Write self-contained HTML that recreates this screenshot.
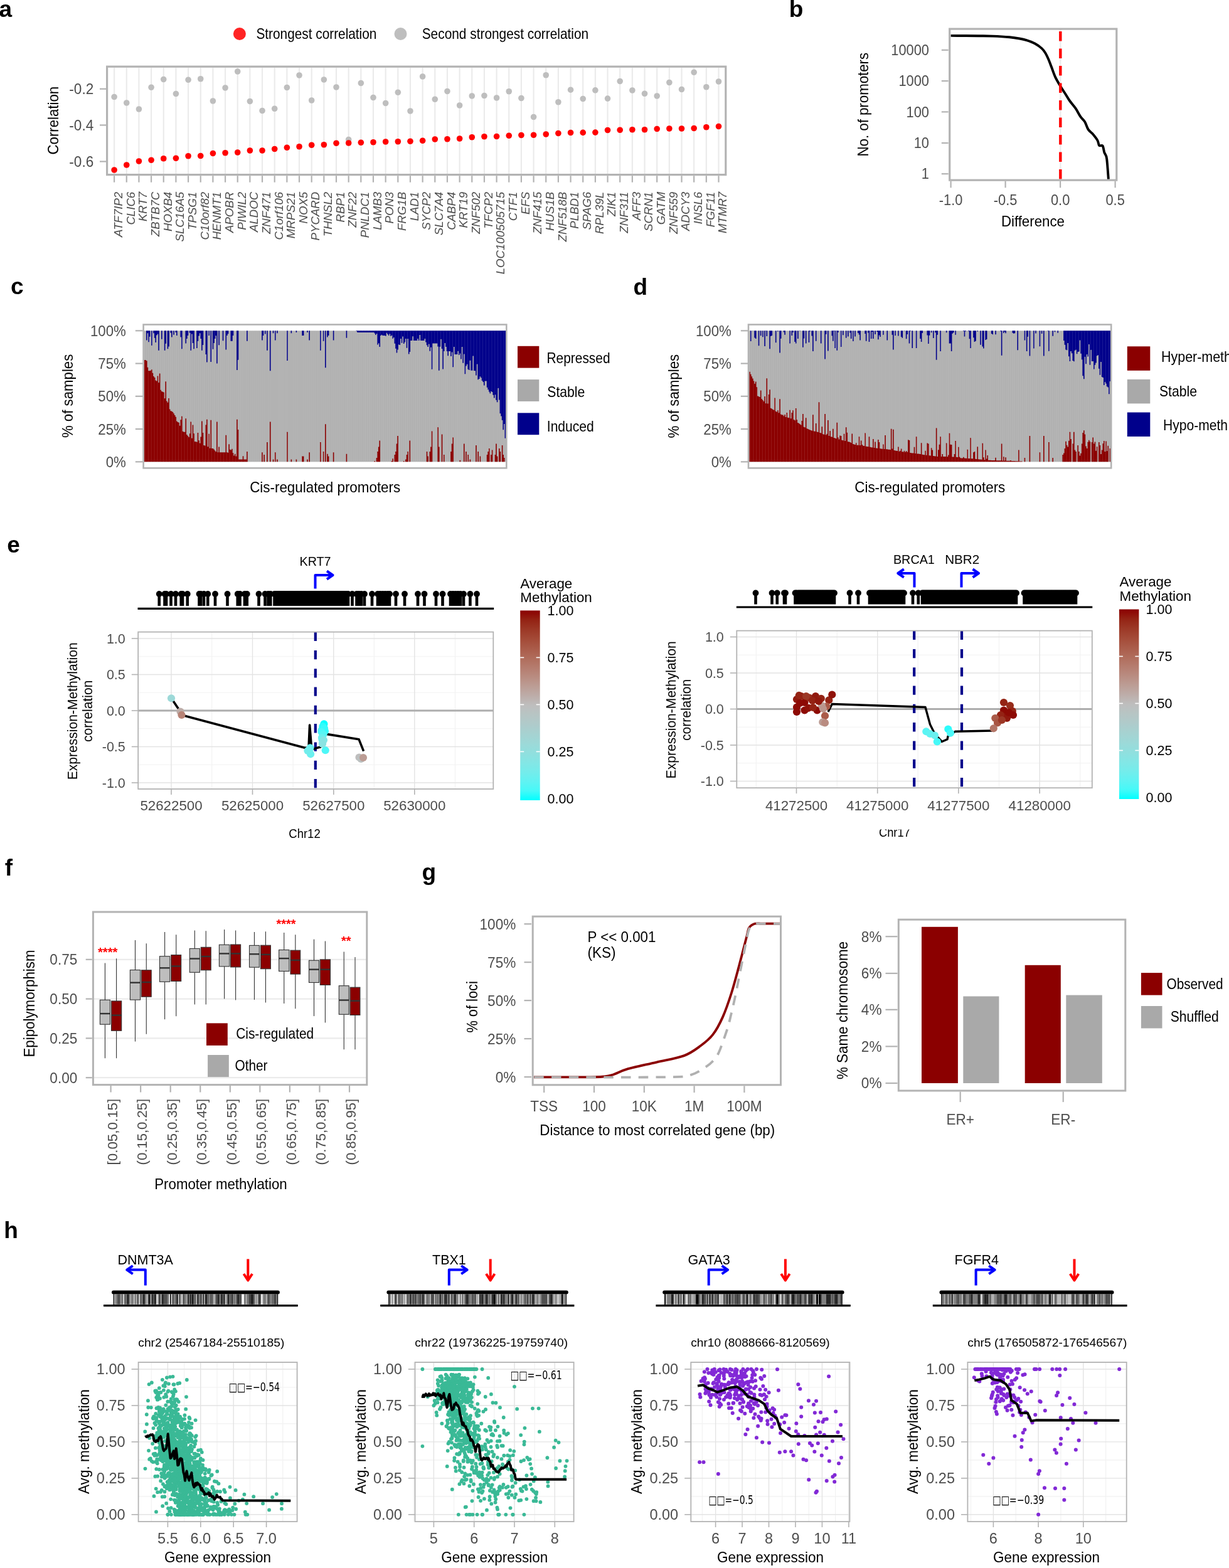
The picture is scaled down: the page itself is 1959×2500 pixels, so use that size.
<!DOCTYPE html>
<html><head><meta charset="utf-8"><title>Figure</title>
<style>html,body{margin:0;padding:0;background:#fff;}svg{display:block;}</style>
</head><body>
<svg width="1959" height="2500" viewBox="0 0 1959 2500" font-family="'Liberation Sans', Arial, Helvetica, sans-serif">
<rect x="0" y="0" width="1959" height="2500" fill="#FFFFFF"/>
<text x="-1.6" y="26.6" font-weight="bold" font-size="37">a</text>
<circle cx="381.9" cy="54" r="10" fill="#FF2424"/>
<text x="408.4" y="62.2" font-size="23.8" textLength="192" lengthAdjust="spacingAndGlyphs">Strongest correlation</text>
<circle cx="638.5" cy="54" r="10" fill="#BEBEBE"/>
<text x="672.7" y="62.2" font-size="23.8" textLength="265.5" lengthAdjust="spacingAndGlyphs">Second strongest correlation</text>
<line x1="182.1" y1="107.7" x2="182.1" y2="277.1" stroke="#EBEBEB" stroke-width="2.2"/>
<line x1="201.76" y1="107.7" x2="201.76" y2="277.1" stroke="#EBEBEB" stroke-width="2.2"/>
<line x1="221.42" y1="107.7" x2="221.42" y2="277.1" stroke="#EBEBEB" stroke-width="2.2"/>
<line x1="241.08" y1="107.7" x2="241.08" y2="277.1" stroke="#EBEBEB" stroke-width="2.2"/>
<line x1="260.74" y1="107.7" x2="260.74" y2="277.1" stroke="#EBEBEB" stroke-width="2.2"/>
<line x1="280.41" y1="107.7" x2="280.41" y2="277.1" stroke="#EBEBEB" stroke-width="2.2"/>
<line x1="300.07" y1="107.7" x2="300.07" y2="277.1" stroke="#EBEBEB" stroke-width="2.2"/>
<line x1="319.73" y1="107.7" x2="319.73" y2="277.1" stroke="#EBEBEB" stroke-width="2.2"/>
<line x1="339.39" y1="107.7" x2="339.39" y2="277.1" stroke="#EBEBEB" stroke-width="2.2"/>
<line x1="359.05" y1="107.7" x2="359.05" y2="277.1" stroke="#EBEBEB" stroke-width="2.2"/>
<line x1="378.71" y1="107.7" x2="378.71" y2="277.1" stroke="#EBEBEB" stroke-width="2.2"/>
<line x1="398.37" y1="107.7" x2="398.37" y2="277.1" stroke="#EBEBEB" stroke-width="2.2"/>
<line x1="418.03" y1="107.7" x2="418.03" y2="277.1" stroke="#EBEBEB" stroke-width="2.2"/>
<line x1="437.7" y1="107.7" x2="437.7" y2="277.1" stroke="#EBEBEB" stroke-width="2.2"/>
<line x1="457.36" y1="107.7" x2="457.36" y2="277.1" stroke="#EBEBEB" stroke-width="2.2"/>
<line x1="477.02" y1="107.7" x2="477.02" y2="277.1" stroke="#EBEBEB" stroke-width="2.2"/>
<line x1="496.68" y1="107.7" x2="496.68" y2="277.1" stroke="#EBEBEB" stroke-width="2.2"/>
<line x1="516.34" y1="107.7" x2="516.34" y2="277.1" stroke="#EBEBEB" stroke-width="2.2"/>
<line x1="536" y1="107.7" x2="536" y2="277.1" stroke="#EBEBEB" stroke-width="2.2"/>
<line x1="555.66" y1="107.7" x2="555.66" y2="277.1" stroke="#EBEBEB" stroke-width="2.2"/>
<line x1="575.32" y1="107.7" x2="575.32" y2="277.1" stroke="#EBEBEB" stroke-width="2.2"/>
<line x1="594.99" y1="107.7" x2="594.99" y2="277.1" stroke="#EBEBEB" stroke-width="2.2"/>
<line x1="614.65" y1="107.7" x2="614.65" y2="277.1" stroke="#EBEBEB" stroke-width="2.2"/>
<line x1="634.31" y1="107.7" x2="634.31" y2="277.1" stroke="#EBEBEB" stroke-width="2.2"/>
<line x1="653.97" y1="107.7" x2="653.97" y2="277.1" stroke="#EBEBEB" stroke-width="2.2"/>
<line x1="673.63" y1="107.7" x2="673.63" y2="277.1" stroke="#EBEBEB" stroke-width="2.2"/>
<line x1="693.29" y1="107.7" x2="693.29" y2="277.1" stroke="#EBEBEB" stroke-width="2.2"/>
<line x1="712.95" y1="107.7" x2="712.95" y2="277.1" stroke="#EBEBEB" stroke-width="2.2"/>
<line x1="732.61" y1="107.7" x2="732.61" y2="277.1" stroke="#EBEBEB" stroke-width="2.2"/>
<line x1="752.28" y1="107.7" x2="752.28" y2="277.1" stroke="#EBEBEB" stroke-width="2.2"/>
<line x1="771.94" y1="107.7" x2="771.94" y2="277.1" stroke="#EBEBEB" stroke-width="2.2"/>
<line x1="791.6" y1="107.7" x2="791.6" y2="277.1" stroke="#EBEBEB" stroke-width="2.2"/>
<line x1="811.26" y1="107.7" x2="811.26" y2="277.1" stroke="#EBEBEB" stroke-width="2.2"/>
<line x1="830.92" y1="107.7" x2="830.92" y2="277.1" stroke="#EBEBEB" stroke-width="2.2"/>
<line x1="850.58" y1="107.7" x2="850.58" y2="277.1" stroke="#EBEBEB" stroke-width="2.2"/>
<line x1="870.24" y1="107.7" x2="870.24" y2="277.1" stroke="#EBEBEB" stroke-width="2.2"/>
<line x1="889.9" y1="107.7" x2="889.9" y2="277.1" stroke="#EBEBEB" stroke-width="2.2"/>
<line x1="909.57" y1="107.7" x2="909.57" y2="277.1" stroke="#EBEBEB" stroke-width="2.2"/>
<line x1="929.23" y1="107.7" x2="929.23" y2="277.1" stroke="#EBEBEB" stroke-width="2.2"/>
<line x1="948.89" y1="107.7" x2="948.89" y2="277.1" stroke="#EBEBEB" stroke-width="2.2"/>
<line x1="968.55" y1="107.7" x2="968.55" y2="277.1" stroke="#EBEBEB" stroke-width="2.2"/>
<line x1="988.21" y1="107.7" x2="988.21" y2="277.1" stroke="#EBEBEB" stroke-width="2.2"/>
<line x1="1007.87" y1="107.7" x2="1007.87" y2="277.1" stroke="#EBEBEB" stroke-width="2.2"/>
<line x1="1027.53" y1="107.7" x2="1027.53" y2="277.1" stroke="#EBEBEB" stroke-width="2.2"/>
<line x1="1047.19" y1="107.7" x2="1047.19" y2="277.1" stroke="#EBEBEB" stroke-width="2.2"/>
<line x1="1066.86" y1="107.7" x2="1066.86" y2="277.1" stroke="#EBEBEB" stroke-width="2.2"/>
<line x1="1086.52" y1="107.7" x2="1086.52" y2="277.1" stroke="#EBEBEB" stroke-width="2.2"/>
<line x1="1106.18" y1="107.7" x2="1106.18" y2="277.1" stroke="#EBEBEB" stroke-width="2.2"/>
<line x1="1125.84" y1="107.7" x2="1125.84" y2="277.1" stroke="#EBEBEB" stroke-width="2.2"/>
<line x1="1145.5" y1="107.7" x2="1145.5" y2="277.1" stroke="#EBEBEB" stroke-width="2.2"/>
<circle cx="182.1" cy="154.5" r="4.8" fill="#BEBEBE"/>
<circle cx="201.76" cy="164" r="4.8" fill="#BEBEBE"/>
<circle cx="221.42" cy="174" r="4.8" fill="#BEBEBE"/>
<circle cx="241.08" cy="139.25" r="4.8" fill="#BEBEBE"/>
<circle cx="260.74" cy="126.5" r="4.8" fill="#BEBEBE"/>
<circle cx="280.41" cy="149.5" r="4.8" fill="#BEBEBE"/>
<circle cx="300.07" cy="127.25" r="4.8" fill="#BEBEBE"/>
<circle cx="319.73" cy="125.75" r="4.8" fill="#BEBEBE"/>
<circle cx="339.39" cy="161" r="4.8" fill="#BEBEBE"/>
<circle cx="359.05" cy="140" r="4.8" fill="#BEBEBE"/>
<circle cx="378.71" cy="114" r="4.8" fill="#BEBEBE"/>
<circle cx="398.37" cy="161.5" r="4.8" fill="#BEBEBE"/>
<circle cx="418.03" cy="176.5" r="4.8" fill="#BEBEBE"/>
<circle cx="437.7" cy="173.25" r="4.8" fill="#BEBEBE"/>
<circle cx="457.36" cy="139.5" r="4.8" fill="#BEBEBE"/>
<circle cx="477.02" cy="120" r="4.8" fill="#BEBEBE"/>
<circle cx="496.68" cy="160" r="4.8" fill="#BEBEBE"/>
<circle cx="516.34" cy="127" r="4.8" fill="#BEBEBE"/>
<circle cx="536" cy="139" r="4.8" fill="#BEBEBE"/>
<circle cx="555.66" cy="222.5" r="4.8" fill="#BEBEBE"/>
<circle cx="575.32" cy="132.5" r="4.8" fill="#BEBEBE"/>
<circle cx="594.99" cy="155.5" r="4.8" fill="#BEBEBE"/>
<circle cx="614.65" cy="164.5" r="4.8" fill="#BEBEBE"/>
<circle cx="634.31" cy="147.25" r="4.8" fill="#BEBEBE"/>
<circle cx="653.97" cy="177" r="4.8" fill="#BEBEBE"/>
<circle cx="673.63" cy="122" r="4.8" fill="#BEBEBE"/>
<circle cx="693.29" cy="158.25" r="4.8" fill="#BEBEBE"/>
<circle cx="712.95" cy="145.5" r="4.8" fill="#BEBEBE"/>
<circle cx="732.61" cy="168" r="4.8" fill="#BEBEBE"/>
<circle cx="752.28" cy="153" r="4.8" fill="#BEBEBE"/>
<circle cx="771.94" cy="152.5" r="4.8" fill="#BEBEBE"/>
<circle cx="791.6" cy="156" r="4.8" fill="#BEBEBE"/>
<circle cx="811.26" cy="145.75" r="4.8" fill="#BEBEBE"/>
<circle cx="830.92" cy="156.5" r="4.8" fill="#BEBEBE"/>
<circle cx="850.58" cy="186.5" r="4.8" fill="#BEBEBE"/>
<circle cx="870.24" cy="119.75" r="4.8" fill="#BEBEBE"/>
<circle cx="889.9" cy="162.75" r="4.8" fill="#BEBEBE"/>
<circle cx="909.57" cy="143.2" r="4.8" fill="#BEBEBE"/>
<circle cx="929.23" cy="157.5" r="4.8" fill="#BEBEBE"/>
<circle cx="948.89" cy="143.9" r="4.8" fill="#BEBEBE"/>
<circle cx="968.55" cy="157.1" r="4.8" fill="#BEBEBE"/>
<circle cx="988.21" cy="129.5" r="4.8" fill="#BEBEBE"/>
<circle cx="1007.87" cy="144" r="4.8" fill="#BEBEBE"/>
<circle cx="1027.53" cy="149.25" r="4.8" fill="#BEBEBE"/>
<circle cx="1047.19" cy="153" r="4.8" fill="#BEBEBE"/>
<circle cx="1066.86" cy="131.5" r="4.8" fill="#BEBEBE"/>
<circle cx="1086.52" cy="142.5" r="4.8" fill="#BEBEBE"/>
<circle cx="1106.18" cy="115.25" r="4.8" fill="#BEBEBE"/>
<circle cx="1125.84" cy="138.75" r="4.8" fill="#BEBEBE"/>
<circle cx="1145.5" cy="130" r="4.8" fill="#BEBEBE"/>
<circle cx="182.1" cy="271" r="4.8" fill="#FF0000"/>
<circle cx="201.76" cy="263" r="4.8" fill="#FF0000"/>
<circle cx="221.42" cy="257" r="4.8" fill="#FF0000"/>
<circle cx="241.08" cy="255.25" r="4.8" fill="#FF0000"/>
<circle cx="260.74" cy="252.75" r="4.8" fill="#FF0000"/>
<circle cx="280.41" cy="252.25" r="4.8" fill="#FF0000"/>
<circle cx="300.07" cy="248.75" r="4.8" fill="#FF0000"/>
<circle cx="319.73" cy="248.5" r="4.8" fill="#FF0000"/>
<circle cx="339.39" cy="244.5" r="4.8" fill="#FF0000"/>
<circle cx="359.05" cy="243.75" r="4.8" fill="#FF0000"/>
<circle cx="378.71" cy="243" r="4.8" fill="#FF0000"/>
<circle cx="398.37" cy="240" r="4.8" fill="#FF0000"/>
<circle cx="418.03" cy="240" r="4.8" fill="#FF0000"/>
<circle cx="437.7" cy="237.5" r="4.8" fill="#FF0000"/>
<circle cx="457.36" cy="235.25" r="4.8" fill="#FF0000"/>
<circle cx="477.02" cy="233.75" r="4.8" fill="#FF0000"/>
<circle cx="496.68" cy="231.25" r="4.8" fill="#FF0000"/>
<circle cx="516.34" cy="230.75" r="4.8" fill="#FF0000"/>
<circle cx="536" cy="228.25" r="4.8" fill="#FF0000"/>
<circle cx="555.66" cy="228" r="4.8" fill="#FF0000"/>
<circle cx="575.32" cy="227.25" r="4.8" fill="#FF0000"/>
<circle cx="594.99" cy="226.75" r="4.8" fill="#FF0000"/>
<circle cx="614.65" cy="226" r="4.8" fill="#FF0000"/>
<circle cx="634.31" cy="225.75" r="4.8" fill="#FF0000"/>
<circle cx="653.97" cy="225.25" r="4.8" fill="#FF0000"/>
<circle cx="673.63" cy="224.25" r="4.8" fill="#FF0000"/>
<circle cx="693.29" cy="222" r="4.8" fill="#FF0000"/>
<circle cx="712.95" cy="221.75" r="4.8" fill="#FF0000"/>
<circle cx="732.61" cy="221" r="4.8" fill="#FF0000"/>
<circle cx="752.28" cy="218.75" r="4.8" fill="#FF0000"/>
<circle cx="771.94" cy="217.75" r="4.8" fill="#FF0000"/>
<circle cx="791.6" cy="217.5" r="4.8" fill="#FF0000"/>
<circle cx="811.26" cy="216.25" r="4.8" fill="#FF0000"/>
<circle cx="830.92" cy="215.5" r="4.8" fill="#FF0000"/>
<circle cx="850.58" cy="215.25" r="4.8" fill="#FF0000"/>
<circle cx="870.24" cy="214" r="4.8" fill="#FF0000"/>
<circle cx="889.9" cy="212.5" r="4.8" fill="#FF0000"/>
<circle cx="909.57" cy="211.5" r="4.8" fill="#FF0000"/>
<circle cx="929.23" cy="211.4" r="4.8" fill="#FF0000"/>
<circle cx="948.89" cy="211.1" r="4.8" fill="#FF0000"/>
<circle cx="968.55" cy="207.5" r="4.8" fill="#FF0000"/>
<circle cx="988.21" cy="207.25" r="4.8" fill="#FF0000"/>
<circle cx="1007.87" cy="206.75" r="4.8" fill="#FF0000"/>
<circle cx="1027.53" cy="206.75" r="4.8" fill="#FF0000"/>
<circle cx="1047.19" cy="205.5" r="4.8" fill="#FF0000"/>
<circle cx="1066.86" cy="205" r="4.8" fill="#FF0000"/>
<circle cx="1086.52" cy="205" r="4.8" fill="#FF0000"/>
<circle cx="1106.18" cy="204.5" r="4.8" fill="#FF0000"/>
<circle cx="1125.84" cy="202.75" r="4.8" fill="#FF0000"/>
<circle cx="1145.5" cy="201.5" r="4.8" fill="#FF0000"/>
<rect x="170.6" y="106.2" width="986.2" height="172.4" fill="none" stroke="#B3B3B3" stroke-width="3.2"/>
<line x1="159" y1="141.75" x2="169" y2="141.75" stroke="#B3B3B3" stroke-width="2.2"/>
<text transform="translate(149.2 149.95) scale(0.98 1)" text-anchor="end" fill="#4D4D4D" font-size="23">-0.2</text>
<line x1="159" y1="199.5" x2="169" y2="199.5" stroke="#B3B3B3" stroke-width="2.2"/>
<text transform="translate(149.2 207.7) scale(0.98 1)" text-anchor="end" fill="#4D4D4D" font-size="23">-0.4</text>
<line x1="159" y1="257.5" x2="169" y2="257.5" stroke="#B3B3B3" stroke-width="2.2"/>
<text transform="translate(149.2 265.7) scale(0.98 1)" text-anchor="end" fill="#4D4D4D" font-size="23">-0.6</text>
<text transform="translate(93.2 192.2) rotate(-90)" text-anchor="middle" font-size="23.2" textLength="108.6" lengthAdjust="spacingAndGlyphs">Correlation</text>
<line x1="182.1" y1="280.2" x2="182.1" y2="290.7" stroke="#B3B3B3" stroke-width="2.2"/>
<text transform="translate(194.9 305.8) rotate(-90) scale(0.97 1)" text-anchor="end" fill="#4D4D4D" font-style="italic" font-size="19.2">ATF7IP2</text>
<line x1="201.76" y1="280.2" x2="201.76" y2="290.7" stroke="#B3B3B3" stroke-width="2.2"/>
<text transform="translate(214.56 305.8) rotate(-90) scale(0.97 1)" text-anchor="end" fill="#4D4D4D" font-style="italic" font-size="19.2">CLIC6</text>
<line x1="221.42" y1="280.2" x2="221.42" y2="290.7" stroke="#B3B3B3" stroke-width="2.2"/>
<text transform="translate(234.22 305.8) rotate(-90) scale(0.97 1)" text-anchor="end" fill="#4D4D4D" font-style="italic" font-size="19.2">KRT7</text>
<line x1="241.08" y1="280.2" x2="241.08" y2="290.7" stroke="#B3B3B3" stroke-width="2.2"/>
<text transform="translate(253.88 305.8) rotate(-90) scale(0.97 1)" text-anchor="end" fill="#4D4D4D" font-style="italic" font-size="19.2">ZBTB7C</text>
<line x1="260.74" y1="280.2" x2="260.74" y2="290.7" stroke="#B3B3B3" stroke-width="2.2"/>
<text transform="translate(273.54 305.8) rotate(-90) scale(0.97 1)" text-anchor="end" fill="#4D4D4D" font-style="italic" font-size="19.2">HOXB4</text>
<line x1="280.41" y1="280.2" x2="280.41" y2="290.7" stroke="#B3B3B3" stroke-width="2.2"/>
<text transform="translate(293.21 305.8) rotate(-90) scale(0.97 1)" text-anchor="end" fill="#4D4D4D" font-style="italic" font-size="19.2">SLC16A5</text>
<line x1="300.07" y1="280.2" x2="300.07" y2="290.7" stroke="#B3B3B3" stroke-width="2.2"/>
<text transform="translate(312.87 305.8) rotate(-90) scale(0.97 1)" text-anchor="end" fill="#4D4D4D" font-style="italic" font-size="19.2">TPSG1</text>
<line x1="319.73" y1="280.2" x2="319.73" y2="290.7" stroke="#B3B3B3" stroke-width="2.2"/>
<text transform="translate(332.53 305.8) rotate(-90) scale(0.97 1)" text-anchor="end" fill="#4D4D4D" font-style="italic" font-size="19.2">C10orf82</text>
<line x1="339.39" y1="280.2" x2="339.39" y2="290.7" stroke="#B3B3B3" stroke-width="2.2"/>
<text transform="translate(352.19 305.8) rotate(-90) scale(0.97 1)" text-anchor="end" fill="#4D4D4D" font-style="italic" font-size="19.2">HENMT1</text>
<line x1="359.05" y1="280.2" x2="359.05" y2="290.7" stroke="#B3B3B3" stroke-width="2.2"/>
<text transform="translate(371.85 305.8) rotate(-90) scale(0.97 1)" text-anchor="end" fill="#4D4D4D" font-style="italic" font-size="19.2">APOBR</text>
<line x1="378.71" y1="280.2" x2="378.71" y2="290.7" stroke="#B3B3B3" stroke-width="2.2"/>
<text transform="translate(391.51 305.8) rotate(-90) scale(0.97 1)" text-anchor="end" fill="#4D4D4D" font-style="italic" font-size="19.2">PIWIL2</text>
<line x1="398.37" y1="280.2" x2="398.37" y2="290.7" stroke="#B3B3B3" stroke-width="2.2"/>
<text transform="translate(411.17 305.8) rotate(-90) scale(0.97 1)" text-anchor="end" fill="#4D4D4D" font-style="italic" font-size="19.2">ALDOC</text>
<line x1="418.03" y1="280.2" x2="418.03" y2="290.7" stroke="#B3B3B3" stroke-width="2.2"/>
<text transform="translate(430.83 305.8) rotate(-90) scale(0.97 1)" text-anchor="end" fill="#4D4D4D" font-style="italic" font-size="19.2">ZNF471</text>
<line x1="437.7" y1="280.2" x2="437.7" y2="290.7" stroke="#B3B3B3" stroke-width="2.2"/>
<text transform="translate(450.5 305.8) rotate(-90) scale(0.97 1)" text-anchor="end" fill="#4D4D4D" font-style="italic" font-size="19.2">C1orf106</text>
<line x1="457.36" y1="280.2" x2="457.36" y2="290.7" stroke="#B3B3B3" stroke-width="2.2"/>
<text transform="translate(470.16 305.8) rotate(-90) scale(0.97 1)" text-anchor="end" fill="#4D4D4D" font-style="italic" font-size="19.2">MRPS21</text>
<line x1="477.02" y1="280.2" x2="477.02" y2="290.7" stroke="#B3B3B3" stroke-width="2.2"/>
<text transform="translate(489.82 305.8) rotate(-90) scale(0.97 1)" text-anchor="end" fill="#4D4D4D" font-style="italic" font-size="19.2">NOX5</text>
<line x1="496.68" y1="280.2" x2="496.68" y2="290.7" stroke="#B3B3B3" stroke-width="2.2"/>
<text transform="translate(509.48 305.8) rotate(-90) scale(0.97 1)" text-anchor="end" fill="#4D4D4D" font-style="italic" font-size="19.2">PYCARD</text>
<line x1="516.34" y1="280.2" x2="516.34" y2="290.7" stroke="#B3B3B3" stroke-width="2.2"/>
<text transform="translate(529.14 305.8) rotate(-90) scale(0.97 1)" text-anchor="end" fill="#4D4D4D" font-style="italic" font-size="19.2">THNSL2</text>
<line x1="536" y1="280.2" x2="536" y2="290.7" stroke="#B3B3B3" stroke-width="2.2"/>
<text transform="translate(548.8 305.8) rotate(-90) scale(0.97 1)" text-anchor="end" fill="#4D4D4D" font-style="italic" font-size="19.2">RBP1</text>
<line x1="555.66" y1="280.2" x2="555.66" y2="290.7" stroke="#B3B3B3" stroke-width="2.2"/>
<text transform="translate(568.46 305.8) rotate(-90) scale(0.97 1)" text-anchor="end" fill="#4D4D4D" font-style="italic" font-size="19.2">ZNF22</text>
<line x1="575.32" y1="280.2" x2="575.32" y2="290.7" stroke="#B3B3B3" stroke-width="2.2"/>
<text transform="translate(588.12 305.8) rotate(-90) scale(0.97 1)" text-anchor="end" fill="#4D4D4D" font-style="italic" font-size="19.2">PNLDC1</text>
<line x1="594.99" y1="280.2" x2="594.99" y2="290.7" stroke="#B3B3B3" stroke-width="2.2"/>
<text transform="translate(607.79 305.8) rotate(-90) scale(0.97 1)" text-anchor="end" fill="#4D4D4D" font-style="italic" font-size="19.2">LAMB3</text>
<line x1="614.65" y1="280.2" x2="614.65" y2="290.7" stroke="#B3B3B3" stroke-width="2.2"/>
<text transform="translate(627.45 305.8) rotate(-90) scale(0.97 1)" text-anchor="end" fill="#4D4D4D" font-style="italic" font-size="19.2">PON3</text>
<line x1="634.31" y1="280.2" x2="634.31" y2="290.7" stroke="#B3B3B3" stroke-width="2.2"/>
<text transform="translate(647.11 305.8) rotate(-90) scale(0.97 1)" text-anchor="end" fill="#4D4D4D" font-style="italic" font-size="19.2">FRG1B</text>
<line x1="653.97" y1="280.2" x2="653.97" y2="290.7" stroke="#B3B3B3" stroke-width="2.2"/>
<text transform="translate(666.77 305.8) rotate(-90) scale(0.97 1)" text-anchor="end" fill="#4D4D4D" font-style="italic" font-size="19.2">LAD1</text>
<line x1="673.63" y1="280.2" x2="673.63" y2="290.7" stroke="#B3B3B3" stroke-width="2.2"/>
<text transform="translate(686.43 305.8) rotate(-90) scale(0.97 1)" text-anchor="end" fill="#4D4D4D" font-style="italic" font-size="19.2">SYCP2</text>
<line x1="693.29" y1="280.2" x2="693.29" y2="290.7" stroke="#B3B3B3" stroke-width="2.2"/>
<text transform="translate(706.09 305.8) rotate(-90) scale(0.97 1)" text-anchor="end" fill="#4D4D4D" font-style="italic" font-size="19.2">SLC7A4</text>
<line x1="712.95" y1="280.2" x2="712.95" y2="290.7" stroke="#B3B3B3" stroke-width="2.2"/>
<text transform="translate(725.75 305.8) rotate(-90) scale(0.97 1)" text-anchor="end" fill="#4D4D4D" font-style="italic" font-size="19.2">CABP4</text>
<line x1="732.61" y1="280.2" x2="732.61" y2="290.7" stroke="#B3B3B3" stroke-width="2.2"/>
<text transform="translate(745.41 305.8) rotate(-90) scale(0.97 1)" text-anchor="end" fill="#4D4D4D" font-style="italic" font-size="19.2">KRT19</text>
<line x1="752.28" y1="280.2" x2="752.28" y2="290.7" stroke="#B3B3B3" stroke-width="2.2"/>
<text transform="translate(765.08 305.8) rotate(-90) scale(0.97 1)" text-anchor="end" fill="#4D4D4D" font-style="italic" font-size="19.2">ZNF502</text>
<line x1="771.94" y1="280.2" x2="771.94" y2="290.7" stroke="#B3B3B3" stroke-width="2.2"/>
<text transform="translate(784.74 305.8) rotate(-90) scale(0.97 1)" text-anchor="end" fill="#4D4D4D" font-style="italic" font-size="19.2">TFCP2</text>
<line x1="791.6" y1="280.2" x2="791.6" y2="290.7" stroke="#B3B3B3" stroke-width="2.2"/>
<text transform="translate(804.4 305.8) rotate(-90) scale(0.97 1)" text-anchor="end" fill="#4D4D4D" font-style="italic" font-size="19.2">LOC100505715</text>
<line x1="811.26" y1="280.2" x2="811.26" y2="290.7" stroke="#B3B3B3" stroke-width="2.2"/>
<text transform="translate(824.06 305.8) rotate(-90) scale(0.97 1)" text-anchor="end" fill="#4D4D4D" font-style="italic" font-size="19.2">CTF1</text>
<line x1="830.92" y1="280.2" x2="830.92" y2="290.7" stroke="#B3B3B3" stroke-width="2.2"/>
<text transform="translate(843.72 305.8) rotate(-90) scale(0.97 1)" text-anchor="end" fill="#4D4D4D" font-style="italic" font-size="19.2">EFS</text>
<line x1="850.58" y1="280.2" x2="850.58" y2="290.7" stroke="#B3B3B3" stroke-width="2.2"/>
<text transform="translate(863.38 305.8) rotate(-90) scale(0.97 1)" text-anchor="end" fill="#4D4D4D" font-style="italic" font-size="19.2">ZNF415</text>
<line x1="870.24" y1="280.2" x2="870.24" y2="290.7" stroke="#B3B3B3" stroke-width="2.2"/>
<text transform="translate(883.04 305.8) rotate(-90) scale(0.97 1)" text-anchor="end" fill="#4D4D4D" font-style="italic" font-size="19.2">HUS1B</text>
<line x1="889.9" y1="280.2" x2="889.9" y2="290.7" stroke="#B3B3B3" stroke-width="2.2"/>
<text transform="translate(902.7 305.8) rotate(-90) scale(0.97 1)" text-anchor="end" fill="#4D4D4D" font-style="italic" font-size="19.2">ZNF518B</text>
<line x1="909.57" y1="280.2" x2="909.57" y2="290.7" stroke="#B3B3B3" stroke-width="2.2"/>
<text transform="translate(922.37 305.8) rotate(-90) scale(0.97 1)" text-anchor="end" fill="#4D4D4D" font-style="italic" font-size="19.2">PLBD1</text>
<line x1="929.23" y1="280.2" x2="929.23" y2="290.7" stroke="#B3B3B3" stroke-width="2.2"/>
<text transform="translate(942.03 305.8) rotate(-90) scale(0.97 1)" text-anchor="end" fill="#4D4D4D" font-style="italic" font-size="19.2">SPAG6</text>
<line x1="948.89" y1="280.2" x2="948.89" y2="290.7" stroke="#B3B3B3" stroke-width="2.2"/>
<text transform="translate(961.69 305.8) rotate(-90) scale(0.97 1)" text-anchor="end" fill="#4D4D4D" font-style="italic" font-size="19.2">RPL39L</text>
<line x1="968.55" y1="280.2" x2="968.55" y2="290.7" stroke="#B3B3B3" stroke-width="2.2"/>
<text transform="translate(981.35 305.8) rotate(-90) scale(0.97 1)" text-anchor="end" fill="#4D4D4D" font-style="italic" font-size="19.2">ZIK1</text>
<line x1="988.21" y1="280.2" x2="988.21" y2="290.7" stroke="#B3B3B3" stroke-width="2.2"/>
<text transform="translate(1001.01 305.8) rotate(-90) scale(0.97 1)" text-anchor="end" fill="#4D4D4D" font-style="italic" font-size="19.2">ZNF311</text>
<line x1="1007.87" y1="280.2" x2="1007.87" y2="290.7" stroke="#B3B3B3" stroke-width="2.2"/>
<text transform="translate(1020.67 305.8) rotate(-90) scale(0.97 1)" text-anchor="end" fill="#4D4D4D" font-style="italic" font-size="19.2">AFF3</text>
<line x1="1027.53" y1="280.2" x2="1027.53" y2="290.7" stroke="#B3B3B3" stroke-width="2.2"/>
<text transform="translate(1040.33 305.8) rotate(-90) scale(0.97 1)" text-anchor="end" fill="#4D4D4D" font-style="italic" font-size="19.2">SCRN1</text>
<line x1="1047.19" y1="280.2" x2="1047.19" y2="290.7" stroke="#B3B3B3" stroke-width="2.2"/>
<text transform="translate(1059.99 305.8) rotate(-90) scale(0.97 1)" text-anchor="end" fill="#4D4D4D" font-style="italic" font-size="19.2">GATM</text>
<line x1="1066.86" y1="280.2" x2="1066.86" y2="290.7" stroke="#B3B3B3" stroke-width="2.2"/>
<text transform="translate(1079.66 305.8) rotate(-90) scale(0.97 1)" text-anchor="end" fill="#4D4D4D" font-style="italic" font-size="19.2">ZNF559</text>
<line x1="1086.52" y1="280.2" x2="1086.52" y2="290.7" stroke="#B3B3B3" stroke-width="2.2"/>
<text transform="translate(1099.32 305.8) rotate(-90) scale(0.97 1)" text-anchor="end" fill="#4D4D4D" font-style="italic" font-size="19.2">ADCY3</text>
<line x1="1106.18" y1="280.2" x2="1106.18" y2="290.7" stroke="#B3B3B3" stroke-width="2.2"/>
<text transform="translate(1118.98 305.8) rotate(-90) scale(0.97 1)" text-anchor="end" fill="#4D4D4D" font-style="italic" font-size="19.2">INSL6</text>
<line x1="1125.84" y1="280.2" x2="1125.84" y2="290.7" stroke="#B3B3B3" stroke-width="2.2"/>
<text transform="translate(1138.64 305.8) rotate(-90) scale(0.97 1)" text-anchor="end" fill="#4D4D4D" font-style="italic" font-size="19.2">FGF11</text>
<line x1="1145.5" y1="280.2" x2="1145.5" y2="290.7" stroke="#B3B3B3" stroke-width="2.2"/>
<text transform="translate(1158.3 305.8) rotate(-90) scale(0.97 1)" text-anchor="end" fill="#4D4D4D" font-style="italic" font-size="19.2">MTMR7</text>
<text x="1257.7" y="26.6" font-weight="bold" font-size="37">b</text>
<line x1="1690.3" y1="46.1" x2="1690.3" y2="287.2" stroke="#EBEBEB" stroke-width="2.2"/>
<path d="M1515.6 56.9C1523 56.95 1548.87 57.08 1560 57.2C1571.13 57.32 1574.18 57.25 1582.4 57.6C1590.62 57.95 1602.2 58.65 1609.3 59.3C1616.4 59.95 1620.5 60.68 1625 61.5C1629.5 62.32 1632.18 62.87 1636.3 64.2C1640.42 65.53 1645.67 67.35 1649.7 69.5C1653.73 71.65 1657.78 74.68 1660.5 77.1C1663.22 79.52 1664.25 81.18 1666 84C1667.75 86.82 1669.33 90.2 1671 94C1672.67 97.8 1674.17 102.03 1676 106.8C1677.83 111.57 1679.62 117.48 1682 122.6C1684.38 127.72 1687.6 132.97 1690.3 137.5C1693 142.03 1695.77 145.97 1698.2 149.8C1700.63 153.63 1702.2 156.68 1704.9 160.5C1707.6 164.32 1711.48 168.42 1714.4 172.7C1717.32 176.98 1719.93 182.6 1722.4 186.2C1724.87 189.8 1727.17 190.93 1729.2 194.3C1731.23 197.67 1732.58 203.27 1734.6 206.4C1736.62 209.53 1738.83 210.18 1741.3 213.1C1743.77 216.02 1747.6 220.75 1749.4 223.9C1751.2 227.05 1750.75 230.57 1752.1 232C1753.45 233.43 1756.15 230.7 1757.5 232.5C1758.85 234.3 1759.53 240.63 1760.2 242.8C1760.87 244.97 1760.83 243.72 1761.5 245.5C1762.17 247.28 1763.3 246.77 1764.2 253.5C1765.1 260.23 1766.45 280.5 1766.9 285.9" fill="none" stroke="#000" stroke-width="3.9" stroke-linejoin="round"/>
<line x1="1690.3" y1="49.9" x2="1690.3" y2="286" stroke="#FF0000" stroke-width="4.4" stroke-dasharray="15.7 11.8"/>
<rect x="1513.7" y="46.1" width="266.1" height="241.1" fill="none" stroke="#B3B3B3" stroke-width="3.2"/>
<line x1="1500.8" y1="79.8" x2="1511.6" y2="79.8" stroke="#B3B3B3" stroke-width="2.2"/>
<text transform="translate(1481 88) scale(0.95 1)" text-anchor="end" fill="#4D4D4D" font-size="23">10000</text>
<line x1="1500.8" y1="129.1" x2="1511.6" y2="129.1" stroke="#B3B3B3" stroke-width="2.2"/>
<text transform="translate(1481 137.3) scale(0.95 1)" text-anchor="end" fill="#4D4D4D" font-size="23">1000</text>
<line x1="1500.8" y1="178.4" x2="1511.6" y2="178.4" stroke="#B3B3B3" stroke-width="2.2"/>
<text transform="translate(1481 186.6) scale(0.95 1)" text-anchor="end" fill="#4D4D4D" font-size="23">100</text>
<line x1="1500.8" y1="228" x2="1511.6" y2="228" stroke="#B3B3B3" stroke-width="2.2"/>
<text transform="translate(1481 236.2) scale(0.95 1)" text-anchor="end" fill="#4D4D4D" font-size="23">10</text>
<line x1="1500.8" y1="277.2" x2="1511.6" y2="277.2" stroke="#B3B3B3" stroke-width="2.2"/>
<text transform="translate(1481 285.4) scale(0.95 1)" text-anchor="end" fill="#4D4D4D" font-size="23">1</text>
<line x1="1515.6" y1="288.7" x2="1515.6" y2="299.3" stroke="#B3B3B3" stroke-width="2.2"/>
<text transform="translate(1515.6 327) scale(0.95 1)" text-anchor="middle" fill="#4D4D4D" font-size="23">-1.0</text>
<line x1="1602.6" y1="288.7" x2="1602.6" y2="299.3" stroke="#B3B3B3" stroke-width="2.2"/>
<text transform="translate(1602.6 327) scale(0.95 1)" text-anchor="middle" fill="#4D4D4D" font-size="23">-0.5</text>
<line x1="1690.1" y1="288.7" x2="1690.1" y2="299.3" stroke="#B3B3B3" stroke-width="2.2"/>
<text transform="translate(1690.1 327) scale(0.95 1)" text-anchor="middle" fill="#4D4D4D" font-size="23">0.0</text>
<line x1="1777.6" y1="288.7" x2="1777.6" y2="299.3" stroke="#B3B3B3" stroke-width="2.2"/>
<text transform="translate(1777.6 327) scale(0.95 1)" text-anchor="middle" fill="#4D4D4D" font-size="23">0.5</text>
<text x="1646.4" y="360.7" text-anchor="middle" font-size="23.8" textLength="101" lengthAdjust="spacingAndGlyphs">Difference</text>
<text transform="translate(1384 166.7) rotate(-90)" text-anchor="middle" font-size="23.8" textLength="165.6" lengthAdjust="spacingAndGlyphs">No. of promoters</text>
<text x="16.9" y="469.1" font-weight="bold" font-size="37">c</text>
<rect x="229.8" y="527.3" width="576.4" height="209" fill="#B1B1B1"/>
<path d="M230.1 527.3V736.3M233.3 527.3V736.3M236.5 527.3V736.3M239.71 527.3V736.3M242.91 527.3V736.3M246.11 527.3V736.3M249.31 527.3V736.3M252.52 527.3V736.3M255.72 527.3V736.3M258.92 527.3V736.3M262.12 527.3V736.3M265.32 527.3V736.3M268.53 527.3V736.3M271.73 527.3V736.3M274.93 527.3V736.3M278.13 527.3V736.3M281.34 527.3V736.3M284.54 527.3V736.3M287.74 527.3V736.3M290.94 527.3V736.3M294.14 527.3V736.3M297.35 527.3V736.3M300.55 527.3V736.3M303.75 527.3V736.3M306.95 527.3V736.3M310.16 527.3V736.3M313.36 527.3V736.3M316.56 527.3V736.3M319.76 527.3V736.3M322.96 527.3V736.3M326.17 527.3V736.3M329.37 527.3V736.3M332.57 527.3V736.3M335.77 527.3V736.3M338.98 527.3V736.3M342.18 527.3V736.3M345.38 527.3V736.3M348.58 527.3V736.3M351.78 527.3V736.3M354.99 527.3V736.3M358.19 527.3V736.3M361.39 527.3V736.3M364.59 527.3V736.3M367.8 527.3V736.3M371 527.3V736.3M374.2 527.3V736.3M377.4 527.3V736.3M380.6 527.3V736.3M383.81 527.3V736.3M387.01 527.3V736.3M390.21 527.3V736.3M393.41 527.3V736.3M396.62 527.3V736.3M399.82 527.3V736.3M403.02 527.3V736.3M406.22 527.3V736.3M409.42 527.3V736.3M412.63 527.3V736.3M415.83 527.3V736.3M419.03 527.3V736.3M422.23 527.3V736.3M425.44 527.3V736.3M428.64 527.3V736.3M431.84 527.3V736.3M435.04 527.3V736.3M438.24 527.3V736.3M441.45 527.3V736.3M444.65 527.3V736.3M447.85 527.3V736.3M451.05 527.3V736.3M454.26 527.3V736.3M457.46 527.3V736.3M460.66 527.3V736.3M463.86 527.3V736.3M467.06 527.3V736.3M470.27 527.3V736.3M473.47 527.3V736.3M476.67 527.3V736.3M479.87 527.3V736.3M483.08 527.3V736.3M486.28 527.3V736.3M489.48 527.3V736.3M492.68 527.3V736.3M495.88 527.3V736.3M499.09 527.3V736.3M502.29 527.3V736.3M505.49 527.3V736.3M508.69 527.3V736.3M511.9 527.3V736.3M515.1 527.3V736.3M518.3 527.3V736.3M521.5 527.3V736.3M524.7 527.3V736.3M527.91 527.3V736.3M531.11 527.3V736.3M534.31 527.3V736.3M537.51 527.3V736.3M540.72 527.3V736.3M543.92 527.3V736.3M547.12 527.3V736.3M550.32 527.3V736.3M553.52 527.3V736.3M556.73 527.3V736.3M559.93 527.3V736.3M563.13 527.3V736.3M566.33 527.3V736.3M569.54 527.3V736.3M572.74 527.3V736.3M575.94 527.3V736.3M579.14 527.3V736.3M582.34 527.3V736.3M585.55 527.3V736.3M588.75 527.3V736.3M591.95 527.3V736.3M595.15 527.3V736.3M598.36 527.3V736.3M601.56 527.3V736.3M604.76 527.3V736.3M607.96 527.3V736.3M611.16 527.3V736.3M614.37 527.3V736.3M617.57 527.3V736.3M620.77 527.3V736.3M623.97 527.3V736.3M627.18 527.3V736.3M630.38 527.3V736.3M633.58 527.3V736.3M636.78 527.3V736.3M639.98 527.3V736.3M643.19 527.3V736.3M646.39 527.3V736.3M649.59 527.3V736.3M652.79 527.3V736.3M656 527.3V736.3M659.2 527.3V736.3M662.4 527.3V736.3M665.6 527.3V736.3M668.8 527.3V736.3M672.01 527.3V736.3M675.21 527.3V736.3M678.41 527.3V736.3M681.61 527.3V736.3M684.82 527.3V736.3M688.02 527.3V736.3M691.22 527.3V736.3M694.42 527.3V736.3M697.62 527.3V736.3M700.83 527.3V736.3M704.03 527.3V736.3M707.23 527.3V736.3M710.43 527.3V736.3M713.64 527.3V736.3M716.84 527.3V736.3M720.04 527.3V736.3M723.24 527.3V736.3M726.44 527.3V736.3M729.65 527.3V736.3M732.85 527.3V736.3M736.05 527.3V736.3M739.25 527.3V736.3M742.46 527.3V736.3M745.66 527.3V736.3M748.86 527.3V736.3M752.06 527.3V736.3M755.26 527.3V736.3M758.47 527.3V736.3M761.67 527.3V736.3M764.87 527.3V736.3M768.07 527.3V736.3M771.28 527.3V736.3M774.48 527.3V736.3M777.68 527.3V736.3M780.88 527.3V736.3M784.08 527.3V736.3M787.29 527.3V736.3M790.49 527.3V736.3M793.69 527.3V736.3M796.89 527.3V736.3M800.1 527.3V736.3M803.3 527.3V736.3" stroke="#BABABA" stroke-width="0.6" fill="none"/>
<path d="M229.8 736.3L229.8 573.95L231.4 573.95L231.4 573.99L233 573.99L233 575.34L234.6 575.34L234.6 585.75L236.2 585.75L236.2 591.25L237.81 591.25L237.81 591.25L239.41 591.25L239.41 590.63L241.01 590.63L241.01 589.36L242.61 589.36L242.61 594.7L244.21 594.7L244.21 600.02L245.81 600.02L245.81 602.08L247.41 602.08L247.41 606.43L249.01 606.43L249.01 607.5L250.61 607.5L250.61 599.59L252.22 599.59L252.22 610.08L253.82 610.08L253.82 595.41L255.42 595.41L255.42 621.83L257.02 621.83L257.02 623.91L258.62 623.91L258.62 624.71L260.22 624.71L260.22 625.62L261.82 625.62L261.82 635.16L263.42 635.16L263.42 608.18L265.02 608.18L265.02 639.43L266.63 639.43L266.63 641.74L268.23 641.74L268.23 635L269.83 635L269.83 652.51L271.43 652.51L271.43 655.33L273.03 655.33L273.03 655.86L274.63 655.86L274.63 656.9L276.23 656.9L276.23 659.3L277.83 659.3L277.83 662L279.43 662L279.43 664.87L281.04 664.87L281.04 671.5L282.64 671.5L282.64 672.97L284.24 672.97L284.24 673.87L285.84 673.87L285.84 678.67L287.44 678.67L287.44 669.13L289.04 669.13L289.04 663.75L290.64 663.75L290.64 687.69L292.24 687.69L292.24 688.75L293.84 688.75L293.84 688.75L295.45 688.75L295.45 667.35L297.05 667.35L297.05 692.93L298.65 692.93L298.65 694.94L300.25 694.94L300.25 696.94L301.85 696.94L301.85 691.18L303.45 691.18L303.45 672.5L305.05 672.5L305.05 698.75L306.65 698.75L306.65 677.5L308.25 677.5L308.25 691.2L309.86 691.2L309.86 703.91L311.46 703.91L311.46 704.31L313.06 704.31L313.06 704.71L314.66 704.71L314.66 690L316.26 690L316.26 702.15L317.86 702.15L317.86 706.83L319.46 706.83L319.46 696.55L321.06 696.55L321.06 671.54L322.66 671.54L322.66 690L324.27 690L324.27 710.02L325.87 710.02L325.87 710.42L327.47 710.42L327.47 677.5L329.07 677.5L329.07 668.75L330.67 668.75L330.67 712.35L332.27 712.35L332.27 691.66L333.87 691.66L333.87 714.75L335.47 714.75L335.47 669.86L337.07 669.86L337.07 715L338.68 715L338.68 715L340.28 715L340.28 716.44L341.88 716.44L341.88 718.57L343.48 718.57L343.48 720.18L345.08 720.18L345.08 672.5L346.68 672.5L346.68 721.24L348.28 721.24L348.28 712.48L349.88 712.48L349.88 721.25L351.48 721.25L351.48 721.25L353.09 721.25L353.09 721.25L354.69 721.25L354.69 721.25L356.29 721.25L356.29 721.25L357.89 721.25L357.89 721.25L359.49 721.25L359.49 693.75L361.09 693.75L361.09 721.25L362.69 721.25L362.69 721.75L364.29 721.75L364.29 708.23L365.89 708.23L365.89 716.67L367.5 716.67L367.5 717.51L369.1 717.51L369.1 715.84L370.7 715.84L370.7 722.28L372.3 722.28L372.3 726.45L373.9 726.45L373.9 723.76L375.5 723.76L375.5 727.57L377.1 727.57L377.1 668.75L378.7 668.75L378.7 685L380.3 685L380.3 732.5L381.91 732.5L381.91 732.5L383.51 732.5L383.51 732.5L385.11 732.5L385.11 732.5L386.71 732.5L386.71 727.27L388.31 727.27L388.31 732.5L389.91 732.5L389.91 732.5L391.51 732.5L391.51 732.5L393.11 732.5L393.11 720L394.71 720L394.71 736.3L396.32 736.3L396.32 736.3L397.92 736.3L397.92 736.3L399.52 736.3L399.52 736.3L401.12 736.3L401.12 736.3L402.72 736.3L402.72 736.3L404.32 736.3L404.32 736.3L405.92 736.3L405.92 736.3L407.52 736.3L407.52 736.3L409.12 736.3L409.12 736.3L410.73 736.3L410.73 736.3L412.33 736.3L412.33 736.3L413.93 736.3L413.93 736.3L415.53 736.3L415.53 736.3L417.13 736.3L417.13 721.25L418.73 721.25L418.73 736.3L420.33 736.3L420.33 725L421.93 725L421.93 736.3L423.53 736.3L423.53 736.3L425.14 736.3L425.14 705L426.74 705L426.74 736.3L428.34 736.3L428.34 736.3L429.94 736.3L429.94 672.5L431.54 672.5L431.54 736.3L433.14 736.3L433.14 736.3L434.74 736.3L434.74 732.5L436.34 732.5L436.34 736.3L437.94 736.3L437.94 721.25L439.55 721.25L439.55 736.3L441.15 736.3L441.15 732.5L442.75 732.5L442.75 736.3L444.35 736.3L444.35 736.3L445.95 736.3L445.95 736.3L447.55 736.3L447.55 736.3L449.15 736.3L449.15 736.3L450.75 736.3L450.75 736.3L452.35 736.3L452.35 736.3L453.96 736.3L453.96 736.3L455.56 736.3L455.56 736.3L457.16 736.3L457.16 688.75L458.76 688.75L458.76 736.3L460.36 736.3L460.36 736.3L461.96 736.3L461.96 736.3L463.56 736.3L463.56 732.5L465.16 732.5L465.16 736.3L466.76 736.3L466.76 736.3L468.37 736.3L468.37 736.3L469.97 736.3L469.97 736.3L471.57 736.3L471.57 732.5L473.17 732.5L473.17 736.3L474.77 736.3L474.77 736.3L476.37 736.3L476.37 736.3L477.97 736.3L477.97 736.3L479.57 736.3L479.57 736.3L481.17 736.3L481.17 727.5L482.78 727.5L482.78 727.5L484.38 727.5L484.38 736.3L485.98 736.3L485.98 736.3L487.58 736.3L487.58 736.3L489.18 736.3L489.18 732.5L490.78 732.5L490.78 736.3L492.38 736.3L492.38 721.25L493.98 721.25L493.98 736.3L495.58 736.3L495.58 736.3L497.19 736.3L497.19 736.3L498.79 736.3L498.79 736.3L500.39 736.3L500.39 736.3L501.99 736.3L501.99 736.3L503.59 736.3L503.59 736.3L505.19 736.3L505.19 736.3L506.79 736.3L506.79 736.3L508.39 736.3L508.39 736.3L509.99 736.3L509.99 705L511.6 705L511.6 736.3L513.2 736.3L513.2 736.3L514.8 736.3L514.8 720L516.4 720L516.4 736.3L518 736.3L518 676.25L519.6 676.25L519.6 736.3L521.2 736.3L521.2 723.75L522.8 723.75L522.8 727.5L524.4 727.5L524.4 736.3L526.01 736.3L526.01 736.3L527.61 736.3L527.61 736.3L529.21 736.3L529.21 736.3L530.81 736.3L530.81 721.25L532.41 721.25L532.41 736.3L534.01 736.3L534.01 736.3L535.61 736.3L535.61 736.3L537.21 736.3L537.21 736.3L538.81 736.3L538.81 736.3L540.42 736.3L540.42 736.3L542.02 736.3L542.02 736.3L543.62 736.3L543.62 736.3L545.22 736.3L545.22 736.3L546.82 736.3L546.82 736.3L548.42 736.3L548.42 736.3L550.02 736.3L550.02 736.3L551.62 736.3L551.62 723.75L553.22 723.75L553.22 736.3L554.83 736.3L554.83 736.3L556.43 736.3L556.43 736.3L558.03 736.3L558.03 736.3L559.63 736.3L559.63 736.3L561.23 736.3L561.23 736.3L562.83 736.3L562.83 736.3L564.43 736.3L564.43 736.3L566.03 736.3L566.03 736.3L567.63 736.3L567.63 736.3L569.24 736.3L569.24 736.3L570.84 736.3L570.84 736.3L572.44 736.3L572.44 736.3L574.04 736.3L574.04 736.3L575.64 736.3L575.64 736.3L577.24 736.3L577.24 736.3L578.84 736.3L578.84 736.3L580.44 736.3L580.44 736.3L582.04 736.3L582.04 736.3L583.65 736.3L583.65 736.3L585.25 736.3L585.25 736.3L586.85 736.3L586.85 736.3L588.45 736.3L588.45 736.3L590.05 736.3L590.05 736.3L591.65 736.3L591.65 736.3L593.25 736.3L593.25 736.3L594.85 736.3L594.85 736.3L596.45 736.3L596.45 735L598.06 735L598.06 736.3L599.66 736.3L599.66 730L601.26 730L601.26 720L602.86 720L602.86 712.5L604.46 712.5L604.46 702.5L606.06 702.5L606.06 736.3L607.66 736.3L607.66 736.3L609.26 736.3L609.26 736.3L610.86 736.3L610.86 736.3L612.47 736.3L612.47 736.3L614.07 736.3L614.07 736.3L615.67 736.3L615.67 736.3L617.27 736.3L617.27 736.3L618.87 736.3L618.87 736.3L620.47 736.3L620.47 736.3L622.07 736.3L622.07 736.3L623.67 736.3L623.67 735L625.27 735L625.27 731.25L626.88 731.25L626.88 736.3L628.48 736.3L628.48 725L630.08 725L630.08 720L631.68 720L631.68 707.5L633.28 707.5L633.28 695L634.88 695L634.88 736.3L636.48 736.3L636.48 736.3L638.08 736.3L638.08 736.3L639.68 736.3L639.68 736.3L641.29 736.3L641.29 736.3L642.89 736.3L642.89 735L644.49 735L644.49 736.3L646.09 736.3L646.09 732.5L647.69 732.5L647.69 725L649.29 725L649.29 720L650.89 720L650.89 736.3L652.49 736.3L652.49 702.5L654.09 702.5L654.09 736.3L655.7 736.3L655.7 736.3L657.3 736.3L657.3 736.3L658.9 736.3L658.9 736.3L660.5 736.3L660.5 736.3L662.1 736.3L662.1 736.3L663.7 736.3L663.7 736.3L665.3 736.3L665.3 736.3L666.9 736.3L666.9 736.3L668.5 736.3L668.5 736.3L670.11 736.3L670.11 736.3L671.71 736.3L671.71 736.3L673.31 736.3L673.31 736.3L674.91 736.3L674.91 736.3L676.51 736.3L676.51 736.3L678.11 736.3L678.11 736.3L679.71 736.3L679.71 720L681.31 720L681.31 727.5L682.91 727.5L682.91 736.3L684.52 736.3L684.52 720L686.12 720L686.12 712.5L687.72 712.5L687.72 687.5L689.32 687.5L689.32 736.3L690.92 736.3L690.92 736.3L692.52 736.3L692.52 736.3L694.12 736.3L694.12 736.3L695.72 736.3L695.72 736.3L697.32 736.3L697.32 681.25L698.93 681.25L698.93 712.5L700.53 712.5L700.53 736.3L702.13 736.3L702.13 736.3L703.73 736.3L703.73 692.5L705.33 692.5L705.33 736.3L706.93 736.3L706.93 725L708.53 725L708.53 736.3L710.13 736.3L710.13 736.3L711.73 736.3L711.73 736.3L713.34 736.3L713.34 736.3L714.94 736.3L714.94 736.3L716.54 736.3L716.54 736.3L718.14 736.3L718.14 720L719.74 720L719.74 707.5L721.34 707.5L721.34 697.5L722.94 697.5L722.94 736.3L724.54 736.3L724.54 736.3L726.14 736.3L726.14 736.3L727.75 736.3L727.75 736.3L729.35 736.3L729.35 736.3L730.95 736.3L730.95 736.3L732.55 736.3L732.55 733.75L734.15 733.75L734.15 736.3L735.75 736.3L735.75 736.3L737.35 736.3L737.35 736.3L738.95 736.3L738.95 707.5L740.55 707.5L740.55 736.3L742.16 736.3L742.16 720L743.76 720L743.76 736.3L745.36 736.3L745.36 725L746.96 725L746.96 736.3L748.56 736.3L748.56 732.5L750.16 732.5L750.16 736.3L751.76 736.3L751.76 736.3L753.36 736.3L753.36 736.3L754.96 736.3L754.96 736.3L756.57 736.3L756.57 736.3L758.17 736.3L758.17 710L759.77 710L759.77 736.3L761.37 736.3L761.37 720L762.97 720L762.97 736.3L764.57 736.3L764.57 727.5L766.17 727.5L766.17 736.3L767.77 736.3L767.77 736.3L769.37 736.3L769.37 736.3L770.98 736.3L770.98 736.3L772.58 736.3L772.58 736.3L774.18 736.3L774.18 736.3L775.78 736.3L775.78 725L777.38 725L777.38 720L778.98 720L778.98 715L780.58 715L780.58 736.3L782.18 736.3L782.18 725L783.78 725L783.78 717.5L785.39 717.5L785.39 736.3L786.99 736.3L786.99 736.3L788.59 736.3L788.59 725L790.19 725L790.19 707.5L791.79 707.5L791.79 727.5L793.39 727.5L793.39 736.3L794.99 736.3L794.99 715L796.59 715L796.59 720L798.19 720L798.19 736.3L799.8 736.3L799.8 710L801.4 710L801.4 725L803 725L803 730L804.6 730L804.6 736.3L806.2 736.3L806.2 736.3Z" fill="#8B0000"/>
<path d="M229.8 527.3L229.8 527.3L231.4 527.3L231.4 527.3L233 527.3L233 542.5L234.6 542.5L234.6 531.29L236.2 531.29L236.2 545.26L237.81 545.26L237.81 536.81L239.41 536.81L239.41 527.3L241.01 527.3L241.01 550.68L242.61 550.68L242.61 527.3L244.21 527.3L244.21 531.25L245.81 531.25L245.81 538.69L247.41 538.69L247.41 546.02L249.01 546.02L249.01 534.39L250.61 534.39L250.61 532.6L252.22 532.6L252.22 558.75L253.82 558.75L253.82 527.3L255.42 527.3L255.42 527.3L257.02 527.3L257.02 540.8L258.62 540.8L258.62 527.3L260.22 527.3L260.22 527.3L261.82 527.3L261.82 558.75L263.42 558.75L263.42 547.79L265.02 547.79L265.02 527.3L266.63 527.3L266.63 556.25L268.23 556.25L268.23 552.5L269.83 552.5L269.83 527.3L271.43 527.3L271.43 530.65L273.03 530.65L273.03 537.43L274.63 537.43L274.63 527.3L276.23 527.3L276.23 533.75L277.83 533.75L277.83 527.3L279.43 527.3L279.43 530L281.04 530L281.04 534.97L282.64 534.97L282.64 527.3L284.24 527.3L284.24 527.3L285.84 527.3L285.84 527.3L287.44 527.3L287.44 537.5L289.04 537.5L289.04 556.25L290.64 556.25L290.64 527.3L292.24 527.3L292.24 527.3L293.84 527.3L293.84 527.3L295.45 527.3L295.45 547.5L297.05 547.5L297.05 540L298.65 540L298.65 535L300.25 535L300.25 527.3L301.85 527.3L301.85 530.63L303.45 530.63L303.45 558.75L305.05 558.75L305.05 532.5L306.65 532.5L306.65 547.02L308.25 547.02L308.25 556.25L309.86 556.25L309.86 527.3L311.46 527.3L311.46 527.3L313.06 527.3L313.06 554.88L314.66 554.88L314.66 543.75L316.26 543.75L316.26 535.56L317.86 535.56L317.86 531.14L319.46 531.14L319.46 540L321.06 540L321.06 558.63L322.66 558.63L322.66 550L324.27 550L324.27 527.3L325.87 527.3L325.87 527.3L327.47 527.3L327.47 565L329.07 565L329.07 577.5L330.67 577.5L330.67 527.3L332.27 527.3L332.27 535L333.87 535L333.87 527.3L335.47 527.3L335.47 577.06L337.07 577.06L337.07 527.3L338.68 527.3L338.68 556.8L340.28 556.8L340.28 547.1L341.88 547.1L341.88 540.12L343.48 540.12L343.48 535.24L345.08 535.24L345.08 579.4L346.68 579.4L346.68 527.3L348.28 527.3L348.28 550.24L349.88 550.24L349.88 527.3L351.48 527.3L351.48 527.3L353.09 527.3L353.09 527.3L354.69 527.3L354.69 543.31L356.29 543.31L356.29 527.3L357.89 527.3L357.89 527.3L359.49 527.3L359.49 557.56L361.09 557.56L361.09 535L362.69 535L362.69 532.36L364.29 532.36L364.29 527.3L365.89 527.3L365.89 527.3L367.5 527.3L367.5 543.75L369.1 543.75L369.1 543.79L370.7 543.79L370.7 535L372.3 535L372.3 527.3L373.9 527.3L373.9 527.3L375.5 527.3L375.5 527.3L377.1 527.3L377.1 590L378.7 590L378.7 573.75L380.3 573.75L380.3 527.3L381.91 527.3L381.91 527.3L383.51 527.3L383.51 527.3L385.11 527.3L385.11 527.3L386.71 527.3L386.71 527.3L388.31 527.3L388.31 527.3L389.91 527.3L389.91 527.3L391.51 527.3L391.51 527.3L393.11 527.3L393.11 543.75L394.71 543.75L394.71 527.3L396.32 527.3L396.32 527.3L397.92 527.3L397.92 527.3L399.52 527.3L399.52 527.3L401.12 527.3L401.12 527.3L402.72 527.3L402.72 527.3L404.32 527.3L404.32 527.3L405.92 527.3L405.92 527.3L407.52 527.3L407.52 527.3L409.12 527.3L409.12 527.3L410.73 527.3L410.73 527.3L412.33 527.3L412.33 527.3L413.93 527.3L413.93 527.3L415.53 527.3L415.53 527.3L417.13 527.3L417.13 542.5L418.73 542.5L418.73 535L420.33 535L420.33 527.3L421.93 527.3L421.93 532.5L423.53 532.5L423.53 527.3L425.14 527.3L425.14 558.75L426.74 558.75L426.74 527.3L428.34 527.3L428.34 527.3L429.94 527.3L429.94 591.25L431.54 591.25L431.54 527.3L433.14 527.3L433.14 527.3L434.74 527.3L434.74 531.25L436.34 531.25L436.34 527.3L437.94 527.3L437.94 542.5L439.55 542.5L439.55 527.3L441.15 527.3L441.15 531.25L442.75 531.25L442.75 527.3L444.35 527.3L444.35 527.3L445.95 527.3L445.95 527.3L447.55 527.3L447.55 527.3L449.15 527.3L449.15 527.3L450.75 527.3L450.75 527.3L452.35 527.3L452.35 527.3L453.96 527.3L453.96 527.3L455.56 527.3L455.56 527.3L457.16 527.3L457.16 575L458.76 575L458.76 527.3L460.36 527.3L460.36 527.3L461.96 527.3L461.96 527.3L463.56 527.3L463.56 531.25L465.16 531.25L465.16 527.3L466.76 527.3L466.76 527.3L468.37 527.3L468.37 527.3L469.97 527.3L469.97 527.3L471.57 527.3L471.57 530L473.17 530L473.17 527.3L474.77 527.3L474.77 527.3L476.37 527.3L476.37 527.3L477.97 527.3L477.97 527.3L479.57 527.3L479.57 527.3L481.17 527.3L481.17 535L482.78 535L482.78 535L484.38 535L484.38 527.3L485.98 527.3L485.98 527.3L487.58 527.3L487.58 527.3L489.18 527.3L489.18 530L490.78 530L490.78 527.3L492.38 527.3L492.38 542.5L493.98 542.5L493.98 527.3L495.58 527.3L495.58 527.3L497.19 527.3L497.19 527.3L498.79 527.3L498.79 527.3L500.39 527.3L500.39 527.3L501.99 527.3L501.99 527.3L503.59 527.3L503.59 527.3L505.19 527.3L505.19 527.3L506.79 527.3L506.79 527.3L508.39 527.3L508.39 527.3L509.99 527.3L509.99 558.75L511.6 558.75L511.6 527.3L513.2 527.3L513.2 527.3L514.8 527.3L514.8 543.75L516.4 543.75L516.4 527.3L518 527.3L518 586.25L519.6 586.25L519.6 527.3L521.2 527.3L521.2 537.5L522.8 537.5L522.8 535L524.4 535L524.4 527.3L526.01 527.3L526.01 527.3L527.61 527.3L527.61 527.3L529.21 527.3L529.21 527.3L530.81 527.3L530.81 542.5L532.41 542.5L532.41 527.3L534.01 527.3L534.01 527.3L535.61 527.3L535.61 527.3L537.21 527.3L537.21 527.3L538.81 527.3L538.81 527.3L540.42 527.3L540.42 527.3L542.02 527.3L542.02 527.3L543.62 527.3L543.62 527.3L545.22 527.3L545.22 527.3L546.82 527.3L546.82 527.3L548.42 527.3L548.42 527.3L550.02 527.3L550.02 527.3L551.62 527.3L551.62 538.75L553.22 538.75L553.22 527.3L554.83 527.3L554.83 527.3L556.43 527.3L556.43 527.3L558.03 527.3L558.03 527.3L559.63 527.3L559.63 527.3L561.23 527.3L561.23 527.3L562.83 527.3L562.83 527.3L564.43 527.3L564.43 527.3L566.03 527.3L566.03 527.3L567.63 527.3L567.63 528.04L569.24 528.04L569.24 530L570.84 530L570.84 530L572.44 530L572.44 530L574.04 530L574.04 530L575.64 530L575.64 530L577.24 530L577.24 530L578.84 530L578.84 530L580.44 530L580.44 530L582.04 530L582.04 530L583.65 530L583.65 530L585.25 530L585.25 530L586.85 530L586.85 530L588.45 530L588.45 530L590.05 530L590.05 530L591.65 530L591.65 530L593.25 530L593.25 530L594.85 530L594.85 530L596.45 530L596.45 531.51L598.06 531.51L598.06 533.91L599.66 533.91L599.66 532.09L601.26 532.09L601.26 549.41L602.86 549.41L602.86 547.14L604.46 547.14L604.46 552.95L606.06 552.95L606.06 535L607.66 535L607.66 533.76L609.26 533.76L609.26 535L610.86 535L610.86 535L612.47 535L612.47 535L614.07 535L614.07 535.79L615.67 535.79L615.67 530.8L617.27 530.8L617.27 532.91L618.87 532.91L618.87 535L620.47 535L620.47 532.23L622.07 532.23L622.07 535.75L623.67 535.75L623.67 534.63L625.27 534.63L625.27 539.83L626.88 539.83L626.88 537.97L628.48 537.97L628.48 547.64L630.08 547.64L630.08 555.64L631.68 555.64L631.68 562.42L633.28 562.42L633.28 557.53L634.88 557.53L634.88 549.15L636.48 549.15L636.48 550.06L638.08 550.06L638.08 540L639.68 540L639.68 546.87L641.29 546.87L641.29 536.55L642.89 536.55L642.89 547.89L644.49 547.89L644.49 545.51L646.09 545.51L646.09 540L647.69 540L647.69 554.84L649.29 554.84L649.29 540.11L650.89 540.11L650.89 564.55L652.49 564.55L652.49 560.94L654.09 560.94L654.09 543L655.7 543L655.7 543.02L657.3 543.02L657.3 536.32L658.9 536.32L658.9 543L660.5 543L660.5 543L662.1 543L662.1 543L663.7 543L663.7 543L665.3 543L665.3 540.09L666.9 540.09L666.9 543L668.5 543L668.5 533.91L670.11 533.91L670.11 543L671.71 543L671.71 543L673.31 543L673.31 543L674.91 543L674.91 543L676.51 543L676.51 540.09L678.11 540.09L678.11 545.49L679.71 545.49L679.71 550.29L681.31 550.29L681.31 553.08L682.91 553.08L682.91 548.61L684.52 548.61L684.52 559.87L686.12 559.87L686.12 553.86L687.72 553.86L687.72 588.85L689.32 588.85L689.32 547.5L690.92 547.5L690.92 547.5L692.52 547.5L692.52 547.5L694.12 547.5L694.12 547.5L695.72 547.5L695.72 547.5L697.32 547.5L697.32 552.5L698.93 552.5L698.93 590.69L700.53 590.69L700.53 552.65L702.13 552.65L702.13 540.85L703.73 540.85L703.73 556.12L705.33 556.12L705.33 588.45L706.93 588.45L706.93 560L708.53 560L708.53 547.08L710.13 547.08L710.13 552.99L711.73 552.99L711.73 560L713.34 560L713.34 567.2L714.94 567.2L714.94 560L716.54 560L716.54 560L718.14 560L718.14 568.07L719.74 568.07L719.74 561.38L721.34 561.38L721.34 585.19L722.94 585.19L722.94 552.95L724.54 552.95L724.54 565L726.14 565L726.14 565L727.75 565L727.75 565L729.35 565L729.35 559.79L730.95 559.79L730.95 566L732.55 566L732.55 563.57L734.15 563.57L734.15 572.4L735.75 572.4L735.75 552.93L737.35 552.93L737.35 578.81L738.95 578.81L738.95 564.52L740.55 564.52L740.55 596.24L742.16 596.24L742.16 583.41L743.76 583.41L743.76 580.7L745.36 580.7L745.36 588.66L746.96 588.66L746.96 590.03L748.56 590.03L748.56 574.78L750.16 574.78L750.16 590.43L751.76 590.43L751.76 590.63L753.36 590.63L753.36 567.56L754.96 567.56L754.96 591.03L756.57 591.03L756.57 591.23L758.17 591.23L758.17 598.43L759.77 598.43L759.77 580.59L761.37 580.59L761.37 605.37L762.97 605.37L762.97 604.07L764.57 604.07L764.57 600.36L766.17 600.36L766.17 602.17L767.77 602.17L767.77 606.97L769.37 606.97L769.37 609.11L770.98 609.11L770.98 614.58L772.58 614.58L772.58 607.5L774.18 607.5L774.18 607.5L775.78 607.5L775.78 617.79L777.38 617.79L777.38 621.36L778.98 621.36L778.98 624.56L780.58 624.56L780.58 627.23L782.18 627.23L782.18 624.03L783.78 624.03L783.78 625.01L785.39 625.01L785.39 629.81L786.99 629.81L786.99 634.61L788.59 634.61L788.59 629.27L790.19 629.27L790.19 637.76L791.79 637.76L791.79 641.16L793.39 641.16L793.39 618.67L794.99 618.67L794.99 637.59L796.59 637.59L796.59 659.25L798.19 659.25L798.19 663.48L799.8 663.48L799.8 669.88L801.4 669.88L801.4 685.13L803 685.13L803 676.11L804.6 676.11L804.6 698.82L806.2 698.82L806.2 527.3Z" fill="#00008B"/>
<path d="M231.6 574.99V736.3M236.4 592.25V736.3M236.4 527.3V544.26M241.21 590.36V736.3M241.21 527.3V549.68M246.01 603.08V736.3M246.01 527.3V537.69M250.81 600.59V736.3M250.81 527.3V531.6M255.62 622.83V736.3M260.42 626.62V736.3M265.22 640.43V736.3M270.03 653.51V736.3M274.83 657.9V736.3M279.63 665.87V736.3M279.63 527.3V529M284.44 674.87V736.3M289.24 664.75V736.3M289.24 527.3V555.25M294.04 689.75V736.3M298.85 695.94V736.3M298.85 527.3V534M303.65 673.5V736.3M303.65 527.3V557.75M308.45 692.2V736.3M308.45 527.3V555.25M313.26 705.71V736.3M313.26 527.3V553.88M318.06 707.83V736.3M318.06 527.3V530.14M322.86 691V736.3M322.86 527.3V549M327.67 678.5V736.3M327.67 527.3V564M332.47 692.66V736.3M332.47 527.3V534M337.27 716V736.3M342.08 719.57V736.3M342.08 527.3V539.12M346.88 722.24V736.3M351.68 722.25V736.3M356.49 722.25V736.3M361.29 722.25V736.3M361.29 527.3V534M366.09 717.67V736.3M370.9 723.28V736.3M370.9 527.3V534M375.7 728.57V736.3M380.5 733.5V736.3M385.31 733.5V736.3M390.11 733.5V736.3M418.93 527.3V534M438.14 722.25V736.3M438.14 527.3V541.5M457.36 689.75V736.3M457.36 527.3V574M471.77 733.5V736.3M471.77 527.3V529M481.37 728.5V736.3M481.37 527.3V534M510.19 706V736.3M510.19 527.3V557.75M515 721V736.3M515 527.3V542.75M572.64 527.3V529M577.44 527.3V529M582.24 527.3V529M587.05 527.3V529M591.85 527.3V529M596.65 736V736.3M596.65 527.3V530.51M601.46 721V736.3M601.46 527.3V548.41M606.26 527.3V534M611.06 527.3V534M615.87 527.3V529.8M620.67 527.3V531.23M625.47 732.25V736.3M625.47 527.3V538.83M630.28 721V736.3M630.28 527.3V554.64M635.08 527.3V548.15M639.88 527.3V545.87M644.69 527.3V544.51M649.49 721V736.3M649.49 527.3V539.11M654.29 527.3V542M659.1 527.3V542M663.9 527.3V542M668.7 527.3V532.91M673.51 527.3V542M678.31 527.3V544.49M683.11 527.3V547.61M687.92 688.5V736.3M687.92 527.3V587.85M692.72 527.3V546.5M697.52 682.25V736.3M697.52 527.3V551.5M702.33 527.3V539.85M707.13 726V736.3M707.13 527.3V559M711.93 527.3V559M716.74 527.3V559M721.54 698.5V736.3M721.54 527.3V584.19M726.34 527.3V564M731.15 527.3V565M735.95 527.3V551.93M740.75 527.3V595.24M745.56 726V736.3M745.56 527.3V587.66M750.36 527.3V589.43M755.16 527.3V590.03M759.97 527.3V579.59M764.77 728.5V736.3M764.77 527.3V599.36M769.57 527.3V608.11M774.38 527.3V606.5M779.18 716V736.3M779.18 527.3V623.56M783.98 718.5V736.3M783.98 527.3V624.01M788.79 726V736.3M788.79 527.3V628.27M793.59 527.3V617.67M798.39 527.3V662.48M803.2 731V736.3M803.2 527.3V675.11" stroke="#FFFFFF" stroke-opacity="0.16" stroke-width="0.7" fill="none"/>
<rect x="228.6" y="517.5" width="578.7" height="228.8" fill="none" stroke="#B3B3B3" stroke-width="2.6"/>
<line x1="215.8" y1="736.3" x2="227.5" y2="736.3" stroke="#B3B3B3" stroke-width="2.2"/>
<text transform="translate(200.9 744.9) scale(0.92 1)" text-anchor="end" fill="#4D4D4D" font-size="24.2">0%</text>
<line x1="215.8" y1="684.05" x2="227.5" y2="684.05" stroke="#B3B3B3" stroke-width="2.2"/>
<text transform="translate(200.9 692.65) scale(0.92 1)" text-anchor="end" fill="#4D4D4D" font-size="24.2">25%</text>
<line x1="215.8" y1="631.8" x2="227.5" y2="631.8" stroke="#B3B3B3" stroke-width="2.2"/>
<text transform="translate(200.9 640.4) scale(0.92 1)" text-anchor="end" fill="#4D4D4D" font-size="24.2">50%</text>
<line x1="215.8" y1="579.55" x2="227.5" y2="579.55" stroke="#B3B3B3" stroke-width="2.2"/>
<text transform="translate(200.9 588.15) scale(0.92 1)" text-anchor="end" fill="#4D4D4D" font-size="24.2">75%</text>
<line x1="215.8" y1="527.3" x2="227.5" y2="527.3" stroke="#B3B3B3" stroke-width="2.2"/>
<text transform="translate(200.9 535.9) scale(0.92 1)" text-anchor="end" fill="#4D4D4D" font-size="24.2">100%</text>
<text transform="translate(116 631.4) rotate(-90)" text-anchor="middle" font-size="24" textLength="133.4" lengthAdjust="spacingAndGlyphs">% of samples</text>
<text x="518.2" y="785.4" text-anchor="middle" font-size="24" textLength="240" lengthAdjust="spacingAndGlyphs">Cis-regulated promoters</text>
<rect x="825" y="551.8" width="34.3" height="34.8" fill="#8B0000"/>
<rect x="825" y="605.1" width="34.3" height="34.8" fill="#A9A9A9"/>
<rect x="825" y="658.4" width="34.3" height="34.8" fill="#00008B"/>
<text x="871.5" y="579.3" font-size="24" textLength="101" lengthAdjust="spacingAndGlyphs">Repressed</text>
<text x="872.3" y="633.2" font-size="24" textLength="60" lengthAdjust="spacingAndGlyphs">Stable</text>
<text x="871.8" y="687.6" font-size="24" textLength="75" lengthAdjust="spacingAndGlyphs">Induced</text>
<text x="1009.5" y="470.4" font-weight="bold" font-size="37">d</text>
<rect x="1194.3" y="527.3" width="575.9" height="209" fill="#B1B1B1"/>
<path d="M1194.6 527.3V736.3M1197.8 527.3V736.3M1201 527.3V736.3M1204.2 527.3V736.3M1207.4 527.3V736.3M1210.6 527.3V736.3M1213.8 527.3V736.3M1217 527.3V736.3M1220.2 527.3V736.3M1223.39 527.3V736.3M1226.59 527.3V736.3M1229.79 527.3V736.3M1232.99 527.3V736.3M1236.19 527.3V736.3M1239.39 527.3V736.3M1242.59 527.3V736.3M1245.79 527.3V736.3M1248.99 527.3V736.3M1252.19 527.3V736.3M1255.39 527.3V736.3M1258.59 527.3V736.3M1261.79 527.3V736.3M1264.99 527.3V736.3M1268.19 527.3V736.3M1271.39 527.3V736.3M1274.59 527.3V736.3M1277.79 527.3V736.3M1280.98 527.3V736.3M1284.18 527.3V736.3M1287.38 527.3V736.3M1290.58 527.3V736.3M1293.78 527.3V736.3M1296.98 527.3V736.3M1300.18 527.3V736.3M1303.38 527.3V736.3M1306.58 527.3V736.3M1309.78 527.3V736.3M1312.98 527.3V736.3M1316.18 527.3V736.3M1319.38 527.3V736.3M1322.58 527.3V736.3M1325.78 527.3V736.3M1328.98 527.3V736.3M1332.18 527.3V736.3M1335.38 527.3V736.3M1338.58 527.3V736.3M1341.77 527.3V736.3M1344.97 527.3V736.3M1348.17 527.3V736.3M1351.37 527.3V736.3M1354.57 527.3V736.3M1357.77 527.3V736.3M1360.97 527.3V736.3M1364.17 527.3V736.3M1367.37 527.3V736.3M1370.57 527.3V736.3M1373.77 527.3V736.3M1376.97 527.3V736.3M1380.17 527.3V736.3M1383.37 527.3V736.3M1386.57 527.3V736.3M1389.77 527.3V736.3M1392.97 527.3V736.3M1396.16 527.3V736.3M1399.36 527.3V736.3M1402.56 527.3V736.3M1405.76 527.3V736.3M1408.96 527.3V736.3M1412.16 527.3V736.3M1415.36 527.3V736.3M1418.56 527.3V736.3M1421.76 527.3V736.3M1424.96 527.3V736.3M1428.16 527.3V736.3M1431.36 527.3V736.3M1434.56 527.3V736.3M1437.76 527.3V736.3M1440.96 527.3V736.3M1444.16 527.3V736.3M1447.36 527.3V736.3M1450.56 527.3V736.3M1453.75 527.3V736.3M1456.95 527.3V736.3M1460.15 527.3V736.3M1463.35 527.3V736.3M1466.55 527.3V736.3M1469.75 527.3V736.3M1472.95 527.3V736.3M1476.15 527.3V736.3M1479.35 527.3V736.3M1482.55 527.3V736.3M1485.75 527.3V736.3M1488.95 527.3V736.3M1492.15 527.3V736.3M1495.35 527.3V736.3M1498.55 527.3V736.3M1501.75 527.3V736.3M1504.95 527.3V736.3M1508.15 527.3V736.3M1511.35 527.3V736.3M1514.54 527.3V736.3M1517.74 527.3V736.3M1520.94 527.3V736.3M1524.14 527.3V736.3M1527.34 527.3V736.3M1530.54 527.3V736.3M1533.74 527.3V736.3M1536.94 527.3V736.3M1540.14 527.3V736.3M1543.34 527.3V736.3M1546.54 527.3V736.3M1549.74 527.3V736.3M1552.94 527.3V736.3M1556.14 527.3V736.3M1559.34 527.3V736.3M1562.54 527.3V736.3M1565.74 527.3V736.3M1568.93 527.3V736.3M1572.13 527.3V736.3M1575.33 527.3V736.3M1578.53 527.3V736.3M1581.73 527.3V736.3M1584.93 527.3V736.3M1588.13 527.3V736.3M1591.33 527.3V736.3M1594.53 527.3V736.3M1597.73 527.3V736.3M1600.93 527.3V736.3M1604.13 527.3V736.3M1607.33 527.3V736.3M1610.53 527.3V736.3M1613.73 527.3V736.3M1616.93 527.3V736.3M1620.13 527.3V736.3M1623.33 527.3V736.3M1626.52 527.3V736.3M1629.72 527.3V736.3M1632.92 527.3V736.3M1636.12 527.3V736.3M1639.32 527.3V736.3M1642.52 527.3V736.3M1645.72 527.3V736.3M1648.92 527.3V736.3M1652.12 527.3V736.3M1655.32 527.3V736.3M1658.52 527.3V736.3M1661.72 527.3V736.3M1664.92 527.3V736.3M1668.12 527.3V736.3M1671.32 527.3V736.3M1674.52 527.3V736.3M1677.72 527.3V736.3M1680.92 527.3V736.3M1684.12 527.3V736.3M1687.31 527.3V736.3M1690.51 527.3V736.3M1693.71 527.3V736.3M1696.91 527.3V736.3M1700.11 527.3V736.3M1703.31 527.3V736.3M1706.51 527.3V736.3M1709.71 527.3V736.3M1712.91 527.3V736.3M1716.11 527.3V736.3M1719.31 527.3V736.3M1722.51 527.3V736.3M1725.71 527.3V736.3M1728.91 527.3V736.3M1732.11 527.3V736.3M1735.31 527.3V736.3M1738.51 527.3V736.3M1741.71 527.3V736.3M1744.9 527.3V736.3M1748.1 527.3V736.3M1751.3 527.3V736.3M1754.5 527.3V736.3M1757.7 527.3V736.3M1760.9 527.3V736.3M1764.1 527.3V736.3M1767.3 527.3V736.3" stroke="#BABABA" stroke-width="0.6" fill="none"/>
<path d="M1194.3 736.3L1194.3 592.75L1195.9 592.75L1195.9 596.75L1197.5 596.75L1197.5 600.35L1199.1 600.35L1199.1 603.55L1200.7 603.55L1200.7 607.5L1202.3 607.5L1202.3 611.8L1203.9 611.8L1203.9 608.46L1205.5 608.46L1205.5 617.14L1207.1 617.14L1207.1 631.45L1208.7 631.45L1208.7 632.25L1210.3 632.25L1210.3 633.05L1211.9 633.05L1211.9 622.46L1213.5 622.46L1213.5 636L1215.1 636L1215.1 638L1216.7 638L1216.7 639.99L1218.3 639.99L1218.3 632L1219.9 632L1219.9 643.2L1221.5 643.2L1221.5 603.17L1223.1 603.17L1223.1 643.47L1224.69 643.47L1224.69 628.9L1226.29 628.9L1226.29 621.24L1227.89 621.24L1227.89 650.72L1229.49 650.72L1229.49 651.68L1231.09 651.68L1231.09 652.64L1232.69 652.64L1232.69 653.65L1234.29 653.65L1234.29 634.48L1235.89 634.48L1235.89 655.73L1237.49 655.73L1237.49 656.65L1239.09 656.65L1239.09 654.3L1240.69 654.3L1240.69 658.25L1242.29 658.25L1242.29 636.25L1243.89 636.25L1243.89 660.39L1245.49 660.39L1245.49 661.59L1247.09 661.59L1247.09 661.53L1248.69 661.53L1248.69 663.5L1250.29 663.5L1250.29 660.88L1251.89 660.88L1251.89 665.05L1253.49 665.05L1253.49 657.92L1255.09 657.92L1255.09 665.85L1256.69 665.85L1256.69 666.25L1258.29 666.25L1258.29 653.75L1259.89 653.75L1259.89 667.31L1261.49 667.31L1261.49 657.88L1263.09 657.88L1263.09 654.25L1264.69 654.25L1264.69 669.12L1266.29 669.12L1266.29 670.32L1267.89 670.32L1267.89 650.92L1269.49 650.92L1269.49 669.2L1271.09 669.2L1271.09 673.91L1272.69 673.91L1272.69 675.11L1274.29 675.11L1274.29 676.31L1275.89 676.31L1275.89 677.51L1277.49 677.51L1277.49 671.07L1279.09 671.07L1279.09 660L1280.68 660L1280.68 680.74L1282.28 680.74L1282.28 681.54L1283.88 681.54L1283.88 666.25L1285.48 666.25L1285.48 683.14L1287.08 683.14L1287.08 683.94L1288.68 683.94L1288.68 684.74L1290.28 684.74L1290.28 685.43L1291.88 685.43L1291.88 686.07L1293.48 686.07L1293.48 686.71L1295.08 686.71L1295.08 661.25L1296.68 661.25L1296.68 687.5L1298.28 687.5L1298.28 687.82L1299.88 687.82L1299.88 675L1301.48 675L1301.48 688.61L1303.08 688.61L1303.08 689.03L1304.68 689.03L1304.68 641.36L1306.28 641.36L1306.28 689.89L1307.88 689.89L1307.88 690.59L1309.48 690.59L1309.48 680.21L1311.08 680.21L1311.08 692.19L1312.68 692.19L1312.68 692.76L1314.28 692.76L1314.28 660L1315.88 660L1315.88 693.61L1317.48 693.61L1317.48 691.67L1319.08 691.67L1319.08 670L1320.68 670L1320.68 695.02L1322.28 695.02L1322.28 686.99L1323.88 686.99L1323.88 696.14L1325.48 696.14L1325.48 696.76L1327.08 696.76L1327.08 683.75L1328.68 683.75L1328.68 698.04L1330.28 698.04L1330.28 698.68L1331.88 698.68L1331.88 699.3L1333.48 699.3L1333.48 673.75L1335.08 673.75L1335.08 697.48L1336.68 697.48L1336.68 700.58L1338.28 700.58L1338.28 694.59L1339.87 694.59L1339.87 694.93L1341.47 694.93L1341.47 701.78L1343.07 701.78L1343.07 702.15L1344.67 702.15L1344.67 691.76L1346.27 691.76L1346.27 702.9L1347.87 702.9L1347.87 681.34L1349.47 681.34L1349.47 689.66L1351.07 689.66L1351.07 704.17L1352.67 704.17L1352.67 704.59L1354.27 704.59L1354.27 705.04L1355.87 705.04L1355.87 706L1357.47 706L1357.47 691.43L1359.07 691.43L1359.07 707.92L1360.67 707.92L1360.67 708.44L1362.27 708.44L1362.27 708.92L1363.87 708.92L1363.87 706.21L1365.47 706.21L1365.47 709.63L1367.07 709.63L1367.07 709.79L1368.67 709.79L1368.67 696.25L1370.27 696.25L1370.27 710.11L1371.87 710.11L1371.87 702.54L1373.47 702.54L1373.47 708.91L1375.07 708.91L1375.07 710.67L1376.67 710.67L1376.67 710.99L1378.27 710.99L1378.27 690.51L1379.87 690.51L1379.87 711.63L1381.47 711.63L1381.47 711.95L1383.07 711.95L1383.07 712.27L1384.67 712.27L1384.67 696.25L1386.27 696.25L1386.27 712.86L1387.87 712.86L1387.87 713.14L1389.47 713.14L1389.47 713.42L1391.07 713.42L1391.07 700L1392.67 700L1392.67 713.98L1394.27 713.98L1394.27 704.51L1395.87 704.51L1395.87 714.46L1397.46 714.46L1397.46 714.66L1399.06 714.66L1399.06 701.02L1400.66 701.02L1400.66 705L1402.26 705L1402.26 715.26L1403.86 715.26L1403.86 715.46L1405.46 715.46L1405.46 715.63L1407.06 715.63L1407.06 708.51L1408.66 708.51L1408.66 715.95L1410.26 715.95L1410.26 693.94L1411.86 693.94L1411.86 716.27L1413.46 716.27L1413.46 716.37L1415.06 716.37L1415.06 716.63L1416.66 716.63L1416.66 716.87L1418.26 716.87L1418.26 717.11L1419.86 717.11L1419.86 683.67L1421.46 683.67L1421.46 715.4L1423.06 715.4L1423.06 684.65L1424.66 684.65L1424.66 718.09L1426.26 718.09L1426.26 718.41L1427.86 718.41L1427.86 718.73L1429.46 718.73L1429.46 719.05L1431.06 719.05L1431.06 712.5L1432.66 712.5L1432.66 719.69L1434.26 719.69L1434.26 718.74L1435.86 718.74L1435.86 715.48L1437.46 715.48L1437.46 720.33L1439.06 720.33L1439.06 720.49L1440.66 720.49L1440.66 718.83L1442.26 718.83L1442.26 720.81L1443.86 720.81L1443.86 719.1L1445.46 719.1L1445.46 720.72L1447.06 720.72L1447.06 701.24L1448.66 701.24L1448.66 702.08L1450.26 702.08L1450.26 721.91L1451.86 721.91L1451.86 722.15L1453.45 722.15L1453.45 722.39L1455.05 722.39L1455.05 722.61L1456.65 722.61L1456.65 712.74L1458.25 712.74L1458.25 723.01L1459.85 723.01L1459.85 696.25L1461.45 696.25L1461.45 723.41L1463.05 723.41L1463.05 723.61L1464.65 723.61L1464.65 723.83L1466.25 723.83L1466.25 724.11L1467.85 724.11L1467.85 706.25L1469.45 706.25L1469.45 724.67L1471.05 724.67L1471.05 724.95L1472.65 724.95L1472.65 725.23L1474.25 725.23L1474.25 718.65L1475.85 718.65L1475.85 725.71L1477.45 725.71L1477.45 706.41L1479.05 706.41L1479.05 707.5L1480.65 707.5L1480.65 726.31L1482.25 726.31L1482.25 726.51L1483.85 726.51L1483.85 714.13L1485.45 714.13L1485.45 717.4L1487.05 717.4L1487.05 727.11L1488.65 727.11L1488.65 727.31L1490.25 727.31L1490.25 727.51L1491.85 727.51L1491.85 682.5L1493.45 682.5L1493.45 727.91L1495.05 727.91L1495.05 717.26L1496.65 717.26L1496.65 708.65L1498.25 708.65L1498.25 696.14L1499.85 696.14L1499.85 728L1501.45 728L1501.45 724.01L1503.05 724.01L1503.05 728L1504.65 728L1504.65 728.02L1506.25 728.02L1506.25 728.08L1507.85 728.08L1507.85 706.4L1509.45 706.4L1509.45 728.2L1511.05 728.2L1511.05 725.57L1512.64 725.57L1512.64 690.67L1514.24 690.67L1514.24 708.75L1515.84 708.75L1515.84 708.93L1517.44 708.93L1517.44 728.5L1519.04 728.5L1519.04 728.56L1520.64 728.56L1520.64 724.06L1522.24 724.06L1522.24 702.94L1523.84 702.94L1523.84 728.74L1525.44 728.74L1525.44 728.97L1527.04 728.97L1527.04 712.66L1528.64 712.66L1528.64 728.43L1530.24 728.43L1530.24 730.3L1531.84 730.3L1531.84 730.38L1533.44 730.38L1533.44 730.46L1535.04 730.46L1535.04 728.7L1536.64 728.7L1536.64 730.62L1538.24 730.62L1538.24 730.7L1539.84 730.7L1539.84 730.78L1541.44 730.78L1541.44 716.86L1543.04 716.86L1543.04 730.94L1544.64 730.94L1544.64 731.02L1546.24 731.02L1546.24 698.33L1547.84 698.33L1547.84 731.18L1549.44 731.18L1549.44 731.27L1551.04 731.27L1551.04 721.31L1552.64 721.31L1552.64 720L1554.24 720L1554.24 731.75L1555.84 731.75L1555.84 731.91L1557.44 731.91L1557.44 712.3L1559.04 712.3L1559.04 732.23L1560.64 732.23L1560.64 732.39L1562.24 732.39L1562.24 732.55L1563.84 732.55L1563.84 732.71L1565.44 732.71L1565.44 706.65L1567.04 706.65L1567.04 729.21L1568.63 729.21L1568.63 733.19L1570.23 733.19L1570.23 717.56L1571.83 717.56L1571.83 731.49L1573.43 731.49L1573.43 726.01L1575.03 726.01L1575.03 733.78L1576.63 733.78L1576.63 733.82L1578.23 733.82L1578.23 733.87L1579.83 733.87L1579.83 733.92L1581.43 733.92L1581.43 733.97L1583.03 733.97L1583.03 734.01L1584.63 734.01L1584.63 734.06L1586.23 734.06L1586.23 729.68L1587.83 729.68L1587.83 734.16L1589.43 734.16L1589.43 734.21L1591.03 734.21L1591.03 734.25L1592.63 734.25L1592.63 734.3L1594.23 734.3L1594.23 734.35L1595.83 734.35L1595.83 707.5L1597.43 707.5L1597.43 734.45L1599.03 734.45L1599.03 728.37L1600.63 728.37L1600.63 734.55L1602.23 734.55L1602.23 729.36L1603.83 729.36L1603.83 734.66L1605.43 734.66L1605.43 734.72L1607.03 734.72L1607.03 734.77L1608.63 734.77L1608.63 734.83L1610.23 734.83L1610.23 733.91L1611.83 733.91L1611.83 734.94L1613.43 734.94L1613.43 734.99L1615.03 734.99L1615.03 735.05L1616.63 735.05L1616.63 735.11L1618.23 735.11L1618.23 735.16L1619.83 735.16L1619.83 735.22L1621.43 735.22L1621.43 735.27L1623.03 735.27L1623.03 717.39L1624.63 717.39L1624.63 735.38L1626.22 735.38L1626.22 735.44L1627.82 735.44L1627.82 735.5L1629.42 735.5L1629.42 736.3L1631.02 736.3L1631.02 736.3L1632.62 736.3L1632.62 730L1634.22 730L1634.22 736.3L1635.82 736.3L1635.82 736.3L1637.42 736.3L1637.42 736.3L1639.02 736.3L1639.02 736.3L1640.62 736.3L1640.62 695L1642.22 695L1642.22 736.3L1643.82 736.3L1643.82 736.3L1645.42 736.3L1645.42 736.3L1647.02 736.3L1647.02 736.3L1648.62 736.3L1648.62 736.3L1650.22 736.3L1650.22 736.3L1651.82 736.3L1651.82 736.3L1653.42 736.3L1653.42 736.3L1655.02 736.3L1655.02 736.3L1656.62 736.3L1656.62 721.25L1658.22 721.25L1658.22 736.3L1659.82 736.3L1659.82 736.3L1661.42 736.3L1661.42 736.3L1663.02 736.3L1663.02 695L1664.62 695L1664.62 736.3L1666.22 736.3L1666.22 736.3L1667.82 736.3L1667.82 736.3L1669.42 736.3L1669.42 736.3L1671.02 736.3L1671.02 705L1672.62 705L1672.62 736.3L1674.22 736.3L1674.22 736.3L1675.82 736.3L1675.82 736.3L1677.42 736.3L1677.42 730L1679.02 730L1679.02 736.3L1680.62 736.3L1680.62 736.3L1682.22 736.3L1682.22 736.3L1683.82 736.3L1683.82 736.3L1685.41 736.3L1685.41 736.3L1687.01 736.3L1687.01 736.3L1688.61 736.3L1688.61 736.3L1690.21 736.3L1690.21 736.3L1691.81 736.3L1691.81 736.3L1693.41 736.3L1693.41 725L1695.01 725L1695.01 722.47L1696.61 722.47L1696.61 715L1698.21 715L1698.21 703.75L1699.81 703.75L1699.81 709.73L1701.41 709.73L1701.41 712.46L1703.01 712.46L1703.01 702.81L1704.61 702.81L1704.61 688.75L1706.21 688.75L1706.21 700L1707.81 700L1707.81 736.3L1709.41 736.3L1709.41 707.5L1711.01 707.5L1711.01 688.75L1712.61 688.75L1712.61 717.5L1714.21 717.5L1714.21 720L1715.81 720L1715.81 736.3L1717.41 736.3L1717.41 710L1719.01 710L1719.01 720L1720.61 720L1720.61 726.59L1722.21 726.59L1722.21 722.65L1723.81 722.65L1723.81 707.5L1725.41 707.5L1725.41 690L1727.01 690L1727.01 686.25L1728.61 686.25L1728.61 692.5L1730.21 692.5L1730.21 711.4L1731.81 711.4L1731.81 715L1733.41 715L1733.41 704.75L1735.01 704.75L1735.01 701.76L1736.61 701.76L1736.61 704.14L1738.21 704.14L1738.21 736.3L1739.81 736.3L1739.81 705L1741.41 705L1741.41 697.5L1743 697.5L1743 707.5L1744.6 707.5L1744.6 704.42L1746.2 704.42L1746.2 718.66L1747.8 718.66L1747.8 712.22L1749.4 712.22L1749.4 736.3L1751 736.3L1751 704.94L1752.6 704.94L1752.6 710L1754.2 710L1754.2 724L1755.8 724L1755.8 717.5L1757.4 717.5L1757.4 707.17L1759 707.17L1759 702.92L1760.6 702.92L1760.6 720L1762.2 720L1762.2 703.4L1763.8 703.4L1763.8 719.34L1765.4 719.34L1765.4 710.74L1767 710.74L1767 736.3L1768.6 736.3L1768.6 715L1770.2 715L1770.2 736.3Z" fill="#8B0000"/>
<path d="M1194.3 527.3L1194.3 527.3L1195.9 527.3L1195.9 544.05L1197.5 544.05L1197.5 527.3L1199.1 527.3L1199.1 527.53L1200.7 527.53L1200.7 527.3L1202.3 527.3L1202.3 538.45L1203.9 538.45L1203.9 540L1205.5 540L1205.5 527.3L1207.1 527.3L1207.1 527.3L1208.7 527.3L1208.7 551.18L1210.3 551.18L1210.3 527.3L1211.9 527.3L1211.9 535.28L1213.5 535.28L1213.5 527.3L1215.1 527.3L1215.1 537.32L1216.7 537.32L1216.7 527.3L1218.3 527.3L1218.3 552.01L1219.9 552.01L1219.9 527.41L1221.5 527.41L1221.5 535.89L1223.1 535.89L1223.1 527.3L1224.69 527.3L1224.69 527.3L1226.29 527.3L1226.29 556.25L1227.89 556.25L1227.89 536.04L1229.49 536.04L1229.49 535L1231.09 535L1231.09 527.3L1232.69 527.3L1232.69 527.3L1234.29 527.3L1234.29 527.3L1235.89 527.3L1235.89 546.23L1237.49 546.23L1237.49 527.3L1239.09 527.3L1239.09 528.58L1240.69 528.58L1240.69 527.3L1242.29 527.3L1242.29 562.5L1243.89 562.5L1243.89 539.68L1245.49 539.68L1245.49 527.3L1247.09 527.3L1247.09 527.3L1248.69 527.3L1248.69 529.47L1250.29 529.47L1250.29 533.75L1251.89 533.75L1251.89 527.3L1253.49 527.3L1253.49 527.3L1255.09 527.3L1255.09 527.3L1256.69 527.3L1256.69 527.3L1258.29 527.3L1258.29 547.5L1259.89 547.5L1259.89 527.3L1261.49 527.3L1261.49 535L1263.09 535L1263.09 530.08L1264.69 530.08L1264.69 527.3L1266.29 527.3L1266.29 545L1267.89 545L1267.89 547.5L1269.49 547.5L1269.49 527.3L1271.09 527.3L1271.09 540L1272.69 540L1272.69 527.3L1274.29 527.3L1274.29 527.63L1275.89 527.63L1275.89 527.3L1277.49 527.3L1277.49 527.3L1279.09 527.3L1279.09 553.75L1280.68 553.75L1280.68 539.54L1282.28 539.54L1282.28 527.3L1283.88 527.3L1283.88 547.5L1285.48 547.5L1285.48 527.3L1287.08 527.3L1287.08 527.3L1288.68 527.3L1288.68 545.92L1290.28 545.92L1290.28 528.27L1291.88 528.27L1291.88 527.3L1293.48 527.3L1293.48 535.55L1295.08 535.55L1295.08 560L1296.68 560L1296.68 527.3L1298.28 527.3L1298.28 527.3L1299.88 527.3L1299.88 543.75L1301.48 543.75L1301.48 527.3L1303.08 527.3L1303.08 527.3L1304.68 527.3L1304.68 527.3L1306.28 527.3L1306.28 527.3L1307.88 527.3L1307.88 547.5L1309.48 547.5L1309.48 527.3L1311.08 527.3L1311.08 527.3L1312.68 527.3L1312.68 527.3L1314.28 527.3L1314.28 572.61L1315.88 572.61L1315.88 532.63L1317.48 532.63L1317.48 527.3L1319.08 527.3L1319.08 559.51L1320.68 559.51L1320.68 527.3L1322.28 527.3L1322.28 527.3L1323.88 527.3L1323.88 527.3L1325.48 527.3L1325.48 535.22L1327.08 535.22L1327.08 543.75L1328.68 543.75L1328.68 527.69L1330.28 527.69L1330.28 555.04L1331.88 555.04L1331.88 527.56L1333.48 527.56L1333.48 558.75L1335.08 558.75L1335.08 530.08L1336.68 530.08L1336.68 527.3L1338.28 527.3L1338.28 527.3L1339.87 527.3L1339.87 553.11L1341.47 553.11L1341.47 527.3L1343.07 527.3L1343.07 534.24L1344.67 534.24L1344.67 527.3L1346.27 527.3L1346.27 527.3L1347.87 527.3L1347.87 538.75L1349.47 538.75L1349.47 527.3L1351.07 527.3L1351.07 536.41L1352.67 536.41L1352.67 527.3L1354.27 527.3L1354.27 530.44L1355.87 530.44L1355.87 540L1357.47 540L1357.47 527.3L1359.07 527.3L1359.07 543.96L1360.67 543.96L1360.67 527.3L1362.27 527.3L1362.27 536.58L1363.87 536.58L1363.87 527.3L1365.47 527.3L1365.47 527.3L1367.07 527.3L1367.07 530.99L1368.67 530.99L1368.67 533.55L1370.27 533.55L1370.27 542.5L1371.87 542.5L1371.87 527.3L1373.47 527.3L1373.47 527.3L1375.07 527.3L1375.07 527.3L1376.67 527.3L1376.67 527.3L1378.27 527.3L1378.27 532.08L1379.87 532.08L1379.87 543.75L1381.47 543.75L1381.47 527.3L1383.07 527.3L1383.07 530.48L1384.67 530.48L1384.67 545L1386.27 545L1386.27 527.3L1387.87 527.3L1387.87 539.93L1389.47 539.93L1389.47 529.11L1391.07 529.11L1391.07 540L1392.67 540L1392.67 527.3L1394.27 527.3L1394.27 533.02L1395.87 533.02L1395.87 527.3L1397.46 527.3L1397.46 529.11L1399.06 529.11L1399.06 541.25L1400.66 541.25L1400.66 534.45L1402.26 534.45L1402.26 537.06L1403.86 537.06L1403.86 527.3L1405.46 527.3L1405.46 527.3L1407.06 527.3L1407.06 533.75L1408.66 533.75L1408.66 527.3L1410.26 527.3L1410.26 527.3L1411.86 527.3L1411.86 527.3L1413.46 527.3L1413.46 542.53L1415.06 542.53L1415.06 527.3L1416.66 527.3L1416.66 527.3L1418.26 527.3L1418.26 527.3L1419.86 527.3L1419.86 527.3L1421.46 527.3L1421.46 533.85L1423.06 533.85L1423.06 557.49L1424.66 557.49L1424.66 527.3L1426.26 527.3L1426.26 535.12L1427.86 535.12L1427.86 527.3L1429.46 527.3L1429.46 527.3L1431.06 527.3L1431.06 535.61L1432.66 535.61L1432.66 527.3L1434.26 527.3L1434.26 527.3L1435.86 527.3L1435.86 537.07L1437.46 537.07L1437.46 538.65L1439.06 538.65L1439.06 527.3L1440.66 527.3L1440.66 527.8L1442.26 527.8L1442.26 527.3L1443.86 527.3L1443.86 540.17L1445.46 540.17L1445.46 533.08L1447.06 533.08L1447.06 527.3L1448.66 527.3L1448.66 547.5L1450.26 547.5L1450.26 528.11L1451.86 528.11L1451.86 527.3L1453.45 527.3L1453.45 555.07L1455.05 555.07L1455.05 527.3L1456.65 527.3L1456.65 527.3L1458.25 527.3L1458.25 527.3L1459.85 527.3L1459.85 555L1461.45 555L1461.45 527.3L1463.05 527.3L1463.05 527.3L1464.65 527.3L1464.65 527.3L1466.25 527.3L1466.25 539.93L1467.85 539.93L1467.85 545L1469.45 545L1469.45 531.04L1471.05 531.04L1471.05 527.3L1472.65 527.3L1472.65 527.3L1474.25 527.3L1474.25 527.3L1475.85 527.3L1475.85 527.3L1477.45 527.3L1477.45 534.39L1479.05 534.39L1479.05 548.02L1480.65 548.02L1480.65 534.83L1482.25 534.83L1482.25 527.3L1483.85 527.3L1483.85 530.27L1485.45 530.27L1485.45 527.3L1487.05 527.3L1487.05 538.97L1488.65 538.97L1488.65 527.3L1490.25 527.3L1490.25 530.14L1491.85 530.14L1491.85 573.75L1493.45 573.75L1493.45 533.69L1495.05 533.69L1495.05 527.3L1496.65 527.3L1496.65 527.3L1498.25 527.3L1498.25 560L1499.85 560L1499.85 527.3L1501.45 527.3L1501.45 527.3L1503.05 527.3L1503.05 527.3L1504.65 527.3L1504.65 527.3L1506.25 527.3L1506.25 527.3L1507.85 527.3L1507.85 530.26L1509.45 530.26L1509.45 527.3L1511.05 527.3L1511.05 527.3L1512.64 527.3L1512.64 547.5L1514.24 547.5L1514.24 547.5L1515.84 547.5L1515.84 560.12L1517.44 560.12L1517.44 531.79L1519.04 531.79L1519.04 530.29L1520.64 530.29L1520.64 527.3L1522.24 527.3L1522.24 533.75L1523.84 533.75L1523.84 527.3L1525.44 527.3L1525.44 527.3L1527.04 527.3L1527.04 527.3L1528.64 527.3L1528.64 527.3L1530.24 527.3L1530.24 527.3L1531.84 527.3L1531.84 527.3L1533.44 527.3L1533.44 527.3L1535.04 527.3L1535.04 528.12L1536.64 528.12L1536.64 536.61L1538.24 536.61L1538.24 528.22L1539.84 528.22L1539.84 527.3L1541.44 527.3L1541.44 527.3L1543.04 527.3L1543.04 527.96L1544.64 527.96L1544.64 540.18L1546.24 540.18L1546.24 555.11L1547.84 555.11L1547.84 527.3L1549.44 527.3L1549.44 527.3L1551.04 527.3L1551.04 538.24L1552.64 538.24L1552.64 545L1554.24 545L1554.24 543.66L1555.84 543.66L1555.84 527.3L1557.44 527.3L1557.44 528.4L1559.04 528.4L1559.04 527.3L1560.64 527.3L1560.64 527.3L1562.24 527.3L1562.24 549.63L1563.84 549.63L1563.84 527.3L1565.44 527.3L1565.44 552.5L1567.04 552.5L1567.04 555.44L1568.63 555.44L1568.63 527.3L1570.23 527.3L1570.23 541.97L1571.83 541.97L1571.83 540.95L1573.43 540.95L1573.43 527.3L1575.03 527.3L1575.03 527.3L1576.63 527.3L1576.63 527.3L1578.23 527.3L1578.23 527.3L1579.83 527.3L1579.83 532.07L1581.43 532.07L1581.43 533.27L1583.03 533.27L1583.03 527.3L1584.63 527.3L1584.63 527.3L1586.23 527.3L1586.23 533.35L1587.83 533.35L1587.83 527.3L1589.43 527.3L1589.43 527.3L1591.03 527.3L1591.03 527.3L1592.63 527.3L1592.63 527.3L1594.23 527.3L1594.23 528.19L1595.83 528.19L1595.83 566.85L1597.43 566.85L1597.43 527.3L1599.03 527.3L1599.03 531.11L1600.63 531.11L1600.63 528.71L1602.23 528.71L1602.23 531.25L1603.83 531.25L1603.83 527.3L1605.43 527.3L1605.43 527.3L1607.03 527.3L1607.03 527.3L1608.63 527.3L1608.63 527.3L1610.23 527.3L1610.23 527.3L1611.83 527.3L1611.83 527.3L1613.43 527.3L1613.43 530.68L1615.03 530.68L1615.03 531.66L1616.63 531.66L1616.63 531.28L1618.23 531.28L1618.23 527.3L1619.83 527.3L1619.83 527.3L1621.43 527.3L1621.43 558.27L1623.03 558.27L1623.03 527.3L1624.63 527.3L1624.63 527.3L1626.22 527.3L1626.22 527.3L1627.82 527.3L1627.82 527.3L1629.42 527.3L1629.42 527.3L1631.02 527.3L1631.02 527.3L1632.62 527.3L1632.62 542.43L1634.22 542.43L1634.22 527.3L1635.82 527.3L1635.82 559.95L1637.42 559.95L1637.42 536.77L1639.02 536.77L1639.02 527.3L1640.62 527.3L1640.62 567.5L1642.22 567.5L1642.22 527.3L1643.82 527.3L1643.82 527.3L1645.42 527.3L1645.42 527.3L1647.02 527.3L1647.02 555.59L1648.62 555.59L1648.62 527.3L1650.22 527.3L1650.22 531.49L1651.82 531.49L1651.82 527.3L1653.42 527.3L1653.42 527.3L1655.02 527.3L1655.02 527.3L1656.62 527.3L1656.62 552.15L1658.22 552.15L1658.22 527.3L1659.82 527.3L1659.82 531.88L1661.42 531.88L1661.42 527.3L1663.02 527.3L1663.02 567.5L1664.62 567.5L1664.62 527.3L1666.22 527.3L1666.22 527.3L1667.82 527.3L1667.82 527.3L1669.42 527.3L1669.42 527.67L1671.02 527.67L1671.02 559.87L1672.62 559.87L1672.62 527.3L1674.22 527.3L1674.22 527.3L1675.82 527.3L1675.82 527.3L1677.42 527.3L1677.42 535.77L1679.02 535.77L1679.02 527.3L1680.62 527.3L1680.62 529.15L1682.22 529.15L1682.22 527.3L1683.82 527.3L1683.82 527.3L1685.41 527.3L1685.41 530.79L1687.01 530.79L1687.01 527.3L1688.61 527.3L1688.61 527.3L1690.21 527.3L1690.21 527.3L1691.81 527.3L1691.81 527.3L1693.41 527.3L1693.41 527.3L1695.01 527.3L1695.01 542.97L1696.61 542.97L1696.61 549.64L1698.21 549.64L1698.21 557.56L1699.81 557.56L1699.81 558.22L1701.41 558.22L1701.41 546.88L1703.01 546.88L1703.01 568.19L1704.61 568.19L1704.61 575.89L1706.21 575.89L1706.21 559.89L1707.81 559.89L1707.81 563.15L1709.41 563.15L1709.41 574.88L1711.01 574.88L1711.01 576.34L1712.61 576.34L1712.61 558.74L1714.21 558.74L1714.21 557.52L1715.81 557.52L1715.81 564.19L1717.41 564.19L1717.41 561.08L1719.01 561.08L1719.01 560.51L1720.61 560.51L1720.61 542.58L1722.21 542.58L1722.21 563.8L1723.81 563.8L1723.81 573.36L1725.41 573.36L1725.41 599.29L1727.01 599.29L1727.01 604.36L1728.61 604.36L1728.61 568.68L1730.21 568.68L1730.21 580.14L1731.81 580.14L1731.81 564.89L1733.41 564.89L1733.41 568.48L1735.01 568.48L1735.01 548.93L1736.61 548.93L1736.61 581.75L1738.21 581.75L1738.21 557.71L1739.81 557.71L1739.81 576.05L1741.41 576.05L1741.41 576.11L1743 576.11L1743 588.48L1744.6 588.48L1744.6 581.69L1746.2 581.69L1746.2 578.49L1747.8 578.49L1747.8 567.29L1749.4 567.29L1749.4 566.16L1751 566.16L1751 587.63L1752.6 587.63L1752.6 597.71L1754.2 597.71L1754.2 576.91L1755.8 576.91L1755.8 600.9L1757.4 600.9L1757.4 602.11L1759 602.11L1759 614.05L1760.6 614.05L1760.6 608.9L1762.2 608.9L1762.2 611.5L1763.8 611.5L1763.8 616.3L1765.4 616.3L1765.4 617.53L1767 617.53L1767 628.3L1768.6 628.3L1768.6 607.92L1770.2 607.92L1770.2 527.3Z" fill="#00008B"/>
<path d="M1196.1 597.75V736.3M1196.1 527.3V543.05M1200.9 608.5V736.3M1205.7 618.14V736.3M1210.5 634.05V736.3M1215.3 639V736.3M1215.3 527.3V536.32M1220.1 644.2V736.3M1224.89 629.9V736.3M1229.69 652.68V736.3M1229.69 527.3V534M1234.49 635.48V736.3M1239.29 655.3V736.3M1239.29 527.3V527.58M1244.09 661.39V736.3M1244.09 527.3V538.68M1248.89 664.5V736.3M1248.89 527.3V528.47M1253.69 658.92V736.3M1258.49 654.75V736.3M1258.49 527.3V546.5M1263.29 655.25V736.3M1263.29 527.3V529.08M1268.09 651.92V736.3M1268.09 527.3V546.5M1272.89 676.11V736.3M1277.69 672.07V736.3M1282.48 682.54V736.3M1287.28 684.94V736.3M1292.08 687.07V736.3M1296.88 688.5V736.3M1301.68 689.61V736.3M1306.48 690.89V736.3M1311.28 693.19V736.3M1316.08 694.61V736.3M1316.08 527.3V531.63M1320.88 696.02V736.3M1325.68 697.76V736.3M1325.68 527.3V534.22M1330.48 699.68V736.3M1330.48 527.3V554.04M1335.28 698.48V736.3M1335.28 527.3V529.08M1340.07 695.93V736.3M1340.07 527.3V552.11M1344.87 692.76V736.3M1349.67 690.66V736.3M1354.47 706.04V736.3M1354.47 527.3V529.44M1359.27 708.92V736.3M1359.27 527.3V542.96M1364.07 707.21V736.3M1368.87 697.25V736.3M1368.87 527.3V532.55M1373.67 709.91V736.3M1378.47 691.51V736.3M1378.47 527.3V531.08M1383.27 713.27V736.3M1383.27 527.3V529.48M1388.07 714.14V736.3M1388.07 527.3V538.93M1392.87 714.98V736.3M1397.66 715.66V736.3M1397.66 527.3V528.11M1402.46 716.26V736.3M1402.46 527.3V536.06M1407.26 709.51V736.3M1407.26 527.3V532.75M1412.06 717.27V736.3M1416.86 717.87V736.3M1421.66 716.4V736.3M1421.66 527.3V532.85M1426.46 719.41V736.3M1426.46 527.3V534.12M1431.26 713.5V736.3M1431.26 527.3V534.61M1436.06 716.48V736.3M1436.06 527.3V536.07M1440.86 719.83V736.3M1445.66 721.72V736.3M1445.66 527.3V532.08M1450.46 722.91V736.3M1455.25 723.61V736.3M1460.05 697.25V736.3M1460.05 527.3V554M1464.85 724.83V736.3M1469.65 725.67V736.3M1469.65 527.3V530.04M1474.45 719.65V736.3M1479.25 708.5V736.3M1479.25 527.3V547.02M1484.05 715.13V736.3M1484.05 527.3V529.27M1488.85 728.31V736.3M1493.65 728.91V736.3M1493.65 527.3V532.69M1498.45 697.14V736.3M1498.45 527.3V559M1503.25 729V736.3M1508.05 707.4V736.3M1508.05 527.3V529.26M1512.84 691.67V736.3M1512.84 527.3V546.5M1517.64 729.5V736.3M1517.64 527.3V530.79M1522.44 703.94V736.3M1522.44 527.3V532.75M1527.24 713.66V736.3M1532.04 731.38V736.3M1536.84 731.62V736.3M1536.84 527.3V535.61M1541.64 717.86V736.3M1546.44 699.33V736.3M1546.44 527.3V554.11M1551.24 722.31V736.3M1551.24 527.3V537.24M1556.04 732.91V736.3M1560.84 733.39V736.3M1565.64 707.65V736.3M1565.64 527.3V551.5M1570.43 718.56V736.3M1570.43 527.3V540.97M1575.23 734.78V736.3M1580.03 734.92V736.3M1580.03 527.3V531.07M1584.83 735.06V736.3M1589.63 735.21V736.3M1594.43 735.35V736.3M1599.23 729.37V736.3M1599.23 527.3V530.11M1604.03 735.66V736.3M1608.83 735.83V736.3M1613.63 735.99V736.3M1613.63 527.3V529.68M1618.43 736.16V736.3M1623.23 718.39V736.3M1632.82 731V736.3M1632.82 527.3V541.43M1637.62 527.3V535.77M1647.22 527.3V554.59M1656.82 722.25V736.3M1656.82 527.3V551.15M1671.22 706V736.3M1671.22 527.3V558.87M1680.82 527.3V528.15M1685.61 527.3V529.79M1695.21 723.47V736.3M1695.21 527.3V541.97M1700.01 710.73V736.3M1700.01 527.3V557.22M1704.81 689.75V736.3M1704.81 527.3V574.89M1709.61 708.5V736.3M1709.61 527.3V573.88M1714.41 721V736.3M1714.41 527.3V556.52M1719.21 721V736.3M1719.21 527.3V559.51M1724.01 708.5V736.3M1724.01 527.3V572.36M1728.81 693.5V736.3M1728.81 527.3V567.68M1733.61 705.75V736.3M1733.61 527.3V567.48M1738.41 527.3V556.71M1743.2 708.5V736.3M1743.2 527.3V587.48M1748 713.22V736.3M1748 527.3V566.29M1752.8 711V736.3M1752.8 527.3V596.71M1757.6 708.17V736.3M1757.6 527.3V601.11M1762.4 704.4V736.3M1762.4 527.3V610.5M1767.2 527.3V627.3" stroke="#FFFFFF" stroke-opacity="0.16" stroke-width="0.7" fill="none"/>
<rect x="1193" y="517.5" width="578.2" height="228.8" fill="none" stroke="#B3B3B3" stroke-width="2.6"/>
<line x1="1180.8" y1="736.3" x2="1192.5" y2="736.3" stroke="#B3B3B3" stroke-width="2.2"/>
<text transform="translate(1165.9 744.9) scale(0.92 1)" text-anchor="end" fill="#4D4D4D" font-size="24.2">0%</text>
<line x1="1180.8" y1="684.05" x2="1192.5" y2="684.05" stroke="#B3B3B3" stroke-width="2.2"/>
<text transform="translate(1165.9 692.65) scale(0.92 1)" text-anchor="end" fill="#4D4D4D" font-size="24.2">25%</text>
<line x1="1180.8" y1="631.8" x2="1192.5" y2="631.8" stroke="#B3B3B3" stroke-width="2.2"/>
<text transform="translate(1165.9 640.4) scale(0.92 1)" text-anchor="end" fill="#4D4D4D" font-size="24.2">50%</text>
<line x1="1180.8" y1="579.55" x2="1192.5" y2="579.55" stroke="#B3B3B3" stroke-width="2.2"/>
<text transform="translate(1165.9 588.15) scale(0.92 1)" text-anchor="end" fill="#4D4D4D" font-size="24.2">75%</text>
<line x1="1180.8" y1="527.3" x2="1192.5" y2="527.3" stroke="#B3B3B3" stroke-width="2.2"/>
<text transform="translate(1165.9 535.9) scale(0.92 1)" text-anchor="end" fill="#4D4D4D" font-size="24.2">100%</text>
<text transform="translate(1082 631.6) rotate(-90)" text-anchor="middle" font-size="24" textLength="133.6" lengthAdjust="spacingAndGlyphs">% of samples</text>
<text x="1482.3" y="784.9" text-anchor="middle" font-size="24" textLength="240" lengthAdjust="spacingAndGlyphs">Cis-regulated promoters</text>
<rect x="1796.8" y="552.3" width="36.5" height="38.5" fill="#8B0000"/>
<rect x="1796.8" y="604.9" width="36.5" height="38.5" fill="#A9A9A9"/>
<rect x="1796.8" y="657.5" width="36.5" height="38.5" fill="#00008B"/>
<text x="1851" y="577.1" font-size="24" textLength="112" lengthAdjust="spacingAndGlyphs">Hyper-meth</text>
<text x="1848" y="632.1" font-size="24" textLength="60" lengthAdjust="spacingAndGlyphs">Stable</text>
<text x="1854" y="685.5" font-size="24" textLength="103" lengthAdjust="spacingAndGlyphs">Hypo-meth</text>
<text x="11.2" y="881" font-weight="bold" font-size="37">e</text>
<line x1="220.2" y1="1046.75" x2="786.3" y2="1046.75" stroke="#F2F2F2" stroke-width="1.2"/>
<line x1="220.2" y1="1104.25" x2="786.3" y2="1104.25" stroke="#F2F2F2" stroke-width="1.2"/>
<line x1="220.2" y1="1161.75" x2="786.3" y2="1161.75" stroke="#F2F2F2" stroke-width="1.2"/>
<line x1="220.2" y1="1219.25" x2="786.3" y2="1219.25" stroke="#F2F2F2" stroke-width="1.2"/>
<line x1="337.7" y1="1007.6" x2="337.7" y2="1258" stroke="#F2F2F2" stroke-width="1.2"/>
<line x1="467.1" y1="1007.6" x2="467.1" y2="1258" stroke="#F2F2F2" stroke-width="1.2"/>
<line x1="596.3" y1="1007.6" x2="596.3" y2="1258" stroke="#F2F2F2" stroke-width="1.2"/>
<line x1="725.5" y1="1007.6" x2="725.5" y2="1258" stroke="#F2F2F2" stroke-width="1.2"/>
<line x1="220.2" y1="1018" x2="786.3" y2="1018" stroke="#E3E3E3" stroke-width="1.4"/>
<line x1="220.2" y1="1075.5" x2="786.3" y2="1075.5" stroke="#E3E3E3" stroke-width="1.4"/>
<line x1="220.2" y1="1190.5" x2="786.3" y2="1190.5" stroke="#E3E3E3" stroke-width="1.4"/>
<line x1="220.2" y1="1248" x2="786.3" y2="1248" stroke="#E3E3E3" stroke-width="1.4"/>
<line x1="273" y1="1007.6" x2="273" y2="1258" stroke="#E3E3E3" stroke-width="1.4"/>
<line x1="402.5" y1="1007.6" x2="402.5" y2="1258" stroke="#E3E3E3" stroke-width="1.4"/>
<line x1="531.8" y1="1007.6" x2="531.8" y2="1258" stroke="#E3E3E3" stroke-width="1.4"/>
<line x1="660.8" y1="1007.6" x2="660.8" y2="1258" stroke="#E3E3E3" stroke-width="1.4"/>
<line x1="220.2" y1="1133" x2="786.3" y2="1133" stroke="#ADADAD" stroke-width="3"/>
<line x1="209.8" y1="1018" x2="220.2" y2="1018" stroke="#B3B3B3" stroke-width="1.6"/>
<text x="199.8" y="1025.6" text-anchor="end" fill="#4D4D4D" font-size="21.5">1.0</text>
<line x1="209.8" y1="1075.5" x2="220.2" y2="1075.5" stroke="#B3B3B3" stroke-width="1.6"/>
<text x="199.8" y="1083.1" text-anchor="end" fill="#4D4D4D" font-size="21.5">0.5</text>
<line x1="209.8" y1="1133" x2="220.2" y2="1133" stroke="#B3B3B3" stroke-width="1.6"/>
<text x="199.8" y="1140.6" text-anchor="end" fill="#4D4D4D" font-size="21.5">0.0</text>
<line x1="209.8" y1="1190.5" x2="220.2" y2="1190.5" stroke="#B3B3B3" stroke-width="1.6"/>
<text x="199.8" y="1198.1" text-anchor="end" fill="#4D4D4D" font-size="21.5">-0.5</text>
<line x1="209.8" y1="1248" x2="220.2" y2="1248" stroke="#B3B3B3" stroke-width="1.6"/>
<text x="199.8" y="1255.6" text-anchor="end" fill="#4D4D4D" font-size="21.5">-1.0</text>
<line x1="273" y1="1258" x2="273" y2="1267" stroke="#B3B3B3" stroke-width="1.6"/>
<text x="273" y="1291.8" text-anchor="middle" fill="#4D4D4D" font-size="22.3">52622500</text>
<line x1="402.5" y1="1258" x2="402.5" y2="1267" stroke="#B3B3B3" stroke-width="1.6"/>
<text x="402.5" y="1291.8" text-anchor="middle" fill="#4D4D4D" font-size="22.3">52625000</text>
<line x1="531.8" y1="1258" x2="531.8" y2="1267" stroke="#B3B3B3" stroke-width="1.6"/>
<text x="531.8" y="1291.8" text-anchor="middle" fill="#4D4D4D" font-size="22.3">52627500</text>
<line x1="660.8" y1="1258" x2="660.8" y2="1267" stroke="#B3B3B3" stroke-width="1.6"/>
<text x="660.8" y="1291.8" text-anchor="middle" fill="#4D4D4D" font-size="22.3">52630000</text>
<text transform="translate(123.3 1133.8) rotate(-90)" text-anchor="middle" font-size="21.2" textLength="219" lengthAdjust="spacingAndGlyphs">Expression-Methylation</text>
<text transform="translate(147.3 1133.8) rotate(-90)" text-anchor="middle" font-size="21.2" textLength="98.4" lengthAdjust="spacingAndGlyphs">correlation</text>
<line x1="502.8" y1="1007.6" x2="502.8" y2="1258" stroke="#00008B" stroke-width="4.2" stroke-dasharray="14.3 15"/>
<polyline fill="none" stroke="#000" stroke-width="3.6" stroke-linejoin="round" points="273,1113 287,1134 289.5,1140 486.7,1192.4 492,1192 493.6,1156 496.5,1192 498,1194.5 511,1190.9 514,1175 515.5,1169.6 572,1178.7 579.6,1197.7"/>
<circle cx="273" cy="1113.25" r="6.1" fill="#9DD9D8"/>
<circle cx="287.5" cy="1134.5" r="6.1" fill="#BDADA9"/>
<circle cx="289.5" cy="1140" r="6.1" fill="#B78376"/>
<circle cx="494.4" cy="1192.4" r="6.1" fill="#6AF0EF"/>
<circle cx="495.1" cy="1202.3" r="6.1" fill="#6AF0EF"/>
<circle cx="492.8" cy="1195.4" r="6.1" fill="#6EEFEE"/>
<circle cx="490.5" cy="1197" r="6.1" fill="#71EDEC"/>
<circle cx="516.4" cy="1154.4" r="6.1" fill="#00FFFF"/>
<circle cx="512.6" cy="1164.2" r="6.1" fill="#58F5F4"/>
<circle cx="518" cy="1165.8" r="6.1" fill="#36FBFB"/>
<circle cx="513.4" cy="1178.7" r="6.1" fill="#6AF0EF"/>
<circle cx="514.1" cy="1184.8" r="6.1" fill="#91DFDE"/>
<circle cx="518.7" cy="1196.2" r="6.1" fill="#4DF7F7"/>
<circle cx="514.5" cy="1158" r="6.1" fill="#2CFCFC"/>
<circle cx="517" cy="1161" r="6.1" fill="#36FBFB"/>
<circle cx="512.5" cy="1167" r="6.1" fill="#4DF7F7"/>
<circle cx="515.5" cy="1171" r="6.1" fill="#58F5F4"/>
<circle cx="513" cy="1176" r="6.1" fill="#6AF0EF"/>
<circle cx="516" cy="1180" r="6.1" fill="#84E6E5"/>
<circle cx="514" cy="1186" r="6.1" fill="#8AE3E2"/>
<circle cx="572.5" cy="1207.5" r="6.1" fill="#BEBEBE"/>
<circle cx="575.5" cy="1210" r="6.1" fill="#BBC1C1"/>
<circle cx="579" cy="1208" r="6.1" fill="#BC9D95"/>
<rect x="220.2" y="1007.6" width="566.1" height="250.4" fill="none" stroke="#B3B3B3" stroke-width="1.8"/>
<line x1="219.5" y1="970.3" x2="787.2" y2="970.3" stroke="#000" stroke-width="3.2"/>
<path d="M253.75 947V966M262.5 947V966M265 947V966M272.5 947V966M280 947V966M288.75 947V966M291 947V966M298.75 947V966M317.5 947V966M320 947V966M325 947V966M331.25 947V966M343 947V966M362.5 947V966M378.75 947V966M382.5 947V966M390 947V966M393.75 947V966M412.5 947V966M422.5 947V966M427.5 947V966M431.25 947V966M437.5 947V966M439.77 947V966M442.04 947V966M444.31 947V966M446.58 947V966M448.85 947V966M451.12 947V966M453.38 947V966M455.65 947V966M457.92 947V966M460.19 947V966M462.46 947V966M464.73 947V966M467 947V966M470 947V966M472.25 947V966M474.5 947V966M476.75 947V966M479 947V966M481.25 947V966M483.5 947V966M485.75 947V966M488 947V966M491 947V966M493.21 947V966M495.41 947V966M497.62 947V966M499.83 947V966M502.03 947V966M504.24 947V966M506.45 947V966M508.66 947V966M510.86 947V966M513.07 947V966M515.28 947V966M517.48 947V966M519.69 947V966M521.9 947V966M524.1 947V966M526.31 947V966M528.52 947V966M530.72 947V966M532.93 947V966M535.14 947V966M537.34 947V966M539.55 947V966M541.76 947V966M543.97 947V966M546.17 947V966M548.38 947V966M550.59 947V966M552.79 947V966M555 947V966M561.5 947V966M568.5 947V966M572 947V966M576 947V966M581 947V966M593 947V966M602 947V966M606 947V966M610 947V966M614 947V966M618 947V966M621 947V966M631 947V966M645 947V966M666 947V966M676.5 947V966M695 947V966M705.5 947V966M718 947V966M722 947V966M726 947V966M730 947V966M734 947V966M739 947V966M749.4 947V966M760 947V966" stroke="#000" stroke-width="4.6" fill="none"/>
<g fill="#000"><circle cx="253.75" cy="947" r="4.9"/><circle cx="262.5" cy="947" r="4.9"/><circle cx="265" cy="947" r="4.9"/><circle cx="272.5" cy="947" r="4.9"/><circle cx="280" cy="947" r="4.9"/><circle cx="288.75" cy="947" r="4.9"/><circle cx="291" cy="947" r="4.9"/><circle cx="298.75" cy="947" r="4.9"/><circle cx="317.5" cy="947" r="4.9"/><circle cx="320" cy="947" r="4.9"/><circle cx="325" cy="947" r="4.9"/><circle cx="331.25" cy="947" r="4.9"/><circle cx="343" cy="947" r="4.9"/><circle cx="362.5" cy="947" r="4.9"/><circle cx="378.75" cy="947" r="4.9"/><circle cx="382.5" cy="947" r="4.9"/><circle cx="390" cy="947" r="4.9"/><circle cx="393.75" cy="947" r="4.9"/><circle cx="412.5" cy="947" r="4.9"/><circle cx="422.5" cy="947" r="4.9"/><circle cx="427.5" cy="947" r="4.9"/><circle cx="431.25" cy="947" r="4.9"/><circle cx="437.5" cy="947" r="4.9"/><circle cx="439.77" cy="947" r="4.9"/><circle cx="442.04" cy="947" r="4.9"/><circle cx="444.31" cy="947" r="4.9"/><circle cx="446.58" cy="947" r="4.9"/><circle cx="448.85" cy="947" r="4.9"/><circle cx="451.12" cy="947" r="4.9"/><circle cx="453.38" cy="947" r="4.9"/><circle cx="455.65" cy="947" r="4.9"/><circle cx="457.92" cy="947" r="4.9"/><circle cx="460.19" cy="947" r="4.9"/><circle cx="462.46" cy="947" r="4.9"/><circle cx="464.73" cy="947" r="4.9"/><circle cx="467" cy="947" r="4.9"/><circle cx="470" cy="947" r="4.9"/><circle cx="472.25" cy="947" r="4.9"/><circle cx="474.5" cy="947" r="4.9"/><circle cx="476.75" cy="947" r="4.9"/><circle cx="479" cy="947" r="4.9"/><circle cx="481.25" cy="947" r="4.9"/><circle cx="483.5" cy="947" r="4.9"/><circle cx="485.75" cy="947" r="4.9"/><circle cx="488" cy="947" r="4.9"/><circle cx="491" cy="947" r="4.9"/><circle cx="493.21" cy="947" r="4.9"/><circle cx="495.41" cy="947" r="4.9"/><circle cx="497.62" cy="947" r="4.9"/><circle cx="499.83" cy="947" r="4.9"/><circle cx="502.03" cy="947" r="4.9"/><circle cx="504.24" cy="947" r="4.9"/><circle cx="506.45" cy="947" r="4.9"/><circle cx="508.66" cy="947" r="4.9"/><circle cx="510.86" cy="947" r="4.9"/><circle cx="513.07" cy="947" r="4.9"/><circle cx="515.28" cy="947" r="4.9"/><circle cx="517.48" cy="947" r="4.9"/><circle cx="519.69" cy="947" r="4.9"/><circle cx="521.9" cy="947" r="4.9"/><circle cx="524.1" cy="947" r="4.9"/><circle cx="526.31" cy="947" r="4.9"/><circle cx="528.52" cy="947" r="4.9"/><circle cx="530.72" cy="947" r="4.9"/><circle cx="532.93" cy="947" r="4.9"/><circle cx="535.14" cy="947" r="4.9"/><circle cx="537.34" cy="947" r="4.9"/><circle cx="539.55" cy="947" r="4.9"/><circle cx="541.76" cy="947" r="4.9"/><circle cx="543.97" cy="947" r="4.9"/><circle cx="546.17" cy="947" r="4.9"/><circle cx="548.38" cy="947" r="4.9"/><circle cx="550.59" cy="947" r="4.9"/><circle cx="552.79" cy="947" r="4.9"/><circle cx="555" cy="947" r="4.9"/><circle cx="561.5" cy="947" r="4.9"/><circle cx="568.5" cy="947" r="4.9"/><circle cx="572" cy="947" r="4.9"/><circle cx="576" cy="947" r="4.9"/><circle cx="581" cy="947" r="4.9"/><circle cx="593" cy="947" r="4.9"/><circle cx="602" cy="947" r="4.9"/><circle cx="606" cy="947" r="4.9"/><circle cx="610" cy="947" r="4.9"/><circle cx="614" cy="947" r="4.9"/><circle cx="618" cy="947" r="4.9"/><circle cx="621" cy="947" r="4.9"/><circle cx="631" cy="947" r="4.9"/><circle cx="645" cy="947" r="4.9"/><circle cx="666" cy="947" r="4.9"/><circle cx="676.5" cy="947" r="4.9"/><circle cx="695" cy="947" r="4.9"/><circle cx="705.5" cy="947" r="4.9"/><circle cx="718" cy="947" r="4.9"/><circle cx="722" cy="947" r="4.9"/><circle cx="726" cy="947" r="4.9"/><circle cx="730" cy="947" r="4.9"/><circle cx="734" cy="947" r="4.9"/><circle cx="739" cy="947" r="4.9"/><circle cx="749.4" cy="947" r="4.9"/><circle cx="760" cy="947" r="4.9"/></g>
<text x="502.5" y="902" text-anchor="middle" font-size="20.2" textLength="50" lengthAdjust="spacingAndGlyphs">KRT7</text>
<polyline fill="none" stroke="#0000FF" stroke-width="4" stroke-linejoin="round" points="502.5,938.5 502.5,917 530.5,917" stroke-linejoin="miter" stroke-linecap="butt"/>
<polyline fill="none" stroke="#0000FF" stroke-width="4" stroke-linejoin="round" points="521,910.5 530.5,917 521,923.5" stroke-linejoin="miter" stroke-linecap="butt"/>
<text x="829.3" y="937.7" font-size="21.5" textLength="83" lengthAdjust="spacingAndGlyphs">Average</text>
<text x="829.3" y="960.3" font-size="21.5" textLength="114.5" lengthAdjust="spacingAndGlyphs">Methylation</text>
<defs><linearGradient id="cb1" x1="0" y1="0" x2="0" y2="1"><stop offset="0" stop-color="#8B0000"/><stop offset="0.05" stop-color="#942314"/><stop offset="0.1" stop-color="#9C3826"/><stop offset="0.15" stop-color="#A44A37"/><stop offset="0.2" stop-color="#AA5B49"/><stop offset="0.25" stop-color="#B06C5B"/><stop offset="0.3" stop-color="#B57C6E"/><stop offset="0.35" stop-color="#B98C81"/><stop offset="0.4" stop-color="#BC9D95"/><stop offset="0.45" stop-color="#BDADA9"/><stop offset="0.5" stop-color="#BEBEBE"/><stop offset="0.55" stop-color="#B7C5C4"/><stop offset="0.6" stop-color="#AFCBCB"/><stop offset="0.65" stop-color="#A6D2D1"/><stop offset="0.7" stop-color="#9DD9D8"/><stop offset="0.75" stop-color="#91DFDE"/><stop offset="0.8" stop-color="#84E6E5"/><stop offset="0.85" stop-color="#75ECEB"/><stop offset="0.9" stop-color="#61F2F2"/><stop offset="0.95" stop-color="#46F9F8"/><stop offset="1" stop-color="#00FFFF"/></linearGradient></defs>
<rect x="829.2" y="973.4" width="31.5" height="302.5" fill="url(#cb1)"/>
<text x="872.6" y="980.9" font-size="21.5">1.00</text>
<line x1="829.2" y1="1048.4" x2="835.2" y2="1048.4" stroke="#FFFFFF" stroke-width="1.6"/>
<line x1="854.7" y1="1048.4" x2="860.7" y2="1048.4" stroke="#FFFFFF" stroke-width="1.6"/>
<text x="872.6" y="1055.9" font-size="21.5">0.75</text>
<line x1="829.2" y1="1123.4" x2="835.2" y2="1123.4" stroke="#FFFFFF" stroke-width="1.6"/>
<line x1="854.7" y1="1123.4" x2="860.7" y2="1123.4" stroke="#FFFFFF" stroke-width="1.6"/>
<text x="872.6" y="1130.9" font-size="21.5">0.50</text>
<line x1="829.2" y1="1198.4" x2="835.2" y2="1198.4" stroke="#FFFFFF" stroke-width="1.6"/>
<line x1="854.7" y1="1198.4" x2="860.7" y2="1198.4" stroke="#FFFFFF" stroke-width="1.6"/>
<text x="872.6" y="1205.9" font-size="21.5">0.25</text>
<text x="872.6" y="1280.9" font-size="21.5">0.00</text>
<text x="485.5" y="1336" text-anchor="middle" font-size="20" textLength="50.5" lengthAdjust="spacingAndGlyphs">Chr12</text>
<line x1="1174.3" y1="1044.25" x2="1740.8" y2="1044.25" stroke="#F2F2F2" stroke-width="1.2"/>
<line x1="1174.3" y1="1101.75" x2="1740.8" y2="1101.75" stroke="#F2F2F2" stroke-width="1.2"/>
<line x1="1174.3" y1="1159.25" x2="1740.8" y2="1159.25" stroke="#F2F2F2" stroke-width="1.2"/>
<line x1="1174.3" y1="1216.75" x2="1740.8" y2="1216.75" stroke="#F2F2F2" stroke-width="1.2"/>
<line x1="1205.3" y1="1005.6" x2="1205.3" y2="1256.2" stroke="#F2F2F2" stroke-width="1.2"/>
<line x1="1334.2" y1="1005.6" x2="1334.2" y2="1256.2" stroke="#F2F2F2" stroke-width="1.2"/>
<line x1="1463.2" y1="1005.6" x2="1463.2" y2="1256.2" stroke="#F2F2F2" stroke-width="1.2"/>
<line x1="1592.5" y1="1005.6" x2="1592.5" y2="1256.2" stroke="#F2F2F2" stroke-width="1.2"/>
<line x1="1721.8" y1="1005.6" x2="1721.8" y2="1256.2" stroke="#F2F2F2" stroke-width="1.2"/>
<line x1="1174.3" y1="1015.5" x2="1740.8" y2="1015.5" stroke="#E3E3E3" stroke-width="1.4"/>
<line x1="1174.3" y1="1073" x2="1740.8" y2="1073" stroke="#E3E3E3" stroke-width="1.4"/>
<line x1="1174.3" y1="1188" x2="1740.8" y2="1188" stroke="#E3E3E3" stroke-width="1.4"/>
<line x1="1174.3" y1="1245.5" x2="1740.8" y2="1245.5" stroke="#E3E3E3" stroke-width="1.4"/>
<line x1="1269.5" y1="1005.6" x2="1269.5" y2="1256.2" stroke="#E3E3E3" stroke-width="1.4"/>
<line x1="1398.7" y1="1005.6" x2="1398.7" y2="1256.2" stroke="#E3E3E3" stroke-width="1.4"/>
<line x1="1527.8" y1="1005.6" x2="1527.8" y2="1256.2" stroke="#E3E3E3" stroke-width="1.4"/>
<line x1="1657.2" y1="1005.6" x2="1657.2" y2="1256.2" stroke="#E3E3E3" stroke-width="1.4"/>
<line x1="1174.3" y1="1130.5" x2="1740.8" y2="1130.5" stroke="#ADADAD" stroke-width="3"/>
<line x1="1163.8" y1="1015.5" x2="1174.3" y2="1015.5" stroke="#B3B3B3" stroke-width="1.6"/>
<text x="1153.8" y="1023.1" text-anchor="end" fill="#4D4D4D" font-size="21.5">1.0</text>
<line x1="1163.8" y1="1073" x2="1174.3" y2="1073" stroke="#B3B3B3" stroke-width="1.6"/>
<text x="1153.8" y="1080.6" text-anchor="end" fill="#4D4D4D" font-size="21.5">0.5</text>
<line x1="1163.8" y1="1130.5" x2="1174.3" y2="1130.5" stroke="#B3B3B3" stroke-width="1.6"/>
<text x="1153.8" y="1138.1" text-anchor="end" fill="#4D4D4D" font-size="21.5">0.0</text>
<line x1="1163.8" y1="1188" x2="1174.3" y2="1188" stroke="#B3B3B3" stroke-width="1.6"/>
<text x="1153.8" y="1195.6" text-anchor="end" fill="#4D4D4D" font-size="21.5">-0.5</text>
<line x1="1163.8" y1="1245.5" x2="1174.3" y2="1245.5" stroke="#B3B3B3" stroke-width="1.6"/>
<text x="1153.8" y="1253.1" text-anchor="end" fill="#4D4D4D" font-size="21.5">-1.0</text>
<line x1="1269.5" y1="1256.2" x2="1269.5" y2="1265.2" stroke="#B3B3B3" stroke-width="1.6"/>
<text x="1269.5" y="1291.8" text-anchor="middle" fill="#4D4D4D" font-size="22.3">41272500</text>
<line x1="1398.7" y1="1256.2" x2="1398.7" y2="1265.2" stroke="#B3B3B3" stroke-width="1.6"/>
<text x="1398.7" y="1291.8" text-anchor="middle" fill="#4D4D4D" font-size="22.3">41275000</text>
<line x1="1527.8" y1="1256.2" x2="1527.8" y2="1265.2" stroke="#B3B3B3" stroke-width="1.6"/>
<text x="1527.8" y="1291.8" text-anchor="middle" fill="#4D4D4D" font-size="22.3">41277500</text>
<line x1="1657.2" y1="1256.2" x2="1657.2" y2="1265.2" stroke="#B3B3B3" stroke-width="1.6"/>
<text x="1657.2" y="1291.8" text-anchor="middle" fill="#4D4D4D" font-size="22.3">41280000</text>
<text transform="translate(1077.3 1131.9) rotate(-90)" text-anchor="middle" font-size="21.2" textLength="219" lengthAdjust="spacingAndGlyphs">Expression-Methylation</text>
<text transform="translate(1101.3 1131.9) rotate(-90)" text-anchor="middle" font-size="21.2" textLength="98.4" lengthAdjust="spacingAndGlyphs">correlation</text>
<line x1="1457.2" y1="1005.6" x2="1457.2" y2="1256.2" stroke="#00008B" stroke-width="4.2" stroke-dasharray="14.3 15"/>
<line x1="1533" y1="1005.6" x2="1533" y2="1256.2" stroke="#00008B" stroke-width="4.2" stroke-dasharray="14.3 15"/>
<polyline fill="none" stroke="#000" stroke-width="3.4" stroke-linejoin="round" points="1320,1135 1326.3,1122.5 1475,1127.5 1482.5,1155 1490,1170 1501.3,1182.5 1510,1178.8 1511,1173.8 1522.5,1166.3 1582.5,1165"/>
<circle cx="1270" cy="1115" r="6.1" fill="#90180D"/>
<circle cx="1273.8" cy="1108.8" r="6.1" fill="#942314"/>
<circle cx="1270" cy="1127.5" r="6.1" fill="#8D0A04"/>
<circle cx="1270" cy="1135" r="6.1" fill="#8D0A04"/>
<circle cx="1282.5" cy="1120" r="6.1" fill="#8D0A04"/>
<circle cx="1290" cy="1112.5" r="6.1" fill="#972C1B"/>
<circle cx="1282.5" cy="1132.5" r="6.1" fill="#8D0A04"/>
<circle cx="1288.8" cy="1128.8" r="6.1" fill="#8F1209"/>
<circle cx="1300" cy="1110" r="6.1" fill="#90180D"/>
<circle cx="1308.8" cy="1113.8" r="6.1" fill="#942314"/>
<circle cx="1302.5" cy="1132.5" r="6.1" fill="#8D0A04"/>
<circle cx="1321.3" cy="1116.3" r="6.1" fill="#942314"/>
<circle cx="1326.3" cy="1107.5" r="6.1" fill="#8F1209"/>
<circle cx="1317.5" cy="1126.3" r="6.1" fill="#AA5B49"/>
<circle cx="1310" cy="1125" r="6.1" fill="#BC9D95"/>
<circle cx="1312" cy="1130" r="6.1" fill="#BB968D"/>
<circle cx="1315" cy="1141.3" r="6.1" fill="#AA5B49"/>
<circle cx="1311.3" cy="1151.3" r="6.1" fill="#BC9D95"/>
<circle cx="1315" cy="1152.5" r="6.1" fill="#B98C81"/>
<circle cx="1277" cy="1110" r="6.1" fill="#942314"/>
<circle cx="1295" cy="1117" r="6.1" fill="#942314"/>
<circle cx="1285" cy="1110" r="6.1" fill="#9C3826"/>
<circle cx="1305" cy="1118" r="6.1" fill="#90180D"/>
<circle cx="1275" cy="1121" r="6.1" fill="#8D0A04"/>
<circle cx="1296" cy="1128" r="6.1" fill="#942314"/>
<circle cx="1476.3" cy="1166.3" r="6.1" fill="#58F5F4"/>
<circle cx="1482.5" cy="1170" r="6.1" fill="#61F2F2"/>
<circle cx="1490" cy="1172.5" r="6.1" fill="#6AF0EF"/>
<circle cx="1493.8" cy="1182.5" r="6.1" fill="#46F9F8"/>
<circle cx="1511.3" cy="1162.5" r="6.1" fill="#2CFCFC"/>
<circle cx="1515" cy="1168.8" r="6.1" fill="#4DF7F7"/>
<circle cx="1600" cy="1120" r="6.1" fill="#942314"/>
<circle cx="1610" cy="1125" r="6.1" fill="#972C1B"/>
<circle cx="1600" cy="1132.5" r="6.1" fill="#8D0A04"/>
<circle cx="1613.8" cy="1133.8" r="6.1" fill="#942314"/>
<circle cx="1615" cy="1140" r="6.1" fill="#8D0A04"/>
<circle cx="1600" cy="1142.5" r="6.1" fill="#8F1209"/>
<circle cx="1595" cy="1140" r="6.1" fill="#942314"/>
<circle cx="1586.3" cy="1145" r="6.1" fill="#AA5B49"/>
<circle cx="1590" cy="1152.5" r="6.1" fill="#A85442"/>
<circle cx="1583.8" cy="1161.3" r="6.1" fill="#B37567"/>
<circle cx="1605" cy="1145" r="6.1" fill="#90180D"/>
<circle cx="1608" cy="1136" r="6.1" fill="#8D0A04"/>
<circle cx="1597" cy="1148" r="6.1" fill="#9C3826"/>
<rect x="1174.3" y="1005.6" width="566.5" height="250.6" fill="none" stroke="#B3B3B3" stroke-width="1.8"/>
<line x1="1173.8" y1="968" x2="1741.3" y2="968" stroke="#000" stroke-width="3.2"/>
<path d="M1204.5 945.5V963.5M1230.5 945.5V963.5M1238.75 945.5V963.5M1250 945.5V963.5M1252 945.5V963.5M1267.5 945.5V963.5M1269.73 945.5V963.5M1271.96 945.5V963.5M1274.2 945.5V963.5M1276.43 945.5V963.5M1278.66 945.5V963.5M1280.89 945.5V963.5M1283.12 945.5V963.5M1285.36 945.5V963.5M1287.59 945.5V963.5M1289.82 945.5V963.5M1292.05 945.5V963.5M1294.29 945.5V963.5M1296.52 945.5V963.5M1298.75 945.5V963.5M1300.98 945.5V963.5M1303.21 945.5V963.5M1305.45 945.5V963.5M1307.68 945.5V963.5M1309.91 945.5V963.5M1312.14 945.5V963.5M1314.38 945.5V963.5M1316.61 945.5V963.5M1318.84 945.5V963.5M1321.07 945.5V963.5M1323.3 945.5V963.5M1325.54 945.5V963.5M1327.77 945.5V963.5M1330 945.5V963.5M1354.5 945.5V963.5M1368 945.5V963.5M1386 945.5V963.5M1388.29 945.5V963.5M1390.58 945.5V963.5M1392.88 945.5V963.5M1395.17 945.5V963.5M1397.46 945.5V963.5M1399.75 945.5V963.5M1402.04 945.5V963.5M1404.33 945.5V963.5M1406.62 945.5V963.5M1408.92 945.5V963.5M1411.21 945.5V963.5M1413.5 945.5V963.5M1415.79 945.5V963.5M1418.08 945.5V963.5M1420.38 945.5V963.5M1422.67 945.5V963.5M1424.96 945.5V963.5M1427.25 945.5V963.5M1429.54 945.5V963.5M1431.83 945.5V963.5M1434.12 945.5V963.5M1436.42 945.5V963.5M1438.71 945.5V963.5M1441 945.5V963.5M1455 945.5V963.5M1463.75 945.5V963.5M1470 945.5V963.5M1472.21 945.5V963.5M1474.41 945.5V963.5M1476.62 945.5V963.5M1478.82 945.5V963.5M1481.03 945.5V963.5M1483.24 945.5V963.5M1485.44 945.5V963.5M1487.65 945.5V963.5M1489.85 945.5V963.5M1492.06 945.5V963.5M1494.26 945.5V963.5M1496.47 945.5V963.5M1498.68 945.5V963.5M1500.88 945.5V963.5M1503.09 945.5V963.5M1505.29 945.5V963.5M1507.5 945.5V963.5M1509.71 945.5V963.5M1511.91 945.5V963.5M1514.12 945.5V963.5M1516.32 945.5V963.5M1518.53 945.5V963.5M1520.74 945.5V963.5M1522.94 945.5V963.5M1525.15 945.5V963.5M1527.35 945.5V963.5M1529.56 945.5V963.5M1531.76 945.5V963.5M1533.97 945.5V963.5M1536.18 945.5V963.5M1538.38 945.5V963.5M1540.59 945.5V963.5M1542.79 945.5V963.5M1545 945.5V963.5M1547.21 945.5V963.5M1549.41 945.5V963.5M1551.62 945.5V963.5M1553.82 945.5V963.5M1556.03 945.5V963.5M1558.24 945.5V963.5M1560.44 945.5V963.5M1562.65 945.5V963.5M1564.85 945.5V963.5M1567.06 945.5V963.5M1569.26 945.5V963.5M1571.47 945.5V963.5M1573.68 945.5V963.5M1575.88 945.5V963.5M1578.09 945.5V963.5M1580.29 945.5V963.5M1582.5 945.5V963.5M1584.71 945.5V963.5M1586.91 945.5V963.5M1589.12 945.5V963.5M1591.32 945.5V963.5M1593.53 945.5V963.5M1595.74 945.5V963.5M1597.94 945.5V963.5M1600.15 945.5V963.5M1602.35 945.5V963.5M1604.56 945.5V963.5M1606.76 945.5V963.5M1608.97 945.5V963.5M1611.18 945.5V963.5M1613.38 945.5V963.5M1615.59 945.5V963.5M1617.79 945.5V963.5M1620 945.5V963.5M1632.5 945.5V963.5M1634.73 945.5V963.5M1636.96 945.5V963.5M1639.19 945.5V963.5M1641.42 945.5V963.5M1643.65 945.5V963.5M1645.88 945.5V963.5M1648.11 945.5V963.5M1650.34 945.5V963.5M1652.57 945.5V963.5M1654.8 945.5V963.5M1657.03 945.5V963.5M1659.26 945.5V963.5M1661.49 945.5V963.5M1663.72 945.5V963.5M1665.95 945.5V963.5M1668.18 945.5V963.5M1670.41 945.5V963.5M1672.64 945.5V963.5M1674.86 945.5V963.5M1677.09 945.5V963.5M1679.32 945.5V963.5M1681.55 945.5V963.5M1683.78 945.5V963.5M1686.01 945.5V963.5M1688.24 945.5V963.5M1690.47 945.5V963.5M1692.7 945.5V963.5M1694.93 945.5V963.5M1697.16 945.5V963.5M1699.39 945.5V963.5M1701.62 945.5V963.5M1703.85 945.5V963.5M1706.08 945.5V963.5M1708.31 945.5V963.5M1710.54 945.5V963.5M1712.77 945.5V963.5M1715 945.5V963.5" stroke="#000" stroke-width="4.6" fill="none"/>
<g fill="#000"><circle cx="1204.5" cy="945.5" r="4.9"/><circle cx="1230.5" cy="945.5" r="4.9"/><circle cx="1238.75" cy="945.5" r="4.9"/><circle cx="1250" cy="945.5" r="4.9"/><circle cx="1252" cy="945.5" r="4.9"/><circle cx="1267.5" cy="945.5" r="4.9"/><circle cx="1269.73" cy="945.5" r="4.9"/><circle cx="1271.96" cy="945.5" r="4.9"/><circle cx="1274.2" cy="945.5" r="4.9"/><circle cx="1276.43" cy="945.5" r="4.9"/><circle cx="1278.66" cy="945.5" r="4.9"/><circle cx="1280.89" cy="945.5" r="4.9"/><circle cx="1283.12" cy="945.5" r="4.9"/><circle cx="1285.36" cy="945.5" r="4.9"/><circle cx="1287.59" cy="945.5" r="4.9"/><circle cx="1289.82" cy="945.5" r="4.9"/><circle cx="1292.05" cy="945.5" r="4.9"/><circle cx="1294.29" cy="945.5" r="4.9"/><circle cx="1296.52" cy="945.5" r="4.9"/><circle cx="1298.75" cy="945.5" r="4.9"/><circle cx="1300.98" cy="945.5" r="4.9"/><circle cx="1303.21" cy="945.5" r="4.9"/><circle cx="1305.45" cy="945.5" r="4.9"/><circle cx="1307.68" cy="945.5" r="4.9"/><circle cx="1309.91" cy="945.5" r="4.9"/><circle cx="1312.14" cy="945.5" r="4.9"/><circle cx="1314.38" cy="945.5" r="4.9"/><circle cx="1316.61" cy="945.5" r="4.9"/><circle cx="1318.84" cy="945.5" r="4.9"/><circle cx="1321.07" cy="945.5" r="4.9"/><circle cx="1323.3" cy="945.5" r="4.9"/><circle cx="1325.54" cy="945.5" r="4.9"/><circle cx="1327.77" cy="945.5" r="4.9"/><circle cx="1330" cy="945.5" r="4.9"/><circle cx="1354.5" cy="945.5" r="4.9"/><circle cx="1368" cy="945.5" r="4.9"/><circle cx="1386" cy="945.5" r="4.9"/><circle cx="1388.29" cy="945.5" r="4.9"/><circle cx="1390.58" cy="945.5" r="4.9"/><circle cx="1392.88" cy="945.5" r="4.9"/><circle cx="1395.17" cy="945.5" r="4.9"/><circle cx="1397.46" cy="945.5" r="4.9"/><circle cx="1399.75" cy="945.5" r="4.9"/><circle cx="1402.04" cy="945.5" r="4.9"/><circle cx="1404.33" cy="945.5" r="4.9"/><circle cx="1406.62" cy="945.5" r="4.9"/><circle cx="1408.92" cy="945.5" r="4.9"/><circle cx="1411.21" cy="945.5" r="4.9"/><circle cx="1413.5" cy="945.5" r="4.9"/><circle cx="1415.79" cy="945.5" r="4.9"/><circle cx="1418.08" cy="945.5" r="4.9"/><circle cx="1420.38" cy="945.5" r="4.9"/><circle cx="1422.67" cy="945.5" r="4.9"/><circle cx="1424.96" cy="945.5" r="4.9"/><circle cx="1427.25" cy="945.5" r="4.9"/><circle cx="1429.54" cy="945.5" r="4.9"/><circle cx="1431.83" cy="945.5" r="4.9"/><circle cx="1434.12" cy="945.5" r="4.9"/><circle cx="1436.42" cy="945.5" r="4.9"/><circle cx="1438.71" cy="945.5" r="4.9"/><circle cx="1441" cy="945.5" r="4.9"/><circle cx="1455" cy="945.5" r="4.9"/><circle cx="1463.75" cy="945.5" r="4.9"/><circle cx="1470" cy="945.5" r="4.9"/><circle cx="1472.21" cy="945.5" r="4.9"/><circle cx="1474.41" cy="945.5" r="4.9"/><circle cx="1476.62" cy="945.5" r="4.9"/><circle cx="1478.82" cy="945.5" r="4.9"/><circle cx="1481.03" cy="945.5" r="4.9"/><circle cx="1483.24" cy="945.5" r="4.9"/><circle cx="1485.44" cy="945.5" r="4.9"/><circle cx="1487.65" cy="945.5" r="4.9"/><circle cx="1489.85" cy="945.5" r="4.9"/><circle cx="1492.06" cy="945.5" r="4.9"/><circle cx="1494.26" cy="945.5" r="4.9"/><circle cx="1496.47" cy="945.5" r="4.9"/><circle cx="1498.68" cy="945.5" r="4.9"/><circle cx="1500.88" cy="945.5" r="4.9"/><circle cx="1503.09" cy="945.5" r="4.9"/><circle cx="1505.29" cy="945.5" r="4.9"/><circle cx="1507.5" cy="945.5" r="4.9"/><circle cx="1509.71" cy="945.5" r="4.9"/><circle cx="1511.91" cy="945.5" r="4.9"/><circle cx="1514.12" cy="945.5" r="4.9"/><circle cx="1516.32" cy="945.5" r="4.9"/><circle cx="1518.53" cy="945.5" r="4.9"/><circle cx="1520.74" cy="945.5" r="4.9"/><circle cx="1522.94" cy="945.5" r="4.9"/><circle cx="1525.15" cy="945.5" r="4.9"/><circle cx="1527.35" cy="945.5" r="4.9"/><circle cx="1529.56" cy="945.5" r="4.9"/><circle cx="1531.76" cy="945.5" r="4.9"/><circle cx="1533.97" cy="945.5" r="4.9"/><circle cx="1536.18" cy="945.5" r="4.9"/><circle cx="1538.38" cy="945.5" r="4.9"/><circle cx="1540.59" cy="945.5" r="4.9"/><circle cx="1542.79" cy="945.5" r="4.9"/><circle cx="1545" cy="945.5" r="4.9"/><circle cx="1547.21" cy="945.5" r="4.9"/><circle cx="1549.41" cy="945.5" r="4.9"/><circle cx="1551.62" cy="945.5" r="4.9"/><circle cx="1553.82" cy="945.5" r="4.9"/><circle cx="1556.03" cy="945.5" r="4.9"/><circle cx="1558.24" cy="945.5" r="4.9"/><circle cx="1560.44" cy="945.5" r="4.9"/><circle cx="1562.65" cy="945.5" r="4.9"/><circle cx="1564.85" cy="945.5" r="4.9"/><circle cx="1567.06" cy="945.5" r="4.9"/><circle cx="1569.26" cy="945.5" r="4.9"/><circle cx="1571.47" cy="945.5" r="4.9"/><circle cx="1573.68" cy="945.5" r="4.9"/><circle cx="1575.88" cy="945.5" r="4.9"/><circle cx="1578.09" cy="945.5" r="4.9"/><circle cx="1580.29" cy="945.5" r="4.9"/><circle cx="1582.5" cy="945.5" r="4.9"/><circle cx="1584.71" cy="945.5" r="4.9"/><circle cx="1586.91" cy="945.5" r="4.9"/><circle cx="1589.12" cy="945.5" r="4.9"/><circle cx="1591.32" cy="945.5" r="4.9"/><circle cx="1593.53" cy="945.5" r="4.9"/><circle cx="1595.74" cy="945.5" r="4.9"/><circle cx="1597.94" cy="945.5" r="4.9"/><circle cx="1600.15" cy="945.5" r="4.9"/><circle cx="1602.35" cy="945.5" r="4.9"/><circle cx="1604.56" cy="945.5" r="4.9"/><circle cx="1606.76" cy="945.5" r="4.9"/><circle cx="1608.97" cy="945.5" r="4.9"/><circle cx="1611.18" cy="945.5" r="4.9"/><circle cx="1613.38" cy="945.5" r="4.9"/><circle cx="1615.59" cy="945.5" r="4.9"/><circle cx="1617.79" cy="945.5" r="4.9"/><circle cx="1620" cy="945.5" r="4.9"/><circle cx="1632.5" cy="945.5" r="4.9"/><circle cx="1634.73" cy="945.5" r="4.9"/><circle cx="1636.96" cy="945.5" r="4.9"/><circle cx="1639.19" cy="945.5" r="4.9"/><circle cx="1641.42" cy="945.5" r="4.9"/><circle cx="1643.65" cy="945.5" r="4.9"/><circle cx="1645.88" cy="945.5" r="4.9"/><circle cx="1648.11" cy="945.5" r="4.9"/><circle cx="1650.34" cy="945.5" r="4.9"/><circle cx="1652.57" cy="945.5" r="4.9"/><circle cx="1654.8" cy="945.5" r="4.9"/><circle cx="1657.03" cy="945.5" r="4.9"/><circle cx="1659.26" cy="945.5" r="4.9"/><circle cx="1661.49" cy="945.5" r="4.9"/><circle cx="1663.72" cy="945.5" r="4.9"/><circle cx="1665.95" cy="945.5" r="4.9"/><circle cx="1668.18" cy="945.5" r="4.9"/><circle cx="1670.41" cy="945.5" r="4.9"/><circle cx="1672.64" cy="945.5" r="4.9"/><circle cx="1674.86" cy="945.5" r="4.9"/><circle cx="1677.09" cy="945.5" r="4.9"/><circle cx="1679.32" cy="945.5" r="4.9"/><circle cx="1681.55" cy="945.5" r="4.9"/><circle cx="1683.78" cy="945.5" r="4.9"/><circle cx="1686.01" cy="945.5" r="4.9"/><circle cx="1688.24" cy="945.5" r="4.9"/><circle cx="1690.47" cy="945.5" r="4.9"/><circle cx="1692.7" cy="945.5" r="4.9"/><circle cx="1694.93" cy="945.5" r="4.9"/><circle cx="1697.16" cy="945.5" r="4.9"/><circle cx="1699.39" cy="945.5" r="4.9"/><circle cx="1701.62" cy="945.5" r="4.9"/><circle cx="1703.85" cy="945.5" r="4.9"/><circle cx="1706.08" cy="945.5" r="4.9"/><circle cx="1708.31" cy="945.5" r="4.9"/><circle cx="1710.54" cy="945.5" r="4.9"/><circle cx="1712.77" cy="945.5" r="4.9"/><circle cx="1715" cy="945.5" r="4.9"/></g>
<text x="1456.9" y="899.3" text-anchor="middle" font-size="20.2" textLength="66" lengthAdjust="spacingAndGlyphs">BRCA1</text>
<text x="1533.7" y="899.3" text-anchor="middle" font-size="20.2" textLength="55" lengthAdjust="spacingAndGlyphs">NBR2</text>
<polyline fill="none" stroke="#0000FF" stroke-width="4" stroke-linejoin="round" points="1457.5,936.5 1457.5,914 1431.3,914" stroke-linejoin="miter" stroke-linecap="butt"/>
<polyline fill="none" stroke="#0000FF" stroke-width="4" stroke-linejoin="round" points="1440.8,907.5 1431.3,914 1440.8,920.5" stroke-linejoin="miter" stroke-linecap="butt"/>
<polyline fill="none" stroke="#0000FF" stroke-width="4" stroke-linejoin="round" points="1532.5,936.5 1532.5,914 1560,914" stroke-linejoin="miter" stroke-linecap="butt"/>
<polyline fill="none" stroke="#0000FF" stroke-width="4" stroke-linejoin="round" points="1550.5,907.5 1560,914 1550.5,920.5" stroke-linejoin="miter" stroke-linecap="butt"/>
<text x="1784.5" y="935" font-size="21.5" textLength="83" lengthAdjust="spacingAndGlyphs">Average</text>
<text x="1784.5" y="957.6" font-size="21.5" textLength="114.5" lengthAdjust="spacingAndGlyphs">Methylation</text>
<defs><linearGradient id="cb2" x1="0" y1="0" x2="0" y2="1"><stop offset="0" stop-color="#8B0000"/><stop offset="0.05" stop-color="#942314"/><stop offset="0.1" stop-color="#9C3826"/><stop offset="0.15" stop-color="#A44A37"/><stop offset="0.2" stop-color="#AA5B49"/><stop offset="0.25" stop-color="#B06C5B"/><stop offset="0.3" stop-color="#B57C6E"/><stop offset="0.35" stop-color="#B98C81"/><stop offset="0.4" stop-color="#BC9D95"/><stop offset="0.45" stop-color="#BDADA9"/><stop offset="0.5" stop-color="#BEBEBE"/><stop offset="0.55" stop-color="#B7C5C4"/><stop offset="0.6" stop-color="#AFCBCB"/><stop offset="0.65" stop-color="#A6D2D1"/><stop offset="0.7" stop-color="#9DD9D8"/><stop offset="0.75" stop-color="#91DFDE"/><stop offset="0.8" stop-color="#84E6E5"/><stop offset="0.85" stop-color="#75ECEB"/><stop offset="0.9" stop-color="#61F2F2"/><stop offset="0.95" stop-color="#46F9F8"/><stop offset="1" stop-color="#00FFFF"/></linearGradient></defs>
<rect x="1783.9" y="971.5" width="31.5" height="302.5" fill="url(#cb2)"/>
<text x="1826.5" y="979" font-size="21.5">1.00</text>
<line x1="1783.9" y1="1046.5" x2="1789.9" y2="1046.5" stroke="#FFFFFF" stroke-width="1.6"/>
<line x1="1809.4" y1="1046.5" x2="1815.4" y2="1046.5" stroke="#FFFFFF" stroke-width="1.6"/>
<text x="1826.5" y="1054" font-size="21.5">0.75</text>
<line x1="1783.9" y1="1121.5" x2="1789.9" y2="1121.5" stroke="#FFFFFF" stroke-width="1.6"/>
<line x1="1809.4" y1="1121.5" x2="1815.4" y2="1121.5" stroke="#FFFFFF" stroke-width="1.6"/>
<text x="1826.5" y="1129" font-size="21.5">0.50</text>
<line x1="1783.9" y1="1196.5" x2="1789.9" y2="1196.5" stroke="#FFFFFF" stroke-width="1.6"/>
<line x1="1809.4" y1="1196.5" x2="1815.4" y2="1196.5" stroke="#FFFFFF" stroke-width="1.6"/>
<text x="1826.5" y="1204" font-size="21.5">0.25</text>
<text x="1826.5" y="1279" font-size="21.5">0.00</text>
<defs><clipPath id="chr17clip"><rect x="1380" y="1322.5" width="100" height="20"/></clipPath></defs>
<text x="1425.9" y="1333.7" text-anchor="middle" font-size="20" textLength="50" lengthAdjust="spacingAndGlyphs" clip-path="url(#chr17clip)">Chr17</text>
<text x="7.7" y="1396.3" font-weight="bold" font-size="37">f</text>
<line x1="148.4" y1="1718.2" x2="584.8" y2="1718.2" stroke="#EBEBEB" stroke-width="2.2"/>
<line x1="148.4" y1="1655.4" x2="584.8" y2="1655.4" stroke="#EBEBEB" stroke-width="2.2"/>
<line x1="148.4" y1="1592.6" x2="584.8" y2="1592.6" stroke="#EBEBEB" stroke-width="2.2"/>
<line x1="148.4" y1="1529.8" x2="584.8" y2="1529.8" stroke="#EBEBEB" stroke-width="2.2"/>
<rect x="329" y="1631.4" width="33.8" height="35.5" fill="#8B0000"/>
<rect x="331.1" y="1682" width="33.7" height="35.1" fill="#A9A9A9"/>
<text x="376.2" y="1656.4" font-size="24.2" textLength="124" lengthAdjust="spacingAndGlyphs">Cis-regulated</text>
<text x="374.5" y="1707" font-size="24.2" textLength="52" lengthAdjust="spacingAndGlyphs">Other</text>
<line x1="167.45" y1="1535.5" x2="167.45" y2="1594.3" stroke="#333333" stroke-width="1.1"/>
<line x1="167.45" y1="1633.2" x2="167.45" y2="1687.3" stroke="#333333" stroke-width="1.1"/>
<rect x="159.4" y="1594.3" width="16.1" height="38.9" fill="#BEBEBE" stroke="#333333" stroke-width="1.1"/>
<line x1="159.4" y1="1616.1" x2="175.5" y2="1616.1" stroke="#333333" stroke-width="2.4"/>
<line x1="185.6" y1="1528.2" x2="185.6" y2="1596" stroke="#333333" stroke-width="1.1"/>
<line x1="185.6" y1="1643.3" x2="185.6" y2="1687.3" stroke="#333333" stroke-width="1.1"/>
<rect x="177.5" y="1596" width="16.2" height="47.3" fill="#8B0000" stroke="#333333" stroke-width="1.1"/>
<line x1="177.5" y1="1618.7" x2="193.7" y2="1618.7" stroke="#333333" stroke-width="2.4"/>
<line x1="215.5" y1="1499" x2="215.5" y2="1546.5" stroke="#333333" stroke-width="1.1"/>
<line x1="215.5" y1="1594.1" x2="215.5" y2="1660.6" stroke="#333333" stroke-width="1.1"/>
<rect x="207.4" y="1546.5" width="16.2" height="47.6" fill="#BEBEBE" stroke="#333333" stroke-width="1.1"/>
<line x1="207.4" y1="1566.7" x2="223.6" y2="1566.7" stroke="#333333" stroke-width="2.4"/>
<line x1="233.25" y1="1504.2" x2="233.25" y2="1546.8" stroke="#333333" stroke-width="1.1"/>
<line x1="233.25" y1="1589.2" x2="233.25" y2="1648.7" stroke="#333333" stroke-width="1.1"/>
<rect x="225.3" y="1546.8" width="15.9" height="42.4" fill="#8B0000" stroke="#333333" stroke-width="1.1"/>
<line x1="225.3" y1="1566" x2="241.2" y2="1566" stroke="#333333" stroke-width="2.4"/>
<line x1="262.6" y1="1486" x2="262.6" y2="1524.7" stroke="#333333" stroke-width="1.1"/>
<line x1="262.6" y1="1565.3" x2="262.6" y2="1625.2" stroke="#333333" stroke-width="1.1"/>
<rect x="254.5" y="1524.7" width="16.2" height="40.6" fill="#BEBEBE" stroke="#333333" stroke-width="1.1"/>
<line x1="254.5" y1="1543.3" x2="270.7" y2="1543.3" stroke="#333333" stroke-width="2.4"/>
<line x1="280.75" y1="1490.2" x2="280.75" y2="1522.6" stroke="#333333" stroke-width="1.1"/>
<line x1="280.75" y1="1564.4" x2="280.75" y2="1620.3" stroke="#333333" stroke-width="1.1"/>
<rect x="272.8" y="1522.6" width="15.9" height="41.8" fill="#8B0000" stroke="#333333" stroke-width="1.1"/>
<line x1="272.8" y1="1540.5" x2="288.7" y2="1540.5" stroke="#333333" stroke-width="2.4"/>
<line x1="310.35" y1="1483.6" x2="310.35" y2="1512.4" stroke="#333333" stroke-width="1.1"/>
<line x1="310.35" y1="1550.3" x2="310.35" y2="1601.6" stroke="#333333" stroke-width="1.1"/>
<rect x="302.3" y="1512.4" width="16.1" height="37.9" fill="#BEBEBE" stroke="#333333" stroke-width="1.1"/>
<line x1="302.3" y1="1528.5" x2="318.4" y2="1528.5" stroke="#333333" stroke-width="2.4"/>
<line x1="328.25" y1="1484.3" x2="328.25" y2="1510.3" stroke="#333333" stroke-width="1.1"/>
<line x1="328.25" y1="1546.8" x2="328.25" y2="1601.6" stroke="#333333" stroke-width="1.1"/>
<rect x="320.3" y="1510.3" width="15.9" height="36.5" fill="#8B0000" stroke="#333333" stroke-width="1.1"/>
<line x1="320.3" y1="1525" x2="336.2" y2="1525" stroke="#333333" stroke-width="2.4"/>
<line x1="357.6" y1="1481.9" x2="357.6" y2="1506.3" stroke="#333333" stroke-width="1.1"/>
<line x1="357.6" y1="1540.9" x2="357.6" y2="1592.5" stroke="#333333" stroke-width="1.1"/>
<rect x="349.4" y="1506.3" width="16.4" height="34.6" fill="#BEBEBE" stroke="#333333" stroke-width="1.1"/>
<line x1="349.4" y1="1520.4" x2="365.8" y2="1520.4" stroke="#333333" stroke-width="2.4"/>
<line x1="375.6" y1="1483.6" x2="375.6" y2="1506" stroke="#333333" stroke-width="1.1"/>
<line x1="375.6" y1="1541.9" x2="375.6" y2="1594.6" stroke="#333333" stroke-width="1.1"/>
<rect x="367.6" y="1506" width="16" height="35.9" fill="#8B0000" stroke="#333333" stroke-width="1.1"/>
<line x1="367.6" y1="1520.4" x2="383.6" y2="1520.4" stroke="#333333" stroke-width="2.4"/>
<line x1="405.45" y1="1486" x2="405.45" y2="1507.4" stroke="#333333" stroke-width="1.1"/>
<line x1="405.45" y1="1542.2" x2="405.45" y2="1593.9" stroke="#333333" stroke-width="1.1"/>
<rect x="397.5" y="1507.4" width="15.9" height="34.8" fill="#BEBEBE" stroke="#333333" stroke-width="1.1"/>
<line x1="397.5" y1="1521.2" x2="413.4" y2="1521.2" stroke="#333333" stroke-width="2.4"/>
<line x1="423.45" y1="1485.2" x2="423.45" y2="1507.2" stroke="#333333" stroke-width="1.1"/>
<line x1="423.45" y1="1544.7" x2="423.45" y2="1598.5" stroke="#333333" stroke-width="1.1"/>
<rect x="415.5" y="1507.2" width="15.9" height="37.5" fill="#8B0000" stroke="#333333" stroke-width="1.1"/>
<line x1="415.5" y1="1521.9" x2="431.4" y2="1521.9" stroke="#333333" stroke-width="2.4"/>
<line x1="452.75" y1="1487.1" x2="452.75" y2="1514.5" stroke="#333333" stroke-width="1.1"/>
<line x1="452.75" y1="1548.5" x2="452.75" y2="1599.9" stroke="#333333" stroke-width="1.1"/>
<rect x="444.6" y="1514.5" width="16.3" height="34" fill="#BEBEBE" stroke="#333333" stroke-width="1.1"/>
<line x1="444.6" y1="1528.1" x2="460.9" y2="1528.1" stroke="#333333" stroke-width="2.4"/>
<line x1="470.85" y1="1490.2" x2="470.85" y2="1515.2" stroke="#333333" stroke-width="1.1"/>
<line x1="470.85" y1="1553.1" x2="470.85" y2="1608.3" stroke="#333333" stroke-width="1.1"/>
<rect x="463" y="1515.2" width="15.7" height="37.9" fill="#8B0000" stroke="#333333" stroke-width="1.1"/>
<line x1="463" y1="1530.9" x2="478.7" y2="1530.9" stroke="#333333" stroke-width="2.4"/>
<line x1="500.5" y1="1497.6" x2="500.5" y2="1531.3" stroke="#333333" stroke-width="1.1"/>
<line x1="500.5" y1="1566.5" x2="500.5" y2="1620.1" stroke="#333333" stroke-width="1.1"/>
<rect x="492.5" y="1531.3" width="16" height="35.2" fill="#BEBEBE" stroke="#333333" stroke-width="1.1"/>
<line x1="492.5" y1="1545.7" x2="508.5" y2="1545.7" stroke="#333333" stroke-width="2.4"/>
<line x1="518.4" y1="1500.4" x2="518.4" y2="1529.9" stroke="#333333" stroke-width="1.1"/>
<line x1="518.4" y1="1570.4" x2="518.4" y2="1630.4" stroke="#333333" stroke-width="1.1"/>
<rect x="510.3" y="1529.9" width="16.2" height="40.5" fill="#8B0000" stroke="#333333" stroke-width="1.1"/>
<line x1="510.3" y1="1545.7" x2="526.5" y2="1545.7" stroke="#333333" stroke-width="2.4"/>
<line x1="548.25" y1="1517.6" x2="548.25" y2="1571.7" stroke="#333333" stroke-width="1.1"/>
<line x1="548.25" y1="1617.3" x2="548.25" y2="1673.2" stroke="#333333" stroke-width="1.1"/>
<rect x="540.3" y="1571.7" width="15.9" height="45.6" fill="#BEBEBE" stroke="#333333" stroke-width="1.1"/>
<line x1="540.3" y1="1594.6" x2="556.2" y2="1594.6" stroke="#333333" stroke-width="2.4"/>
<line x1="566" y1="1526" x2="566" y2="1574.2" stroke="#333333" stroke-width="1.1"/>
<line x1="566" y1="1618.4" x2="566" y2="1673.2" stroke="#333333" stroke-width="1.1"/>
<rect x="558.1" y="1574.2" width="15.8" height="44.2" fill="#8B0000" stroke="#333333" stroke-width="1.1"/>
<line x1="558.1" y1="1595.7" x2="573.9" y2="1595.7" stroke="#333333" stroke-width="2.4"/>
<rect x="148.4" y="1454" width="436.4" height="275.6" fill="none" stroke="#B3B3B3" stroke-width="3"/>
<line x1="136.7" y1="1529.8" x2="146.8" y2="1529.8" stroke="#B3B3B3" stroke-width="2.2"/>
<text transform="translate(123.3 1538.2) scale(0.93 1)" text-anchor="end" fill="#4D4D4D" font-size="24.3">0.75</text>
<line x1="136.7" y1="1592.6" x2="146.8" y2="1592.6" stroke="#B3B3B3" stroke-width="2.2"/>
<text transform="translate(123.3 1601) scale(0.93 1)" text-anchor="end" fill="#4D4D4D" font-size="24.3">0.50</text>
<line x1="136.7" y1="1655.4" x2="146.8" y2="1655.4" stroke="#B3B3B3" stroke-width="2.2"/>
<text transform="translate(123.3 1663.8) scale(0.93 1)" text-anchor="end" fill="#4D4D4D" font-size="24.3">0.25</text>
<line x1="136.7" y1="1718.2" x2="146.8" y2="1718.2" stroke="#B3B3B3" stroke-width="2.2"/>
<text transform="translate(123.3 1726.6) scale(0.93 1)" text-anchor="end" fill="#4D4D4D" font-size="24.3">0.00</text>
<text transform="translate(55 1600) rotate(-90)" text-anchor="middle" font-size="24.2" textLength="171" lengthAdjust="spacingAndGlyphs">Epipolymorphism</text>
<line x1="176.6" y1="1731" x2="176.6" y2="1741.5" stroke="#B3B3B3" stroke-width="2.2"/>
<text transform="translate(186.6 1751.8) rotate(-90)" text-anchor="end" fill="#4D4D4D" font-size="22.3" textLength="105.6" lengthAdjust="spacingAndGlyphs">[0.05,0.15]</text>
<line x1="224.15" y1="1731" x2="224.15" y2="1741.5" stroke="#B3B3B3" stroke-width="2.2"/>
<text transform="translate(234.15 1751.8) rotate(-90)" text-anchor="end" fill="#4D4D4D" font-size="22.3" textLength="105.6" lengthAdjust="spacingAndGlyphs">(0.15,0.25]</text>
<line x1="271.7" y1="1731" x2="271.7" y2="1741.5" stroke="#B3B3B3" stroke-width="2.2"/>
<text transform="translate(281.7 1751.8) rotate(-90)" text-anchor="end" fill="#4D4D4D" font-size="22.3" textLength="105.6" lengthAdjust="spacingAndGlyphs">(0.25,0.35]</text>
<line x1="319.25" y1="1731" x2="319.25" y2="1741.5" stroke="#B3B3B3" stroke-width="2.2"/>
<text transform="translate(329.25 1751.8) rotate(-90)" text-anchor="end" fill="#4D4D4D" font-size="22.3" textLength="105.6" lengthAdjust="spacingAndGlyphs">(0.35,0.45]</text>
<line x1="366.8" y1="1731" x2="366.8" y2="1741.5" stroke="#B3B3B3" stroke-width="2.2"/>
<text transform="translate(376.8 1751.8) rotate(-90)" text-anchor="end" fill="#4D4D4D" font-size="22.3" textLength="105.6" lengthAdjust="spacingAndGlyphs">(0.45,0.55]</text>
<line x1="414.35" y1="1731" x2="414.35" y2="1741.5" stroke="#B3B3B3" stroke-width="2.2"/>
<text transform="translate(424.35 1751.8) rotate(-90)" text-anchor="end" fill="#4D4D4D" font-size="22.3" textLength="105.6" lengthAdjust="spacingAndGlyphs">(0.55,0.65]</text>
<line x1="461.9" y1="1731" x2="461.9" y2="1741.5" stroke="#B3B3B3" stroke-width="2.2"/>
<text transform="translate(471.9 1751.8) rotate(-90)" text-anchor="end" fill="#4D4D4D" font-size="22.3" textLength="105.6" lengthAdjust="spacingAndGlyphs">(0.65,0.75]</text>
<line x1="509.45" y1="1731" x2="509.45" y2="1741.5" stroke="#B3B3B3" stroke-width="2.2"/>
<text transform="translate(519.45 1751.8) rotate(-90)" text-anchor="end" fill="#4D4D4D" font-size="22.3" textLength="105.6" lengthAdjust="spacingAndGlyphs">(0.75,0.85]</text>
<line x1="557" y1="1731" x2="557" y2="1741.5" stroke="#B3B3B3" stroke-width="2.2"/>
<text transform="translate(567 1751.8) rotate(-90)" text-anchor="end" fill="#4D4D4D" font-size="22.3" textLength="105.6" lengthAdjust="spacingAndGlyphs">(0.85,0.95]</text>
<text x="352" y="1896.4" text-anchor="middle" font-size="24.2" textLength="211.5" lengthAdjust="spacingAndGlyphs">Promoter methylation</text>
<text x="155.9" y="1524.7" fill="#FF0000" font-weight="bold" font-size="21" textLength="31.6" lengthAdjust="spacingAndGlyphs">****</text>
<text x="440.6" y="1479.8" fill="#FF0000" font-weight="bold" font-size="21" textLength="31" lengthAdjust="spacingAndGlyphs">****</text>
<text x="544" y="1507.3" fill="#FF0000" font-weight="bold" font-size="21" textLength="15.5" lengthAdjust="spacingAndGlyphs">**</text>
<text x="672.4" y="1402.5" font-weight="bold" font-size="37">g</text>
<path d="M851 1717.3C865.83 1717.3 921.5 1717.43 940 1717.3C958.5 1717.17 955.95 1717.08 962 1716.5C968.05 1715.92 969.82 1715.85 976.3 1713.8C982.78 1711.75 989.18 1707.57 1000.9 1704.2C1012.62 1700.83 1031.67 1697.12 1046.6 1693.6C1061.53 1690.08 1078.78 1687.48 1090.5 1683.1C1102.22 1678.72 1109.28 1672.87 1116.9 1667.3C1124.52 1661.73 1130.35 1657.32 1136.2 1649.7C1142.05 1642.08 1147.03 1632.72 1152 1621.6C1156.97 1610.48 1161.62 1596.77 1166 1583C1170.38 1569.23 1174.2 1554.23 1178.3 1539C1182.4 1523.77 1187.95 1501.6 1190.6 1491.6C1193.25 1481.6 1192.13 1482.13 1194.2 1479C1196.27 1475.87 1199.53 1473.87 1203 1472.8C1206.47 1471.73 1208.33 1472.63 1215 1472.6C1221.67 1472.57 1238.33 1472.6 1243 1472.6" fill="none" stroke="#8B0000" stroke-width="3.8" stroke-linejoin="round"/>
<path d="M851.4 1717.3C886.17 1717.3 1018.4 1717.88 1060 1717.3C1101.6 1716.72 1090.05 1716.58 1101 1713.8C1111.95 1711.02 1119.83 1704.25 1125.7 1700.6C1131.57 1696.95 1132.98 1695.4 1136.2 1691.9C1139.42 1688.4 1142.07 1685.47 1145 1679.6C1147.93 1673.73 1151.17 1664.02 1153.8 1656.7C1156.43 1649.38 1158.77 1642.72 1160.8 1635.7C1162.83 1628.68 1164.25 1621.93 1166 1614.6C1167.75 1607.27 1169.53 1599.9 1171.3 1591.7C1173.07 1583.5 1174.55 1575.63 1176.6 1565.4C1178.65 1555.17 1181.55 1540.55 1183.6 1530.3C1185.65 1520.05 1187.13 1512.1 1188.9 1503.9C1190.67 1495.7 1191.85 1486.22 1194.2 1481.1C1196.55 1475.98 1199.53 1474.58 1203 1473.2C1206.47 1471.82 1208.33 1472.87 1215 1472.8C1221.67 1472.73 1238.33 1472.8 1243 1472.8" fill="none" stroke="#B0B0B0" stroke-width="3.8" stroke-linejoin="round" stroke-dasharray="15.5 12.2"/>
<rect x="849.2" y="1461.2" width="395.3" height="268.6" fill="none" stroke="#B3B3B3" stroke-width="3"/>
<line x1="835.5" y1="1473.2" x2="847" y2="1473.2" stroke="#B3B3B3" stroke-width="2.2"/>
<text transform="translate(822.3 1481.6) scale(0.93 1)" text-anchor="end" fill="#4D4D4D" font-size="24.3">100%</text>
<line x1="835.5" y1="1534.17" x2="847" y2="1534.17" stroke="#B3B3B3" stroke-width="2.2"/>
<text transform="translate(822.3 1542.58) scale(0.93 1)" text-anchor="end" fill="#4D4D4D" font-size="24.3">75%</text>
<line x1="835.5" y1="1595.15" x2="847" y2="1595.15" stroke="#B3B3B3" stroke-width="2.2"/>
<text transform="translate(822.3 1603.55) scale(0.93 1)" text-anchor="end" fill="#4D4D4D" font-size="24.3">50%</text>
<line x1="835.5" y1="1656.12" x2="847" y2="1656.12" stroke="#B3B3B3" stroke-width="2.2"/>
<text transform="translate(822.3 1664.53) scale(0.93 1)" text-anchor="end" fill="#4D4D4D" font-size="24.3">25%</text>
<line x1="835.5" y1="1717.1" x2="847" y2="1717.1" stroke="#B3B3B3" stroke-width="2.2"/>
<text transform="translate(822.3 1725.5) scale(0.93 1)" text-anchor="end" fill="#4D4D4D" font-size="24.3">0%</text>
<line x1="867.2" y1="1731.3" x2="867.2" y2="1742" stroke="#B3B3B3" stroke-width="2.2"/>
<text transform="translate(867.2 1772.1) scale(0.93 1)" text-anchor="middle" fill="#4D4D4D" font-size="24.3">TSS</text>
<line x1="947" y1="1731.3" x2="947" y2="1742" stroke="#B3B3B3" stroke-width="2.2"/>
<text transform="translate(947 1772.1) scale(0.93 1)" text-anchor="middle" fill="#4D4D4D" font-size="24.3">100</text>
<line x1="1026.8" y1="1731.3" x2="1026.8" y2="1742" stroke="#B3B3B3" stroke-width="2.2"/>
<text transform="translate(1026.8 1772.1) scale(0.93 1)" text-anchor="middle" fill="#4D4D4D" font-size="24.3">10K</text>
<line x1="1106.6" y1="1731.3" x2="1106.6" y2="1742" stroke="#B3B3B3" stroke-width="2.2"/>
<text transform="translate(1106.6 1772.1) scale(0.93 1)" text-anchor="middle" fill="#4D4D4D" font-size="24.3">1M</text>
<line x1="1186.4" y1="1731.3" x2="1186.4" y2="1742" stroke="#B3B3B3" stroke-width="2.2"/>
<text transform="translate(1186.4 1772.1) scale(0.93 1)" text-anchor="middle" fill="#4D4D4D" font-size="24.3">100M</text>
<text x="936.5" y="1501.6" font-size="24.2" textLength="109" lengthAdjust="spacingAndGlyphs">P &lt;&lt; 0.001</text>
<text x="936.5" y="1526.7" font-size="24.2" textLength="45" lengthAdjust="spacingAndGlyphs">(KS)</text>
<text transform="translate(761 1605.4) rotate(-90)" text-anchor="middle" font-size="24.2" textLength="82.4" lengthAdjust="spacingAndGlyphs">% of loci</text>
<text x="1047.8" y="1809.6" text-anchor="middle" font-size="24.2" textLength="375" lengthAdjust="spacingAndGlyphs">Distance to most correlated gene (bp)</text>
<rect x="1469" y="1477.8" width="57.9" height="249.2" fill="#8B0000"/>
<rect x="1535.3" y="1588.5" width="57.1" height="138.5" fill="#A9A9A9"/>
<rect x="1633.7" y="1538.8" width="57.1" height="188.2" fill="#8B0000"/>
<rect x="1699.3" y="1586.6" width="57.5" height="140.4" fill="#A9A9A9"/>
<rect x="1432.3" y="1466.2" width="361.5" height="272.8" fill="none" stroke="#B3B3B3" stroke-width="3"/>
<line x1="1411.5" y1="1493.2" x2="1430.5" y2="1493.2" stroke="#B3B3B3" stroke-width="2.2"/>
<text transform="translate(1405.5 1501.6) scale(0.93 1)" text-anchor="end" fill="#4D4D4D" font-size="24.3">8%</text>
<line x1="1411.5" y1="1551.9" x2="1430.5" y2="1551.9" stroke="#B3B3B3" stroke-width="2.2"/>
<text transform="translate(1405.5 1560.3) scale(0.93 1)" text-anchor="end" fill="#4D4D4D" font-size="24.3">6%</text>
<line x1="1411.5" y1="1609.8" x2="1430.5" y2="1609.8" stroke="#B3B3B3" stroke-width="2.2"/>
<text transform="translate(1405.5 1618.2) scale(0.93 1)" text-anchor="end" fill="#4D4D4D" font-size="24.3">4%</text>
<line x1="1411.5" y1="1668.4" x2="1430.5" y2="1668.4" stroke="#B3B3B3" stroke-width="2.2"/>
<text transform="translate(1405.5 1676.8) scale(0.93 1)" text-anchor="end" fill="#4D4D4D" font-size="24.3">2%</text>
<line x1="1411.5" y1="1727" x2="1430.5" y2="1727" stroke="#B3B3B3" stroke-width="2.2"/>
<text transform="translate(1405.5 1735.4) scale(0.93 1)" text-anchor="end" fill="#4D4D4D" font-size="24.3">0%</text>
<line x1="1530.7" y1="1740.5" x2="1530.7" y2="1757.1" stroke="#B3B3B3" stroke-width="2.2"/>
<text transform="translate(1530.7 1793) scale(0.93 1)" text-anchor="middle" fill="#4D4D4D" font-size="24.3">ER+</text>
<line x1="1694.7" y1="1740.5" x2="1694.7" y2="1757.1" stroke="#B3B3B3" stroke-width="2.2"/>
<text transform="translate(1694.7 1793) scale(0.93 1)" text-anchor="middle" fill="#4D4D4D" font-size="24.3">ER-</text>
<text transform="translate(1350.5 1611) rotate(-90)" text-anchor="middle" font-size="24.2" textLength="220" lengthAdjust="spacingAndGlyphs">% Same chromosome</text>
<rect x="1818.9" y="1551.1" width="33.6" height="35.5" fill="#8B0000"/>
<rect x="1818.9" y="1604" width="33.6" height="35.5" fill="#A9A9A9"/>
<text x="1859.5" y="1577" font-size="24.2" textLength="90" lengthAdjust="spacingAndGlyphs">Observed</text>
<text x="1865.7" y="1629" font-size="24.2" textLength="77" lengthAdjust="spacingAndGlyphs">Shuffled</text>
<text x="6.3" y="1973.8" font-weight="bold" font-size="37">h</text>
<line x1="220.6" y1="2385.83" x2="473.6" y2="2385.83" stroke="#F2F2F2" stroke-width="1.2"/>
<line x1="220.6" y1="2327.88" x2="473.6" y2="2327.88" stroke="#F2F2F2" stroke-width="1.2"/>
<line x1="220.6" y1="2269.93" x2="473.6" y2="2269.93" stroke="#F2F2F2" stroke-width="1.2"/>
<line x1="220.6" y1="2211.98" x2="473.6" y2="2211.98" stroke="#F2F2F2" stroke-width="1.2"/>
<line x1="241.2" y1="2172" x2="241.2" y2="2426" stroke="#F2F2F2" stroke-width="1.2"/>
<line x1="293.6" y1="2172" x2="293.6" y2="2426" stroke="#F2F2F2" stroke-width="1.2"/>
<line x1="346" y1="2172" x2="346" y2="2426" stroke="#F2F2F2" stroke-width="1.2"/>
<line x1="398.4" y1="2172" x2="398.4" y2="2426" stroke="#F2F2F2" stroke-width="1.2"/>
<line x1="450.8" y1="2172" x2="450.8" y2="2426" stroke="#F2F2F2" stroke-width="1.2"/>
<line x1="220.6" y1="2414.8" x2="473.6" y2="2414.8" stroke="#E3E3E3" stroke-width="1.4"/>
<line x1="220.6" y1="2356.85" x2="473.6" y2="2356.85" stroke="#E3E3E3" stroke-width="1.4"/>
<line x1="220.6" y1="2298.9" x2="473.6" y2="2298.9" stroke="#E3E3E3" stroke-width="1.4"/>
<line x1="220.6" y1="2240.95" x2="473.6" y2="2240.95" stroke="#E3E3E3" stroke-width="1.4"/>
<line x1="220.6" y1="2183" x2="473.6" y2="2183" stroke="#E3E3E3" stroke-width="1.4"/>
<line x1="267.4" y1="2172" x2="267.4" y2="2426" stroke="#E3E3E3" stroke-width="1.4"/>
<line x1="319.8" y1="2172" x2="319.8" y2="2426" stroke="#E3E3E3" stroke-width="1.4"/>
<line x1="372.2" y1="2172" x2="372.2" y2="2426" stroke="#E3E3E3" stroke-width="1.4"/>
<line x1="424.6" y1="2172" x2="424.6" y2="2426" stroke="#E3E3E3" stroke-width="1.4"/>
<g fill="#3AB996">
<circle cx="326.86" cy="2392.47" r="2.9"/><circle cx="281.34" cy="2324.04" r="2.9"/><circle cx="276.55" cy="2299.43" r="2.9"/><circle cx="284" cy="2318.01" r="2.9"/><circle cx="268.86" cy="2325.63" r="2.9"/><circle cx="277.02" cy="2263.6" r="2.9"/><circle cx="301.75" cy="2287.78" r="2.9"/><circle cx="312.47" cy="2382.98" r="2.9"/><circle cx="312.75" cy="2289.07" r="2.9"/><circle cx="288.47" cy="2366.96" r="2.9"/><circle cx="279.9" cy="2344.93" r="2.9"/><circle cx="290.32" cy="2336.42" r="2.9"/><circle cx="333.26" cy="2357.95" r="2.9"/><circle cx="283.14" cy="2386.73" r="2.9"/><circle cx="271.89" cy="2255.9" r="2.9"/><circle cx="293.14" cy="2338.89" r="2.9"/><circle cx="313.4" cy="2392.08" r="2.9"/><circle cx="312.3" cy="2350.39" r="2.9"/><circle cx="285.89" cy="2316.71" r="2.9"/><circle cx="285.24" cy="2311.82" r="2.9"/><circle cx="248.67" cy="2373.58" r="2.9"/><circle cx="282.06" cy="2248.03" r="2.9"/><circle cx="276.71" cy="2237.88" r="2.9"/><circle cx="298.56" cy="2378.27" r="2.9"/><circle cx="301.43" cy="2341.07" r="2.9"/><circle cx="267.48" cy="2268.15" r="2.9"/><circle cx="272.66" cy="2404.04" r="2.9"/><circle cx="330.04" cy="2362.91" r="2.9"/><circle cx="265" cy="2329.74" r="2.9"/><circle cx="281.14" cy="2410.94" r="2.9"/><circle cx="282.95" cy="2358.17" r="2.9"/><circle cx="289.94" cy="2325.83" r="2.9"/><circle cx="314.76" cy="2319.18" r="2.9"/><circle cx="307.6" cy="2362.24" r="2.9"/><circle cx="291.94" cy="2403.79" r="2.9"/><circle cx="330.9" cy="2400.55" r="2.9"/><circle cx="307.44" cy="2345.93" r="2.9"/><circle cx="283.96" cy="2303.13" r="2.9"/><circle cx="286.39" cy="2329.26" r="2.9"/><circle cx="304.87" cy="2353.92" r="2.9"/><circle cx="328.7" cy="2387.66" r="2.9"/><circle cx="310.3" cy="2336.34" r="2.9"/><circle cx="273.29" cy="2322.09" r="2.9"/><circle cx="290.96" cy="2353.14" r="2.9"/><circle cx="322.3" cy="2389.05" r="2.9"/><circle cx="317.22" cy="2337.04" r="2.9"/><circle cx="262.87" cy="2356.52" r="2.9"/><circle cx="342.31" cy="2379.02" r="2.9"/><circle cx="294.03" cy="2368.6" r="2.9"/><circle cx="278.29" cy="2271.8" r="2.9"/><circle cx="273.5" cy="2257.59" r="2.9"/><circle cx="261.85" cy="2265.6" r="2.9"/><circle cx="295.81" cy="2381.72" r="2.9"/><circle cx="285.64" cy="2299.57" r="2.9"/><circle cx="327.96" cy="2360.06" r="2.9"/><circle cx="292.93" cy="2361.87" r="2.9"/><circle cx="308.61" cy="2339.24" r="2.9"/><circle cx="274.39" cy="2297.51" r="2.9"/><circle cx="292.46" cy="2326.84" r="2.9"/><circle cx="266.31" cy="2303.96" r="2.9"/><circle cx="292.64" cy="2402.35" r="2.9"/><circle cx="321.21" cy="2414.8" r="2.9"/><circle cx="251.23" cy="2353.6" r="2.9"/><circle cx="303.58" cy="2364.84" r="2.9"/><circle cx="323.53" cy="2327.92" r="2.9"/><circle cx="270.79" cy="2364.27" r="2.9"/><circle cx="268.02" cy="2366.05" r="2.9"/><circle cx="309.45" cy="2387.93" r="2.9"/><circle cx="321.99" cy="2380.85" r="2.9"/><circle cx="307.68" cy="2385.41" r="2.9"/><circle cx="285.53" cy="2414.8" r="2.9"/><circle cx="297.46" cy="2414.8" r="2.9"/><circle cx="296.07" cy="2276.14" r="2.9"/><circle cx="254.84" cy="2326.42" r="2.9"/><circle cx="302.4" cy="2407.64" r="2.9"/><circle cx="276.25" cy="2269.84" r="2.9"/><circle cx="284.18" cy="2360.43" r="2.9"/><circle cx="293.96" cy="2378" r="2.9"/><circle cx="289.7" cy="2347.57" r="2.9"/><circle cx="368.96" cy="2414.8" r="2.9"/><circle cx="292.6" cy="2366.95" r="2.9"/><circle cx="237" cy="2312.81" r="2.9"/><circle cx="284.08" cy="2346.47" r="2.9"/><circle cx="322.67" cy="2390.85" r="2.9"/><circle cx="327.47" cy="2397.25" r="2.9"/><circle cx="287.83" cy="2351.5" r="2.9"/><circle cx="302.57" cy="2307.48" r="2.9"/><circle cx="275.62" cy="2269.73" r="2.9"/><circle cx="313.04" cy="2354.47" r="2.9"/><circle cx="276.73" cy="2353.57" r="2.9"/><circle cx="293.9" cy="2382.84" r="2.9"/><circle cx="296.12" cy="2355.43" r="2.9"/><circle cx="297.66" cy="2350.96" r="2.9"/><circle cx="324.51" cy="2381.52" r="2.9"/><circle cx="315.51" cy="2348.17" r="2.9"/><circle cx="440.76" cy="2382.12" r="2.9"/><circle cx="262.94" cy="2340.07" r="2.9"/><circle cx="295.76" cy="2301.58" r="2.9"/><circle cx="268.45" cy="2289.4" r="2.9"/><circle cx="270.81" cy="2290.4" r="2.9"/><circle cx="283.23" cy="2414.8" r="2.9"/><circle cx="263.05" cy="2284.17" r="2.9"/><circle cx="239.85" cy="2325.32" r="2.9"/><circle cx="291.06" cy="2388.32" r="2.9"/><circle cx="297.71" cy="2388.4" r="2.9"/><circle cx="300.6" cy="2349.51" r="2.9"/><circle cx="286.27" cy="2297.19" r="2.9"/><circle cx="286.67" cy="2286.41" r="2.9"/><circle cx="269.54" cy="2327.54" r="2.9"/><circle cx="347.23" cy="2399.19" r="2.9"/><circle cx="325.11" cy="2391.97" r="2.9"/><circle cx="261.94" cy="2261.31" r="2.9"/><circle cx="278.51" cy="2383.99" r="2.9"/><circle cx="269.17" cy="2289.59" r="2.9"/><circle cx="313.04" cy="2414.8" r="2.9"/><circle cx="277.72" cy="2259.97" r="2.9"/><circle cx="318.78" cy="2414.8" r="2.9"/><circle cx="310.7" cy="2336.39" r="2.9"/><circle cx="290.21" cy="2316" r="2.9"/><circle cx="303.34" cy="2359.47" r="2.9"/><circle cx="267.08" cy="2315.06" r="2.9"/><circle cx="296.19" cy="2246.63" r="2.9"/><circle cx="295.79" cy="2315.07" r="2.9"/><circle cx="296.66" cy="2342.99" r="2.9"/><circle cx="315.47" cy="2337.26" r="2.9"/><circle cx="278.47" cy="2289.87" r="2.9"/><circle cx="259.47" cy="2321.48" r="2.9"/><circle cx="312.78" cy="2386.55" r="2.9"/><circle cx="303.84" cy="2407.44" r="2.9"/><circle cx="284.25" cy="2264.74" r="2.9"/><circle cx="271.51" cy="2280.37" r="2.9"/><circle cx="298.88" cy="2346.98" r="2.9"/><circle cx="277.97" cy="2316.01" r="2.9"/><circle cx="274.21" cy="2356.54" r="2.9"/><circle cx="293.58" cy="2314.38" r="2.9"/><circle cx="257.9" cy="2258.55" r="2.9"/><circle cx="276.92" cy="2340.99" r="2.9"/><circle cx="252.2" cy="2287.13" r="2.9"/><circle cx="248.97" cy="2410.42" r="2.9"/><circle cx="287.86" cy="2334.1" r="2.9"/><circle cx="256.92" cy="2293.39" r="2.9"/><circle cx="311.09" cy="2412.32" r="2.9"/><circle cx="301.67" cy="2316.35" r="2.9"/><circle cx="257.79" cy="2375.81" r="2.9"/><circle cx="266.69" cy="2339.36" r="2.9"/><circle cx="258.71" cy="2386.47" r="2.9"/><circle cx="243.21" cy="2301.8" r="2.9"/><circle cx="271.42" cy="2234.37" r="2.9"/><circle cx="248.15" cy="2291.8" r="2.9"/><circle cx="294.68" cy="2311.09" r="2.9"/><circle cx="312.28" cy="2331.73" r="2.9"/><circle cx="287.19" cy="2357.63" r="2.9"/><circle cx="296.46" cy="2354.46" r="2.9"/><circle cx="235.95" cy="2233.22" r="2.9"/><circle cx="251.74" cy="2231.16" r="2.9"/><circle cx="285.24" cy="2396.87" r="2.9"/><circle cx="269.68" cy="2287.29" r="2.9"/><circle cx="288.01" cy="2338.96" r="2.9"/><circle cx="290.97" cy="2353.1" r="2.9"/><circle cx="295.15" cy="2379.95" r="2.9"/><circle cx="394.28" cy="2414.8" r="2.9"/><circle cx="287.1" cy="2290.93" r="2.9"/><circle cx="275.37" cy="2258.11" r="2.9"/><circle cx="282.72" cy="2337.24" r="2.9"/><circle cx="278.82" cy="2315.82" r="2.9"/><circle cx="291.8" cy="2285.92" r="2.9"/><circle cx="297.28" cy="2413.75" r="2.9"/><circle cx="285.2" cy="2346.59" r="2.9"/><circle cx="262.42" cy="2345.27" r="2.9"/><circle cx="287.14" cy="2282.51" r="2.9"/><circle cx="290.21" cy="2414.8" r="2.9"/><circle cx="293.52" cy="2302.93" r="2.9"/><circle cx="326.76" cy="2355.53" r="2.9"/><circle cx="294.78" cy="2300.99" r="2.9"/><circle cx="258.71" cy="2303.74" r="2.9"/><circle cx="301.54" cy="2371.74" r="2.9"/><circle cx="246.92" cy="2289.41" r="2.9"/><circle cx="263.38" cy="2205.87" r="2.9"/><circle cx="279.54" cy="2286.31" r="2.9"/><circle cx="271.44" cy="2276.12" r="2.9"/><circle cx="260.26" cy="2263.7" r="2.9"/><circle cx="280.32" cy="2252.95" r="2.9"/><circle cx="343.09" cy="2402.12" r="2.9"/><circle cx="290.05" cy="2397.23" r="2.9"/><circle cx="340.73" cy="2394.57" r="2.9"/><circle cx="302.03" cy="2293.22" r="2.9"/><circle cx="330.55" cy="2401.37" r="2.9"/><circle cx="314.6" cy="2334.46" r="2.9"/><circle cx="285.17" cy="2301.06" r="2.9"/><circle cx="300.61" cy="2346.01" r="2.9"/><circle cx="274.2" cy="2306.46" r="2.9"/><circle cx="312.34" cy="2355.95" r="2.9"/><circle cx="335.92" cy="2402.89" r="2.9"/><circle cx="295.15" cy="2301.25" r="2.9"/><circle cx="262.4" cy="2370.27" r="2.9"/><circle cx="278.18" cy="2215.5" r="2.9"/><circle cx="311.22" cy="2386.99" r="2.9"/><circle cx="293.26" cy="2326.25" r="2.9"/><circle cx="296.06" cy="2287.12" r="2.9"/><circle cx="284.22" cy="2362.21" r="2.9"/><circle cx="282.36" cy="2357.25" r="2.9"/><circle cx="271.45" cy="2310.59" r="2.9"/><circle cx="300.97" cy="2267.82" r="2.9"/><circle cx="302.65" cy="2374.49" r="2.9"/><circle cx="271.5" cy="2292.34" r="2.9"/><circle cx="255.35" cy="2304.75" r="2.9"/><circle cx="314.94" cy="2374.03" r="2.9"/><circle cx="302.88" cy="2360.2" r="2.9"/><circle cx="303.43" cy="2403.14" r="2.9"/><circle cx="270.9" cy="2263.46" r="2.9"/><circle cx="283.63" cy="2254.46" r="2.9"/><circle cx="303.35" cy="2367.86" r="2.9"/><circle cx="310.3" cy="2347.88" r="2.9"/><circle cx="271.99" cy="2272.48" r="2.9"/><circle cx="278.13" cy="2320.23" r="2.9"/><circle cx="314.95" cy="2396.65" r="2.9"/><circle cx="259.47" cy="2326.66" r="2.9"/><circle cx="301.14" cy="2336.92" r="2.9"/><circle cx="277.02" cy="2331.24" r="2.9"/><circle cx="321.56" cy="2370.31" r="2.9"/><circle cx="286.2" cy="2408.08" r="2.9"/><circle cx="250.17" cy="2320.18" r="2.9"/><circle cx="299.69" cy="2396.35" r="2.9"/><circle cx="293.05" cy="2293.43" r="2.9"/><circle cx="278.35" cy="2279.79" r="2.9"/><circle cx="305.69" cy="2298.42" r="2.9"/><circle cx="298.49" cy="2308.59" r="2.9"/><circle cx="275.63" cy="2296.11" r="2.9"/><circle cx="277.69" cy="2300.08" r="2.9"/><circle cx="310.22" cy="2324.41" r="2.9"/><circle cx="295.74" cy="2359.08" r="2.9"/><circle cx="308.53" cy="2340.15" r="2.9"/><circle cx="288.51" cy="2349.36" r="2.9"/><circle cx="298.78" cy="2362.02" r="2.9"/><circle cx="302.96" cy="2321.36" r="2.9"/><circle cx="282.36" cy="2313.86" r="2.9"/><circle cx="287.41" cy="2260.49" r="2.9"/><circle cx="349.49" cy="2414.8" r="2.9"/><circle cx="279.13" cy="2357.37" r="2.9"/><circle cx="280.17" cy="2306.56" r="2.9"/><circle cx="305.76" cy="2412.95" r="2.9"/><circle cx="271.82" cy="2370.79" r="2.9"/><circle cx="280.78" cy="2240.7" r="2.9"/><circle cx="315.74" cy="2387.97" r="2.9"/><circle cx="253.83" cy="2308.47" r="2.9"/><circle cx="282.34" cy="2411.16" r="2.9"/><circle cx="274.02" cy="2253.25" r="2.9"/><circle cx="307.68" cy="2392.95" r="2.9"/><circle cx="273.19" cy="2235.93" r="2.9"/><circle cx="299.16" cy="2414.8" r="2.9"/><circle cx="307.32" cy="2380.17" r="2.9"/><circle cx="309.26" cy="2331.96" r="2.9"/><circle cx="253.29" cy="2299.01" r="2.9"/><circle cx="256.23" cy="2361.13" r="2.9"/><circle cx="317.59" cy="2403.74" r="2.9"/><circle cx="297" cy="2227.11" r="2.9"/><circle cx="296.07" cy="2385.38" r="2.9"/><circle cx="275.89" cy="2226.28" r="2.9"/><circle cx="319.44" cy="2369.42" r="2.9"/><circle cx="274.88" cy="2383.15" r="2.9"/><circle cx="253.28" cy="2281.74" r="2.9"/><circle cx="291.61" cy="2381.53" r="2.9"/><circle cx="296.63" cy="2380.54" r="2.9"/><circle cx="262.09" cy="2351.71" r="2.9"/><circle cx="292.91" cy="2387.23" r="2.9"/><circle cx="350.17" cy="2414.8" r="2.9"/><circle cx="270.58" cy="2284.24" r="2.9"/><circle cx="361.53" cy="2409.81" r="2.9"/><circle cx="310.14" cy="2330.84" r="2.9"/><circle cx="298.61" cy="2341.43" r="2.9"/><circle cx="296.67" cy="2347.65" r="2.9"/><circle cx="294.75" cy="2404.32" r="2.9"/><circle cx="301.56" cy="2409.41" r="2.9"/><circle cx="272.58" cy="2352.96" r="2.9"/><circle cx="340.48" cy="2375.22" r="2.9"/><circle cx="315.41" cy="2407.52" r="2.9"/><circle cx="281.73" cy="2302.82" r="2.9"/><circle cx="302.83" cy="2336.94" r="2.9"/><circle cx="305.94" cy="2413.8" r="2.9"/><circle cx="352.43" cy="2393.97" r="2.9"/><circle cx="299.88" cy="2363.66" r="2.9"/><circle cx="291.1" cy="2371.53" r="2.9"/><circle cx="304.35" cy="2409.52" r="2.9"/><circle cx="282.19" cy="2332.53" r="2.9"/><circle cx="341.72" cy="2403.99" r="2.9"/><circle cx="373.46" cy="2414.8" r="2.9"/><circle cx="310.8" cy="2374.59" r="2.9"/><circle cx="272.43" cy="2297.77" r="2.9"/><circle cx="271.45" cy="2341.33" r="2.9"/><circle cx="262.76" cy="2210.33" r="2.9"/><circle cx="274.63" cy="2307.95" r="2.9"/><circle cx="307.36" cy="2395.84" r="2.9"/><circle cx="293.68" cy="2336.06" r="2.9"/><circle cx="286.46" cy="2406" r="2.9"/><circle cx="271.72" cy="2249.1" r="2.9"/><circle cx="290.5" cy="2403.19" r="2.9"/><circle cx="329.95" cy="2381.64" r="2.9"/><circle cx="288.28" cy="2333.38" r="2.9"/><circle cx="303.87" cy="2398.77" r="2.9"/><circle cx="270.04" cy="2323.04" r="2.9"/><circle cx="256.42" cy="2315.34" r="2.9"/><circle cx="339.6" cy="2407.36" r="2.9"/><circle cx="272.15" cy="2390.3" r="2.9"/><circle cx="267.46" cy="2414.8" r="2.9"/><circle cx="287.65" cy="2340.65" r="2.9"/><circle cx="272.96" cy="2352.96" r="2.9"/><circle cx="404.2" cy="2386.21" r="2.9"/><circle cx="291.32" cy="2305.01" r="2.9"/><circle cx="231.45" cy="2341.57" r="2.9"/><circle cx="290.89" cy="2336.44" r="2.9"/><circle cx="302.64" cy="2333.56" r="2.9"/><circle cx="283.36" cy="2288.28" r="2.9"/><circle cx="245.09" cy="2258.49" r="2.9"/><circle cx="305.13" cy="2294.79" r="2.9"/><circle cx="318.79" cy="2392.34" r="2.9"/><circle cx="303.91" cy="2312.38" r="2.9"/><circle cx="273.93" cy="2248.93" r="2.9"/><circle cx="240.81" cy="2244.05" r="2.9"/><circle cx="304.2" cy="2398.24" r="2.9"/><circle cx="296.58" cy="2351.95" r="2.9"/><circle cx="419.05" cy="2397.22" r="2.9"/><circle cx="313.62" cy="2357.89" r="2.9"/><circle cx="272.03" cy="2258.03" r="2.9"/><circle cx="304.99" cy="2359.49" r="2.9"/><circle cx="302.38" cy="2285.88" r="2.9"/><circle cx="276.24" cy="2284.69" r="2.9"/><circle cx="298.16" cy="2333.01" r="2.9"/><circle cx="265.7" cy="2342.04" r="2.9"/><circle cx="277" cy="2312.46" r="2.9"/><circle cx="281.15" cy="2326.55" r="2.9"/><circle cx="291.6" cy="2344.11" r="2.9"/><circle cx="280.24" cy="2346.12" r="2.9"/><circle cx="265.85" cy="2373.24" r="2.9"/><circle cx="277.68" cy="2406.54" r="2.9"/><circle cx="328.98" cy="2396.06" r="2.9"/><circle cx="306.54" cy="2414.8" r="2.9"/><circle cx="249.66" cy="2295.15" r="2.9"/><circle cx="283.37" cy="2362.42" r="2.9"/><circle cx="316.79" cy="2394.26" r="2.9"/><circle cx="307.83" cy="2398.51" r="2.9"/><circle cx="231.24" cy="2282.49" r="2.9"/><circle cx="297.12" cy="2402.96" r="2.9"/><circle cx="314.28" cy="2330.74" r="2.9"/><circle cx="337.73" cy="2351.41" r="2.9"/><circle cx="280.9" cy="2302.89" r="2.9"/><circle cx="268.5" cy="2336.32" r="2.9"/><circle cx="293.62" cy="2296.83" r="2.9"/><circle cx="300.37" cy="2367.83" r="2.9"/><circle cx="332.82" cy="2347.42" r="2.9"/><circle cx="296.23" cy="2365.66" r="2.9"/><circle cx="357.77" cy="2414.8" r="2.9"/><circle cx="315.79" cy="2405.79" r="2.9"/><circle cx="264.82" cy="2283.1" r="2.9"/><circle cx="333.13" cy="2414.8" r="2.9"/><circle cx="281.69" cy="2358.23" r="2.9"/><circle cx="281.96" cy="2330.64" r="2.9"/><circle cx="318.39" cy="2353.52" r="2.9"/><circle cx="284.65" cy="2308.47" r="2.9"/><circle cx="348.52" cy="2410.13" r="2.9"/><circle cx="284.54" cy="2265.44" r="2.9"/><circle cx="257.85" cy="2354.43" r="2.9"/><circle cx="346.29" cy="2377.98" r="2.9"/><circle cx="276.12" cy="2373.01" r="2.9"/><circle cx="273.82" cy="2279.55" r="2.9"/><circle cx="273.7" cy="2372.19" r="2.9"/><circle cx="305.16" cy="2314.04" r="2.9"/><circle cx="296.83" cy="2392.39" r="2.9"/><circle cx="301.35" cy="2406.84" r="2.9"/><circle cx="289.02" cy="2399" r="2.9"/><circle cx="255.94" cy="2378.63" r="2.9"/><circle cx="308.63" cy="2354.52" r="2.9"/><circle cx="321.12" cy="2356.63" r="2.9"/><circle cx="301.32" cy="2312.32" r="2.9"/><circle cx="300.73" cy="2414.8" r="2.9"/><circle cx="293.86" cy="2335.37" r="2.9"/><circle cx="282.54" cy="2287.56" r="2.9"/><circle cx="294.16" cy="2414.8" r="2.9"/><circle cx="273.54" cy="2236.81" r="2.9"/><circle cx="362.28" cy="2408.36" r="2.9"/><circle cx="298.85" cy="2402.38" r="2.9"/><circle cx="276.64" cy="2326.07" r="2.9"/><circle cx="271.2" cy="2349.73" r="2.9"/><circle cx="308.2" cy="2388.86" r="2.9"/><circle cx="233.78" cy="2255.24" r="2.9"/><circle cx="302.15" cy="2296.3" r="2.9"/><circle cx="292.35" cy="2403.25" r="2.9"/><circle cx="246.45" cy="2268.97" r="2.9"/><circle cx="259.89" cy="2286.57" r="2.9"/><circle cx="299.71" cy="2363.04" r="2.9"/><circle cx="312.34" cy="2411.35" r="2.9"/><circle cx="284.59" cy="2267.7" r="2.9"/><circle cx="300.96" cy="2370.3" r="2.9"/><circle cx="263.05" cy="2278.14" r="2.9"/><circle cx="256.25" cy="2312.45" r="2.9"/><circle cx="328.5" cy="2374" r="2.9"/><circle cx="279.74" cy="2414.8" r="2.9"/><circle cx="280.93" cy="2298.71" r="2.9"/><circle cx="281.58" cy="2231.12" r="2.9"/><circle cx="278.87" cy="2261.15" r="2.9"/><circle cx="305.57" cy="2386.45" r="2.9"/><circle cx="283.74" cy="2411.8" r="2.9"/><circle cx="264.84" cy="2368.81" r="2.9"/><circle cx="332.3" cy="2407.54" r="2.9"/><circle cx="247.73" cy="2260.17" r="2.9"/><circle cx="285.59" cy="2339.46" r="2.9"/><circle cx="310.68" cy="2376.96" r="2.9"/><circle cx="293.09" cy="2335.64" r="2.9"/><circle cx="267.83" cy="2349.56" r="2.9"/><circle cx="312.43" cy="2387.16" r="2.9"/><circle cx="292.59" cy="2414.8" r="2.9"/><circle cx="389.4" cy="2382.72" r="2.9"/><circle cx="286.21" cy="2353.52" r="2.9"/><circle cx="297.23" cy="2359.49" r="2.9"/><circle cx="310.96" cy="2376.55" r="2.9"/><circle cx="316.12" cy="2312.29" r="2.9"/><circle cx="333.35" cy="2357.6" r="2.9"/><circle cx="267.48" cy="2329.08" r="2.9"/><circle cx="287.67" cy="2386.15" r="2.9"/><circle cx="293.62" cy="2333.54" r="2.9"/><circle cx="244.82" cy="2318.2" r="2.9"/><circle cx="358.69" cy="2378.83" r="2.9"/><circle cx="306.72" cy="2391.22" r="2.9"/><circle cx="298.08" cy="2295.05" r="2.9"/><circle cx="286.39" cy="2408.74" r="2.9"/><circle cx="315.4" cy="2386.65" r="2.9"/><circle cx="291.44" cy="2382" r="2.9"/><circle cx="272.26" cy="2250.84" r="2.9"/><circle cx="248.21" cy="2271.8" r="2.9"/><circle cx="272.68" cy="2342.67" r="2.9"/><circle cx="296.69" cy="2325.84" r="2.9"/><circle cx="263.67" cy="2272.03" r="2.9"/><circle cx="293.22" cy="2307.25" r="2.9"/><circle cx="275.61" cy="2334" r="2.9"/><circle cx="310.78" cy="2369.84" r="2.9"/><circle cx="313.81" cy="2411.55" r="2.9"/><circle cx="297.54" cy="2376.4" r="2.9"/><circle cx="298.21" cy="2311.25" r="2.9"/><circle cx="292.57" cy="2371.41" r="2.9"/><circle cx="273.8" cy="2289.73" r="2.9"/><circle cx="298.98" cy="2294.12" r="2.9"/><circle cx="271.37" cy="2332.1" r="2.9"/><circle cx="256.6" cy="2328.17" r="2.9"/><circle cx="274.35" cy="2352.1" r="2.9"/><circle cx="299.96" cy="2413.99" r="2.9"/><circle cx="291.98" cy="2405.31" r="2.9"/><circle cx="319.85" cy="2379.51" r="2.9"/><circle cx="302.43" cy="2261.68" r="2.9"/><circle cx="274.88" cy="2303.42" r="2.9"/><circle cx="328.85" cy="2357.79" r="2.9"/><circle cx="325.74" cy="2403.2" r="2.9"/><circle cx="304.73" cy="2392.53" r="2.9"/><circle cx="307.22" cy="2354.06" r="2.9"/><circle cx="296.51" cy="2343.31" r="2.9"/><circle cx="337.3" cy="2393.31" r="2.9"/><circle cx="265.67" cy="2340.64" r="2.9"/><circle cx="271.7" cy="2305.1" r="2.9"/><circle cx="302.35" cy="2352" r="2.9"/><circle cx="270.47" cy="2409.72" r="2.9"/><circle cx="323.67" cy="2414.8" r="2.9"/><circle cx="322.61" cy="2361.99" r="2.9"/><circle cx="271.67" cy="2298.6" r="2.9"/><circle cx="320.85" cy="2388.18" r="2.9"/><circle cx="324.49" cy="2405.33" r="2.9"/><circle cx="304.79" cy="2359.92" r="2.9"/><circle cx="265.48" cy="2277.7" r="2.9"/><circle cx="318.87" cy="2408.35" r="2.9"/><circle cx="320.44" cy="2379.1" r="2.9"/><circle cx="283.65" cy="2411.27" r="2.9"/><circle cx="319.21" cy="2398.55" r="2.9"/><circle cx="295.96" cy="2407.44" r="2.9"/><circle cx="270.58" cy="2375.44" r="2.9"/><circle cx="321.92" cy="2404.55" r="2.9"/><circle cx="257.45" cy="2307.33" r="2.9"/><circle cx="324.26" cy="2357.74" r="2.9"/><circle cx="323.72" cy="2358" r="2.9"/><circle cx="296.36" cy="2309.37" r="2.9"/><circle cx="338.47" cy="2371.88" r="2.9"/><circle cx="280.39" cy="2248.2" r="2.9"/><circle cx="280.1" cy="2353.98" r="2.9"/><circle cx="358.34" cy="2407.17" r="2.9"/><circle cx="253.83" cy="2213.19" r="2.9"/><circle cx="261.16" cy="2271.14" r="2.9"/><circle cx="326.44" cy="2363.67" r="2.9"/><circle cx="247.89" cy="2308.64" r="2.9"/><circle cx="247.9" cy="2330.81" r="2.9"/><circle cx="275.97" cy="2301.36" r="2.9"/><circle cx="294.5" cy="2369.56" r="2.9"/><circle cx="291.68" cy="2307.96" r="2.9"/><circle cx="278.11" cy="2274.25" r="2.9"/><circle cx="276.92" cy="2319.13" r="2.9"/><circle cx="309.12" cy="2373.14" r="2.9"/><circle cx="299.45" cy="2363.13" r="2.9"/><circle cx="326.86" cy="2363.38" r="2.9"/><circle cx="303.99" cy="2385.07" r="2.9"/><circle cx="284.17" cy="2353.22" r="2.9"/><circle cx="278.94" cy="2243.6" r="2.9"/><circle cx="279.44" cy="2414.8" r="2.9"/><circle cx="318.99" cy="2371.06" r="2.9"/><circle cx="272.19" cy="2343.78" r="2.9"/><circle cx="303.62" cy="2353.27" r="2.9"/><circle cx="266.23" cy="2279.24" r="2.9"/><circle cx="301.17" cy="2387.6" r="2.9"/><circle cx="302.38" cy="2276.85" r="2.9"/><circle cx="266.72" cy="2261.5" r="2.9"/><circle cx="274.52" cy="2251.33" r="2.9"/><circle cx="300.89" cy="2332.73" r="2.9"/><circle cx="295.61" cy="2332.04" r="2.9"/><circle cx="283.06" cy="2343.61" r="2.9"/><circle cx="285.36" cy="2317.43" r="2.9"/><circle cx="313.94" cy="2337.94" r="2.9"/><circle cx="294.83" cy="2382.38" r="2.9"/><circle cx="301.19" cy="2275.64" r="2.9"/><circle cx="282.11" cy="2279.44" r="2.9"/><circle cx="292.36" cy="2349.26" r="2.9"/><circle cx="281.47" cy="2254.38" r="2.9"/><circle cx="310.38" cy="2378.5" r="2.9"/><circle cx="276.91" cy="2264.56" r="2.9"/><circle cx="291.61" cy="2374.99" r="2.9"/><circle cx="286.33" cy="2414.8" r="2.9"/><circle cx="300.75" cy="2334.32" r="2.9"/><circle cx="268.9" cy="2206.36" r="2.9"/><circle cx="280.64" cy="2268.85" r="2.9"/><circle cx="309.25" cy="2386.28" r="2.9"/><circle cx="305.13" cy="2414.8" r="2.9"/><circle cx="267.46" cy="2414.8" r="2.9"/><circle cx="294.28" cy="2398.72" r="2.9"/><circle cx="282.37" cy="2232" r="2.9"/><circle cx="291.09" cy="2395.12" r="2.9"/><circle cx="276.08" cy="2356.58" r="2.9"/><circle cx="326.29" cy="2377.96" r="2.9"/><circle cx="305.2" cy="2354.51" r="2.9"/><circle cx="322.99" cy="2335.86" r="2.9"/><circle cx="296.49" cy="2342.98" r="2.9"/><circle cx="284.83" cy="2392.04" r="2.9"/><circle cx="269.53" cy="2360.47" r="2.9"/><circle cx="294.71" cy="2346.17" r="2.9"/><circle cx="257.28" cy="2311.29" r="2.9"/><circle cx="293.06" cy="2300.37" r="2.9"/><circle cx="294.71" cy="2355.97" r="2.9"/><circle cx="335.19" cy="2405.78" r="2.9"/><circle cx="293.63" cy="2353.6" r="2.9"/><circle cx="281.02" cy="2381.57" r="2.9"/><circle cx="260.39" cy="2249.36" r="2.9"/><circle cx="260.9" cy="2216.56" r="2.9"/><circle cx="323.89" cy="2414.8" r="2.9"/><circle cx="255.08" cy="2257.8" r="2.9"/><circle cx="318.32" cy="2373.49" r="2.9"/><circle cx="258.61" cy="2264.7" r="2.9"/><circle cx="283.78" cy="2393.69" r="2.9"/><circle cx="360.26" cy="2409.07" r="2.9"/><circle cx="283.97" cy="2320.1" r="2.9"/><circle cx="280.88" cy="2366.01" r="2.9"/><circle cx="267.59" cy="2218.71" r="2.9"/><circle cx="288.54" cy="2335.26" r="2.9"/><circle cx="252.53" cy="2277.15" r="2.9"/><circle cx="297.68" cy="2367.4" r="2.9"/><circle cx="325.56" cy="2404.15" r="2.9"/><circle cx="270.95" cy="2272.53" r="2.9"/><circle cx="297.11" cy="2393.22" r="2.9"/><circle cx="283.66" cy="2324.17" r="2.9"/><circle cx="343.24" cy="2384.47" r="2.9"/><circle cx="293.12" cy="2365.66" r="2.9"/><circle cx="301.7" cy="2328.64" r="2.9"/><circle cx="275.51" cy="2305.6" r="2.9"/><circle cx="248.97" cy="2217.31" r="2.9"/><circle cx="317.52" cy="2354.41" r="2.9"/><circle cx="277.11" cy="2335.63" r="2.9"/><circle cx="317.2" cy="2333.46" r="2.9"/><circle cx="255.18" cy="2266.52" r="2.9"/><circle cx="319.93" cy="2401.64" r="2.9"/><circle cx="314.08" cy="2346.06" r="2.9"/><circle cx="301.81" cy="2341.58" r="2.9"/><circle cx="281.58" cy="2414.8" r="2.9"/><circle cx="249.31" cy="2342.22" r="2.9"/><circle cx="296.5" cy="2308.85" r="2.9"/><circle cx="294.32" cy="2269.63" r="2.9"/><circle cx="305.58" cy="2396.22" r="2.9"/><circle cx="271.14" cy="2195.35" r="2.9"/><circle cx="333.67" cy="2343.65" r="2.9"/><circle cx="327.42" cy="2383.74" r="2.9"/><circle cx="305.6" cy="2327.87" r="2.9"/><circle cx="293.96" cy="2371.39" r="2.9"/><circle cx="289.28" cy="2345.93" r="2.9"/><circle cx="278.04" cy="2321.89" r="2.9"/><circle cx="247.36" cy="2353.94" r="2.9"/><circle cx="429.07" cy="2407.45" r="2.9"/><circle cx="282.17" cy="2362.78" r="2.9"/><circle cx="286.5" cy="2414.8" r="2.9"/><circle cx="308.36" cy="2414.8" r="2.9"/><circle cx="281.39" cy="2317.32" r="2.9"/><circle cx="300.26" cy="2412.18" r="2.9"/><circle cx="311.05" cy="2385.37" r="2.9"/><circle cx="266.38" cy="2336.34" r="2.9"/><circle cx="286.04" cy="2394.45" r="2.9"/><circle cx="297.31" cy="2326.4" r="2.9"/><circle cx="311.2" cy="2291.09" r="2.9"/><circle cx="289.41" cy="2298.65" r="2.9"/><circle cx="271.91" cy="2332.06" r="2.9"/><circle cx="298.77" cy="2390.24" r="2.9"/><circle cx="291.28" cy="2414.8" r="2.9"/><circle cx="289.47" cy="2352.7" r="2.9"/><circle cx="300.37" cy="2413.37" r="2.9"/><circle cx="290.31" cy="2306.2" r="2.9"/><circle cx="276.53" cy="2294.55" r="2.9"/><circle cx="366.91" cy="2388.38" r="2.9"/><circle cx="263.14" cy="2318.25" r="2.9"/><circle cx="342.52" cy="2414.19" r="2.9"/><circle cx="249.27" cy="2265.3" r="2.9"/><circle cx="311.29" cy="2386.02" r="2.9"/><circle cx="256.07" cy="2318.55" r="2.9"/><circle cx="305.52" cy="2401.17" r="2.9"/><circle cx="391.62" cy="2414.8" r="2.9"/><circle cx="386.87" cy="2390.62" r="2.9"/><circle cx="287.15" cy="2350.11" r="2.9"/><circle cx="319.94" cy="2311.54" r="2.9"/><circle cx="262.4" cy="2336.18" r="2.9"/><circle cx="296.02" cy="2353.86" r="2.9"/><circle cx="282.44" cy="2349.96" r="2.9"/><circle cx="316.79" cy="2365.69" r="2.9"/><circle cx="307.52" cy="2414.8" r="2.9"/><circle cx="345.36" cy="2404.94" r="2.9"/><circle cx="266.67" cy="2254.41" r="2.9"/><circle cx="283.78" cy="2247.07" r="2.9"/><circle cx="284.98" cy="2309.54" r="2.9"/><circle cx="332.4" cy="2358.62" r="2.9"/><circle cx="303.51" cy="2286.23" r="2.9"/><circle cx="265.94" cy="2196.51" r="2.9"/><circle cx="297.66" cy="2414.8" r="2.9"/><circle cx="267.01" cy="2297.13" r="2.9"/><circle cx="292.02" cy="2360.39" r="2.9"/><circle cx="255.43" cy="2258.81" r="2.9"/><circle cx="278.38" cy="2364.12" r="2.9"/><circle cx="296.49" cy="2350.39" r="2.9"/><circle cx="274.78" cy="2322.72" r="2.9"/><circle cx="300.39" cy="2363.79" r="2.9"/><circle cx="336.35" cy="2352.72" r="2.9"/><circle cx="309.39" cy="2306.61" r="2.9"/><circle cx="264" cy="2261.73" r="2.9"/><circle cx="302.34" cy="2413.5" r="2.9"/><circle cx="308.49" cy="2390.87" r="2.9"/><circle cx="276.98" cy="2329.46" r="2.9"/><circle cx="259.76" cy="2288.56" r="2.9"/><circle cx="309.41" cy="2388.86" r="2.9"/><circle cx="269.78" cy="2322.5" r="2.9"/><circle cx="285.92" cy="2341.42" r="2.9"/><circle cx="327.65" cy="2342.24" r="2.9"/><circle cx="324.11" cy="2364.83" r="2.9"/><circle cx="300.22" cy="2409.58" r="2.9"/><circle cx="331.29" cy="2410.99" r="2.9"/><circle cx="249.63" cy="2260.51" r="2.9"/><circle cx="249.23" cy="2228.09" r="2.9"/><circle cx="295.3" cy="2379.1" r="2.9"/><circle cx="266.64" cy="2362.7" r="2.9"/><circle cx="309.82" cy="2342.83" r="2.9"/><circle cx="305.51" cy="2404.74" r="2.9"/><circle cx="272.76" cy="2230.37" r="2.9"/><circle cx="259.07" cy="2342.81" r="2.9"/><circle cx="262.62" cy="2283.66" r="2.9"/><circle cx="370.52" cy="2408.03" r="2.9"/><circle cx="286.74" cy="2364.27" r="2.9"/><circle cx="323.84" cy="2340.45" r="2.9"/><circle cx="271.63" cy="2356.71" r="2.9"/><circle cx="313.76" cy="2335.73" r="2.9"/><circle cx="299.37" cy="2341.63" r="2.9"/><circle cx="264.2" cy="2223.2" r="2.9"/><circle cx="309.24" cy="2402.53" r="2.9"/><circle cx="356.44" cy="2410.91" r="2.9"/><circle cx="317.55" cy="2339.68" r="2.9"/><circle cx="257.1" cy="2302.03" r="2.9"/><circle cx="301.7" cy="2357.52" r="2.9"/><circle cx="287.2" cy="2332.63" r="2.9"/><circle cx="285.93" cy="2282.13" r="2.9"/><circle cx="269.59" cy="2369.27" r="2.9"/><circle cx="263.68" cy="2325.54" r="2.9"/><circle cx="250.7" cy="2265.86" r="2.9"/><circle cx="303.16" cy="2366.16" r="2.9"/><circle cx="286.57" cy="2383.13" r="2.9"/><circle cx="339.63" cy="2386.73" r="2.9"/><circle cx="338.71" cy="2406.03" r="2.9"/><circle cx="284.05" cy="2357.04" r="2.9"/><circle cx="294.13" cy="2414.8" r="2.9"/><circle cx="311.75" cy="2332.04" r="2.9"/><circle cx="313.72" cy="2321.32" r="2.9"/><circle cx="298.03" cy="2393.57" r="2.9"/><circle cx="346.18" cy="2414.8" r="2.9"/><circle cx="260.37" cy="2209.42" r="2.9"/><circle cx="252.04" cy="2288.94" r="2.9"/><circle cx="261.23" cy="2227.79" r="2.9"/><circle cx="279.37" cy="2252.78" r="2.9"/><circle cx="290.29" cy="2273.44" r="2.9"/><circle cx="281.95" cy="2350.62" r="2.9"/><circle cx="298.99" cy="2318.98" r="2.9"/><circle cx="259.18" cy="2401.19" r="2.9"/><circle cx="299.88" cy="2324.6" r="2.9"/><circle cx="270.82" cy="2359.7" r="2.9"/><circle cx="278.41" cy="2410.46" r="2.9"/><circle cx="339.84" cy="2392.29" r="2.9"/><circle cx="320.87" cy="2347.18" r="2.9"/><circle cx="294.43" cy="2324.2" r="2.9"/><circle cx="293.36" cy="2321.23" r="2.9"/><circle cx="291.39" cy="2350.4" r="2.9"/><circle cx="434.15" cy="2387.08" r="2.9"/><circle cx="315.58" cy="2351.48" r="2.9"/><circle cx="323.57" cy="2414.8" r="2.9"/><circle cx="289.19" cy="2266.73" r="2.9"/><circle cx="269.25" cy="2318.6" r="2.9"/><circle cx="285.01" cy="2366.93" r="2.9"/><circle cx="262.03" cy="2281.68" r="2.9"/><circle cx="267.33" cy="2234.75" r="2.9"/><circle cx="285.76" cy="2401.53" r="2.9"/><circle cx="300" cy="2335.48" r="2.9"/><circle cx="264.23" cy="2352.75" r="2.9"/><circle cx="317.72" cy="2344.45" r="2.9"/><circle cx="324.49" cy="2376.37" r="2.9"/><circle cx="275.06" cy="2355.07" r="2.9"/><circle cx="277.85" cy="2301.2" r="2.9"/><circle cx="366.5" cy="2370.87" r="2.9"/><circle cx="269.48" cy="2324.77" r="2.9"/><circle cx="293.74" cy="2355" r="2.9"/><circle cx="297.12" cy="2381.73" r="2.9"/><circle cx="259.92" cy="2366.16" r="2.9"/><circle cx="253.95" cy="2317.67" r="2.9"/><circle cx="245.45" cy="2385.45" r="2.9"/><circle cx="293.99" cy="2396.4" r="2.9"/><circle cx="278.49" cy="2302.97" r="2.9"/><circle cx="277.26" cy="2207.52" r="2.9"/><circle cx="252.27" cy="2227.23" r="2.9"/><circle cx="304.06" cy="2309.3" r="2.9"/><circle cx="283.3" cy="2205.98" r="2.9"/><circle cx="316.68" cy="2319.98" r="2.9"/><circle cx="274.48" cy="2267.36" r="2.9"/><circle cx="276.61" cy="2271.98" r="2.9"/><circle cx="287.37" cy="2386.94" r="2.9"/><circle cx="259.45" cy="2330.33" r="2.9"/><circle cx="253.74" cy="2300.17" r="2.9"/><circle cx="323.8" cy="2369.49" r="2.9"/><circle cx="271.13" cy="2291.5" r="2.9"/><circle cx="313.11" cy="2357.26" r="2.9"/><circle cx="279.46" cy="2408" r="2.9"/><circle cx="297.8" cy="2357.38" r="2.9"/><circle cx="345.27" cy="2362.42" r="2.9"/><circle cx="316.68" cy="2333.82" r="2.9"/><circle cx="288.34" cy="2330.86" r="2.9"/><circle cx="300.3" cy="2352.18" r="2.9"/><circle cx="310.13" cy="2366.19" r="2.9"/><circle cx="281.71" cy="2333.58" r="2.9"/><circle cx="298.47" cy="2387.24" r="2.9"/><circle cx="309.82" cy="2339.65" r="2.9"/><circle cx="298.48" cy="2370.95" r="2.9"/><circle cx="304.28" cy="2324.25" r="2.9"/><circle cx="322.25" cy="2378.09" r="2.9"/><circle cx="366.53" cy="2410.46" r="2.9"/><circle cx="253.71" cy="2269.34" r="2.9"/><circle cx="312.3" cy="2366.43" r="2.9"/><circle cx="292.66" cy="2381.08" r="2.9"/><circle cx="288.67" cy="2414.8" r="2.9"/><circle cx="308.56" cy="2363.98" r="2.9"/><circle cx="294.67" cy="2361.24" r="2.9"/><circle cx="285.34" cy="2382.9" r="2.9"/><circle cx="280.26" cy="2366.29" r="2.9"/><circle cx="304.48" cy="2379.7" r="2.9"/><circle cx="318.55" cy="2349.74" r="2.9"/><circle cx="304.56" cy="2367.21" r="2.9"/><circle cx="277.03" cy="2328.25" r="2.9"/><circle cx="307.7" cy="2394.44" r="2.9"/><circle cx="298.01" cy="2332.72" r="2.9"/><circle cx="261.86" cy="2277.4" r="2.9"/><circle cx="300.4" cy="2322.05" r="2.9"/><circle cx="290.41" cy="2288.99" r="2.9"/><circle cx="306.9" cy="2337.32" r="2.9"/><circle cx="274.61" cy="2354.53" r="2.9"/><circle cx="336.26" cy="2390.31" r="2.9"/><circle cx="301.34" cy="2374.83" r="2.9"/><circle cx="271.81" cy="2256.54" r="2.9"/><circle cx="284.71" cy="2234.95" r="2.9"/><circle cx="282.8" cy="2335.4" r="2.9"/><circle cx="293.77" cy="2388.12" r="2.9"/><circle cx="287.82" cy="2356.05" r="2.9"/><circle cx="298.88" cy="2369.67" r="2.9"/><circle cx="276.71" cy="2222.92" r="2.9"/><circle cx="302.7" cy="2292.85" r="2.9"/><circle cx="299.57" cy="2294.25" r="2.9"/><circle cx="300.88" cy="2316.45" r="2.9"/><circle cx="352.37" cy="2414.8" r="2.9"/><circle cx="264.9" cy="2288.52" r="2.9"/><circle cx="332.63" cy="2392.02" r="2.9"/><circle cx="264.06" cy="2328.42" r="2.9"/><circle cx="308.91" cy="2361" r="2.9"/><circle cx="250.22" cy="2284.68" r="2.9"/><circle cx="260.38" cy="2268.86" r="2.9"/><circle cx="318.4" cy="2362.22" r="2.9"/><circle cx="276.62" cy="2371.87" r="2.9"/><circle cx="262.63" cy="2269.86" r="2.9"/><circle cx="305.76" cy="2387.71" r="2.9"/><circle cx="290.75" cy="2336.71" r="2.9"/><circle cx="311.58" cy="2331.51" r="2.9"/><circle cx="260.88" cy="2282.84" r="2.9"/><circle cx="319.12" cy="2405.05" r="2.9"/><circle cx="311.62" cy="2264.33" r="2.9"/><circle cx="252.85" cy="2220.36" r="2.9"/><circle cx="302.91" cy="2342.14" r="2.9"/><circle cx="273.65" cy="2219.11" r="2.9"/><circle cx="266.08" cy="2325.91" r="2.9"/><circle cx="267.56" cy="2246.37" r="2.9"/><circle cx="309.82" cy="2370.37" r="2.9"/><circle cx="305.75" cy="2310.97" r="2.9"/><circle cx="293.05" cy="2384.52" r="2.9"/><circle cx="311.66" cy="2357.65" r="2.9"/><circle cx="309.37" cy="2370.41" r="2.9"/><circle cx="313.59" cy="2344.39" r="2.9"/><circle cx="294.48" cy="2303.69" r="2.9"/><circle cx="262.45" cy="2378.39" r="2.9"/><circle cx="276.36" cy="2288.88" r="2.9"/><circle cx="274.71" cy="2308.06" r="2.9"/><circle cx="290.65" cy="2263.24" r="2.9"/><circle cx="278.22" cy="2364.76" r="2.9"/><circle cx="262.42" cy="2356.61" r="2.9"/><circle cx="257.58" cy="2317.13" r="2.9"/><circle cx="278.74" cy="2299.45" r="2.9"/><circle cx="312.25" cy="2371.4" r="2.9"/><circle cx="273.05" cy="2301.83" r="2.9"/><circle cx="283.74" cy="2408.8" r="2.9"/><circle cx="301.67" cy="2414.8" r="2.9"/><circle cx="290.25" cy="2269.3" r="2.9"/><circle cx="302.01" cy="2359.53" r="2.9"/><circle cx="357.42" cy="2408.48" r="2.9"/><circle cx="314.47" cy="2410.44" r="2.9"/><circle cx="256.36" cy="2219.98" r="2.9"/><circle cx="257.22" cy="2349.13" r="2.9"/><circle cx="280.55" cy="2374.73" r="2.9"/><circle cx="321.93" cy="2414.8" r="2.9"/><circle cx="305.37" cy="2340.43" r="2.9"/><circle cx="307.2" cy="2365.47" r="2.9"/><circle cx="271.22" cy="2261.45" r="2.9"/><circle cx="247.38" cy="2317.63" r="2.9"/><circle cx="313.61" cy="2319.53" r="2.9"/><circle cx="324.02" cy="2414.8" r="2.9"/><circle cx="282.33" cy="2255.07" r="2.9"/><circle cx="287.97" cy="2402.42" r="2.9"/><circle cx="281.79" cy="2361.53" r="2.9"/><circle cx="279.96" cy="2411.1" r="2.9"/><circle cx="280.24" cy="2392.2" r="2.9"/><circle cx="241.84" cy="2204.49" r="2.9"/><circle cx="316.55" cy="2351.5" r="2.9"/><circle cx="268.39" cy="2217.57" r="2.9"/><circle cx="315.41" cy="2371.41" r="2.9"/><circle cx="280.84" cy="2256.36" r="2.9"/><circle cx="257.48" cy="2311.64" r="2.9"/><circle cx="271.26" cy="2310.5" r="2.9"/><circle cx="283.19" cy="2281.87" r="2.9"/><circle cx="269.45" cy="2368.4" r="2.9"/><circle cx="298.72" cy="2272.97" r="2.9"/><circle cx="340.54" cy="2401.85" r="2.9"/><circle cx="283.04" cy="2335.48" r="2.9"/><circle cx="305.92" cy="2344.47" r="2.9"/><circle cx="271.14" cy="2320.22" r="2.9"/><circle cx="309.28" cy="2402.65" r="2.9"/><circle cx="289.61" cy="2318.19" r="2.9"/><circle cx="299.03" cy="2352.37" r="2.9"/><circle cx="266.78" cy="2294.68" r="2.9"/><circle cx="284.11" cy="2396.02" r="2.9"/><circle cx="255.76" cy="2316.65" r="2.9"/><circle cx="310.72" cy="2317.54" r="2.9"/><circle cx="290.25" cy="2385.86" r="2.9"/><circle cx="288.11" cy="2376.48" r="2.9"/><circle cx="306.18" cy="2348.14" r="2.9"/><circle cx="326.31" cy="2403.46" r="2.9"/><circle cx="270.89" cy="2288.53" r="2.9"/><circle cx="294.43" cy="2256.38" r="2.9"/><circle cx="251.4" cy="2231.04" r="2.9"/><circle cx="294.47" cy="2413.79" r="2.9"/><circle cx="318.52" cy="2384.44" r="2.9"/><circle cx="288.55" cy="2399.24" r="2.9"/><circle cx="284.32" cy="2328.04" r="2.9"/><circle cx="281.47" cy="2321.36" r="2.9"/><circle cx="300.57" cy="2316.12" r="2.9"/><circle cx="272.85" cy="2414.8" r="2.9"/><circle cx="261.54" cy="2346.92" r="2.9"/><circle cx="303.37" cy="2379.77" r="2.9"/><circle cx="288.59" cy="2348.02" r="2.9"/><circle cx="315.18" cy="2348.92" r="2.9"/><circle cx="350.36" cy="2410.6" r="2.9"/><circle cx="299.45" cy="2414.8" r="2.9"/><circle cx="248.27" cy="2253.88" r="2.9"/><circle cx="268.84" cy="2306.18" r="2.9"/><circle cx="292.78" cy="2394.07" r="2.9"/><circle cx="311.26" cy="2398.53" r="2.9"/><circle cx="305.73" cy="2310.83" r="2.9"/><circle cx="304.99" cy="2409.93" r="2.9"/><circle cx="310.51" cy="2369.04" r="2.9"/><circle cx="255.62" cy="2325.38" r="2.9"/><circle cx="298.77" cy="2335.69" r="2.9"/><circle cx="317.77" cy="2408.4" r="2.9"/><circle cx="276.96" cy="2378.13" r="2.9"/><circle cx="294.76" cy="2289.28" r="2.9"/><circle cx="308.92" cy="2414.8" r="2.9"/><circle cx="262.89" cy="2341.76" r="2.9"/><circle cx="267.12" cy="2333.22" r="2.9"/><circle cx="267.38" cy="2333.48" r="2.9"/><circle cx="278.66" cy="2347.91" r="2.9"/><circle cx="302.5" cy="2285.27" r="2.9"/><circle cx="289.37" cy="2270.24" r="2.9"/><circle cx="326.5" cy="2396.5" r="2.9"/><circle cx="269.32" cy="2327.07" r="2.9"/><circle cx="346.2" cy="2345.97" r="2.9"/><circle cx="306.93" cy="2373.82" r="2.9"/><circle cx="310.46" cy="2323.69" r="2.9"/><circle cx="241.79" cy="2329.56" r="2.9"/><circle cx="287.7" cy="2273.52" r="2.9"/><circle cx="309.52" cy="2387.9" r="2.9"/><circle cx="296.66" cy="2343.94" r="2.9"/><circle cx="263.91" cy="2270.07" r="2.9"/><circle cx="261.76" cy="2328.59" r="2.9"/><circle cx="300.11" cy="2299.32" r="2.9"/><circle cx="278.59" cy="2296.1" r="2.9"/><circle cx="279.04" cy="2336.71" r="2.9"/><circle cx="276.55" cy="2277.58" r="2.9"/><circle cx="269.07" cy="2315.76" r="2.9"/><circle cx="286.82" cy="2407.81" r="2.9"/><circle cx="262.76" cy="2316.69" r="2.9"/><circle cx="287.67" cy="2305.13" r="2.9"/><circle cx="317.05" cy="2348.13" r="2.9"/><circle cx="268.9" cy="2273.89" r="2.9"/><circle cx="268.95" cy="2364.22" r="2.9"/><circle cx="306.04" cy="2356.06" r="2.9"/><circle cx="266.77" cy="2321.07" r="2.9"/><circle cx="273.18" cy="2337.58" r="2.9"/><circle cx="292.03" cy="2316.51" r="2.9"/><circle cx="343.42" cy="2414.8" r="2.9"/><circle cx="358.33" cy="2396.57" r="2.9"/><circle cx="290.79" cy="2342.32" r="2.9"/><circle cx="327.71" cy="2408.65" r="2.9"/><circle cx="313.22" cy="2409.83" r="2.9"/><circle cx="318.34" cy="2372.6" r="2.9"/><circle cx="317.81" cy="2413.54" r="2.9"/><circle cx="289.23" cy="2350.47" r="2.9"/><circle cx="325.45" cy="2378.66" r="2.9"/><circle cx="286.67" cy="2285.83" r="2.9"/><circle cx="258.97" cy="2304.67" r="2.9"/><circle cx="280.95" cy="2371.34" r="2.9"/><circle cx="294.52" cy="2410.79" r="2.9"/><circle cx="278.84" cy="2325.27" r="2.9"/><circle cx="264.76" cy="2305.02" r="2.9"/><circle cx="257.49" cy="2272.71" r="2.9"/><circle cx="363.83" cy="2414.8" r="2.9"/><circle cx="299.05" cy="2358.82" r="2.9"/><circle cx="273.13" cy="2242.62" r="2.9"/><circle cx="339.61" cy="2414.39" r="2.9"/><circle cx="311.97" cy="2297.21" r="2.9"/><circle cx="291.85" cy="2410.25" r="2.9"/><circle cx="308.89" cy="2360" r="2.9"/><circle cx="278.01" cy="2303.19" r="2.9"/><circle cx="295.04" cy="2393.93" r="2.9"/><circle cx="341.93" cy="2361.75" r="2.9"/><circle cx="273.14" cy="2256.74" r="2.9"/><circle cx="308.68" cy="2408.51" r="2.9"/><circle cx="262.26" cy="2386.27" r="2.9"/><circle cx="292.12" cy="2347.06" r="2.9"/><circle cx="258.87" cy="2199.8" r="2.9"/><circle cx="277.84" cy="2279.24" r="2.9"/><circle cx="270.04" cy="2244.26" r="2.9"/><circle cx="250.91" cy="2231.63" r="2.9"/><circle cx="278.45" cy="2295.29" r="2.9"/><circle cx="301.6" cy="2259.97" r="2.9"/><circle cx="301.76" cy="2314.11" r="2.9"/><circle cx="329.99" cy="2374.9" r="2.9"/><circle cx="288.82" cy="2407.89" r="2.9"/><circle cx="280.47" cy="2344.84" r="2.9"/><circle cx="277.7" cy="2341.35" r="2.9"/><circle cx="254.9" cy="2229.69" r="2.9"/><circle cx="272.01" cy="2283.8" r="2.9"/><circle cx="311.97" cy="2378.86" r="2.9"/><circle cx="294.24" cy="2347.46" r="2.9"/><circle cx="375.57" cy="2375.94" r="2.9"/><circle cx="298.29" cy="2311.09" r="2.9"/><circle cx="271.24" cy="2311.82" r="2.9"/><circle cx="309.61" cy="2414.8" r="2.9"/><circle cx="279.72" cy="2335.47" r="2.9"/><circle cx="300.4" cy="2413.35" r="2.9"/><circle cx="295.16" cy="2308.38" r="2.9"/><circle cx="260.93" cy="2260.33" r="2.9"/><circle cx="291.38" cy="2383.69" r="2.9"/><circle cx="282.95" cy="2284.38" r="2.9"/><circle cx="277.62" cy="2320.89" r="2.9"/><circle cx="274.39" cy="2285.69" r="2.9"/><circle cx="277.4" cy="2334.45" r="2.9"/><circle cx="268.59" cy="2306.85" r="2.9"/><circle cx="304.7" cy="2351.38" r="2.9"/><circle cx="276.66" cy="2334.83" r="2.9"/><circle cx="273.87" cy="2235.93" r="2.9"/><circle cx="285.61" cy="2305.62" r="2.9"/><circle cx="267.21" cy="2269.67" r="2.9"/><circle cx="265.25" cy="2226.74" r="2.9"/><circle cx="245.28" cy="2293.25" r="2.9"/><circle cx="316.32" cy="2414.77" r="2.9"/><circle cx="316.67" cy="2387.99" r="2.9"/><circle cx="262.95" cy="2297.66" r="2.9"/><circle cx="256.06" cy="2321.65" r="2.9"/><circle cx="287.76" cy="2385.76" r="2.9"/><circle cx="263.74" cy="2306.3" r="2.9"/><circle cx="302.22" cy="2331.78" r="2.9"/><circle cx="306.75" cy="2391.48" r="2.9"/><circle cx="287.61" cy="2414.8" r="2.9"/><circle cx="284.35" cy="2400.27" r="2.9"/><circle cx="286.41" cy="2374.48" r="2.9"/><circle cx="346.41" cy="2395.9" r="2.9"/><circle cx="313.85" cy="2348.17" r="2.9"/><circle cx="285.83" cy="2286.39" r="2.9"/><circle cx="285.64" cy="2328" r="2.9"/><circle cx="246.48" cy="2320.63" r="2.9"/><circle cx="297.13" cy="2281.26" r="2.9"/><circle cx="282.73" cy="2356.19" r="2.9"/><circle cx="310.13" cy="2377.57" r="2.9"/><circle cx="290.1" cy="2330.03" r="2.9"/><circle cx="276.48" cy="2207.29" r="2.9"/><circle cx="288.54" cy="2368.08" r="2.9"/><circle cx="250.58" cy="2289.09" r="2.9"/><circle cx="274.31" cy="2254.58" r="2.9"/><circle cx="286.75" cy="2305.76" r="2.9"/><circle cx="300.86" cy="2378.27" r="2.9"/><circle cx="253.38" cy="2246.97" r="2.9"/><circle cx="331.72" cy="2413.35" r="2.9"/><circle cx="287.5" cy="2410.66" r="2.9"/><circle cx="259.18" cy="2252.15" r="2.9"/><circle cx="295.92" cy="2320.71" r="2.9"/><circle cx="252.87" cy="2256.08" r="2.9"/><circle cx="250.22" cy="2326.41" r="2.9"/><circle cx="292.69" cy="2341.73" r="2.9"/><circle cx="294.31" cy="2303.91" r="2.9"/><circle cx="288.01" cy="2323.59" r="2.9"/><circle cx="340.27" cy="2380.59" r="2.9"/><circle cx="304.38" cy="2343.75" r="2.9"/><circle cx="334.76" cy="2414.8" r="2.9"/><circle cx="324.82" cy="2409.66" r="2.9"/><circle cx="273.57" cy="2314.05" r="2.9"/><circle cx="255.09" cy="2315.61" r="2.9"/><circle cx="365.24" cy="2406.51" r="2.9"/><circle cx="309.49" cy="2317.82" r="2.9"/><circle cx="296.36" cy="2293" r="2.9"/><circle cx="243.91" cy="2331.08" r="2.9"/><circle cx="301.64" cy="2293.37" r="2.9"/><circle cx="256.25" cy="2250.97" r="2.9"/><circle cx="289.66" cy="2325.11" r="2.9"/><circle cx="236.27" cy="2244" r="2.9"/><circle cx="306.09" cy="2354.79" r="2.9"/><circle cx="281" cy="2301.04" r="2.9"/><circle cx="324.58" cy="2343.41" r="2.9"/><circle cx="265" cy="2277.51" r="2.9"/><circle cx="318.73" cy="2333.19" r="2.9"/><circle cx="252.04" cy="2227.31" r="2.9"/><circle cx="289.22" cy="2344.62" r="2.9"/><circle cx="291.6" cy="2372.36" r="2.9"/><circle cx="288.96" cy="2312.58" r="2.9"/><circle cx="312.5" cy="2396.04" r="2.9"/><circle cx="290.2" cy="2262.54" r="2.9"/><circle cx="302.6" cy="2374.15" r="2.9"/><circle cx="248.43" cy="2219.99" r="2.9"/><circle cx="263.85" cy="2204.52" r="2.9"/><circle cx="299.72" cy="2354.18" r="2.9"/><circle cx="319.24" cy="2359.19" r="2.9"/><circle cx="293.91" cy="2339.85" r="2.9"/><circle cx="266.69" cy="2353.67" r="2.9"/><circle cx="298.36" cy="2329.13" r="2.9"/><circle cx="237.51" cy="2207.05" r="2.9"/><circle cx="285.4" cy="2414.8" r="2.9"/><circle cx="308.05" cy="2414.8" r="2.9"/><circle cx="301.28" cy="2337.23" r="2.9"/><circle cx="290.21" cy="2372.03" r="2.9"/><circle cx="297.31" cy="2292.26" r="2.9"/><circle cx="311.46" cy="2414.61" r="2.9"/><circle cx="316.19" cy="2361" r="2.9"/><circle cx="271.86" cy="2352.83" r="2.9"/><circle cx="285.54" cy="2365.51" r="2.9"/><circle cx="281.99" cy="2301.09" r="2.9"/><circle cx="276.11" cy="2376.03" r="2.9"/><circle cx="262.29" cy="2312.22" r="2.9"/><circle cx="262.06" cy="2306.21" r="2.9"/><circle cx="309.22" cy="2364.43" r="2.9"/><circle cx="271.02" cy="2341.6" r="2.9"/><circle cx="268.22" cy="2310.93" r="2.9"/><circle cx="285.33" cy="2349.75" r="2.9"/><circle cx="284.47" cy="2325.38" r="2.9"/><circle cx="263.36" cy="2262.9" r="2.9"/><circle cx="294.11" cy="2321.48" r="2.9"/><circle cx="283.74" cy="2401.27" r="2.9"/><circle cx="300.5" cy="2273.16" r="2.9"/><circle cx="303.4" cy="2414.8" r="2.9"/><circle cx="299.55" cy="2371.88" r="2.9"/><circle cx="295.95" cy="2280.76" r="2.9"/><circle cx="308.14" cy="2299.15" r="2.9"/><circle cx="287.08" cy="2414.8" r="2.9"/><circle cx="247.31" cy="2217.68" r="2.9"/><circle cx="266.42" cy="2250.6" r="2.9"/><circle cx="353.53" cy="2414.8" r="2.9"/><circle cx="301.87" cy="2274.91" r="2.9"/><circle cx="260.29" cy="2353.11" r="2.9"/><circle cx="295.46" cy="2365.24" r="2.9"/><circle cx="448.91" cy="2405.72" r="2.9"/><circle cx="261.68" cy="2338.61" r="2.9"/><circle cx="273.13" cy="2293.69" r="2.9"/><circle cx="278.79" cy="2360.2" r="2.9"/><circle cx="322.15" cy="2343.79" r="2.9"/><circle cx="269.46" cy="2371.58" r="2.9"/><circle cx="307.09" cy="2383.95" r="2.9"/><circle cx="273.95" cy="2343.72" r="2.9"/><circle cx="333.3" cy="2379.73" r="2.9"/><circle cx="278.89" cy="2264.83" r="2.9"/><circle cx="317.87" cy="2374.75" r="2.9"/><circle cx="271.53" cy="2359.76" r="2.9"/><circle cx="302.24" cy="2324.02" r="2.9"/><circle cx="288.92" cy="2329.18" r="2.9"/><circle cx="319.07" cy="2328.54" r="2.9"/><circle cx="300.22" cy="2359.44" r="2.9"/><circle cx="273.51" cy="2303.51" r="2.9"/><circle cx="284.52" cy="2356.07" r="2.9"/><circle cx="275.97" cy="2342.91" r="2.9"/><circle cx="287.03" cy="2258.64" r="2.9"/><circle cx="288.66" cy="2313.27" r="2.9"/><circle cx="284.07" cy="2315.44" r="2.9"/><circle cx="296.01" cy="2375.89" r="2.9"/><circle cx="338.62" cy="2370.63" r="2.9"/><circle cx="321.75" cy="2315.44" r="2.9"/><circle cx="291.4" cy="2283.36" r="2.9"/><circle cx="272.82" cy="2274.3" r="2.9"/><circle cx="276.74" cy="2358.9" r="2.9"/><circle cx="303.49" cy="2410.03" r="2.9"/><circle cx="286.63" cy="2311.25" r="2.9"/><circle cx="275.94" cy="2311.16" r="2.9"/><circle cx="244.59" cy="2261.79" r="2.9"/><circle cx="285.71" cy="2304.88" r="2.9"/><circle cx="294.44" cy="2414.8" r="2.9"/><circle cx="330.58" cy="2414.8" r="2.9"/><circle cx="314.33" cy="2372.28" r="2.9"/><circle cx="272.8" cy="2367.25" r="2.9"/><circle cx="333.34" cy="2377.19" r="2.9"/><circle cx="255.54" cy="2283.51" r="2.9"/><circle cx="276.79" cy="2325.58" r="2.9"/><circle cx="316.33" cy="2393.85" r="2.9"/><circle cx="317.87" cy="2398.17" r="2.9"/><circle cx="273.34" cy="2235.9" r="2.9"/><circle cx="295.04" cy="2379.14" r="2.9"/><circle cx="289.61" cy="2363" r="2.9"/><circle cx="276.62" cy="2368.1" r="2.9"/><circle cx="289.91" cy="2342.57" r="2.9"/><circle cx="263.02" cy="2257.91" r="2.9"/><circle cx="305.41" cy="2404.24" r="2.9"/><circle cx="270.03" cy="2295.99" r="2.9"/><circle cx="286.45" cy="2297.52" r="2.9"/><circle cx="250.1" cy="2265.79" r="2.9"/><circle cx="270.72" cy="2301.6" r="2.9"/><circle cx="271.89" cy="2247.75" r="2.9"/><circle cx="292.66" cy="2393.24" r="2.9"/><circle cx="305.07" cy="2411.44" r="2.9"/><circle cx="376.12" cy="2406.01" r="2.9"/><circle cx="284.61" cy="2334.86" r="2.9"/><circle cx="274.09" cy="2241.04" r="2.9"/><circle cx="289.31" cy="2369.03" r="2.9"/><circle cx="289.85" cy="2383.06" r="2.9"/><circle cx="297.41" cy="2344.99" r="2.9"/><circle cx="262.74" cy="2353.46" r="2.9"/><circle cx="307.75" cy="2388.65" r="2.9"/><circle cx="290.56" cy="2374.58" r="2.9"/><circle cx="266.56" cy="2314.5" r="2.9"/><circle cx="289.43" cy="2364.06" r="2.9"/><circle cx="317.71" cy="2356.32" r="2.9"/><circle cx="319.83" cy="2378.56" r="2.9"/><circle cx="288.22" cy="2303.05" r="2.9"/><circle cx="279.81" cy="2395.74" r="2.9"/><circle cx="250.47" cy="2329.53" r="2.9"/><circle cx="306.56" cy="2323.88" r="2.9"/><circle cx="244.52" cy="2277.06" r="2.9"/><circle cx="276.43" cy="2381.04" r="2.9"/><circle cx="280.72" cy="2353.54" r="2.9"/><circle cx="290.62" cy="2285.76" r="2.9"/><circle cx="293.32" cy="2390" r="2.9"/><circle cx="299.89" cy="2374.13" r="2.9"/><circle cx="303.22" cy="2382.85" r="2.9"/><circle cx="322.33" cy="2405" r="2.9"/><circle cx="270.98" cy="2291.35" r="2.9"/><circle cx="326.44" cy="2391.71" r="2.9"/><circle cx="256.52" cy="2308.63" r="2.9"/><circle cx="324.89" cy="2364.26" r="2.9"/><circle cx="304.9" cy="2357.83" r="2.9"/><circle cx="317.33" cy="2414.8" r="2.9"/><circle cx="276.53" cy="2295.69" r="2.9"/><circle cx="304.65" cy="2287.78" r="2.9"/><circle cx="286.4" cy="2376.93" r="2.9"/><circle cx="269.14" cy="2302.62" r="2.9"/><circle cx="327.34" cy="2388.73" r="2.9"/><circle cx="274.76" cy="2264.95" r="2.9"/><circle cx="279.9" cy="2301.15" r="2.9"/><circle cx="257.51" cy="2251.02" r="2.9"/><circle cx="303.72" cy="2381.25" r="2.9"/><circle cx="275.8" cy="2249.74" r="2.9"/><circle cx="339.12" cy="2392.06" r="2.9"/><circle cx="301.8" cy="2398.55" r="2.9"/><circle cx="278.44" cy="2270.98" r="2.9"/><circle cx="281.24" cy="2302.44" r="2.9"/><circle cx="348.41" cy="2365.4" r="2.9"/><circle cx="279.33" cy="2274.6" r="2.9"/><circle cx="390.82" cy="2410.74" r="2.9"/><circle cx="301.79" cy="2371.38" r="2.9"/><circle cx="307.11" cy="2356.51" r="2.9"/><circle cx="285.84" cy="2329.77" r="2.9"/><circle cx="280.54" cy="2231.5" r="2.9"/><circle cx="298.21" cy="2403.17" r="2.9"/><circle cx="275.59" cy="2313.1" r="2.9"/><circle cx="306.95" cy="2414.54" r="2.9"/><circle cx="312.51" cy="2360.93" r="2.9"/><circle cx="278.26" cy="2231.5" r="2.9"/><circle cx="277.41" cy="2362.81" r="2.9"/><circle cx="313.47" cy="2394.58" r="2.9"/><circle cx="278.36" cy="2357.04" r="2.9"/><circle cx="271.73" cy="2279.83" r="2.9"/><circle cx="295.37" cy="2271.59" r="2.9"/><circle cx="259.73" cy="2282.84" r="2.9"/><circle cx="283.57" cy="2260.79" r="2.9"/><circle cx="309.57" cy="2359.9" r="2.9"/><circle cx="270.33" cy="2326.11" r="2.9"/><circle cx="268.05" cy="2404.78" r="2.9"/><circle cx="299.87" cy="2332.41" r="2.9"/><circle cx="283" cy="2258.9" r="2.9"/><circle cx="265.14" cy="2396.97" r="2.9"/><circle cx="264.36" cy="2240.39" r="2.9"/><circle cx="326.78" cy="2349.59" r="2.9"/><circle cx="326.48" cy="2399.1" r="2.9"/><circle cx="275.76" cy="2319.24" r="2.9"/><circle cx="253.9" cy="2342.89" r="2.9"/><circle cx="281.69" cy="2352.76" r="2.9"/><circle cx="254.66" cy="2253.94" r="2.9"/><circle cx="349.78" cy="2405.49" r="2.9"/><circle cx="295.7" cy="2295.5" r="2.9"/><circle cx="281.87" cy="2288.16" r="2.9"/><circle cx="301.51" cy="2331.86" r="2.9"/><circle cx="285.46" cy="2341.13" r="2.9"/><circle cx="306.99" cy="2409.47" r="2.9"/><circle cx="250.99" cy="2224.9" r="2.9"/><circle cx="285.89" cy="2369.9" r="2.9"/><circle cx="252.41" cy="2243.92" r="2.9"/><circle cx="271.71" cy="2303.36" r="2.9"/><circle cx="274.7" cy="2360.53" r="2.9"/><circle cx="304.99" cy="2360.94" r="2.9"/><circle cx="322.6" cy="2361.03" r="2.9"/><circle cx="328.2" cy="2408.94" r="2.9"/><circle cx="252.64" cy="2224.42" r="2.9"/><circle cx="310.96" cy="2302.21" r="2.9"/><circle cx="328.17" cy="2343.99" r="2.9"/><circle cx="291.14" cy="2302.7" r="2.9"/><circle cx="291.09" cy="2286.51" r="2.9"/><circle cx="275.71" cy="2349.75" r="2.9"/><circle cx="286.09" cy="2356.08" r="2.9"/><circle cx="288.61" cy="2414.8" r="2.9"/><circle cx="274.97" cy="2291.61" r="2.9"/><circle cx="281.29" cy="2412.54" r="2.9"/><circle cx="357.96" cy="2412.51" r="2.9"/><circle cx="305.83" cy="2288.89" r="2.9"/><circle cx="261.37" cy="2291.61" r="2.9"/><circle cx="285.31" cy="2333.25" r="2.9"/><circle cx="449.06" cy="2397.22" r="2.9"/><circle cx="249.51" cy="2245.23" r="2.9"/><circle cx="288.43" cy="2377.32" r="2.9"/><circle cx="290.13" cy="2389.31" r="2.9"/><circle cx="265.45" cy="2334.36" r="2.9"/><circle cx="329.57" cy="2364.91" r="2.9"/><circle cx="274.13" cy="2369.01" r="2.9"/><circle cx="293.97" cy="2262.36" r="2.9"/><circle cx="257.54" cy="2260.22" r="2.9"/><circle cx="305.43" cy="2382.21" r="2.9"/><circle cx="371.15" cy="2403.61" r="2.9"/><circle cx="340.27" cy="2414.8" r="2.9"/><circle cx="294.75" cy="2344.62" r="2.9"/><circle cx="299.37" cy="2369.04" r="2.9"/><circle cx="292.32" cy="2299.99" r="2.9"/><circle cx="289.61" cy="2298.39" r="2.9"/><circle cx="281.57" cy="2313.82" r="2.9"/><circle cx="260.54" cy="2246.38" r="2.9"/><circle cx="281.08" cy="2317.46" r="2.9"/><circle cx="285.42" cy="2355.47" r="2.9"/><circle cx="268.9" cy="2327.74" r="2.9"/><circle cx="357.2" cy="2375.51" r="2.9"/><circle cx="262.61" cy="2249.88" r="2.9"/><circle cx="314.94" cy="2410.76" r="2.9"/><circle cx="297.66" cy="2313.95" r="2.9"/><circle cx="299.41" cy="2375.53" r="2.9"/><circle cx="276.79" cy="2289.19" r="2.9"/><circle cx="275.22" cy="2311.43" r="2.9"/><circle cx="284.88" cy="2414.8" r="2.9"/><circle cx="284.47" cy="2321.03" r="2.9"/><circle cx="313.04" cy="2389.29" r="2.9"/><circle cx="290.76" cy="2322.79" r="2.9"/><circle cx="290.98" cy="2368.95" r="2.9"/><circle cx="270.2" cy="2333.87" r="2.9"/><circle cx="290.83" cy="2324.92" r="2.9"/><circle cx="274" cy="2354.18" r="2.9"/><circle cx="288.07" cy="2269.21" r="2.9"/><circle cx="304.27" cy="2304.77" r="2.9"/><circle cx="288.02" cy="2292.55" r="2.9"/><circle cx="317.94" cy="2345.78" r="2.9"/><circle cx="272.79" cy="2300.37" r="2.9"/><circle cx="289.02" cy="2316.9" r="2.9"/><circle cx="300.44" cy="2393.97" r="2.9"/><circle cx="279.71" cy="2362.28" r="2.9"/><circle cx="256" cy="2282.81" r="2.9"/><circle cx="280.75" cy="2263.9" r="2.9"/><circle cx="281.01" cy="2340.75" r="2.9"/><circle cx="274.81" cy="2373.85" r="2.9"/><circle cx="300.27" cy="2293.64" r="2.9"/><circle cx="321.42" cy="2340.44" r="2.9"/><circle cx="275.45" cy="2326.66" r="2.9"/><circle cx="271.42" cy="2319.47" r="2.9"/><circle cx="286.56" cy="2320.68" r="2.9"/><circle cx="303.12" cy="2351.76" r="2.9"/><circle cx="319.84" cy="2325.32" r="2.9"/><circle cx="284.94" cy="2346.58" r="2.9"/><circle cx="323.24" cy="2408.62" r="2.9"/><circle cx="258.43" cy="2289.32" r="2.9"/><circle cx="350.98" cy="2378.26" r="2.9"/><circle cx="292.74" cy="2292.74" r="2.9"/><circle cx="298.87" cy="2352" r="2.9"/><circle cx="292.3" cy="2410.53" r="2.9"/><circle cx="322.13" cy="2368.73" r="2.9"/><circle cx="374.33" cy="2397.66" r="2.9"/><circle cx="286.2" cy="2389.83" r="2.9"/><circle cx="253.23" cy="2308.15" r="2.9"/><circle cx="318.66" cy="2356.84" r="2.9"/><circle cx="278.59" cy="2316.88" r="2.9"/><circle cx="310.77" cy="2389.93" r="2.9"/><circle cx="292.9" cy="2342.63" r="2.9"/><circle cx="287.34" cy="2345.73" r="2.9"/><circle cx="262.05" cy="2335.72" r="2.9"/><circle cx="275" cy="2220.14" r="2.9"/><circle cx="255.14" cy="2244.66" r="2.9"/><circle cx="268.5" cy="2292.53" r="2.9"/><circle cx="296.09" cy="2303.87" r="2.9"/><circle cx="346.92" cy="2406.32" r="2.9"/><circle cx="312.1" cy="2385.76" r="2.9"/><circle cx="233.89" cy="2270.72" r="2.9"/><circle cx="302.21" cy="2376.52" r="2.9"/><circle cx="300.15" cy="2352.54" r="2.9"/><circle cx="360.39" cy="2398.15" r="2.9"/><circle cx="310.42" cy="2366.58" r="2.9"/><circle cx="282.43" cy="2289.81" r="2.9"/><circle cx="344.67" cy="2403.96" r="2.9"/><circle cx="277.8" cy="2391.6" r="2.9"/><circle cx="255.26" cy="2286.32" r="2.9"/><circle cx="271.08" cy="2303.72" r="2.9"/><circle cx="305.1" cy="2369.15" r="2.9"/><circle cx="280.78" cy="2318.28" r="2.9"/><circle cx="269.83" cy="2302.31" r="2.9"/><circle cx="310.57" cy="2353.31" r="2.9"/><circle cx="340.48" cy="2413.39" r="2.9"/><circle cx="283.79" cy="2292.12" r="2.9"/><circle cx="273.26" cy="2327.9" r="2.9"/><circle cx="380.64" cy="2392.57" r="2.9"/><circle cx="286.19" cy="2205.15" r="2.9"/><circle cx="277.48" cy="2351.45" r="2.9"/><circle cx="311.77" cy="2350" r="2.9"/><circle cx="281.3" cy="2347.04" r="2.9"/><circle cx="294.18" cy="2353.1" r="2.9"/><circle cx="313.03" cy="2373.03" r="2.9"/><circle cx="323.33" cy="2363.35" r="2.9"/><circle cx="254.41" cy="2326.31" r="2.9"/><circle cx="278.33" cy="2235.57" r="2.9"/><circle cx="292.53" cy="2394.48" r="2.9"/><circle cx="277.5" cy="2339.38" r="2.9"/><circle cx="291.65" cy="2311.38" r="2.9"/><circle cx="276.58" cy="2301.55" r="2.9"/><circle cx="289.25" cy="2326.55" r="2.9"/><circle cx="300.72" cy="2387.21" r="2.9"/><circle cx="316.17" cy="2369.89" r="2.9"/><circle cx="298.63" cy="2376.86" r="2.9"/><circle cx="312.11" cy="2403.75" r="2.9"/><circle cx="254.55" cy="2312.56" r="2.9"/><circle cx="286.74" cy="2382.9" r="2.9"/><circle cx="272.22" cy="2369.63" r="2.9"/><circle cx="265.53" cy="2254.81" r="2.9"/><circle cx="279.44" cy="2286.19" r="2.9"/><circle cx="263.98" cy="2318.69" r="2.9"/><circle cx="256.2" cy="2296.9" r="2.9"/><circle cx="258.49" cy="2253.23" r="2.9"/><circle cx="297.82" cy="2199.98" r="2.9"/><circle cx="328.15" cy="2364.06" r="2.9"/><circle cx="243.89" cy="2260.92" r="2.9"/><circle cx="306.93" cy="2338.78" r="2.9"/><circle cx="263.93" cy="2322.75" r="2.9"/><circle cx="275.53" cy="2194.8" r="2.9"/><circle cx="258.22" cy="2252.9" r="2.9"/><circle cx="331.82" cy="2377.47" r="2.9"/><circle cx="305.59" cy="2269.63" r="2.9"/><circle cx="251.13" cy="2379.14" r="2.9"/><circle cx="292.32" cy="2342.13" r="2.9"/><circle cx="313.69" cy="2332.38" r="2.9"/><circle cx="264.58" cy="2273.95" r="2.9"/><circle cx="393.16" cy="2397.06" r="2.9"/><circle cx="316.27" cy="2355.49" r="2.9"/><circle cx="275.4" cy="2278.15" r="2.9"/><circle cx="309.43" cy="2412.15" r="2.9"/><circle cx="255.2" cy="2275.88" r="2.9"/><circle cx="299.77" cy="2374.25" r="2.9"/><circle cx="255.68" cy="2280.25" r="2.9"/><circle cx="292.66" cy="2380.17" r="2.9"/><circle cx="296.65" cy="2276.61" r="2.9"/><circle cx="360.99" cy="2408.61" r="2.9"/><circle cx="317.82" cy="2398.29" r="2.9"/><circle cx="295.68" cy="2355.61" r="2.9"/><circle cx="318.51" cy="2333.1" r="2.9"/><circle cx="306.15" cy="2356.6" r="2.9"/><circle cx="257.31" cy="2249.02" r="2.9"/><circle cx="279.89" cy="2218.35" r="2.9"/><circle cx="321.2" cy="2397.92" r="2.9"/><circle cx="253.8" cy="2250.82" r="2.9"/><circle cx="311.25" cy="2342.23" r="2.9"/><circle cx="298.22" cy="2342.51" r="2.9"/><circle cx="295.02" cy="2385.35" r="2.9"/><circle cx="295.31" cy="2333.55" r="2.9"/><circle cx="260.99" cy="2266.15" r="2.9"/><circle cx="238.2" cy="2326.72" r="2.9"/><circle cx="275.35" cy="2326.53" r="2.9"/><circle cx="311.14" cy="2374.24" r="2.9"/><circle cx="263.25" cy="2337.05" r="2.9"/><circle cx="298" cy="2338.69" r="2.9"/><circle cx="281.47" cy="2303.88" r="2.9"/><circle cx="276.78" cy="2317.22" r="2.9"/><circle cx="290.53" cy="2355.11" r="2.9"/><circle cx="254.53" cy="2274.65" r="2.9"/><circle cx="314.5" cy="2390.29" r="2.9"/><circle cx="276.07" cy="2250.41" r="2.9"/><circle cx="273.79" cy="2361.64" r="2.9"/><circle cx="269.03" cy="2348.28" r="2.9"/><circle cx="327.44" cy="2375.54" r="2.9"/><circle cx="283.23" cy="2359.47" r="2.9"/><circle cx="305.02" cy="2276.19" r="2.9"/><circle cx="291.75" cy="2318.09" r="2.9"/><circle cx="319.17" cy="2342.51" r="2.9"/><circle cx="316.52" cy="2368.6" r="2.9"/><circle cx="283.72" cy="2411.04" r="2.9"/><circle cx="270.57" cy="2326.16" r="2.9"/><circle cx="281.32" cy="2332.04" r="2.9"/><circle cx="326.13" cy="2413.28" r="2.9"/><circle cx="293.06" cy="2281.92" r="2.9"/><circle cx="250.78" cy="2333.33" r="2.9"/><circle cx="355.56" cy="2411.93" r="2.9"/><circle cx="310.43" cy="2339.89" r="2.9"/><circle cx="279.49" cy="2345.72" r="2.9"/><circle cx="330.4" cy="2374.99" r="2.9"/><circle cx="289.69" cy="2276.22" r="2.9"/><circle cx="270.77" cy="2278.83" r="2.9"/><circle cx="259.27" cy="2318.73" r="2.9"/><circle cx="267.8" cy="2329.54" r="2.9"/><circle cx="238.16" cy="2292.8" r="2.9"/>
</g>
<polyline fill="none" stroke="#000" stroke-width="4" stroke-linejoin="round" points="231.3,2291.26 232.6,2290.37 233.9,2291.09 235.2,2289.22 236.5,2290.27 237.8,2288.66 239.1,2288.55 240.4,2287.31 241.7,2287.87 243,2287.14 244.3,2289.7 245.6,2297.12 246.9,2298.04 248.2,2298.98 249.5,2296.46 250.8,2296.7 252.1,2297.45 253.4,2292.33 254.7,2292.47 256,2290.16 257.3,2295.28 258.6,2302.07 259.9,2309.98 261.2,2313.18 262.5,2311.39 263.8,2310.63 265.1,2308.79 266.4,2297.43 267.7,2286.35 269,2299.09 270.3,2313.43 271.6,2325.1 272.9,2324.01 274.2,2320.04 275.5,2316.5 276.8,2313.36 278.1,2325.96 279.4,2321.5 280.7,2309.56 282,2320.5 283.3,2336.2 284.6,2335.6 285.9,2329.76 287.2,2325.43 288.5,2325.33 289.8,2326.28 291.1,2336.33 292.4,2347.41 293.7,2351.43 295,2360.79 296.3,2351.43 297.6,2345.51 298.9,2353.21 300.2,2356.69 301.5,2360.41 302.8,2354.05 304.1,2352.62 305.4,2348.13 306.7,2359.91 308,2367.59 309.3,2371.11 310.6,2369.43 311.9,2364.85 313.2,2367.9 314.5,2364.05 315.8,2365.44 317.1,2367.3 318.4,2367.37 319.7,2371.72 321,2376.01 322.3,2373.13 323.6,2377.96 324.9,2378.03 326.2,2382.86 327.5,2381.53 328.8,2381.93 330.1,2381.97 331.4,2381.62 332.7,2379.72 334,2384.91 335.3,2381.21 336.6,2384.7 337.9,2386.44 339.2,2385.25 340.5,2387.95 341.8,2390.72 343.1,2388.94 344.4,2387.23 345.7,2383.66 347,2386.45 348.3,2387.17 349.6,2387.4 350.9,2386.81 352.2,2389.88 353.5,2390 354.6,2392.3 463.3,2392.8"/>
<rect x="220.6" y="2172" width="253" height="254" fill="none" stroke="#B3B3B3" stroke-width="1.8"/>
<line x1="209.6" y1="2183" x2="220.6" y2="2183" stroke="#B3B3B3" stroke-width="1.6"/>
<text x="199.6" y="2191.3" text-anchor="end" fill="#4D4D4D" font-size="23.5">1.00</text>
<line x1="209.6" y1="2240.95" x2="220.6" y2="2240.95" stroke="#B3B3B3" stroke-width="1.6"/>
<text x="199.6" y="2249.25" text-anchor="end" fill="#4D4D4D" font-size="23.5">0.75</text>
<line x1="209.6" y1="2298.9" x2="220.6" y2="2298.9" stroke="#B3B3B3" stroke-width="1.6"/>
<text x="199.6" y="2307.2" text-anchor="end" fill="#4D4D4D" font-size="23.5">0.50</text>
<line x1="209.6" y1="2356.85" x2="220.6" y2="2356.85" stroke="#B3B3B3" stroke-width="1.6"/>
<text x="199.6" y="2365.15" text-anchor="end" fill="#4D4D4D" font-size="23.5">0.25</text>
<line x1="209.6" y1="2414.8" x2="220.6" y2="2414.8" stroke="#B3B3B3" stroke-width="1.6"/>
<text x="199.6" y="2423.1" text-anchor="end" fill="#4D4D4D" font-size="23.5">0.00</text>
<line x1="267.4" y1="2426" x2="267.4" y2="2435" stroke="#B3B3B3" stroke-width="1.6"/>
<text x="267.4" y="2460.7" text-anchor="middle" fill="#4D4D4D" font-size="23.5">5.5</text>
<line x1="319.8" y1="2426" x2="319.8" y2="2435" stroke="#B3B3B3" stroke-width="1.6"/>
<text x="319.8" y="2460.7" text-anchor="middle" fill="#4D4D4D" font-size="23.5">6.0</text>
<line x1="372.2" y1="2426" x2="372.2" y2="2435" stroke="#B3B3B3" stroke-width="1.6"/>
<text x="372.2" y="2460.7" text-anchor="middle" fill="#4D4D4D" font-size="23.5">6.5</text>
<line x1="424.6" y1="2426" x2="424.6" y2="2435" stroke="#B3B3B3" stroke-width="1.6"/>
<text x="424.6" y="2460.7" text-anchor="middle" fill="#4D4D4D" font-size="23.5">7.0</text>
<text transform="translate(141.8 2298.6) rotate(-90)" text-anchor="middle" font-size="24" textLength="167" lengthAdjust="spacingAndGlyphs">Avg. methylation</text>
<text x="347" y="2490.8" text-anchor="middle" font-size="24" textLength="170" lengthAdjust="spacingAndGlyphs">Gene expression</text>
<line x1="165" y1="2081.6" x2="474.8" y2="2081.6" stroke="#000" stroke-width="3.2"/>
<path d="M181.7 2063.2h1.05v16.5h-1.05zM195.73 2063.2h1.05v16.5h-1.05zM217.77 2063.2h1.05v16.5h-1.05zM220.78 2063.2h1.05v16.5h-1.05zM234.8 2063.2h1.05v16.5h-1.05zM239.81 2063.2h1.05v16.5h-1.05zM248.83 2063.2h1.05v16.5h-1.05zM250.83 2063.2h1.05v16.5h-1.05zM268.87 2063.2h1.05v16.5h-1.05zM269.87 2063.2h1.05v16.5h-1.05zM272.88 2063.2h1.05v16.5h-1.05zM283.9 2063.2h1.05v16.5h-1.05zM287.9 2063.2h1.05v16.5h-1.05zM289.91 2063.2h1.05v16.5h-1.05zM321.97 2063.2h1.05v16.5h-1.05zM324.97 2063.2h1.05v16.5h-1.05zM333.99 2063.2h1.05v16.5h-1.05zM359.04 2063.2h1.05v16.5h-1.05zM372.06 2063.2h1.05v16.5h-1.05zM374.07 2063.2h1.05v16.5h-1.05zM385.09 2063.2h1.05v16.5h-1.05zM386.09 2063.2h1.05v16.5h-1.05zM387.09 2063.2h1.05v16.5h-1.05zM388.1 2063.2h1.05v16.5h-1.05zM392.1 2063.2h1.05v16.5h-1.05zM407.13 2063.2h1.05v16.5h-1.05zM410.14 2063.2h1.05v16.5h-1.05zM416.15 2063.2h1.05v16.5h-1.05zM417.15 2063.2h1.05v16.5h-1.05z" fill="#F2F2F2"/>
<path d="M182.7 2063.2h1.05v16.5h-1.05zM192.72 2063.2h1.05v16.5h-1.05zM196.73 2063.2h1.05v16.5h-1.05zM207.75 2063.2h1.05v16.5h-1.05zM212.76 2063.2h1.05v16.5h-1.05zM213.76 2063.2h1.05v16.5h-1.05zM221.78 2063.2h1.05v16.5h-1.05zM232.8 2063.2h1.05v16.5h-1.05zM249.83 2063.2h1.05v16.5h-1.05zM255.84 2063.2h1.05v16.5h-1.05zM296.92 2063.2h1.05v16.5h-1.05zM311.95 2063.2h1.05v16.5h-1.05zM312.95 2063.2h1.05v16.5h-1.05zM340 2063.2h1.05v16.5h-1.05zM341.01 2063.2h1.05v16.5h-1.05zM342.01 2063.2h1.05v16.5h-1.05zM361.04 2063.2h1.05v16.5h-1.05zM418.15 2063.2h1.05v16.5h-1.05zM419.15 2063.2h1.05v16.5h-1.05zM424.16 2063.2h1.05v16.5h-1.05zM425.17 2063.2h1.05v16.5h-1.05zM442.2 2063.2h1.05v16.5h-1.05z" fill="#B0B0B0"/>
<path d="M183.71 2063.2h1.05v16.5h-1.05zM184.71 2063.2h1.05v16.5h-1.05zM185.71 2063.2h1.05v16.5h-1.05zM191.72 2063.2h1.05v16.5h-1.05zM197.73 2063.2h1.05v16.5h-1.05zM200.74 2063.2h1.05v16.5h-1.05zM205.75 2063.2h1.05v16.5h-1.05zM206.75 2063.2h1.05v16.5h-1.05zM208.75 2063.2h1.05v16.5h-1.05zM210.76 2063.2h1.05v16.5h-1.05zM211.76 2063.2h1.05v16.5h-1.05zM214.76 2063.2h1.05v16.5h-1.05zM215.77 2063.2h1.05v16.5h-1.05zM216.77 2063.2h1.05v16.5h-1.05zM222.78 2063.2h1.05v16.5h-1.05zM225.79 2063.2h1.05v16.5h-1.05zM231.8 2063.2h1.05v16.5h-1.05zM233.8 2063.2h1.05v16.5h-1.05zM251.84 2063.2h1.05v16.5h-1.05zM256.85 2063.2h1.05v16.5h-1.05zM266.86 2063.2h1.05v16.5h-1.05zM273.88 2063.2h1.05v16.5h-1.05zM276.88 2063.2h1.05v16.5h-1.05zM277.89 2063.2h1.05v16.5h-1.05zM278.89 2063.2h1.05v16.5h-1.05zM284.9 2063.2h1.05v16.5h-1.05zM288.91 2063.2h1.05v16.5h-1.05zM290.91 2063.2h1.05v16.5h-1.05zM293.92 2063.2h1.05v16.5h-1.05zM294.92 2063.2h1.05v16.5h-1.05zM295.92 2063.2h1.05v16.5h-1.05zM297.92 2063.2h1.05v16.5h-1.05zM301.93 2063.2h1.05v16.5h-1.05zM304.94 2063.2h1.05v16.5h-1.05zM308.94 2063.2h1.05v16.5h-1.05zM316.96 2063.2h1.05v16.5h-1.05zM317.96 2063.2h1.05v16.5h-1.05zM330.99 2063.2h1.05v16.5h-1.05zM331.99 2063.2h1.05v16.5h-1.05zM337 2063.2h1.05v16.5h-1.05zM339 2063.2h1.05v16.5h-1.05zM343.01 2063.2h1.05v16.5h-1.05zM350.02 2063.2h1.05v16.5h-1.05zM351.02 2063.2h1.05v16.5h-1.05zM360.04 2063.2h1.05v16.5h-1.05zM366.05 2063.2h1.05v16.5h-1.05zM376.07 2063.2h1.05v16.5h-1.05zM389.1 2063.2h1.05v16.5h-1.05zM391.1 2063.2h1.05v16.5h-1.05zM394.11 2063.2h1.05v16.5h-1.05zM395.11 2063.2h1.05v16.5h-1.05zM405.13 2063.2h1.05v16.5h-1.05zM408.13 2063.2h1.05v16.5h-1.05zM409.14 2063.2h1.05v16.5h-1.05zM415.15 2063.2h1.05v16.5h-1.05zM421.16 2063.2h1.05v16.5h-1.05zM422.16 2063.2h1.05v16.5h-1.05zM423.16 2063.2h1.05v16.5h-1.05zM430.18 2063.2h1.05v16.5h-1.05zM431.18 2063.2h1.05v16.5h-1.05zM432.18 2063.2h1.05v16.5h-1.05zM433.18 2063.2h1.05v16.5h-1.05zM436.19 2063.2h1.05v16.5h-1.05zM440.19 2063.2h1.05v16.5h-1.05zM441.2 2063.2h1.05v16.5h-1.05z" fill="#808080"/>
<path d="M180.7 2063.2h1.05v16.5h-1.05zM186.71 2063.2h1.05v16.5h-1.05zM187.71 2063.2h1.05v16.5h-1.05zM188.72 2063.2h1.05v16.5h-1.05zM189.72 2063.2h1.05v16.5h-1.05zM190.72 2063.2h1.05v16.5h-1.05zM193.72 2063.2h1.05v16.5h-1.05zM194.73 2063.2h1.05v16.5h-1.05zM198.73 2063.2h1.05v16.5h-1.05zM199.74 2063.2h1.05v16.5h-1.05zM209.76 2063.2h1.05v16.5h-1.05zM223.78 2063.2h1.05v16.5h-1.05zM224.78 2063.2h1.05v16.5h-1.05zM226.79 2063.2h1.05v16.5h-1.05zM230.8 2063.2h1.05v16.5h-1.05zM240.81 2063.2h1.05v16.5h-1.05zM243.82 2063.2h1.05v16.5h-1.05zM244.82 2063.2h1.05v16.5h-1.05zM252.84 2063.2h1.05v16.5h-1.05zM254.84 2063.2h1.05v16.5h-1.05zM260.85 2063.2h1.05v16.5h-1.05zM261.85 2063.2h1.05v16.5h-1.05zM262.86 2063.2h1.05v16.5h-1.05zM263.86 2063.2h1.05v16.5h-1.05zM264.86 2063.2h1.05v16.5h-1.05zM265.86 2063.2h1.05v16.5h-1.05zM267.87 2063.2h1.05v16.5h-1.05zM271.87 2063.2h1.05v16.5h-1.05zM274.88 2063.2h1.05v16.5h-1.05zM275.88 2063.2h1.05v16.5h-1.05zM279.89 2063.2h1.05v16.5h-1.05zM280.89 2063.2h1.05v16.5h-1.05zM285.9 2063.2h1.05v16.5h-1.05zM286.9 2063.2h1.05v16.5h-1.05zM291.91 2063.2h1.05v16.5h-1.05zM292.91 2063.2h1.05v16.5h-1.05zM298.93 2063.2h1.05v16.5h-1.05zM300.93 2063.2h1.05v16.5h-1.05zM307.94 2063.2h1.05v16.5h-1.05zM309.95 2063.2h1.05v16.5h-1.05zM310.95 2063.2h1.05v16.5h-1.05zM313.95 2063.2h1.05v16.5h-1.05zM315.96 2063.2h1.05v16.5h-1.05zM318.96 2063.2h1.05v16.5h-1.05zM319.97 2063.2h1.05v16.5h-1.05zM320.97 2063.2h1.05v16.5h-1.05zM325.98 2063.2h1.05v16.5h-1.05zM326.98 2063.2h1.05v16.5h-1.05zM329.98 2063.2h1.05v16.5h-1.05zM336 2063.2h1.05v16.5h-1.05zM338 2063.2h1.05v16.5h-1.05zM344.01 2063.2h1.05v16.5h-1.05zM345.01 2063.2h1.05v16.5h-1.05zM346.01 2063.2h1.05v16.5h-1.05zM349.02 2063.2h1.05v16.5h-1.05zM354.03 2063.2h1.05v16.5h-1.05zM355.03 2063.2h1.05v16.5h-1.05zM356.03 2063.2h1.05v16.5h-1.05zM358.04 2063.2h1.05v16.5h-1.05zM362.05 2063.2h1.05v16.5h-1.05zM365.05 2063.2h1.05v16.5h-1.05zM367.05 2063.2h1.05v16.5h-1.05zM368.06 2063.2h1.05v16.5h-1.05zM369.06 2063.2h1.05v16.5h-1.05zM370.06 2063.2h1.05v16.5h-1.05zM375.07 2063.2h1.05v16.5h-1.05zM377.07 2063.2h1.05v16.5h-1.05zM381.08 2063.2h1.05v16.5h-1.05zM382.08 2063.2h1.05v16.5h-1.05zM383.09 2063.2h1.05v16.5h-1.05zM384.09 2063.2h1.05v16.5h-1.05zM390.1 2063.2h1.05v16.5h-1.05zM393.1 2063.2h1.05v16.5h-1.05zM396.11 2063.2h1.05v16.5h-1.05zM398.11 2063.2h1.05v16.5h-1.05zM404.13 2063.2h1.05v16.5h-1.05zM406.13 2063.2h1.05v16.5h-1.05zM411.14 2063.2h1.05v16.5h-1.05zM412.14 2063.2h1.05v16.5h-1.05zM420.16 2063.2h1.05v16.5h-1.05zM426.17 2063.2h1.05v16.5h-1.05zM428.17 2063.2h1.05v16.5h-1.05zM429.17 2063.2h1.05v16.5h-1.05zM434.18 2063.2h1.05v16.5h-1.05zM435.18 2063.2h1.05v16.5h-1.05zM439.19 2063.2h1.05v16.5h-1.05z" fill="#505050"/>
<path d="M201.74 2063.2h1.05v16.5h-1.05zM203.74 2063.2h1.05v16.5h-1.05zM204.75 2063.2h1.05v16.5h-1.05zM218.77 2063.2h1.05v16.5h-1.05zM219.77 2063.2h1.05v16.5h-1.05zM227.79 2063.2h1.05v16.5h-1.05zM228.79 2063.2h1.05v16.5h-1.05zM229.79 2063.2h1.05v16.5h-1.05zM235.8 2063.2h1.05v16.5h-1.05zM237.81 2063.2h1.05v16.5h-1.05zM238.81 2063.2h1.05v16.5h-1.05zM241.82 2063.2h1.05v16.5h-1.05zM242.82 2063.2h1.05v16.5h-1.05zM245.82 2063.2h1.05v16.5h-1.05zM246.83 2063.2h1.05v16.5h-1.05zM253.84 2063.2h1.05v16.5h-1.05zM257.85 2063.2h1.05v16.5h-1.05zM258.85 2063.2h1.05v16.5h-1.05zM259.85 2063.2h1.05v16.5h-1.05zM281.89 2063.2h1.05v16.5h-1.05zM282.89 2063.2h1.05v16.5h-1.05zM299.93 2063.2h1.05v16.5h-1.05zM302.93 2063.2h1.05v16.5h-1.05zM303.93 2063.2h1.05v16.5h-1.05zM305.94 2063.2h1.05v16.5h-1.05zM314.96 2063.2h1.05v16.5h-1.05zM322.97 2063.2h1.05v16.5h-1.05zM323.97 2063.2h1.05v16.5h-1.05zM327.98 2063.2h1.05v16.5h-1.05zM328.98 2063.2h1.05v16.5h-1.05zM332.99 2063.2h1.05v16.5h-1.05zM334.99 2063.2h1.05v16.5h-1.05zM347.02 2063.2h1.05v16.5h-1.05zM348.02 2063.2h1.05v16.5h-1.05zM352.03 2063.2h1.05v16.5h-1.05zM353.03 2063.2h1.05v16.5h-1.05zM357.04 2063.2h1.05v16.5h-1.05zM363.05 2063.2h1.05v16.5h-1.05zM364.05 2063.2h1.05v16.5h-1.05zM371.06 2063.2h1.05v16.5h-1.05zM378.08 2063.2h1.05v16.5h-1.05zM379.08 2063.2h1.05v16.5h-1.05zM380.08 2063.2h1.05v16.5h-1.05zM397.11 2063.2h1.05v16.5h-1.05zM399.12 2063.2h1.05v16.5h-1.05zM400.12 2063.2h1.05v16.5h-1.05zM401.12 2063.2h1.05v16.5h-1.05zM402.12 2063.2h1.05v16.5h-1.05zM403.12 2063.2h1.05v16.5h-1.05zM413.14 2063.2h1.05v16.5h-1.05zM414.14 2063.2h1.05v16.5h-1.05zM427.17 2063.2h1.05v16.5h-1.05zM437.19 2063.2h1.05v16.5h-1.05zM438.19 2063.2h1.05v16.5h-1.05z" fill="#262626"/>
<path d="M202.74 2063.2h1.05v16.5h-1.05zM236.81 2063.2h1.05v16.5h-1.05zM247.83 2063.2h1.05v16.5h-1.05zM270.87 2063.2h1.05v16.5h-1.05zM306.94 2063.2h1.05v16.5h-1.05zM373.07 2063.2h1.05v16.5h-1.05z" fill="#000000"/>
<line x1="181.5" y1="2061" x2="181.5" y2="2080" stroke="#222" stroke-width="1.6"/>
<line x1="442.4" y1="2061" x2="442.4" y2="2080" stroke="#222" stroke-width="1.6"/>
<rect x="178" y="2057.5" width="267.9" height="5.8" fill="#000" rx="2.9"/>
<text x="187.5" y="2016" font-size="21.5">DNMT3A</text>
<polyline fill="none" stroke="#0000FF" stroke-width="4" stroke-linejoin="round" points="231.8,2049.6 231.8,2024.6 202.2,2024.6" stroke-linejoin="miter" stroke-linecap="butt"/>
<polyline fill="none" stroke="#0000FF" stroke-width="4" stroke-linejoin="round" points="211.7,2018.1 202.2,2024.6 211.7,2031.1" stroke-linejoin="miter" stroke-linecap="butt"/>
<line x1="395.3" y1="2007.4" x2="395.3" y2="2038" stroke="#FF0000" stroke-width="4"/>
<polyline fill="none" stroke="#FF0000" stroke-width="4" stroke-linejoin="round" points="388.5,2031 395.3,2041.5 402.1,2031" stroke-linejoin="miter" stroke-linecap="butt"/>
<text x="336.8" y="2146.5" text-anchor="middle" font-size="19.2" textLength="233" lengthAdjust="spacingAndGlyphs">chr2 (25467184-25510185)</text>
<text x="364.4" y="2217.9" font-size="19" font-family="'DejaVu Sans Condensed', 'DejaVu Sans', sans-serif" textLength="81.7" lengthAdjust="spacingAndGlyphs">□□=−0.54</text>
<line x1="661.5" y1="2385.83" x2="914.6" y2="2385.83" stroke="#F2F2F2" stroke-width="1.2"/>
<line x1="661.5" y1="2327.88" x2="914.6" y2="2327.88" stroke="#F2F2F2" stroke-width="1.2"/>
<line x1="661.5" y1="2269.93" x2="914.6" y2="2269.93" stroke="#F2F2F2" stroke-width="1.2"/>
<line x1="661.5" y1="2211.98" x2="914.6" y2="2211.98" stroke="#F2F2F2" stroke-width="1.2"/>
<line x1="659.25" y1="2172" x2="659.25" y2="2426" stroke="#F2F2F2" stroke-width="1.2"/>
<line x1="723.55" y1="2172" x2="723.55" y2="2426" stroke="#F2F2F2" stroke-width="1.2"/>
<line x1="787.85" y1="2172" x2="787.85" y2="2426" stroke="#F2F2F2" stroke-width="1.2"/>
<line x1="852.15" y1="2172" x2="852.15" y2="2426" stroke="#F2F2F2" stroke-width="1.2"/>
<line x1="661.5" y1="2414.8" x2="914.6" y2="2414.8" stroke="#E3E3E3" stroke-width="1.4"/>
<line x1="661.5" y1="2356.85" x2="914.6" y2="2356.85" stroke="#E3E3E3" stroke-width="1.4"/>
<line x1="661.5" y1="2298.9" x2="914.6" y2="2298.9" stroke="#E3E3E3" stroke-width="1.4"/>
<line x1="661.5" y1="2240.95" x2="914.6" y2="2240.95" stroke="#E3E3E3" stroke-width="1.4"/>
<line x1="661.5" y1="2183" x2="914.6" y2="2183" stroke="#E3E3E3" stroke-width="1.4"/>
<line x1="691.4" y1="2172" x2="691.4" y2="2426" stroke="#E3E3E3" stroke-width="1.4"/>
<line x1="755.7" y1="2172" x2="755.7" y2="2426" stroke="#E3E3E3" stroke-width="1.4"/>
<line x1="820" y1="2172" x2="820" y2="2426" stroke="#E3E3E3" stroke-width="1.4"/>
<line x1="884.3" y1="2172" x2="884.3" y2="2426" stroke="#E3E3E3" stroke-width="1.4"/>
<g fill="#3AB996">
<circle cx="731.01" cy="2203.16" r="2.9"/><circle cx="753" cy="2218.15" r="2.9"/><circle cx="708.59" cy="2224.48" r="2.9"/><circle cx="708.38" cy="2221.54" r="2.9"/><circle cx="703.47" cy="2217.17" r="2.9"/><circle cx="711.11" cy="2237.32" r="2.9"/><circle cx="718.37" cy="2218.25" r="2.9"/><circle cx="707.62" cy="2237.95" r="2.9"/><circle cx="733.9" cy="2207.35" r="2.9"/><circle cx="735.71" cy="2225.9" r="2.9"/><circle cx="728.97" cy="2215.69" r="2.9"/><circle cx="732.04" cy="2191.57" r="2.9"/><circle cx="751.61" cy="2241.74" r="2.9"/><circle cx="713.98" cy="2216.31" r="2.9"/><circle cx="743.54" cy="2214.89" r="2.9"/><circle cx="738.64" cy="2254.33" r="2.9"/><circle cx="725.6" cy="2249.54" r="2.9"/><circle cx="712.3" cy="2205.93" r="2.9"/><circle cx="733.36" cy="2205.83" r="2.9"/><circle cx="719.44" cy="2227.6" r="2.9"/><circle cx="704.38" cy="2269.66" r="2.9"/><circle cx="712.88" cy="2208.48" r="2.9"/><circle cx="741.68" cy="2234.09" r="2.9"/><circle cx="724.81" cy="2215.69" r="2.9"/><circle cx="721.8" cy="2220.46" r="2.9"/><circle cx="727.26" cy="2229.75" r="2.9"/><circle cx="726.96" cy="2199.31" r="2.9"/><circle cx="734.72" cy="2228.1" r="2.9"/><circle cx="736.57" cy="2210.45" r="2.9"/><circle cx="704.11" cy="2196.49" r="2.9"/><circle cx="736.03" cy="2236.23" r="2.9"/><circle cx="735.07" cy="2252" r="2.9"/><circle cx="729.87" cy="2218.62" r="2.9"/><circle cx="721.52" cy="2223.19" r="2.9"/><circle cx="723.6" cy="2244.08" r="2.9"/><circle cx="748.38" cy="2231.81" r="2.9"/><circle cx="745.63" cy="2228.98" r="2.9"/><circle cx="724.29" cy="2236.81" r="2.9"/><circle cx="741.91" cy="2202.36" r="2.9"/><circle cx="741.55" cy="2230.47" r="2.9"/><circle cx="727.75" cy="2224.74" r="2.9"/><circle cx="734.51" cy="2223.39" r="2.9"/><circle cx="695.63" cy="2251.99" r="2.9"/><circle cx="740.8" cy="2197.2" r="2.9"/><circle cx="735.39" cy="2236.34" r="2.9"/><circle cx="738.86" cy="2204.68" r="2.9"/><circle cx="741.84" cy="2203.82" r="2.9"/><circle cx="756.74" cy="2245.6" r="2.9"/><circle cx="722.2" cy="2203.16" r="2.9"/><circle cx="708.49" cy="2215.48" r="2.9"/><circle cx="751.79" cy="2227.99" r="2.9"/><circle cx="713.24" cy="2264.65" r="2.9"/><circle cx="711.36" cy="2227.2" r="2.9"/><circle cx="720.09" cy="2223.65" r="2.9"/><circle cx="728.18" cy="2227.78" r="2.9"/><circle cx="723.49" cy="2251.09" r="2.9"/><circle cx="700.8" cy="2221.58" r="2.9"/><circle cx="711.63" cy="2217.59" r="2.9"/><circle cx="735.66" cy="2253.11" r="2.9"/><circle cx="696.25" cy="2256.67" r="2.9"/><circle cx="741.74" cy="2210.13" r="2.9"/><circle cx="697.44" cy="2230.64" r="2.9"/><circle cx="707.83" cy="2219.18" r="2.9"/><circle cx="710.22" cy="2225.61" r="2.9"/><circle cx="696.88" cy="2216.65" r="2.9"/><circle cx="729.39" cy="2195.15" r="2.9"/><circle cx="715.5" cy="2223.88" r="2.9"/><circle cx="729.96" cy="2210.42" r="2.9"/><circle cx="740.3" cy="2224.69" r="2.9"/><circle cx="737.1" cy="2215.36" r="2.9"/><circle cx="716.22" cy="2221.58" r="2.9"/><circle cx="723.81" cy="2232.83" r="2.9"/><circle cx="693.53" cy="2238.06" r="2.9"/><circle cx="723" cy="2235.98" r="2.9"/><circle cx="727.4" cy="2211.58" r="2.9"/><circle cx="697.18" cy="2225.84" r="2.9"/><circle cx="701.44" cy="2194.81" r="2.9"/><circle cx="700.43" cy="2218.39" r="2.9"/><circle cx="703.16" cy="2194.21" r="2.9"/><circle cx="754.59" cy="2207.29" r="2.9"/><circle cx="699.09" cy="2209.36" r="2.9"/><circle cx="709.13" cy="2215.33" r="2.9"/><circle cx="722.44" cy="2214.94" r="2.9"/><circle cx="729.44" cy="2223.17" r="2.9"/><circle cx="710.36" cy="2207.89" r="2.9"/><circle cx="752" cy="2235.61" r="2.9"/><circle cx="705.06" cy="2237.13" r="2.9"/><circle cx="745.86" cy="2210.45" r="2.9"/><circle cx="735.81" cy="2211.23" r="2.9"/><circle cx="733.86" cy="2211.71" r="2.9"/><circle cx="740.65" cy="2228.65" r="2.9"/><circle cx="730.55" cy="2225.68" r="2.9"/><circle cx="720.33" cy="2207.25" r="2.9"/><circle cx="705.67" cy="2220.15" r="2.9"/><circle cx="698.23" cy="2215.61" r="2.9"/><circle cx="722.25" cy="2252.12" r="2.9"/><circle cx="715.54" cy="2232.48" r="2.9"/><circle cx="749.39" cy="2220.89" r="2.9"/><circle cx="725.75" cy="2247.23" r="2.9"/><circle cx="723.79" cy="2207.22" r="2.9"/><circle cx="737.65" cy="2203.98" r="2.9"/><circle cx="735.43" cy="2235.01" r="2.9"/><circle cx="722.16" cy="2191.9" r="2.9"/><circle cx="732.52" cy="2249.72" r="2.9"/><circle cx="702.11" cy="2202.27" r="2.9"/><circle cx="737.98" cy="2198.84" r="2.9"/><circle cx="736.52" cy="2220.12" r="2.9"/><circle cx="692.72" cy="2233.14" r="2.9"/><circle cx="741.51" cy="2261" r="2.9"/><circle cx="740.95" cy="2219" r="2.9"/><circle cx="722.99" cy="2216.74" r="2.9"/><circle cx="713.9" cy="2226.77" r="2.9"/><circle cx="715.92" cy="2229.87" r="2.9"/><circle cx="706.4" cy="2224.64" r="2.9"/><circle cx="722.29" cy="2196.25" r="2.9"/><circle cx="736.64" cy="2197.14" r="2.9"/><circle cx="719.42" cy="2222.23" r="2.9"/><circle cx="717.93" cy="2202.76" r="2.9"/><circle cx="719.83" cy="2219.69" r="2.9"/><circle cx="746.29" cy="2224.92" r="2.9"/><circle cx="726.83" cy="2192.41" r="2.9"/><circle cx="719.4" cy="2191.65" r="2.9"/><circle cx="713.04" cy="2225.9" r="2.9"/><circle cx="717.34" cy="2213.04" r="2.9"/><circle cx="720" cy="2192.02" r="2.9"/><circle cx="713.97" cy="2235.22" r="2.9"/><circle cx="732.66" cy="2207.68" r="2.9"/><circle cx="727.6" cy="2229.98" r="2.9"/><circle cx="717.1" cy="2230.54" r="2.9"/><circle cx="709.5" cy="2210.72" r="2.9"/><circle cx="710.46" cy="2214.8" r="2.9"/><circle cx="712.19" cy="2227.7" r="2.9"/><circle cx="727.49" cy="2224.88" r="2.9"/><circle cx="704.59" cy="2200.67" r="2.9"/><circle cx="738.84" cy="2219.97" r="2.9"/><circle cx="712.51" cy="2193.92" r="2.9"/><circle cx="714.47" cy="2235.48" r="2.9"/><circle cx="726.89" cy="2231.58" r="2.9"/><circle cx="710.96" cy="2211.41" r="2.9"/><circle cx="724.58" cy="2247.46" r="2.9"/><circle cx="714.09" cy="2202.74" r="2.9"/><circle cx="722.15" cy="2231.99" r="2.9"/><circle cx="712.4" cy="2221.79" r="2.9"/><circle cx="739.44" cy="2254.61" r="2.9"/><circle cx="738.86" cy="2226.99" r="2.9"/><circle cx="732.9" cy="2215.44" r="2.9"/><circle cx="726.85" cy="2223.86" r="2.9"/><circle cx="710.07" cy="2222.99" r="2.9"/><circle cx="724.88" cy="2238.8" r="2.9"/><circle cx="714.11" cy="2236.39" r="2.9"/><circle cx="707.78" cy="2219.71" r="2.9"/><circle cx="704.09" cy="2212.42" r="2.9"/><circle cx="734.6" cy="2211.48" r="2.9"/><circle cx="716.95" cy="2231.68" r="2.9"/><circle cx="728.34" cy="2239.48" r="2.9"/><circle cx="723.58" cy="2224.61" r="2.9"/><circle cx="734.99" cy="2213.65" r="2.9"/><circle cx="720.13" cy="2200.92" r="2.9"/><circle cx="732.05" cy="2200.99" r="2.9"/><circle cx="697.61" cy="2236.24" r="2.9"/><circle cx="717.77" cy="2262.38" r="2.9"/><circle cx="728.34" cy="2248.81" r="2.9"/><circle cx="728.12" cy="2210.56" r="2.9"/><circle cx="744.54" cy="2206.5" r="2.9"/><circle cx="739.72" cy="2198.27" r="2.9"/><circle cx="728.42" cy="2229.82" r="2.9"/><circle cx="750.48" cy="2223.58" r="2.9"/><circle cx="730.62" cy="2216.6" r="2.9"/><circle cx="729.32" cy="2218.64" r="2.9"/><circle cx="708.81" cy="2209.56" r="2.9"/><circle cx="707.16" cy="2213.45" r="2.9"/><circle cx="756.86" cy="2195.53" r="2.9"/><circle cx="711.13" cy="2208.43" r="2.9"/><circle cx="746.5" cy="2233.91" r="2.9"/><circle cx="748.86" cy="2207.53" r="2.9"/><circle cx="722.1" cy="2233.59" r="2.9"/><circle cx="732.29" cy="2206.77" r="2.9"/><circle cx="729.1" cy="2203.3" r="2.9"/><circle cx="733.07" cy="2199.87" r="2.9"/><circle cx="718.76" cy="2212.45" r="2.9"/><circle cx="752.94" cy="2209.43" r="2.9"/><circle cx="724.93" cy="2219.05" r="2.9"/><circle cx="723.48" cy="2220.39" r="2.9"/><circle cx="724.56" cy="2225.39" r="2.9"/><circle cx="721.63" cy="2228.5" r="2.9"/><circle cx="751.23" cy="2222.04" r="2.9"/><circle cx="734.28" cy="2214.37" r="2.9"/><circle cx="737.48" cy="2233.09" r="2.9"/><circle cx="728.83" cy="2232.07" r="2.9"/><circle cx="761.43" cy="2217.54" r="2.9"/><circle cx="722.35" cy="2194.05" r="2.9"/><circle cx="724.46" cy="2258.91" r="2.9"/><circle cx="737.54" cy="2200.53" r="2.9"/><circle cx="727.78" cy="2215.7" r="2.9"/><circle cx="722.49" cy="2248.41" r="2.9"/><circle cx="725" cy="2240.13" r="2.9"/><circle cx="738.27" cy="2218.38" r="2.9"/><circle cx="700.04" cy="2228.13" r="2.9"/><circle cx="723.39" cy="2256.37" r="2.9"/><circle cx="700.21" cy="2230.13" r="2.9"/><circle cx="718.37" cy="2225.93" r="2.9"/><circle cx="707.82" cy="2214.83" r="2.9"/><circle cx="711.21" cy="2230.37" r="2.9"/><circle cx="706.77" cy="2217.31" r="2.9"/><circle cx="707.02" cy="2222.23" r="2.9"/><circle cx="701.02" cy="2246.74" r="2.9"/><circle cx="736.88" cy="2219.97" r="2.9"/><circle cx="721" cy="2251.3" r="2.9"/><circle cx="737.67" cy="2228.26" r="2.9"/><circle cx="713.67" cy="2211.72" r="2.9"/><circle cx="748.78" cy="2233.85" r="2.9"/><circle cx="739.81" cy="2242.25" r="2.9"/><circle cx="715.45" cy="2251.49" r="2.9"/><circle cx="706.53" cy="2206.24" r="2.9"/><circle cx="720.9" cy="2243.14" r="2.9"/><circle cx="726.86" cy="2219.22" r="2.9"/><circle cx="724.79" cy="2212.9" r="2.9"/><circle cx="733.37" cy="2202.56" r="2.9"/><circle cx="745.44" cy="2228.53" r="2.9"/><circle cx="700.79" cy="2225.27" r="2.9"/><circle cx="728.83" cy="2214.95" r="2.9"/><circle cx="708.66" cy="2238.54" r="2.9"/><circle cx="719.89" cy="2201.39" r="2.9"/><circle cx="730.32" cy="2202.4" r="2.9"/><circle cx="709.44" cy="2216.74" r="2.9"/><circle cx="710.43" cy="2208.26" r="2.9"/><circle cx="733.73" cy="2253.51" r="2.9"/><circle cx="737.81" cy="2232.77" r="2.9"/><circle cx="735.36" cy="2206.72" r="2.9"/><circle cx="723.85" cy="2242.45" r="2.9"/><circle cx="710.74" cy="2209.89" r="2.9"/><circle cx="702.56" cy="2243.84" r="2.9"/><circle cx="739.47" cy="2207.37" r="2.9"/><circle cx="719.44" cy="2225.87" r="2.9"/><circle cx="723.88" cy="2200.77" r="2.9"/><circle cx="734.02" cy="2224.84" r="2.9"/><circle cx="705.4" cy="2218.12" r="2.9"/><circle cx="726.16" cy="2204.64" r="2.9"/><circle cx="739.6" cy="2250.14" r="2.9"/><circle cx="718.85" cy="2233.69" r="2.9"/><circle cx="721.17" cy="2243.21" r="2.9"/><circle cx="710.63" cy="2191.58" r="2.9"/><circle cx="726.9" cy="2225.2" r="2.9"/><circle cx="704.27" cy="2201.75" r="2.9"/><circle cx="716.48" cy="2206.44" r="2.9"/><circle cx="721.61" cy="2204.95" r="2.9"/><circle cx="705.65" cy="2239.21" r="2.9"/><circle cx="724.67" cy="2207.54" r="2.9"/><circle cx="709.68" cy="2233.28" r="2.9"/><circle cx="714.51" cy="2204.46" r="2.9"/><circle cx="724.14" cy="2220.65" r="2.9"/><circle cx="753.86" cy="2211.73" r="2.9"/><circle cx="734.64" cy="2211.24" r="2.9"/><circle cx="722.04" cy="2201.74" r="2.9"/><circle cx="730.2" cy="2210.37" r="2.9"/><circle cx="697.54" cy="2217.32" r="2.9"/><circle cx="734.07" cy="2208.05" r="2.9"/><circle cx="714.48" cy="2200.3" r="2.9"/><circle cx="742.6" cy="2204.1" r="2.9"/><circle cx="713.27" cy="2209.44" r="2.9"/><circle cx="728.53" cy="2218.91" r="2.9"/><circle cx="740" cy="2247.12" r="2.9"/><circle cx="724.43" cy="2216.18" r="2.9"/><circle cx="696.09" cy="2221.67" r="2.9"/><circle cx="749.57" cy="2240.78" r="2.9"/><circle cx="741.07" cy="2246.81" r="2.9"/><circle cx="728.47" cy="2262.18" r="2.9"/><circle cx="710.07" cy="2228.32" r="2.9"/><circle cx="697.67" cy="2200.33" r="2.9"/><circle cx="731.39" cy="2191.88" r="2.9"/><circle cx="735.08" cy="2212.72" r="2.9"/><circle cx="718.41" cy="2230.87" r="2.9"/><circle cx="712.5" cy="2228" r="2.9"/><circle cx="726.71" cy="2197.24" r="2.9"/><circle cx="734.31" cy="2261.34" r="2.9"/><circle cx="726.07" cy="2226.07" r="2.9"/><circle cx="720.98" cy="2206.97" r="2.9"/><circle cx="711.1" cy="2228.46" r="2.9"/><circle cx="736.04" cy="2235.04" r="2.9"/><circle cx="721.19" cy="2212.24" r="2.9"/><circle cx="717.92" cy="2210.52" r="2.9"/><circle cx="744.48" cy="2280.22" r="2.9"/><circle cx="738.91" cy="2210.75" r="2.9"/><circle cx="751.98" cy="2242.5" r="2.9"/><circle cx="733.66" cy="2236.66" r="2.9"/><circle cx="710.3" cy="2197.85" r="2.9"/><circle cx="720.54" cy="2230.41" r="2.9"/><circle cx="718.01" cy="2216.51" r="2.9"/><circle cx="697.81" cy="2218.04" r="2.9"/><circle cx="705.9" cy="2236.28" r="2.9"/><circle cx="730.13" cy="2235.49" r="2.9"/><circle cx="697.81" cy="2205.98" r="2.9"/><circle cx="740.25" cy="2201.28" r="2.9"/><circle cx="723.77" cy="2244.75" r="2.9"/><circle cx="713.88" cy="2210.21" r="2.9"/><circle cx="739.73" cy="2210.23" r="2.9"/><circle cx="745.47" cy="2235.93" r="2.9"/><circle cx="727.16" cy="2200.17" r="2.9"/><circle cx="722.62" cy="2235.31" r="2.9"/><circle cx="732.64" cy="2209.67" r="2.9"/><circle cx="715.5" cy="2197.12" r="2.9"/><circle cx="745.37" cy="2198.05" r="2.9"/><circle cx="731.72" cy="2236.17" r="2.9"/><circle cx="732.66" cy="2212.81" r="2.9"/><circle cx="704.71" cy="2208.36" r="2.9"/><circle cx="737.48" cy="2199.07" r="2.9"/><circle cx="727.37" cy="2228.63" r="2.9"/><circle cx="732.24" cy="2272.85" r="2.9"/><circle cx="705" cy="2217.2" r="2.9"/><circle cx="709.92" cy="2204.99" r="2.9"/><circle cx="730.59" cy="2193.88" r="2.9"/><circle cx="746.42" cy="2204.73" r="2.9"/><circle cx="716.49" cy="2277.92" r="2.9"/><circle cx="713.07" cy="2231.11" r="2.9"/><circle cx="716.72" cy="2203.26" r="2.9"/><circle cx="733.57" cy="2236.39" r="2.9"/><circle cx="746.71" cy="2220.21" r="2.9"/><circle cx="722" cy="2236.03" r="2.9"/><circle cx="735.55" cy="2209.87" r="2.9"/><circle cx="721.52" cy="2247.45" r="2.9"/><circle cx="746.11" cy="2223.3" r="2.9"/><circle cx="730.47" cy="2210.65" r="2.9"/><circle cx="722.69" cy="2209.36" r="2.9"/><circle cx="721.18" cy="2197.35" r="2.9"/><circle cx="763.86" cy="2220.44" r="2.9"/><circle cx="747.99" cy="2231.01" r="2.9"/><circle cx="743.71" cy="2215.05" r="2.9"/><circle cx="703.52" cy="2217.83" r="2.9"/><circle cx="730.52" cy="2241.73" r="2.9"/><circle cx="731.49" cy="2202.84" r="2.9"/><circle cx="799.43" cy="2305.03" r="2.9"/><circle cx="716" cy="2222.55" r="2.9"/><circle cx="739.2" cy="2211.65" r="2.9"/><circle cx="754.08" cy="2307.58" r="2.9"/><circle cx="746.21" cy="2272.45" r="2.9"/><circle cx="750.15" cy="2257.06" r="2.9"/><circle cx="743.49" cy="2260.98" r="2.9"/><circle cx="801.63" cy="2305.27" r="2.9"/><circle cx="736.68" cy="2275.74" r="2.9"/><circle cx="844.59" cy="2326.36" r="2.9"/><circle cx="793.1" cy="2382" r="2.9"/><circle cx="736.84" cy="2234.52" r="2.9"/><circle cx="810.04" cy="2381.5" r="2.9"/><circle cx="767.3" cy="2269.74" r="2.9"/><circle cx="815.8" cy="2383.63" r="2.9"/><circle cx="780.37" cy="2330.46" r="2.9"/><circle cx="813.51" cy="2404.31" r="2.9"/><circle cx="743.98" cy="2262.65" r="2.9"/><circle cx="740.07" cy="2297.03" r="2.9"/><circle cx="778.73" cy="2359.92" r="2.9"/><circle cx="741.69" cy="2402.91" r="2.9"/><circle cx="717.4" cy="2210.61" r="2.9"/><circle cx="759.52" cy="2253.44" r="2.9"/><circle cx="782.38" cy="2275.54" r="2.9"/><circle cx="715.01" cy="2204.28" r="2.9"/><circle cx="719.27" cy="2216.92" r="2.9"/><circle cx="725.03" cy="2227.2" r="2.9"/><circle cx="768.03" cy="2306.14" r="2.9"/><circle cx="747.61" cy="2329.72" r="2.9"/><circle cx="790.63" cy="2380.07" r="2.9"/><circle cx="724.67" cy="2205.77" r="2.9"/><circle cx="720.57" cy="2281.7" r="2.9"/><circle cx="740.19" cy="2311.62" r="2.9"/><circle cx="822.21" cy="2382.5" r="2.9"/><circle cx="787.67" cy="2358.49" r="2.9"/><circle cx="749.13" cy="2273.15" r="2.9"/><circle cx="718.61" cy="2253.83" r="2.9"/><circle cx="786.18" cy="2288.44" r="2.9"/><circle cx="742.94" cy="2309.59" r="2.9"/><circle cx="745.52" cy="2330.7" r="2.9"/><circle cx="809.15" cy="2320.46" r="2.9"/><circle cx="788.27" cy="2267.86" r="2.9"/><circle cx="740.39" cy="2276.33" r="2.9"/><circle cx="789.55" cy="2395.48" r="2.9"/><circle cx="748.51" cy="2310.26" r="2.9"/><circle cx="763.93" cy="2326.81" r="2.9"/><circle cx="748.33" cy="2369.23" r="2.9"/><circle cx="750.78" cy="2286.98" r="2.9"/><circle cx="755.39" cy="2289.63" r="2.9"/><circle cx="839.37" cy="2390.04" r="2.9"/><circle cx="743.18" cy="2321.9" r="2.9"/><circle cx="729.03" cy="2218.44" r="2.9"/><circle cx="742.52" cy="2268.69" r="2.9"/><circle cx="750.04" cy="2230.46" r="2.9"/><circle cx="755.67" cy="2291.84" r="2.9"/><circle cx="742.17" cy="2232.12" r="2.9"/><circle cx="755.42" cy="2298.04" r="2.9"/><circle cx="759.27" cy="2348.74" r="2.9"/><circle cx="785.22" cy="2378.96" r="2.9"/><circle cx="796.4" cy="2297.55" r="2.9"/><circle cx="718.12" cy="2276.03" r="2.9"/><circle cx="806.73" cy="2382.09" r="2.9"/><circle cx="733.79" cy="2289.63" r="2.9"/><circle cx="746.05" cy="2308.32" r="2.9"/><circle cx="749.98" cy="2204.46" r="2.9"/><circle cx="809.81" cy="2285.41" r="2.9"/><circle cx="792.85" cy="2297.78" r="2.9"/><circle cx="712.49" cy="2226.59" r="2.9"/><circle cx="738.03" cy="2303.07" r="2.9"/><circle cx="764.65" cy="2313.77" r="2.9"/><circle cx="760.07" cy="2323.7" r="2.9"/><circle cx="756.79" cy="2279.84" r="2.9"/><circle cx="742.88" cy="2402.59" r="2.9"/><circle cx="744.72" cy="2233.35" r="2.9"/><circle cx="731.08" cy="2239.72" r="2.9"/><circle cx="720.78" cy="2374.63" r="2.9"/><circle cx="837.87" cy="2369.19" r="2.9"/><circle cx="738.77" cy="2289.36" r="2.9"/><circle cx="758.3" cy="2333.66" r="2.9"/><circle cx="733.2" cy="2202.85" r="2.9"/><circle cx="733.27" cy="2308.02" r="2.9"/><circle cx="726.93" cy="2290.43" r="2.9"/><circle cx="715.21" cy="2277.14" r="2.9"/><circle cx="769.47" cy="2377.49" r="2.9"/><circle cx="784.45" cy="2314.52" r="2.9"/><circle cx="722.19" cy="2232.41" r="2.9"/><circle cx="793.05" cy="2354.48" r="2.9"/><circle cx="777.95" cy="2335.61" r="2.9"/><circle cx="753.34" cy="2298.47" r="2.9"/><circle cx="724.1" cy="2282.07" r="2.9"/><circle cx="771.88" cy="2389.72" r="2.9"/><circle cx="724.39" cy="2303.39" r="2.9"/><circle cx="821.2" cy="2344.55" r="2.9"/><circle cx="759.9" cy="2256.12" r="2.9"/><circle cx="751.68" cy="2313.62" r="2.9"/><circle cx="762.83" cy="2305.09" r="2.9"/><circle cx="743.13" cy="2294.93" r="2.9"/><circle cx="729.41" cy="2253.74" r="2.9"/><circle cx="729.35" cy="2250.85" r="2.9"/><circle cx="740.4" cy="2316.12" r="2.9"/><circle cx="854.82" cy="2382.12" r="2.9"/><circle cx="735.43" cy="2362.12" r="2.9"/><circle cx="771.74" cy="2359.6" r="2.9"/><circle cx="722.09" cy="2245.39" r="2.9"/><circle cx="759.71" cy="2348.01" r="2.9"/><circle cx="712.34" cy="2274.52" r="2.9"/><circle cx="754.69" cy="2300.81" r="2.9"/><circle cx="782.88" cy="2371.53" r="2.9"/><circle cx="738" cy="2311.27" r="2.9"/><circle cx="727.63" cy="2296.63" r="2.9"/><circle cx="821.62" cy="2364.22" r="2.9"/><circle cx="800.87" cy="2371.68" r="2.9"/><circle cx="732.67" cy="2263.92" r="2.9"/><circle cx="751.9" cy="2332.31" r="2.9"/><circle cx="743.32" cy="2254.84" r="2.9"/><circle cx="725.65" cy="2288.08" r="2.9"/><circle cx="845.54" cy="2366.87" r="2.9"/><circle cx="725.45" cy="2280.36" r="2.9"/><circle cx="720.38" cy="2256.36" r="2.9"/><circle cx="751.82" cy="2301.25" r="2.9"/><circle cx="720.23" cy="2283.24" r="2.9"/><circle cx="738.66" cy="2329.93" r="2.9"/><circle cx="744.36" cy="2293.61" r="2.9"/><circle cx="726.8" cy="2345.4" r="2.9"/><circle cx="735.05" cy="2241.78" r="2.9"/><circle cx="784.55" cy="2367.29" r="2.9"/><circle cx="764.02" cy="2349.96" r="2.9"/><circle cx="759.39" cy="2297.57" r="2.9"/><circle cx="779.12" cy="2330.53" r="2.9"/><circle cx="750.73" cy="2361.89" r="2.9"/><circle cx="776.52" cy="2323.22" r="2.9"/><circle cx="786.91" cy="2347.68" r="2.9"/><circle cx="727.36" cy="2225.06" r="2.9"/><circle cx="716.31" cy="2226.52" r="2.9"/><circle cx="720.71" cy="2286.69" r="2.9"/><circle cx="766.07" cy="2392.85" r="2.9"/><circle cx="793" cy="2406.42" r="2.9"/><circle cx="740.59" cy="2289.11" r="2.9"/><circle cx="774.87" cy="2311.36" r="2.9"/><circle cx="778" cy="2334.49" r="2.9"/><circle cx="731.29" cy="2283.92" r="2.9"/><circle cx="755.24" cy="2345.32" r="2.9"/><circle cx="745.12" cy="2283.47" r="2.9"/><circle cx="732.87" cy="2243.9" r="2.9"/><circle cx="810.48" cy="2342.58" r="2.9"/><circle cx="754.33" cy="2267.58" r="2.9"/><circle cx="743.41" cy="2291.44" r="2.9"/><circle cx="719.92" cy="2300.07" r="2.9"/><circle cx="754.74" cy="2285.85" r="2.9"/><circle cx="809.66" cy="2370.17" r="2.9"/><circle cx="799.43" cy="2326.18" r="2.9"/><circle cx="770.41" cy="2340.4" r="2.9"/><circle cx="721.47" cy="2263.35" r="2.9"/><circle cx="738.2" cy="2201.5" r="2.9"/><circle cx="732.5" cy="2318.09" r="2.9"/><circle cx="719.31" cy="2252.11" r="2.9"/><circle cx="737.68" cy="2284.46" r="2.9"/><circle cx="787.47" cy="2375.42" r="2.9"/><circle cx="773.29" cy="2279.94" r="2.9"/><circle cx="810.35" cy="2387.75" r="2.9"/><circle cx="748.11" cy="2264.36" r="2.9"/><circle cx="739.48" cy="2214.73" r="2.9"/><circle cx="714.93" cy="2235.17" r="2.9"/><circle cx="796.55" cy="2289.6" r="2.9"/><circle cx="802.42" cy="2366.93" r="2.9"/><circle cx="778.69" cy="2368.23" r="2.9"/><circle cx="812.44" cy="2377.58" r="2.9"/><circle cx="794.9" cy="2345.71" r="2.9"/><circle cx="762.01" cy="2222.5" r="2.9"/><circle cx="755.44" cy="2293.69" r="2.9"/><circle cx="763.44" cy="2249.76" r="2.9"/><circle cx="778.43" cy="2317.49" r="2.9"/><circle cx="758.35" cy="2287.6" r="2.9"/><circle cx="764.89" cy="2348.08" r="2.9"/><circle cx="721.4" cy="2267.66" r="2.9"/><circle cx="783.4" cy="2287.53" r="2.9"/><circle cx="723.75" cy="2273.57" r="2.9"/><circle cx="830.48" cy="2330.01" r="2.9"/><circle cx="742.72" cy="2287.62" r="2.9"/><circle cx="736.22" cy="2225.48" r="2.9"/><circle cx="762.37" cy="2288.36" r="2.9"/><circle cx="749.15" cy="2304.47" r="2.9"/><circle cx="768.62" cy="2347.57" r="2.9"/><circle cx="803.27" cy="2320.76" r="2.9"/><circle cx="747.37" cy="2277.41" r="2.9"/><circle cx="742.41" cy="2235.69" r="2.9"/><circle cx="733.67" cy="2260.12" r="2.9"/><circle cx="754.53" cy="2285.81" r="2.9"/><circle cx="719.55" cy="2308.56" r="2.9"/><circle cx="767.97" cy="2333.32" r="2.9"/><circle cx="785.48" cy="2236.48" r="2.9"/><circle cx="723" cy="2260.7" r="2.9"/><circle cx="730.89" cy="2318.91" r="2.9"/><circle cx="749.29" cy="2210.41" r="2.9"/><circle cx="792.88" cy="2323.83" r="2.9"/><circle cx="744.59" cy="2310.18" r="2.9"/><circle cx="815.46" cy="2342.68" r="2.9"/><circle cx="741.81" cy="2307.85" r="2.9"/><circle cx="740.39" cy="2259.73" r="2.9"/><circle cx="720.77" cy="2290.79" r="2.9"/><circle cx="714.1" cy="2255.14" r="2.9"/><circle cx="750.58" cy="2359.66" r="2.9"/><circle cx="762.16" cy="2248.06" r="2.9"/><circle cx="720.82" cy="2280.92" r="2.9"/><circle cx="718.92" cy="2279.13" r="2.9"/><circle cx="725.98" cy="2339.95" r="2.9"/><circle cx="716.02" cy="2212.04" r="2.9"/><circle cx="773.29" cy="2359.84" r="2.9"/><circle cx="807.23" cy="2287.33" r="2.9"/><circle cx="729.81" cy="2293.18" r="2.9"/><circle cx="708.74" cy="2230.63" r="2.9"/><circle cx="751.72" cy="2285.42" r="2.9"/><circle cx="742.29" cy="2293.18" r="2.9"/><circle cx="778.75" cy="2367.05" r="2.9"/><circle cx="775.73" cy="2363.61" r="2.9"/><circle cx="720.16" cy="2265.65" r="2.9"/><circle cx="720.7" cy="2219.77" r="2.9"/><circle cx="755.65" cy="2348.17" r="2.9"/><circle cx="782.6" cy="2356.12" r="2.9"/><circle cx="748.32" cy="2295.86" r="2.9"/><circle cx="852.85" cy="2355.45" r="2.9"/><circle cx="713.76" cy="2269.27" r="2.9"/><circle cx="724.05" cy="2271.79" r="2.9"/><circle cx="793.02" cy="2307.46" r="2.9"/><circle cx="750.63" cy="2268.68" r="2.9"/><circle cx="752.47" cy="2306.75" r="2.9"/><circle cx="743.23" cy="2310.17" r="2.9"/><circle cx="738.74" cy="2328.41" r="2.9"/><circle cx="830.8" cy="2376.68" r="2.9"/><circle cx="855.26" cy="2379.1" r="2.9"/><circle cx="748.49" cy="2263.22" r="2.9"/><circle cx="734.98" cy="2249.62" r="2.9"/><circle cx="768.13" cy="2380.01" r="2.9"/><circle cx="790.28" cy="2390.23" r="2.9"/><circle cx="736.57" cy="2359.82" r="2.9"/><circle cx="724.15" cy="2328.83" r="2.9"/><circle cx="788.48" cy="2378.51" r="2.9"/><circle cx="739.36" cy="2295.44" r="2.9"/><circle cx="735.72" cy="2272.48" r="2.9"/><circle cx="739.81" cy="2300.47" r="2.9"/><circle cx="847.11" cy="2341.43" r="2.9"/><circle cx="828.07" cy="2359.37" r="2.9"/><circle cx="816.47" cy="2370.65" r="2.9"/><circle cx="759.55" cy="2338.79" r="2.9"/><circle cx="792.23" cy="2304.93" r="2.9"/><circle cx="735.47" cy="2272.02" r="2.9"/><circle cx="739.69" cy="2274.99" r="2.9"/><circle cx="840.31" cy="2323.8" r="2.9"/><circle cx="742.93" cy="2301.07" r="2.9"/><circle cx="834.48" cy="2370.6" r="2.9"/><circle cx="728.11" cy="2307.06" r="2.9"/><circle cx="729.67" cy="2330.66" r="2.9"/><circle cx="782.71" cy="2297.3" r="2.9"/><circle cx="736.25" cy="2310.63" r="2.9"/><circle cx="782.86" cy="2222.89" r="2.9"/><circle cx="762.06" cy="2273.98" r="2.9"/><circle cx="728.14" cy="2318.14" r="2.9"/><circle cx="731.17" cy="2302.33" r="2.9"/><circle cx="787.26" cy="2319.25" r="2.9"/><circle cx="736.01" cy="2288.74" r="2.9"/><circle cx="747.43" cy="2259.5" r="2.9"/><circle cx="763.82" cy="2279.99" r="2.9"/><circle cx="779.64" cy="2348.41" r="2.9"/><circle cx="720.04" cy="2268.32" r="2.9"/><circle cx="845.2" cy="2334.05" r="2.9"/><circle cx="730.17" cy="2285.22" r="2.9"/><circle cx="747.45" cy="2328.28" r="2.9"/><circle cx="761.84" cy="2374.33" r="2.9"/><circle cx="784.68" cy="2286.31" r="2.9"/><circle cx="737.21" cy="2221.42" r="2.9"/><circle cx="727.96" cy="2264.44" r="2.9"/><circle cx="745.52" cy="2328.84" r="2.9"/><circle cx="762.4" cy="2293.55" r="2.9"/><circle cx="733.56" cy="2280.76" r="2.9"/><circle cx="806.8" cy="2371.86" r="2.9"/><circle cx="742.22" cy="2217.89" r="2.9"/><circle cx="740.37" cy="2293.8" r="2.9"/><circle cx="743.65" cy="2358.79" r="2.9"/><circle cx="790.46" cy="2236.76" r="2.9"/><circle cx="736.26" cy="2347.25" r="2.9"/><circle cx="775.97" cy="2407.63" r="2.9"/><circle cx="728.3" cy="2204.38" r="2.9"/><circle cx="774.43" cy="2319.29" r="2.9"/><circle cx="720.35" cy="2293.32" r="2.9"/><circle cx="756.32" cy="2273.74" r="2.9"/><circle cx="720.56" cy="2201.6" r="2.9"/><circle cx="719.22" cy="2246.51" r="2.9"/><circle cx="777.36" cy="2351.82" r="2.9"/><circle cx="750.51" cy="2303.78" r="2.9"/><circle cx="740.15" cy="2354.18" r="2.9"/><circle cx="795.65" cy="2372.1" r="2.9"/><circle cx="740.88" cy="2257.06" r="2.9"/><circle cx="765.91" cy="2367.09" r="2.9"/><circle cx="848.04" cy="2350.05" r="2.9"/><circle cx="749.39" cy="2351.41" r="2.9"/><circle cx="731.79" cy="2215.05" r="2.9"/><circle cx="768.44" cy="2332.96" r="2.9"/><circle cx="751.28" cy="2315.08" r="2.9"/><circle cx="726.72" cy="2239.95" r="2.9"/><circle cx="803.49" cy="2284.75" r="2.9"/><circle cx="819.24" cy="2313.79" r="2.9"/><circle cx="739.48" cy="2208.5" r="2.9"/><circle cx="740.23" cy="2267.48" r="2.9"/><circle cx="749.45" cy="2261.86" r="2.9"/><circle cx="741.57" cy="2273.15" r="2.9"/><circle cx="740.44" cy="2264.16" r="2.9"/><circle cx="794.06" cy="2377.67" r="2.9"/><circle cx="721.44" cy="2257.72" r="2.9"/><circle cx="747.81" cy="2226.18" r="2.9"/><circle cx="778.7" cy="2299.15" r="2.9"/><circle cx="726.02" cy="2304.83" r="2.9"/><circle cx="768.17" cy="2352.68" r="2.9"/><circle cx="745.42" cy="2269.93" r="2.9"/><circle cx="792.4" cy="2403.75" r="2.9"/><circle cx="714.48" cy="2301.62" r="2.9"/><circle cx="761.3" cy="2238.33" r="2.9"/><circle cx="752.41" cy="2393.03" r="2.9"/><circle cx="732.42" cy="2366.19" r="2.9"/><circle cx="829.78" cy="2373.84" r="2.9"/><circle cx="782.53" cy="2307.01" r="2.9"/><circle cx="796.75" cy="2370.27" r="2.9"/><circle cx="751.98" cy="2342.21" r="2.9"/><circle cx="746.02" cy="2307.77" r="2.9"/><circle cx="796.69" cy="2375.76" r="2.9"/><circle cx="724.44" cy="2324.46" r="2.9"/><circle cx="729.4" cy="2238.17" r="2.9"/><circle cx="734.73" cy="2306.79" r="2.9"/><circle cx="726.75" cy="2233.47" r="2.9"/><circle cx="730.54" cy="2268.32" r="2.9"/><circle cx="783.32" cy="2397.7" r="2.9"/><circle cx="747.26" cy="2299.99" r="2.9"/><circle cx="732.29" cy="2288.58" r="2.9"/><circle cx="773.36" cy="2302.65" r="2.9"/><circle cx="741.65" cy="2359.69" r="2.9"/><circle cx="748.41" cy="2309.54" r="2.9"/><circle cx="734.33" cy="2264.64" r="2.9"/><circle cx="726.06" cy="2258.92" r="2.9"/><circle cx="712.73" cy="2337.97" r="2.9"/><circle cx="796.97" cy="2244.14" r="2.9"/><circle cx="759.49" cy="2273.57" r="2.9"/><circle cx="738.73" cy="2268.28" r="2.9"/><circle cx="735.52" cy="2263.16" r="2.9"/><circle cx="734.17" cy="2306.33" r="2.9"/><circle cx="760.62" cy="2277.48" r="2.9"/><circle cx="746.79" cy="2295.25" r="2.9"/><circle cx="764.48" cy="2354.83" r="2.9"/><circle cx="774.03" cy="2247.24" r="2.9"/><circle cx="723.85" cy="2210.52" r="2.9"/><circle cx="745.26" cy="2324.92" r="2.9"/><circle cx="734.15" cy="2302.4" r="2.9"/><circle cx="815.48" cy="2353.13" r="2.9"/><circle cx="722.12" cy="2271.27" r="2.9"/><circle cx="783.65" cy="2330" r="2.9"/><circle cx="788.72" cy="2380.08" r="2.9"/><circle cx="746.87" cy="2294.55" r="2.9"/><circle cx="812.64" cy="2321.64" r="2.9"/><circle cx="758.06" cy="2299.3" r="2.9"/><circle cx="830.2" cy="2288.12" r="2.9"/><circle cx="734.14" cy="2224.29" r="2.9"/><circle cx="721.56" cy="2271.55" r="2.9"/><circle cx="850.17" cy="2377.15" r="2.9"/><circle cx="795.2" cy="2337.99" r="2.9"/><circle cx="723.83" cy="2244.83" r="2.9"/><circle cx="732.91" cy="2334.59" r="2.9"/><circle cx="743.77" cy="2298.63" r="2.9"/><circle cx="771.15" cy="2341.51" r="2.9"/><circle cx="732.85" cy="2316.49" r="2.9"/><circle cx="755.46" cy="2277.77" r="2.9"/><circle cx="744.93" cy="2275.6" r="2.9"/><circle cx="817.36" cy="2369.68" r="2.9"/><circle cx="737.03" cy="2244.77" r="2.9"/><circle cx="752.81" cy="2338.67" r="2.9"/><circle cx="724.74" cy="2303.69" r="2.9"/><circle cx="728.1" cy="2304.13" r="2.9"/><circle cx="803.14" cy="2280.6" r="2.9"/><circle cx="820.42" cy="2387.65" r="2.9"/><circle cx="739.43" cy="2245.49" r="2.9"/><circle cx="759.26" cy="2343.6" r="2.9"/><circle cx="762.15" cy="2352.55" r="2.9"/><circle cx="725.81" cy="2305.96" r="2.9"/><circle cx="749.55" cy="2283.35" r="2.9"/><circle cx="741.45" cy="2318.88" r="2.9"/><circle cx="733.54" cy="2197.05" r="2.9"/><circle cx="847.78" cy="2374.72" r="2.9"/><circle cx="740.8" cy="2271.67" r="2.9"/><circle cx="727.72" cy="2251.82" r="2.9"/><circle cx="824.16" cy="2246.46" r="2.9"/><circle cx="753.44" cy="2376.84" r="2.9"/><circle cx="749.73" cy="2328.48" r="2.9"/><circle cx="755.02" cy="2268.56" r="2.9"/><circle cx="765.51" cy="2334.11" r="2.9"/><circle cx="778.83" cy="2314.91" r="2.9"/><circle cx="757.16" cy="2282.53" r="2.9"/><circle cx="760.56" cy="2297.21" r="2.9"/><circle cx="836.44" cy="2276.85" r="2.9"/><circle cx="815.88" cy="2360.25" r="2.9"/><circle cx="749.84" cy="2272" r="2.9"/><circle cx="771.78" cy="2366.63" r="2.9"/><circle cx="786.33" cy="2321.99" r="2.9"/><circle cx="839.39" cy="2352.5" r="2.9"/><circle cx="764.21" cy="2347.52" r="2.9"/><circle cx="732.91" cy="2257.14" r="2.9"/><circle cx="732.47" cy="2251.47" r="2.9"/><circle cx="766.1" cy="2372.79" r="2.9"/><circle cx="788.02" cy="2266.08" r="2.9"/><circle cx="753.81" cy="2303.21" r="2.9"/><circle cx="772.62" cy="2306.21" r="2.9"/><circle cx="727.85" cy="2255.05" r="2.9"/><circle cx="760.83" cy="2257.79" r="2.9"/><circle cx="719.65" cy="2281.27" r="2.9"/><circle cx="713.69" cy="2313.06" r="2.9"/><circle cx="789.33" cy="2382.52" r="2.9"/><circle cx="780.9" cy="2376.65" r="2.9"/><circle cx="796.7" cy="2350.1" r="2.9"/><circle cx="748.41" cy="2308.8" r="2.9"/><circle cx="728.26" cy="2295.48" r="2.9"/><circle cx="758.46" cy="2319.52" r="2.9"/><circle cx="717.87" cy="2248.09" r="2.9"/><circle cx="761.01" cy="2250.32" r="2.9"/><circle cx="773.73" cy="2227.01" r="2.9"/><circle cx="735.76" cy="2312.99" r="2.9"/><circle cx="731.79" cy="2296.22" r="2.9"/><circle cx="723.31" cy="2254.22" r="2.9"/><circle cx="732.83" cy="2296.5" r="2.9"/><circle cx="802.73" cy="2259.98" r="2.9"/><circle cx="726.75" cy="2270.53" r="2.9"/><circle cx="732.69" cy="2344.11" r="2.9"/><circle cx="713.01" cy="2264.94" r="2.9"/><circle cx="715.78" cy="2226.36" r="2.9"/><circle cx="780.39" cy="2391.7" r="2.9"/><circle cx="780.03" cy="2274.81" r="2.9"/><circle cx="775.07" cy="2281.34" r="2.9"/><circle cx="792.36" cy="2340.8" r="2.9"/><circle cx="714.18" cy="2240.88" r="2.9"/><circle cx="760.53" cy="2319.68" r="2.9"/><circle cx="762.6" cy="2387" r="2.9"/><circle cx="724.68" cy="2287.66" r="2.9"/><circle cx="789.28" cy="2385.83" r="2.9"/><circle cx="736.62" cy="2296.94" r="2.9"/><circle cx="720.77" cy="2216.78" r="2.9"/><circle cx="788.32" cy="2356.12" r="2.9"/><circle cx="777.99" cy="2330.73" r="2.9"/><circle cx="754.96" cy="2366.45" r="2.9"/><circle cx="726.03" cy="2230.06" r="2.9"/><circle cx="731.54" cy="2249.76" r="2.9"/><circle cx="721.16" cy="2276.55" r="2.9"/><circle cx="759.22" cy="2299.28" r="2.9"/><circle cx="780.66" cy="2386.18" r="2.9"/><circle cx="763.53" cy="2378.68" r="2.9"/><circle cx="850.64" cy="2393.16" r="2.9"/><circle cx="793.45" cy="2274.62" r="2.9"/><circle cx="739.43" cy="2365.41" r="2.9"/><circle cx="781.82" cy="2279.93" r="2.9"/><circle cx="732.81" cy="2242.23" r="2.9"/><circle cx="727.27" cy="2241.03" r="2.9"/><circle cx="748.4" cy="2306.7" r="2.9"/><circle cx="729.89" cy="2273.29" r="2.9"/><circle cx="769.46" cy="2357.22" r="2.9"/><circle cx="838.95" cy="2373.98" r="2.9"/><circle cx="741.37" cy="2289.06" r="2.9"/><circle cx="832.5" cy="2377.55" r="2.9"/><circle cx="775.48" cy="2357.75" r="2.9"/><circle cx="763.49" cy="2289.6" r="2.9"/><circle cx="753.77" cy="2328.96" r="2.9"/><circle cx="813.16" cy="2312.17" r="2.9"/><circle cx="801.07" cy="2334.77" r="2.9"/><circle cx="712.07" cy="2222.71" r="2.9"/><circle cx="770.55" cy="2370.96" r="2.9"/><circle cx="770.56" cy="2339.26" r="2.9"/><circle cx="763.59" cy="2377.52" r="2.9"/><circle cx="728.44" cy="2274.96" r="2.9"/><circle cx="770.45" cy="2250.56" r="2.9"/><circle cx="733.1" cy="2284.01" r="2.9"/><circle cx="764.75" cy="2354.71" r="2.9"/><circle cx="801.41" cy="2339.41" r="2.9"/><circle cx="817.86" cy="2320.21" r="2.9"/><circle cx="713.68" cy="2235.74" r="2.9"/><circle cx="719.02" cy="2294.16" r="2.9"/><circle cx="764.17" cy="2293.83" r="2.9"/><circle cx="717.09" cy="2232.31" r="2.9"/><circle cx="733.11" cy="2338.48" r="2.9"/><circle cx="749" cy="2270.46" r="2.9"/><circle cx="812.58" cy="2327.57" r="2.9"/><circle cx="745.62" cy="2278.9" r="2.9"/><circle cx="712.75" cy="2241.89" r="2.9"/><circle cx="789.92" cy="2280.45" r="2.9"/><circle cx="739.54" cy="2339.65" r="2.9"/><circle cx="741.28" cy="2349.3" r="2.9"/><circle cx="732.04" cy="2259.14" r="2.9"/><circle cx="725.09" cy="2255.72" r="2.9"/><circle cx="715.9" cy="2298.85" r="2.9"/><circle cx="741.34" cy="2262.65" r="2.9"/><circle cx="809.92" cy="2330.31" r="2.9"/><circle cx="720.52" cy="2239.66" r="2.9"/><circle cx="747.51" cy="2205.65" r="2.9"/><circle cx="776.44" cy="2295.9" r="2.9"/><circle cx="735.29" cy="2309.68" r="2.9"/><circle cx="763.09" cy="2256.79" r="2.9"/><circle cx="741.08" cy="2322.91" r="2.9"/><circle cx="720.92" cy="2231.53" r="2.9"/><circle cx="779.33" cy="2340.25" r="2.9"/><circle cx="715.95" cy="2256.52" r="2.9"/><circle cx="738.91" cy="2222.75" r="2.9"/><circle cx="746.21" cy="2285.1" r="2.9"/><circle cx="816.37" cy="2355.63" r="2.9"/><circle cx="722.36" cy="2273.1" r="2.9"/><circle cx="779.32" cy="2340.34" r="2.9"/><circle cx="808.18" cy="2340.55" r="2.9"/><circle cx="718.54" cy="2283.22" r="2.9"/><circle cx="718.68" cy="2216.46" r="2.9"/><circle cx="773.72" cy="2307.38" r="2.9"/><circle cx="754.62" cy="2216.03" r="2.9"/><circle cx="724.28" cy="2260.16" r="2.9"/><circle cx="796.27" cy="2297.44" r="2.9"/><circle cx="768.87" cy="2311.15" r="2.9"/><circle cx="745.3" cy="2351.84" r="2.9"/><circle cx="747.14" cy="2314.12" r="2.9"/><circle cx="734.64" cy="2272.52" r="2.9"/><circle cx="711.49" cy="2273.89" r="2.9"/><circle cx="731.23" cy="2232.17" r="2.9"/><circle cx="835" cy="2328.04" r="2.9"/><circle cx="827.29" cy="2392.39" r="2.9"/><circle cx="861.37" cy="2394.92" r="2.9"/><circle cx="854.57" cy="2393.36" r="2.9"/><circle cx="850.75" cy="2361.4" r="2.9"/><circle cx="900.73" cy="2345.13" r="2.9"/><circle cx="842.63" cy="2327.02" r="2.9"/><circle cx="900.15" cy="2354.47" r="2.9"/><circle cx="852.96" cy="2379.65" r="2.9"/><circle cx="885.67" cy="2296.53" r="2.9"/><circle cx="835.43" cy="2303.08" r="2.9"/><circle cx="892.43" cy="2329.13" r="2.9"/><circle cx="883.1" cy="2307.69" r="2.9"/><circle cx="872.4" cy="2324.26" r="2.9"/><circle cx="835.75" cy="2298.57" r="2.9"/><circle cx="901.46" cy="2337.79" r="2.9"/><circle cx="873.32" cy="2362.71" r="2.9"/><circle cx="873.56" cy="2369.4" r="2.9"/><circle cx="830.24" cy="2391.84" r="2.9"/><circle cx="886.09" cy="2341" r="2.9"/><circle cx="854.03" cy="2387.97" r="2.9"/><circle cx="890.52" cy="2299.83" r="2.9"/><circle cx="693.87" cy="2183" r="2.9"/><circle cx="694.72" cy="2183" r="2.9"/><circle cx="697.55" cy="2183" r="2.9"/><circle cx="699.17" cy="2183" r="2.9"/><circle cx="700.77" cy="2183" r="2.9"/><circle cx="702.6" cy="2183" r="2.9"/><circle cx="703.57" cy="2183" r="2.9"/><circle cx="706.42" cy="2183" r="2.9"/><circle cx="707.81" cy="2183" r="2.9"/><circle cx="709.25" cy="2183" r="2.9"/><circle cx="711.36" cy="2183" r="2.9"/><circle cx="712.46" cy="2183" r="2.9"/><circle cx="714.44" cy="2183" r="2.9"/><circle cx="716.26" cy="2183" r="2.9"/><circle cx="717.86" cy="2183" r="2.9"/><circle cx="719.73" cy="2183" r="2.9"/><circle cx="721.73" cy="2183" r="2.9"/><circle cx="723.65" cy="2183" r="2.9"/><circle cx="725.84" cy="2183" r="2.9"/><circle cx="727.15" cy="2183" r="2.9"/><circle cx="729.33" cy="2183" r="2.9"/><circle cx="730.66" cy="2183" r="2.9"/><circle cx="732.78" cy="2183" r="2.9"/><circle cx="735.06" cy="2183" r="2.9"/><circle cx="735.83" cy="2183" r="2.9"/><circle cx="737.62" cy="2183" r="2.9"/><circle cx="740.13" cy="2183" r="2.9"/><circle cx="741.62" cy="2183" r="2.9"/><circle cx="743.88" cy="2183" r="2.9"/><circle cx="744.86" cy="2183" r="2.9"/><circle cx="747.42" cy="2183" r="2.9"/><circle cx="749.37" cy="2183" r="2.9"/><circle cx="751.18" cy="2183" r="2.9"/><circle cx="752.09" cy="2183" r="2.9"/><circle cx="754.55" cy="2183" r="2.9"/><circle cx="755.89" cy="2183" r="2.9"/><circle cx="757.72" cy="2183" r="2.9"/><circle cx="759.4" cy="2183" r="2.9"/><circle cx="673.4" cy="2183" r="2.9"/><circle cx="768.56" cy="2183" r="2.9"/><circle cx="673.4" cy="2305.85" r="2.9"/><circle cx="681.75" cy="2227.04" r="2.9"/><circle cx="691.4" cy="2240.95" r="2.9"/><circle cx="858.58" cy="2245.59" r="2.9"/><circle cx="859.87" cy="2282.67" r="2.9"/><circle cx="903.59" cy="2329.03" r="2.9"/><circle cx="778.2" cy="2196.91" r="2.9"/><circle cx="820" cy="2210.82" r="2.9"/><circle cx="848.93" cy="2245.59" r="2.9"/><circle cx="747.77" cy="2414.8" r="2.9"/><circle cx="835.38" cy="2414.8" r="2.9"/><circle cx="795.6" cy="2414.8" r="2.9"/><circle cx="743.61" cy="2414.8" r="2.9"/><circle cx="806.31" cy="2414.8" r="2.9"/><circle cx="769.16" cy="2414.8" r="2.9"/><circle cx="768.56" cy="2414.8" r="2.9"/><circle cx="817.72" cy="2414.8" r="2.9"/><circle cx="817.16" cy="2414.8" r="2.9"/><circle cx="730.81" cy="2414.8" r="2.9"/><circle cx="794.49" cy="2414.8" r="2.9"/><circle cx="749.93" cy="2414.8" r="2.9"/><circle cx="760.54" cy="2414.8" r="2.9"/><circle cx="753.52" cy="2414.8" r="2.9"/><circle cx="794.28" cy="2414.8" r="2.9"/>
</g>
<polyline fill="none" stroke="#000" stroke-width="4" stroke-linejoin="round" points="672.2,2226.39 673.5,2226.97 674.8,2224.04 676.1,2226.85 677.4,2224.62 678.7,2222.29 680,2223.74 681.3,2225.75 682.6,2225.04 683.9,2222.15 685.2,2225.1 686.5,2223.67 687.8,2224.43 689.1,2224.11 690.4,2221.27 691.7,2223.82 693,2221.94 694.3,2225.65 695.6,2224.01 696.9,2222.92 698.2,2221.85 699.5,2224.49 700.8,2225.46 702.1,2223.77 703.4,2230.72 704.7,2226.61 706,2227.65 707.3,2221.3 708.6,2228.54 709.9,2229.65 711.2,2237.43 712.5,2244.14 713.8,2237.17 715.1,2226.77 716.4,2222.94 717.7,2232.11 719,2242.16 720.3,2247.85 721.6,2247.43 722.9,2245.88 724.2,2238.92 725.5,2239.37 726.8,2236.67 728.1,2239.73 729.4,2240.16 730.7,2242.49 732,2245.69 733.3,2254.94 734.6,2258.97 735.9,2267.38 737.2,2271.82 738.5,2268.39 739.8,2273.07 741.1,2274.36 742.4,2274.2 743.7,2279.4 745,2279.93 746.3,2287.03 747.6,2289.35 748.9,2290.9 750.2,2296.75 751.5,2294.85 752.8,2296.73 754.1,2299.21 755.4,2304.99 756.7,2306.64 758,2314.59 759.3,2307.69 760.6,2304.37 761.9,2302.89 763.2,2304.11 764.5,2311.58 765.8,2322.76 767.1,2327.08 768.4,2328.09 769.7,2326.17 771,2323.98 772.3,2325.86 773.6,2326.24 774.9,2324.68 776.2,2324.63 777.5,2326.95 778.8,2324.92 780.1,2329.6 781.4,2330.69 782.7,2338.19 784,2335.46 785.3,2335.63 786.6,2341.62 787.9,2341.33 789.2,2343.32 790.5,2345.17 791.8,2346.8 793.1,2346.32 794.4,2347.67 795.7,2345.84 797,2342.96 798.3,2342.5 799.6,2340.06 800.9,2341.28 802.2,2341.12 803.5,2339.98 804.8,2338.93 806.1,2336.48 807.4,2338.27 808.7,2333.78 810,2332.93 811.3,2330.99 812.6,2334.69 813.9,2337.05 815.2,2344.08 816.5,2344.13 817.8,2343.44 819.1,2348.9 820.4,2350.33 821.7,2357.67 822.8,2358.8 903.1,2358.8"/>
<rect x="661.5" y="2172" width="253.1" height="254" fill="none" stroke="#B3B3B3" stroke-width="1.8"/>
<line x1="650.8" y1="2183" x2="661.5" y2="2183" stroke="#B3B3B3" stroke-width="1.6"/>
<text x="640.8" y="2191.3" text-anchor="end" fill="#4D4D4D" font-size="23.5">1.00</text>
<line x1="650.8" y1="2240.95" x2="661.5" y2="2240.95" stroke="#B3B3B3" stroke-width="1.6"/>
<text x="640.8" y="2249.25" text-anchor="end" fill="#4D4D4D" font-size="23.5">0.75</text>
<line x1="650.8" y1="2298.9" x2="661.5" y2="2298.9" stroke="#B3B3B3" stroke-width="1.6"/>
<text x="640.8" y="2307.2" text-anchor="end" fill="#4D4D4D" font-size="23.5">0.50</text>
<line x1="650.8" y1="2356.85" x2="661.5" y2="2356.85" stroke="#B3B3B3" stroke-width="1.6"/>
<text x="640.8" y="2365.15" text-anchor="end" fill="#4D4D4D" font-size="23.5">0.25</text>
<line x1="650.8" y1="2414.8" x2="661.5" y2="2414.8" stroke="#B3B3B3" stroke-width="1.6"/>
<text x="640.8" y="2423.1" text-anchor="end" fill="#4D4D4D" font-size="23.5">0.00</text>
<line x1="691.4" y1="2426" x2="691.4" y2="2435" stroke="#B3B3B3" stroke-width="1.6"/>
<text x="691.4" y="2460.7" text-anchor="middle" fill="#4D4D4D" font-size="23.5">5</text>
<line x1="755.7" y1="2426" x2="755.7" y2="2435" stroke="#B3B3B3" stroke-width="1.6"/>
<text x="755.7" y="2460.7" text-anchor="middle" fill="#4D4D4D" font-size="23.5">6</text>
<line x1="820" y1="2426" x2="820" y2="2435" stroke="#B3B3B3" stroke-width="1.6"/>
<text x="820" y="2460.7" text-anchor="middle" fill="#4D4D4D" font-size="23.5">7</text>
<line x1="884.3" y1="2426" x2="884.3" y2="2435" stroke="#B3B3B3" stroke-width="1.6"/>
<text x="884.3" y="2460.7" text-anchor="middle" fill="#4D4D4D" font-size="23.5">8</text>
<text transform="translate(583.2 2298.6) rotate(-90)" text-anchor="middle" font-size="24" textLength="167" lengthAdjust="spacingAndGlyphs">Avg. methylation</text>
<text x="788.3" y="2490.8" text-anchor="middle" font-size="24" textLength="170" lengthAdjust="spacingAndGlyphs">Gene expression</text>
<line x1="606.2" y1="2081.6" x2="915.4" y2="2081.6" stroke="#000" stroke-width="3.2"/>
<path d="M623.1 2063.2h1.05v16.5h-1.05zM627.1 2063.2h1.05v16.5h-1.05zM633.1 2063.2h1.05v16.5h-1.05zM643.1 2063.2h1.05v16.5h-1.05zM646.1 2063.2h1.05v16.5h-1.05zM664.1 2063.2h1.05v16.5h-1.05zM677.1 2063.2h1.05v16.5h-1.05zM692.1 2063.2h1.05v16.5h-1.05zM706.1 2063.2h1.05v16.5h-1.05zM717.1 2063.2h1.05v16.5h-1.05zM731.1 2063.2h1.05v16.5h-1.05zM735.1 2063.2h1.05v16.5h-1.05zM763.1 2063.2h1.05v16.5h-1.05zM792.1 2063.2h1.05v16.5h-1.05zM796.1 2063.2h1.05v16.5h-1.05zM808.1 2063.2h1.05v16.5h-1.05zM847.1 2063.2h1.05v16.5h-1.05zM873.1 2063.2h1.05v16.5h-1.05zM889.1 2063.2h1.05v16.5h-1.05zM898.1 2063.2h1.05v16.5h-1.05z" fill="#F2F2F2"/>
<path d="M624.1 2063.2h1.05v16.5h-1.05zM626.1 2063.2h1.05v16.5h-1.05zM628.1 2063.2h1.05v16.5h-1.05zM645.1 2063.2h1.05v16.5h-1.05zM647.1 2063.2h1.05v16.5h-1.05zM678.1 2063.2h1.05v16.5h-1.05zM685.1 2063.2h1.05v16.5h-1.05zM686.1 2063.2h1.05v16.5h-1.05zM730.1 2063.2h1.05v16.5h-1.05zM732.1 2063.2h1.05v16.5h-1.05zM738.1 2063.2h1.05v16.5h-1.05zM739.1 2063.2h1.05v16.5h-1.05zM759.1 2063.2h1.05v16.5h-1.05zM760.1 2063.2h1.05v16.5h-1.05zM761.1 2063.2h1.05v16.5h-1.05zM762.1 2063.2h1.05v16.5h-1.05zM782.1 2063.2h1.05v16.5h-1.05zM812.1 2063.2h1.05v16.5h-1.05zM819.1 2063.2h1.05v16.5h-1.05zM828.1 2063.2h1.05v16.5h-1.05zM829.1 2063.2h1.05v16.5h-1.05zM832.1 2063.2h1.05v16.5h-1.05zM833.1 2063.2h1.05v16.5h-1.05zM853.1 2063.2h1.05v16.5h-1.05zM854.1 2063.2h1.05v16.5h-1.05zM858.1 2063.2h1.05v16.5h-1.05zM859.1 2063.2h1.05v16.5h-1.05zM860.1 2063.2h1.05v16.5h-1.05zM882.1 2063.2h1.05v16.5h-1.05zM883.1 2063.2h1.05v16.5h-1.05zM884.1 2063.2h1.05v16.5h-1.05zM887.1 2063.2h1.05v16.5h-1.05zM888.1 2063.2h1.05v16.5h-1.05zM890.1 2063.2h1.05v16.5h-1.05zM891.1 2063.2h1.05v16.5h-1.05zM892.1 2063.2h1.05v16.5h-1.05zM893.1 2063.2h1.05v16.5h-1.05zM900.1 2063.2h1.05v16.5h-1.05zM901.1 2063.2h1.05v16.5h-1.05z" fill="#B0B0B0"/>
<path d="M619.1 2063.2h1.05v16.5h-1.05zM620.1 2063.2h1.05v16.5h-1.05zM621.1 2063.2h1.05v16.5h-1.05zM622.1 2063.2h1.05v16.5h-1.05zM625.1 2063.2h1.05v16.5h-1.05zM632.1 2063.2h1.05v16.5h-1.05zM634.1 2063.2h1.05v16.5h-1.05zM637.1 2063.2h1.05v16.5h-1.05zM638.1 2063.2h1.05v16.5h-1.05zM639.1 2063.2h1.05v16.5h-1.05zM640.1 2063.2h1.05v16.5h-1.05zM641.1 2063.2h1.05v16.5h-1.05zM642.1 2063.2h1.05v16.5h-1.05zM644.1 2063.2h1.05v16.5h-1.05zM648.1 2063.2h1.05v16.5h-1.05zM651.1 2063.2h1.05v16.5h-1.05zM652.1 2063.2h1.05v16.5h-1.05zM656.1 2063.2h1.05v16.5h-1.05zM661.1 2063.2h1.05v16.5h-1.05zM667.1 2063.2h1.05v16.5h-1.05zM671.1 2063.2h1.05v16.5h-1.05zM679.1 2063.2h1.05v16.5h-1.05zM680.1 2063.2h1.05v16.5h-1.05zM682.1 2063.2h1.05v16.5h-1.05zM683.1 2063.2h1.05v16.5h-1.05zM684.1 2063.2h1.05v16.5h-1.05zM693.1 2063.2h1.05v16.5h-1.05zM695.1 2063.2h1.05v16.5h-1.05zM696.1 2063.2h1.05v16.5h-1.05zM698.1 2063.2h1.05v16.5h-1.05zM699.1 2063.2h1.05v16.5h-1.05zM703.1 2063.2h1.05v16.5h-1.05zM704.1 2063.2h1.05v16.5h-1.05zM713.1 2063.2h1.05v16.5h-1.05zM718.1 2063.2h1.05v16.5h-1.05zM721.1 2063.2h1.05v16.5h-1.05zM722.1 2063.2h1.05v16.5h-1.05zM727.1 2063.2h1.05v16.5h-1.05zM728.1 2063.2h1.05v16.5h-1.05zM729.1 2063.2h1.05v16.5h-1.05zM733.1 2063.2h1.05v16.5h-1.05zM734.1 2063.2h1.05v16.5h-1.05zM736.1 2063.2h1.05v16.5h-1.05zM740.1 2063.2h1.05v16.5h-1.05zM748.1 2063.2h1.05v16.5h-1.05zM749.1 2063.2h1.05v16.5h-1.05zM750.1 2063.2h1.05v16.5h-1.05zM751.1 2063.2h1.05v16.5h-1.05zM755.1 2063.2h1.05v16.5h-1.05zM758.1 2063.2h1.05v16.5h-1.05zM771.1 2063.2h1.05v16.5h-1.05zM772.1 2063.2h1.05v16.5h-1.05zM778.1 2063.2h1.05v16.5h-1.05zM779.1 2063.2h1.05v16.5h-1.05zM781.1 2063.2h1.05v16.5h-1.05zM790.1 2063.2h1.05v16.5h-1.05zM793.1 2063.2h1.05v16.5h-1.05zM794.1 2063.2h1.05v16.5h-1.05zM797.1 2063.2h1.05v16.5h-1.05zM805.1 2063.2h1.05v16.5h-1.05zM806.1 2063.2h1.05v16.5h-1.05zM811.1 2063.2h1.05v16.5h-1.05zM813.1 2063.2h1.05v16.5h-1.05zM818.1 2063.2h1.05v16.5h-1.05zM820.1 2063.2h1.05v16.5h-1.05zM824.1 2063.2h1.05v16.5h-1.05zM827.1 2063.2h1.05v16.5h-1.05zM830.1 2063.2h1.05v16.5h-1.05zM831.1 2063.2h1.05v16.5h-1.05zM834.1 2063.2h1.05v16.5h-1.05zM835.1 2063.2h1.05v16.5h-1.05zM838.1 2063.2h1.05v16.5h-1.05zM839.1 2063.2h1.05v16.5h-1.05zM842.1 2063.2h1.05v16.5h-1.05zM843.1 2063.2h1.05v16.5h-1.05zM844.1 2063.2h1.05v16.5h-1.05zM852.1 2063.2h1.05v16.5h-1.05zM855.1 2063.2h1.05v16.5h-1.05zM856.1 2063.2h1.05v16.5h-1.05zM857.1 2063.2h1.05v16.5h-1.05zM861.1 2063.2h1.05v16.5h-1.05zM862.1 2063.2h1.05v16.5h-1.05zM872.1 2063.2h1.05v16.5h-1.05zM874.1 2063.2h1.05v16.5h-1.05zM881.1 2063.2h1.05v16.5h-1.05zM885.1 2063.2h1.05v16.5h-1.05zM886.1 2063.2h1.05v16.5h-1.05zM902.1 2063.2h1.05v16.5h-1.05z" fill="#808080"/>
<path d="M629.1 2063.2h1.05v16.5h-1.05zM631.1 2063.2h1.05v16.5h-1.05zM635.1 2063.2h1.05v16.5h-1.05zM636.1 2063.2h1.05v16.5h-1.05zM649.1 2063.2h1.05v16.5h-1.05zM650.1 2063.2h1.05v16.5h-1.05zM655.1 2063.2h1.05v16.5h-1.05zM657.1 2063.2h1.05v16.5h-1.05zM658.1 2063.2h1.05v16.5h-1.05zM659.1 2063.2h1.05v16.5h-1.05zM660.1 2063.2h1.05v16.5h-1.05zM665.1 2063.2h1.05v16.5h-1.05zM666.1 2063.2h1.05v16.5h-1.05zM668.1 2063.2h1.05v16.5h-1.05zM670.1 2063.2h1.05v16.5h-1.05zM672.1 2063.2h1.05v16.5h-1.05zM675.1 2063.2h1.05v16.5h-1.05zM676.1 2063.2h1.05v16.5h-1.05zM681.1 2063.2h1.05v16.5h-1.05zM687.1 2063.2h1.05v16.5h-1.05zM689.1 2063.2h1.05v16.5h-1.05zM690.1 2063.2h1.05v16.5h-1.05zM691.1 2063.2h1.05v16.5h-1.05zM694.1 2063.2h1.05v16.5h-1.05zM697.1 2063.2h1.05v16.5h-1.05zM700.1 2063.2h1.05v16.5h-1.05zM707.1 2063.2h1.05v16.5h-1.05zM708.1 2063.2h1.05v16.5h-1.05zM712.1 2063.2h1.05v16.5h-1.05zM714.1 2063.2h1.05v16.5h-1.05zM716.1 2063.2h1.05v16.5h-1.05zM719.1 2063.2h1.05v16.5h-1.05zM720.1 2063.2h1.05v16.5h-1.05zM723.1 2063.2h1.05v16.5h-1.05zM726.1 2063.2h1.05v16.5h-1.05zM737.1 2063.2h1.05v16.5h-1.05zM741.1 2063.2h1.05v16.5h-1.05zM742.1 2063.2h1.05v16.5h-1.05zM746.1 2063.2h1.05v16.5h-1.05zM747.1 2063.2h1.05v16.5h-1.05zM752.1 2063.2h1.05v16.5h-1.05zM753.1 2063.2h1.05v16.5h-1.05zM754.1 2063.2h1.05v16.5h-1.05zM756.1 2063.2h1.05v16.5h-1.05zM766.1 2063.2h1.05v16.5h-1.05zM770.1 2063.2h1.05v16.5h-1.05zM773.1 2063.2h1.05v16.5h-1.05zM777.1 2063.2h1.05v16.5h-1.05zM780.1 2063.2h1.05v16.5h-1.05zM783.1 2063.2h1.05v16.5h-1.05zM791.1 2063.2h1.05v16.5h-1.05zM795.1 2063.2h1.05v16.5h-1.05zM800.1 2063.2h1.05v16.5h-1.05zM801.1 2063.2h1.05v16.5h-1.05zM804.1 2063.2h1.05v16.5h-1.05zM807.1 2063.2h1.05v16.5h-1.05zM814.1 2063.2h1.05v16.5h-1.05zM821.1 2063.2h1.05v16.5h-1.05zM825.1 2063.2h1.05v16.5h-1.05zM826.1 2063.2h1.05v16.5h-1.05zM836.1 2063.2h1.05v16.5h-1.05zM837.1 2063.2h1.05v16.5h-1.05zM841.1 2063.2h1.05v16.5h-1.05zM845.1 2063.2h1.05v16.5h-1.05zM851.1 2063.2h1.05v16.5h-1.05zM863.1 2063.2h1.05v16.5h-1.05zM864.1 2063.2h1.05v16.5h-1.05zM865.1 2063.2h1.05v16.5h-1.05zM866.1 2063.2h1.05v16.5h-1.05zM867.1 2063.2h1.05v16.5h-1.05zM868.1 2063.2h1.05v16.5h-1.05zM869.1 2063.2h1.05v16.5h-1.05zM870.1 2063.2h1.05v16.5h-1.05zM871.1 2063.2h1.05v16.5h-1.05zM875.1 2063.2h1.05v16.5h-1.05zM876.1 2063.2h1.05v16.5h-1.05zM880.1 2063.2h1.05v16.5h-1.05zM894.1 2063.2h1.05v16.5h-1.05zM899.1 2063.2h1.05v16.5h-1.05z" fill="#505050"/>
<path d="M630.1 2063.2h1.05v16.5h-1.05zM653.1 2063.2h1.05v16.5h-1.05zM654.1 2063.2h1.05v16.5h-1.05zM662.1 2063.2h1.05v16.5h-1.05zM663.1 2063.2h1.05v16.5h-1.05zM669.1 2063.2h1.05v16.5h-1.05zM673.1 2063.2h1.05v16.5h-1.05zM674.1 2063.2h1.05v16.5h-1.05zM688.1 2063.2h1.05v16.5h-1.05zM701.1 2063.2h1.05v16.5h-1.05zM702.1 2063.2h1.05v16.5h-1.05zM705.1 2063.2h1.05v16.5h-1.05zM709.1 2063.2h1.05v16.5h-1.05zM710.1 2063.2h1.05v16.5h-1.05zM711.1 2063.2h1.05v16.5h-1.05zM715.1 2063.2h1.05v16.5h-1.05zM724.1 2063.2h1.05v16.5h-1.05zM743.1 2063.2h1.05v16.5h-1.05zM745.1 2063.2h1.05v16.5h-1.05zM757.1 2063.2h1.05v16.5h-1.05zM765.1 2063.2h1.05v16.5h-1.05zM767.1 2063.2h1.05v16.5h-1.05zM768.1 2063.2h1.05v16.5h-1.05zM769.1 2063.2h1.05v16.5h-1.05zM774.1 2063.2h1.05v16.5h-1.05zM775.1 2063.2h1.05v16.5h-1.05zM776.1 2063.2h1.05v16.5h-1.05zM784.1 2063.2h1.05v16.5h-1.05zM785.1 2063.2h1.05v16.5h-1.05zM786.1 2063.2h1.05v16.5h-1.05zM789.1 2063.2h1.05v16.5h-1.05zM798.1 2063.2h1.05v16.5h-1.05zM802.1 2063.2h1.05v16.5h-1.05zM803.1 2063.2h1.05v16.5h-1.05zM810.1 2063.2h1.05v16.5h-1.05zM815.1 2063.2h1.05v16.5h-1.05zM816.1 2063.2h1.05v16.5h-1.05zM817.1 2063.2h1.05v16.5h-1.05zM822.1 2063.2h1.05v16.5h-1.05zM823.1 2063.2h1.05v16.5h-1.05zM840.1 2063.2h1.05v16.5h-1.05zM846.1 2063.2h1.05v16.5h-1.05zM849.1 2063.2h1.05v16.5h-1.05zM850.1 2063.2h1.05v16.5h-1.05zM877.1 2063.2h1.05v16.5h-1.05zM878.1 2063.2h1.05v16.5h-1.05zM879.1 2063.2h1.05v16.5h-1.05zM895.1 2063.2h1.05v16.5h-1.05zM897.1 2063.2h1.05v16.5h-1.05z" fill="#262626"/>
<path d="M725.1 2063.2h1.05v16.5h-1.05zM744.1 2063.2h1.05v16.5h-1.05zM764.1 2063.2h1.05v16.5h-1.05zM787.1 2063.2h1.05v16.5h-1.05zM788.1 2063.2h1.05v16.5h-1.05zM799.1 2063.2h1.05v16.5h-1.05zM809.1 2063.2h1.05v16.5h-1.05zM848.1 2063.2h1.05v16.5h-1.05zM896.1 2063.2h1.05v16.5h-1.05z" fill="#000000"/>
<line x1="619.9" y1="2061" x2="619.9" y2="2080" stroke="#222" stroke-width="1.6"/>
<line x1="902.3" y1="2061" x2="902.3" y2="2080" stroke="#222" stroke-width="1.6"/>
<rect x="616.4" y="2057.5" width="289.4" height="5.8" fill="#000" rx="2.9"/>
<text x="689" y="2016" font-size="21.5">TBX1</text>
<polyline fill="none" stroke="#0000FF" stroke-width="4" stroke-linejoin="round" points="715.8,2049.6 715.8,2024.6 744.7,2024.6" stroke-linejoin="miter" stroke-linecap="butt"/>
<polyline fill="none" stroke="#0000FF" stroke-width="4" stroke-linejoin="round" points="735.2,2018.1 744.7,2024.6 735.2,2031.1" stroke-linejoin="miter" stroke-linecap="butt"/>
<line x1="781.7" y1="2007.4" x2="781.7" y2="2038" stroke="#FF0000" stroke-width="4"/>
<polyline fill="none" stroke="#FF0000" stroke-width="4" stroke-linejoin="round" points="774.9,2031 781.7,2041.5 788.5,2031" stroke-linejoin="miter" stroke-linecap="butt"/>
<text x="783.2" y="2146.5" text-anchor="middle" font-size="19.2" textLength="244" lengthAdjust="spacingAndGlyphs">chr22 (19736225-19759740)</text>
<text x="813.6" y="2199.2" font-size="19" font-family="'DejaVu Sans Condensed', 'DejaVu Sans', sans-serif" textLength="82.3" lengthAdjust="spacingAndGlyphs">□□=−0.61</text>
<line x1="1101.3" y1="2385.83" x2="1354.4" y2="2385.83" stroke="#F2F2F2" stroke-width="1.2"/>
<line x1="1101.3" y1="2327.88" x2="1354.4" y2="2327.88" stroke="#F2F2F2" stroke-width="1.2"/>
<line x1="1101.3" y1="2269.93" x2="1354.4" y2="2269.93" stroke="#F2F2F2" stroke-width="1.2"/>
<line x1="1101.3" y1="2211.98" x2="1354.4" y2="2211.98" stroke="#F2F2F2" stroke-width="1.2"/>
<line x1="1119.37" y1="2172" x2="1119.37" y2="2426" stroke="#F2F2F2" stroke-width="1.2"/>
<line x1="1161.83" y1="2172" x2="1161.83" y2="2426" stroke="#F2F2F2" stroke-width="1.2"/>
<line x1="1204.29" y1="2172" x2="1204.29" y2="2426" stroke="#F2F2F2" stroke-width="1.2"/>
<line x1="1246.75" y1="2172" x2="1246.75" y2="2426" stroke="#F2F2F2" stroke-width="1.2"/>
<line x1="1289.21" y1="2172" x2="1289.21" y2="2426" stroke="#F2F2F2" stroke-width="1.2"/>
<line x1="1331.67" y1="2172" x2="1331.67" y2="2426" stroke="#F2F2F2" stroke-width="1.2"/>
<line x1="1101.3" y1="2414.8" x2="1354.4" y2="2414.8" stroke="#E3E3E3" stroke-width="1.4"/>
<line x1="1101.3" y1="2356.85" x2="1354.4" y2="2356.85" stroke="#E3E3E3" stroke-width="1.4"/>
<line x1="1101.3" y1="2298.9" x2="1354.4" y2="2298.9" stroke="#E3E3E3" stroke-width="1.4"/>
<line x1="1101.3" y1="2240.95" x2="1354.4" y2="2240.95" stroke="#E3E3E3" stroke-width="1.4"/>
<line x1="1101.3" y1="2183" x2="1354.4" y2="2183" stroke="#E3E3E3" stroke-width="1.4"/>
<line x1="1140.6" y1="2172" x2="1140.6" y2="2426" stroke="#E3E3E3" stroke-width="1.4"/>
<line x1="1183.06" y1="2172" x2="1183.06" y2="2426" stroke="#E3E3E3" stroke-width="1.4"/>
<line x1="1225.52" y1="2172" x2="1225.52" y2="2426" stroke="#E3E3E3" stroke-width="1.4"/>
<line x1="1267.98" y1="2172" x2="1267.98" y2="2426" stroke="#E3E3E3" stroke-width="1.4"/>
<line x1="1310.44" y1="2172" x2="1310.44" y2="2426" stroke="#E3E3E3" stroke-width="1.4"/>
<line x1="1352.9" y1="2172" x2="1352.9" y2="2426" stroke="#E3E3E3" stroke-width="1.4"/>
<g fill="#8229D6">
<circle cx="1184.36" cy="2183" r="3"/><circle cx="1157.05" cy="2227.6" r="3"/><circle cx="1336.99" cy="2333.2" r="3"/><circle cx="1141.21" cy="2199.41" r="3"/><circle cx="1167.11" cy="2199.8" r="3"/><circle cx="1133.35" cy="2214.15" r="3"/><circle cx="1148.04" cy="2221.64" r="3"/><circle cx="1196.77" cy="2247.57" r="3"/><circle cx="1218.26" cy="2193.94" r="3"/><circle cx="1174.56" cy="2184.44" r="3"/><circle cx="1150.9" cy="2217.69" r="3"/><circle cx="1180.02" cy="2248.42" r="3"/><circle cx="1301.08" cy="2287.59" r="3"/><circle cx="1181.54" cy="2223.92" r="3"/><circle cx="1211.47" cy="2215.51" r="3"/><circle cx="1161.8" cy="2227.34" r="3"/><circle cx="1171.56" cy="2187.18" r="3"/><circle cx="1147.07" cy="2230.29" r="3"/><circle cx="1148.75" cy="2222.2" r="3"/><circle cx="1185.97" cy="2205.76" r="3"/><circle cx="1182.35" cy="2195.13" r="3"/><circle cx="1193.92" cy="2203.34" r="3"/><circle cx="1236.95" cy="2260.47" r="3"/><circle cx="1221.36" cy="2245.04" r="3"/><circle cx="1170.59" cy="2215.19" r="3"/><circle cx="1257.55" cy="2277.68" r="3"/><circle cx="1269.41" cy="2269.51" r="3"/><circle cx="1197.91" cy="2246.29" r="3"/><circle cx="1282.42" cy="2288.88" r="3"/><circle cx="1149.37" cy="2209.41" r="3"/><circle cx="1277.21" cy="2243.68" r="3"/><circle cx="1130.25" cy="2222.91" r="3"/><circle cx="1139.54" cy="2224.02" r="3"/><circle cx="1177.08" cy="2196.54" r="3"/><circle cx="1163.8" cy="2228.2" r="3"/><circle cx="1145.56" cy="2185.06" r="3"/><circle cx="1159.7" cy="2186.99" r="3"/><circle cx="1264.43" cy="2320.58" r="3"/><circle cx="1308.03" cy="2252.08" r="3"/><circle cx="1171.65" cy="2205.17" r="3"/><circle cx="1172.64" cy="2220.44" r="3"/><circle cx="1142.91" cy="2206.71" r="3"/><circle cx="1133.47" cy="2188.69" r="3"/><circle cx="1169.14" cy="2236.97" r="3"/><circle cx="1229.58" cy="2262.75" r="3"/><circle cx="1171.76" cy="2186.6" r="3"/><circle cx="1191.74" cy="2183" r="3"/><circle cx="1135.67" cy="2215.76" r="3"/><circle cx="1190.75" cy="2223.53" r="3"/><circle cx="1154.29" cy="2198.23" r="3"/><circle cx="1138.91" cy="2211.87" r="3"/><circle cx="1167.72" cy="2253.06" r="3"/><circle cx="1145.7" cy="2202.5" r="3"/><circle cx="1226.64" cy="2248.5" r="3"/><circle cx="1190.87" cy="2242.2" r="3"/><circle cx="1179.52" cy="2206.45" r="3"/><circle cx="1125.31" cy="2219.45" r="3"/><circle cx="1147.52" cy="2183.42" r="3"/><circle cx="1298.35" cy="2314.59" r="3"/><circle cx="1240.88" cy="2216.75" r="3"/><circle cx="1188.35" cy="2287.02" r="3"/><circle cx="1175.15" cy="2231.85" r="3"/><circle cx="1122.86" cy="2202.7" r="3"/><circle cx="1156.03" cy="2208.07" r="3"/><circle cx="1148.24" cy="2223.36" r="3"/><circle cx="1129.3" cy="2189.07" r="3"/><circle cx="1187.37" cy="2195.13" r="3"/><circle cx="1144.3" cy="2197.94" r="3"/><circle cx="1303.83" cy="2301.19" r="3"/><circle cx="1202.04" cy="2213.46" r="3"/><circle cx="1148.94" cy="2217.55" r="3"/><circle cx="1168.55" cy="2193.78" r="3"/><circle cx="1242.77" cy="2315.7" r="3"/><circle cx="1300.47" cy="2379.78" r="3"/><circle cx="1243.26" cy="2271" r="3"/><circle cx="1288.91" cy="2233.26" r="3"/><circle cx="1174.5" cy="2216.13" r="3"/><circle cx="1162.01" cy="2206.19" r="3"/><circle cx="1163.35" cy="2190.09" r="3"/><circle cx="1272.77" cy="2302.23" r="3"/><circle cx="1201.66" cy="2237.16" r="3"/><circle cx="1182.29" cy="2196.86" r="3"/><circle cx="1168.59" cy="2237.04" r="3"/><circle cx="1191" cy="2223.99" r="3"/><circle cx="1137.31" cy="2191.83" r="3"/><circle cx="1296.96" cy="2239.59" r="3"/><circle cx="1124.34" cy="2221.6" r="3"/><circle cx="1148.72" cy="2222.08" r="3"/><circle cx="1132.97" cy="2228.33" r="3"/><circle cx="1335.57" cy="2283.61" r="3"/><circle cx="1234.1" cy="2247.59" r="3"/><circle cx="1235.36" cy="2257.28" r="3"/><circle cx="1232.48" cy="2253.09" r="3"/><circle cx="1268.84" cy="2282.11" r="3"/><circle cx="1179.39" cy="2214.41" r="3"/><circle cx="1203.44" cy="2254.83" r="3"/><circle cx="1159.51" cy="2224.45" r="3"/><circle cx="1204.08" cy="2201.3" r="3"/><circle cx="1231.61" cy="2245.25" r="3"/><circle cx="1123.86" cy="2198.23" r="3"/><circle cx="1163.55" cy="2215.45" r="3"/><circle cx="1202.43" cy="2227.52" r="3"/><circle cx="1200.81" cy="2187.67" r="3"/><circle cx="1186.08" cy="2206.46" r="3"/><circle cx="1185.48" cy="2217.74" r="3"/><circle cx="1166.25" cy="2214.16" r="3"/><circle cx="1164.17" cy="2224.84" r="3"/><circle cx="1182.14" cy="2190.91" r="3"/><circle cx="1171.01" cy="2229.37" r="3"/><circle cx="1208.04" cy="2240.88" r="3"/><circle cx="1192.89" cy="2226.65" r="3"/><circle cx="1330.2" cy="2362.57" r="3"/><circle cx="1332.19" cy="2250.61" r="3"/><circle cx="1164.96" cy="2191.74" r="3"/><circle cx="1208.17" cy="2273.83" r="3"/><circle cx="1311.45" cy="2267.06" r="3"/><circle cx="1173.65" cy="2202.59" r="3"/><circle cx="1128.63" cy="2213.53" r="3"/><circle cx="1135.14" cy="2190.61" r="3"/><circle cx="1309.74" cy="2320.47" r="3"/><circle cx="1198.61" cy="2197.02" r="3"/><circle cx="1290.93" cy="2301.03" r="3"/><circle cx="1201.87" cy="2230.87" r="3"/><circle cx="1193.07" cy="2214.87" r="3"/><circle cx="1326.96" cy="2297.83" r="3"/><circle cx="1294.27" cy="2304.5" r="3"/><circle cx="1213.54" cy="2261.86" r="3"/><circle cx="1161.55" cy="2221.52" r="3"/><circle cx="1202.28" cy="2223.58" r="3"/><circle cx="1170.6" cy="2191.56" r="3"/><circle cx="1164.29" cy="2193.16" r="3"/><circle cx="1299.22" cy="2275.77" r="3"/><circle cx="1317.32" cy="2308.78" r="3"/><circle cx="1123.01" cy="2196.37" r="3"/><circle cx="1199.64" cy="2202.7" r="3"/><circle cx="1172.46" cy="2210.87" r="3"/><circle cx="1143.59" cy="2195.89" r="3"/><circle cx="1197.02" cy="2233.71" r="3"/><circle cx="1340.98" cy="2323.96" r="3"/><circle cx="1184.14" cy="2209.79" r="3"/><circle cx="1197.42" cy="2183" r="3"/><circle cx="1196.34" cy="2202.15" r="3"/><circle cx="1153.91" cy="2231.41" r="3"/><circle cx="1186.96" cy="2189.58" r="3"/><circle cx="1135.43" cy="2184.53" r="3"/><circle cx="1330.55" cy="2351.81" r="3"/><circle cx="1222.09" cy="2243.11" r="3"/><circle cx="1218.95" cy="2231.15" r="3"/><circle cx="1173.53" cy="2220.01" r="3"/><circle cx="1153.98" cy="2207.63" r="3"/><circle cx="1193.48" cy="2238.48" r="3"/><circle cx="1142.29" cy="2221.44" r="3"/><circle cx="1178.61" cy="2212.6" r="3"/><circle cx="1212.26" cy="2196.85" r="3"/><circle cx="1124.9" cy="2207.76" r="3"/><circle cx="1280.51" cy="2326.78" r="3"/><circle cx="1145.51" cy="2193.52" r="3"/><circle cx="1147.93" cy="2219.4" r="3"/><circle cx="1313.67" cy="2263.33" r="3"/><circle cx="1129.93" cy="2218.75" r="3"/><circle cx="1234.16" cy="2270.11" r="3"/><circle cx="1188.85" cy="2185.48" r="3"/><circle cx="1217.9" cy="2223.35" r="3"/><circle cx="1317.71" cy="2361.08" r="3"/><circle cx="1173.61" cy="2188.2" r="3"/><circle cx="1212.77" cy="2264.85" r="3"/><circle cx="1163.15" cy="2222.36" r="3"/><circle cx="1181.91" cy="2250.15" r="3"/><circle cx="1144.86" cy="2235.44" r="3"/><circle cx="1304.5" cy="2266.18" r="3"/><circle cx="1191.59" cy="2203.32" r="3"/><circle cx="1128.65" cy="2204.88" r="3"/><circle cx="1147.18" cy="2237.33" r="3"/><circle cx="1209.11" cy="2258.47" r="3"/><circle cx="1225.59" cy="2220.29" r="3"/><circle cx="1155" cy="2187.48" r="3"/><circle cx="1149.17" cy="2239.74" r="3"/><circle cx="1123.71" cy="2209.46" r="3"/><circle cx="1150.04" cy="2206.84" r="3"/><circle cx="1146.53" cy="2193.03" r="3"/><circle cx="1157.28" cy="2183.72" r="3"/><circle cx="1183.01" cy="2202.02" r="3"/><circle cx="1211.6" cy="2223.66" r="3"/><circle cx="1244.09" cy="2284.95" r="3"/><circle cx="1220.16" cy="2215.65" r="3"/><circle cx="1193.58" cy="2243.98" r="3"/><circle cx="1183.64" cy="2243.43" r="3"/><circle cx="1191.58" cy="2279.08" r="3"/><circle cx="1124.53" cy="2214.79" r="3"/><circle cx="1177.46" cy="2225.62" r="3"/><circle cx="1165.87" cy="2244.91" r="3"/><circle cx="1216.33" cy="2209.9" r="3"/><circle cx="1187.29" cy="2253.64" r="3"/><circle cx="1205.94" cy="2292.25" r="3"/><circle cx="1196.1" cy="2240.91" r="3"/><circle cx="1138.75" cy="2183" r="3"/><circle cx="1223.18" cy="2265.35" r="3"/><circle cx="1222.54" cy="2238.41" r="3"/><circle cx="1222.48" cy="2242.57" r="3"/><circle cx="1169.31" cy="2191.98" r="3"/><circle cx="1201.36" cy="2260.84" r="3"/><circle cx="1152.03" cy="2219.92" r="3"/><circle cx="1275.33" cy="2214.4" r="3"/><circle cx="1174.51" cy="2193.94" r="3"/><circle cx="1272.36" cy="2207.34" r="3"/><circle cx="1172.76" cy="2183" r="3"/><circle cx="1215.17" cy="2299.56" r="3"/><circle cx="1153.8" cy="2193.84" r="3"/><circle cx="1142.29" cy="2227.32" r="3"/><circle cx="1272.24" cy="2287.01" r="3"/><circle cx="1127.59" cy="2215.88" r="3"/><circle cx="1221.48" cy="2226.67" r="3"/><circle cx="1182.19" cy="2218.04" r="3"/><circle cx="1321.84" cy="2329.6" r="3"/><circle cx="1160.92" cy="2206.27" r="3"/><circle cx="1277.18" cy="2258.55" r="3"/><circle cx="1144.29" cy="2210.88" r="3"/><circle cx="1200.05" cy="2185.49" r="3"/><circle cx="1261.08" cy="2314.2" r="3"/><circle cx="1175.14" cy="2215.92" r="3"/><circle cx="1164.65" cy="2216.02" r="3"/><circle cx="1172.93" cy="2189.83" r="3"/><circle cx="1144.31" cy="2214.96" r="3"/><circle cx="1199.3" cy="2192.23" r="3"/><circle cx="1251.36" cy="2314.29" r="3"/><circle cx="1116.32" cy="2227.61" r="3"/><circle cx="1340.13" cy="2271.69" r="3"/><circle cx="1196.77" cy="2250.24" r="3"/><circle cx="1210.93" cy="2260.94" r="3"/><circle cx="1214.22" cy="2183.86" r="3"/><circle cx="1189.46" cy="2194.26" r="3"/><circle cx="1253.39" cy="2256.51" r="3"/><circle cx="1176.53" cy="2229.72" r="3"/><circle cx="1153.52" cy="2183" r="3"/><circle cx="1142.76" cy="2208.49" r="3"/><circle cx="1171.16" cy="2223.7" r="3"/><circle cx="1213.38" cy="2251.62" r="3"/><circle cx="1193.13" cy="2237.48" r="3"/><circle cx="1135.16" cy="2189.64" r="3"/><circle cx="1177.62" cy="2214.95" r="3"/><circle cx="1223.59" cy="2270.86" r="3"/><circle cx="1161.68" cy="2204.2" r="3"/><circle cx="1200.16" cy="2245.86" r="3"/><circle cx="1185" cy="2235.56" r="3"/><circle cx="1317.76" cy="2262.57" r="3"/><circle cx="1130.16" cy="2234.39" r="3"/><circle cx="1148.32" cy="2212.96" r="3"/><circle cx="1220.23" cy="2251.49" r="3"/><circle cx="1181.85" cy="2188.22" r="3"/><circle cx="1203.01" cy="2238.67" r="3"/><circle cx="1181.29" cy="2230.33" r="3"/><circle cx="1182.69" cy="2203.2" r="3"/><circle cx="1154.52" cy="2220.01" r="3"/><circle cx="1225.99" cy="2300.6" r="3"/><circle cx="1250.11" cy="2268.09" r="3"/><circle cx="1203.31" cy="2192.08" r="3"/><circle cx="1173.35" cy="2191.1" r="3"/><circle cx="1192.56" cy="2207.94" r="3"/><circle cx="1204.68" cy="2210.43" r="3"/><circle cx="1239.03" cy="2183.35" r="3"/><circle cx="1230.43" cy="2275.24" r="3"/><circle cx="1166.38" cy="2204.58" r="3"/><circle cx="1179.48" cy="2194.29" r="3"/><circle cx="1120.52" cy="2198.08" r="3"/><circle cx="1183.99" cy="2192.13" r="3"/><circle cx="1164.03" cy="2183" r="3"/><circle cx="1179.11" cy="2194.87" r="3"/><circle cx="1198.1" cy="2246.22" r="3"/><circle cx="1194.03" cy="2227.04" r="3"/><circle cx="1197.5" cy="2220.99" r="3"/><circle cx="1135.59" cy="2188.23" r="3"/><circle cx="1205.96" cy="2183" r="3"/><circle cx="1173.82" cy="2199.51" r="3"/><circle cx="1153.78" cy="2190.59" r="3"/><circle cx="1301.03" cy="2233.73" r="3"/><circle cx="1127.48" cy="2183" r="3"/><circle cx="1177.07" cy="2261.87" r="3"/><circle cx="1186.65" cy="2222.1" r="3"/><circle cx="1146.24" cy="2196.92" r="3"/><circle cx="1149.55" cy="2188.65" r="3"/><circle cx="1146.69" cy="2242.72" r="3"/><circle cx="1285.12" cy="2328.17" r="3"/><circle cx="1298.8" cy="2252.52" r="3"/><circle cx="1213.98" cy="2198.73" r="3"/><circle cx="1195.67" cy="2219.66" r="3"/><circle cx="1179.58" cy="2237.6" r="3"/><circle cx="1184.99" cy="2234.97" r="3"/><circle cx="1214.34" cy="2224.74" r="3"/><circle cx="1147.85" cy="2223.82" r="3"/><circle cx="1188.25" cy="2215.86" r="3"/><circle cx="1155.78" cy="2211.86" r="3"/><circle cx="1161.28" cy="2237.97" r="3"/><circle cx="1142.37" cy="2205.94" r="3"/><circle cx="1246.21" cy="2259.52" r="3"/><circle cx="1313.74" cy="2287.78" r="3"/><circle cx="1162.05" cy="2244.9" r="3"/><circle cx="1188.6" cy="2204.42" r="3"/><circle cx="1181.39" cy="2186.56" r="3"/><circle cx="1251.36" cy="2256.2" r="3"/><circle cx="1137.69" cy="2204.16" r="3"/><circle cx="1135.26" cy="2223.78" r="3"/><circle cx="1189" cy="2214.77" r="3"/><circle cx="1173.77" cy="2222.73" r="3"/><circle cx="1117.62" cy="2202.02" r="3"/><circle cx="1115.57" cy="2223.04" r="3"/><circle cx="1132.5" cy="2240.29" r="3"/><circle cx="1196.25" cy="2211.68" r="3"/><circle cx="1178.48" cy="2202.9" r="3"/><circle cx="1122.87" cy="2187.15" r="3"/><circle cx="1136.62" cy="2205.8" r="3"/><circle cx="1183.09" cy="2231.2" r="3"/><circle cx="1166.26" cy="2183.9" r="3"/><circle cx="1179.7" cy="2208.12" r="3"/><circle cx="1136.8" cy="2190.56" r="3"/><circle cx="1160.48" cy="2207.13" r="3"/><circle cx="1168.34" cy="2200.83" r="3"/><circle cx="1307.13" cy="2283.87" r="3"/><circle cx="1140.77" cy="2187.74" r="3"/><circle cx="1205.79" cy="2235.34" r="3"/><circle cx="1130.91" cy="2224.6" r="3"/><circle cx="1115.12" cy="2331.35" r="3"/><circle cx="1121.49" cy="2331.35" r="3"/><circle cx="1144.85" cy="2349.9" r="3"/><circle cx="1321.05" cy="2194.59" r="3"/><circle cx="1344.41" cy="2294.26" r="3"/><circle cx="1301.95" cy="2377.71" r="3"/><circle cx="1289.21" cy="2359.17" r="3"/><circle cx="1327.42" cy="2354.53" r="3"/>
</g>
<polyline fill="none" stroke="#000" stroke-width="4" stroke-linejoin="round" points="1112,2209.6 1120.6,2208.2 1129.2,2213.9 1136,2216 1143.5,2219.7 1152.1,2216.8 1163.6,2212.5 1175,2211.1 1183.7,2216.8 1192.3,2226.9 1200.9,2229.7 1209.5,2232.6 1218.1,2238.3 1223.8,2249.8 1229.6,2255.5 1238.2,2261.3 1243.9,2278.5 1252.5,2284.2 1261.1,2290 1342.9,2290"/>
<rect x="1101.3" y="2172" width="253.1" height="254" fill="none" stroke="#B3B3B3" stroke-width="1.8"/>
<line x1="1091.2" y1="2183" x2="1101.3" y2="2183" stroke="#B3B3B3" stroke-width="1.6"/>
<text x="1081.2" y="2191.3" text-anchor="end" fill="#4D4D4D" font-size="23.5">1.00</text>
<line x1="1091.2" y1="2240.95" x2="1101.3" y2="2240.95" stroke="#B3B3B3" stroke-width="1.6"/>
<text x="1081.2" y="2249.25" text-anchor="end" fill="#4D4D4D" font-size="23.5">0.75</text>
<line x1="1091.2" y1="2298.9" x2="1101.3" y2="2298.9" stroke="#B3B3B3" stroke-width="1.6"/>
<text x="1081.2" y="2307.2" text-anchor="end" fill="#4D4D4D" font-size="23.5">0.50</text>
<line x1="1091.2" y1="2356.85" x2="1101.3" y2="2356.85" stroke="#B3B3B3" stroke-width="1.6"/>
<text x="1081.2" y="2365.15" text-anchor="end" fill="#4D4D4D" font-size="23.5">0.25</text>
<line x1="1091.2" y1="2414.8" x2="1101.3" y2="2414.8" stroke="#B3B3B3" stroke-width="1.6"/>
<text x="1081.2" y="2423.1" text-anchor="end" fill="#4D4D4D" font-size="23.5">0.00</text>
<line x1="1140.6" y1="2426" x2="1140.6" y2="2435" stroke="#B3B3B3" stroke-width="1.6"/>
<text x="1140.6" y="2460.7" text-anchor="middle" fill="#4D4D4D" font-size="23.5">6</text>
<line x1="1183.06" y1="2426" x2="1183.06" y2="2435" stroke="#B3B3B3" stroke-width="1.6"/>
<text x="1183.06" y="2460.7" text-anchor="middle" fill="#4D4D4D" font-size="23.5">7</text>
<line x1="1225.52" y1="2426" x2="1225.52" y2="2435" stroke="#B3B3B3" stroke-width="1.6"/>
<text x="1225.52" y="2460.7" text-anchor="middle" fill="#4D4D4D" font-size="23.5">8</text>
<line x1="1267.98" y1="2426" x2="1267.98" y2="2435" stroke="#B3B3B3" stroke-width="1.6"/>
<text x="1267.98" y="2460.7" text-anchor="middle" fill="#4D4D4D" font-size="23.5">9</text>
<line x1="1310.44" y1="2426" x2="1310.44" y2="2435" stroke="#B3B3B3" stroke-width="1.6"/>
<text x="1310.44" y="2460.7" text-anchor="middle" fill="#4D4D4D" font-size="23.5">10</text>
<line x1="1352.9" y1="2426" x2="1352.9" y2="2435" stroke="#B3B3B3" stroke-width="1.6"/>
<text x="1352.9" y="2460.7" text-anchor="middle" fill="#4D4D4D" font-size="23.5">11</text>
<text transform="translate(1023 2298.6) rotate(-90)" text-anchor="middle" font-size="24" textLength="167" lengthAdjust="spacingAndGlyphs">Avg. methylation</text>
<text x="1228.1" y="2490.8" text-anchor="middle" font-size="24" textLength="170" lengthAdjust="spacingAndGlyphs">Gene expression</text>
<line x1="1045.4" y1="2081.6" x2="1355.8" y2="2081.6" stroke="#000" stroke-width="3.2"/>
<path d="M1061.9 2063.2h1.05v16.5h-1.05zM1074.9 2063.2h1.05v16.5h-1.05zM1086.9 2063.2h1.05v16.5h-1.05zM1093.9 2063.2h1.05v16.5h-1.05zM1094.9 2063.2h1.05v16.5h-1.05zM1128.9 2063.2h1.05v16.5h-1.05zM1132.9 2063.2h1.05v16.5h-1.05zM1146.9 2063.2h1.05v16.5h-1.05zM1150.9 2063.2h1.05v16.5h-1.05zM1192.9 2063.2h1.05v16.5h-1.05zM1212.9 2063.2h1.05v16.5h-1.05zM1214.9 2063.2h1.05v16.5h-1.05zM1222.9 2063.2h1.05v16.5h-1.05zM1233.9 2063.2h1.05v16.5h-1.05zM1243.9 2063.2h1.05v16.5h-1.05zM1259.9 2063.2h1.05v16.5h-1.05zM1286.9 2063.2h1.05v16.5h-1.05zM1299.9 2063.2h1.05v16.5h-1.05zM1303.9 2063.2h1.05v16.5h-1.05z" fill="#F2F2F2"/>
<path d="M1077.9 2063.2h1.05v16.5h-1.05zM1078.9 2063.2h1.05v16.5h-1.05zM1082.9 2063.2h1.05v16.5h-1.05zM1091.9 2063.2h1.05v16.5h-1.05zM1092.9 2063.2h1.05v16.5h-1.05zM1101.9 2063.2h1.05v16.5h-1.05zM1102.9 2063.2h1.05v16.5h-1.05zM1103.9 2063.2h1.05v16.5h-1.05zM1104.9 2063.2h1.05v16.5h-1.05zM1106.9 2063.2h1.05v16.5h-1.05zM1116.9 2063.2h1.05v16.5h-1.05zM1145.9 2063.2h1.05v16.5h-1.05zM1147.9 2063.2h1.05v16.5h-1.05zM1148.9 2063.2h1.05v16.5h-1.05zM1149.9 2063.2h1.05v16.5h-1.05zM1180.9 2063.2h1.05v16.5h-1.05zM1181.9 2063.2h1.05v16.5h-1.05zM1187.9 2063.2h1.05v16.5h-1.05zM1197.9 2063.2h1.05v16.5h-1.05zM1198.9 2063.2h1.05v16.5h-1.05zM1234.9 2063.2h1.05v16.5h-1.05zM1242.9 2063.2h1.05v16.5h-1.05zM1244.9 2063.2h1.05v16.5h-1.05zM1248.9 2063.2h1.05v16.5h-1.05zM1249.9 2063.2h1.05v16.5h-1.05zM1297.9 2063.2h1.05v16.5h-1.05zM1341.9 2063.2h1.05v16.5h-1.05z" fill="#B0B0B0"/>
<path d="M1060.9 2063.2h1.05v16.5h-1.05zM1062.9 2063.2h1.05v16.5h-1.05zM1063.9 2063.2h1.05v16.5h-1.05zM1064.9 2063.2h1.05v16.5h-1.05zM1065.9 2063.2h1.05v16.5h-1.05zM1066.9 2063.2h1.05v16.5h-1.05zM1067.9 2063.2h1.05v16.5h-1.05zM1068.9 2063.2h1.05v16.5h-1.05zM1073.9 2063.2h1.05v16.5h-1.05zM1075.9 2063.2h1.05v16.5h-1.05zM1079.9 2063.2h1.05v16.5h-1.05zM1083.9 2063.2h1.05v16.5h-1.05zM1085.9 2063.2h1.05v16.5h-1.05zM1087.9 2063.2h1.05v16.5h-1.05zM1090.9 2063.2h1.05v16.5h-1.05zM1095.9 2063.2h1.05v16.5h-1.05zM1097.9 2063.2h1.05v16.5h-1.05zM1098.9 2063.2h1.05v16.5h-1.05zM1100.9 2063.2h1.05v16.5h-1.05zM1105.9 2063.2h1.05v16.5h-1.05zM1107.9 2063.2h1.05v16.5h-1.05zM1114.9 2063.2h1.05v16.5h-1.05zM1115.9 2063.2h1.05v16.5h-1.05zM1117.9 2063.2h1.05v16.5h-1.05zM1124.9 2063.2h1.05v16.5h-1.05zM1125.9 2063.2h1.05v16.5h-1.05zM1136.9 2063.2h1.05v16.5h-1.05zM1137.9 2063.2h1.05v16.5h-1.05zM1138.9 2063.2h1.05v16.5h-1.05zM1141.9 2063.2h1.05v16.5h-1.05zM1151.9 2063.2h1.05v16.5h-1.05zM1152.9 2063.2h1.05v16.5h-1.05zM1155.9 2063.2h1.05v16.5h-1.05zM1156.9 2063.2h1.05v16.5h-1.05zM1159.9 2063.2h1.05v16.5h-1.05zM1160.9 2063.2h1.05v16.5h-1.05zM1164.9 2063.2h1.05v16.5h-1.05zM1165.9 2063.2h1.05v16.5h-1.05zM1168.9 2063.2h1.05v16.5h-1.05zM1169.9 2063.2h1.05v16.5h-1.05zM1179.9 2063.2h1.05v16.5h-1.05zM1182.9 2063.2h1.05v16.5h-1.05zM1186.9 2063.2h1.05v16.5h-1.05zM1193.9 2063.2h1.05v16.5h-1.05zM1194.9 2063.2h1.05v16.5h-1.05zM1196.9 2063.2h1.05v16.5h-1.05zM1199.9 2063.2h1.05v16.5h-1.05zM1210.9 2063.2h1.05v16.5h-1.05zM1211.9 2063.2h1.05v16.5h-1.05zM1215.9 2063.2h1.05v16.5h-1.05zM1218.9 2063.2h1.05v16.5h-1.05zM1219.9 2063.2h1.05v16.5h-1.05zM1220.9 2063.2h1.05v16.5h-1.05zM1221.9 2063.2h1.05v16.5h-1.05zM1224.9 2063.2h1.05v16.5h-1.05zM1226.9 2063.2h1.05v16.5h-1.05zM1229.9 2063.2h1.05v16.5h-1.05zM1230.9 2063.2h1.05v16.5h-1.05zM1231.9 2063.2h1.05v16.5h-1.05zM1232.9 2063.2h1.05v16.5h-1.05zM1235.9 2063.2h1.05v16.5h-1.05zM1240.9 2063.2h1.05v16.5h-1.05zM1241.9 2063.2h1.05v16.5h-1.05zM1247.9 2063.2h1.05v16.5h-1.05zM1250.9 2063.2h1.05v16.5h-1.05zM1257.9 2063.2h1.05v16.5h-1.05zM1258.9 2063.2h1.05v16.5h-1.05zM1267.9 2063.2h1.05v16.5h-1.05zM1268.9 2063.2h1.05v16.5h-1.05zM1277.9 2063.2h1.05v16.5h-1.05zM1278.9 2063.2h1.05v16.5h-1.05zM1279.9 2063.2h1.05v16.5h-1.05zM1280.9 2063.2h1.05v16.5h-1.05zM1284.9 2063.2h1.05v16.5h-1.05zM1285.9 2063.2h1.05v16.5h-1.05zM1295.9 2063.2h1.05v16.5h-1.05zM1296.9 2063.2h1.05v16.5h-1.05zM1298.9 2063.2h1.05v16.5h-1.05zM1309.9 2063.2h1.05v16.5h-1.05zM1310.9 2063.2h1.05v16.5h-1.05zM1311.9 2063.2h1.05v16.5h-1.05zM1312.9 2063.2h1.05v16.5h-1.05zM1313.9 2063.2h1.05v16.5h-1.05zM1314.9 2063.2h1.05v16.5h-1.05zM1315.9 2063.2h1.05v16.5h-1.05zM1324.9 2063.2h1.05v16.5h-1.05zM1327.9 2063.2h1.05v16.5h-1.05zM1335.9 2063.2h1.05v16.5h-1.05zM1336.9 2063.2h1.05v16.5h-1.05zM1337.9 2063.2h1.05v16.5h-1.05z" fill="#808080"/>
<path d="M1058.9 2063.2h1.05v16.5h-1.05zM1072.9 2063.2h1.05v16.5h-1.05zM1076.9 2063.2h1.05v16.5h-1.05zM1081.9 2063.2h1.05v16.5h-1.05zM1084.9 2063.2h1.05v16.5h-1.05zM1096.9 2063.2h1.05v16.5h-1.05zM1099.9 2063.2h1.05v16.5h-1.05zM1113.9 2063.2h1.05v16.5h-1.05zM1121.9 2063.2h1.05v16.5h-1.05zM1122.9 2063.2h1.05v16.5h-1.05zM1123.9 2063.2h1.05v16.5h-1.05zM1126.9 2063.2h1.05v16.5h-1.05zM1129.9 2063.2h1.05v16.5h-1.05zM1135.9 2063.2h1.05v16.5h-1.05zM1139.9 2063.2h1.05v16.5h-1.05zM1140.9 2063.2h1.05v16.5h-1.05zM1142.9 2063.2h1.05v16.5h-1.05zM1144.9 2063.2h1.05v16.5h-1.05zM1153.9 2063.2h1.05v16.5h-1.05zM1154.9 2063.2h1.05v16.5h-1.05zM1163.9 2063.2h1.05v16.5h-1.05zM1166.9 2063.2h1.05v16.5h-1.05zM1167.9 2063.2h1.05v16.5h-1.05zM1170.9 2063.2h1.05v16.5h-1.05zM1171.9 2063.2h1.05v16.5h-1.05zM1172.9 2063.2h1.05v16.5h-1.05zM1173.9 2063.2h1.05v16.5h-1.05zM1175.9 2063.2h1.05v16.5h-1.05zM1176.9 2063.2h1.05v16.5h-1.05zM1177.9 2063.2h1.05v16.5h-1.05zM1178.9 2063.2h1.05v16.5h-1.05zM1183.9 2063.2h1.05v16.5h-1.05zM1184.9 2063.2h1.05v16.5h-1.05zM1185.9 2063.2h1.05v16.5h-1.05zM1188.9 2063.2h1.05v16.5h-1.05zM1191.9 2063.2h1.05v16.5h-1.05zM1195.9 2063.2h1.05v16.5h-1.05zM1202.9 2063.2h1.05v16.5h-1.05zM1203.9 2063.2h1.05v16.5h-1.05zM1205.9 2063.2h1.05v16.5h-1.05zM1207.9 2063.2h1.05v16.5h-1.05zM1208.9 2063.2h1.05v16.5h-1.05zM1209.9 2063.2h1.05v16.5h-1.05zM1213.9 2063.2h1.05v16.5h-1.05zM1216.9 2063.2h1.05v16.5h-1.05zM1217.9 2063.2h1.05v16.5h-1.05zM1223.9 2063.2h1.05v16.5h-1.05zM1225.9 2063.2h1.05v16.5h-1.05zM1227.9 2063.2h1.05v16.5h-1.05zM1245.9 2063.2h1.05v16.5h-1.05zM1246.9 2063.2h1.05v16.5h-1.05zM1251.9 2063.2h1.05v16.5h-1.05zM1252.9 2063.2h1.05v16.5h-1.05zM1253.9 2063.2h1.05v16.5h-1.05zM1256.9 2063.2h1.05v16.5h-1.05zM1260.9 2063.2h1.05v16.5h-1.05zM1265.9 2063.2h1.05v16.5h-1.05zM1266.9 2063.2h1.05v16.5h-1.05zM1269.9 2063.2h1.05v16.5h-1.05zM1270.9 2063.2h1.05v16.5h-1.05zM1271.9 2063.2h1.05v16.5h-1.05zM1272.9 2063.2h1.05v16.5h-1.05zM1273.9 2063.2h1.05v16.5h-1.05zM1276.9 2063.2h1.05v16.5h-1.05zM1281.9 2063.2h1.05v16.5h-1.05zM1283.9 2063.2h1.05v16.5h-1.05zM1287.9 2063.2h1.05v16.5h-1.05zM1290.9 2063.2h1.05v16.5h-1.05zM1294.9 2063.2h1.05v16.5h-1.05zM1308.9 2063.2h1.05v16.5h-1.05zM1323.9 2063.2h1.05v16.5h-1.05zM1325.9 2063.2h1.05v16.5h-1.05zM1326.9 2063.2h1.05v16.5h-1.05zM1328.9 2063.2h1.05v16.5h-1.05zM1329.9 2063.2h1.05v16.5h-1.05zM1334.9 2063.2h1.05v16.5h-1.05zM1338.9 2063.2h1.05v16.5h-1.05zM1339.9 2063.2h1.05v16.5h-1.05zM1340.9 2063.2h1.05v16.5h-1.05z" fill="#505050"/>
<path d="M1059.9 2063.2h1.05v16.5h-1.05zM1069.9 2063.2h1.05v16.5h-1.05zM1071.9 2063.2h1.05v16.5h-1.05zM1080.9 2063.2h1.05v16.5h-1.05zM1088.9 2063.2h1.05v16.5h-1.05zM1089.9 2063.2h1.05v16.5h-1.05zM1108.9 2063.2h1.05v16.5h-1.05zM1112.9 2063.2h1.05v16.5h-1.05zM1118.9 2063.2h1.05v16.5h-1.05zM1119.9 2063.2h1.05v16.5h-1.05zM1120.9 2063.2h1.05v16.5h-1.05zM1127.9 2063.2h1.05v16.5h-1.05zM1130.9 2063.2h1.05v16.5h-1.05zM1131.9 2063.2h1.05v16.5h-1.05zM1133.9 2063.2h1.05v16.5h-1.05zM1134.9 2063.2h1.05v16.5h-1.05zM1143.9 2063.2h1.05v16.5h-1.05zM1157.9 2063.2h1.05v16.5h-1.05zM1158.9 2063.2h1.05v16.5h-1.05zM1161.9 2063.2h1.05v16.5h-1.05zM1162.9 2063.2h1.05v16.5h-1.05zM1174.9 2063.2h1.05v16.5h-1.05zM1189.9 2063.2h1.05v16.5h-1.05zM1190.9 2063.2h1.05v16.5h-1.05zM1200.9 2063.2h1.05v16.5h-1.05zM1201.9 2063.2h1.05v16.5h-1.05zM1204.9 2063.2h1.05v16.5h-1.05zM1206.9 2063.2h1.05v16.5h-1.05zM1228.9 2063.2h1.05v16.5h-1.05zM1236.9 2063.2h1.05v16.5h-1.05zM1239.9 2063.2h1.05v16.5h-1.05zM1254.9 2063.2h1.05v16.5h-1.05zM1255.9 2063.2h1.05v16.5h-1.05zM1261.9 2063.2h1.05v16.5h-1.05zM1262.9 2063.2h1.05v16.5h-1.05zM1264.9 2063.2h1.05v16.5h-1.05zM1274.9 2063.2h1.05v16.5h-1.05zM1275.9 2063.2h1.05v16.5h-1.05zM1282.9 2063.2h1.05v16.5h-1.05zM1288.9 2063.2h1.05v16.5h-1.05zM1289.9 2063.2h1.05v16.5h-1.05zM1291.9 2063.2h1.05v16.5h-1.05zM1292.9 2063.2h1.05v16.5h-1.05zM1293.9 2063.2h1.05v16.5h-1.05zM1307.9 2063.2h1.05v16.5h-1.05zM1316.9 2063.2h1.05v16.5h-1.05zM1317.9 2063.2h1.05v16.5h-1.05zM1318.9 2063.2h1.05v16.5h-1.05zM1319.9 2063.2h1.05v16.5h-1.05zM1320.9 2063.2h1.05v16.5h-1.05zM1321.9 2063.2h1.05v16.5h-1.05zM1322.9 2063.2h1.05v16.5h-1.05zM1330.9 2063.2h1.05v16.5h-1.05zM1331.9 2063.2h1.05v16.5h-1.05zM1332.9 2063.2h1.05v16.5h-1.05zM1333.9 2063.2h1.05v16.5h-1.05z" fill="#262626"/>
<path d="M1070.9 2063.2h1.05v16.5h-1.05zM1109.9 2063.2h1.05v16.5h-1.05zM1110.9 2063.2h1.05v16.5h-1.05zM1111.9 2063.2h1.05v16.5h-1.05zM1237.9 2063.2h1.05v16.5h-1.05zM1238.9 2063.2h1.05v16.5h-1.05zM1263.9 2063.2h1.05v16.5h-1.05zM1300.9 2063.2h1.05v16.5h-1.05zM1301.9 2063.2h1.05v16.5h-1.05zM1302.9 2063.2h1.05v16.5h-1.05zM1304.9 2063.2h1.05v16.5h-1.05zM1305.9 2063.2h1.05v16.5h-1.05zM1306.9 2063.2h1.05v16.5h-1.05z" fill="#000000"/>
<line x1="1059.7" y1="2061" x2="1059.7" y2="2080" stroke="#222" stroke-width="1.6"/>
<line x1="1342.1" y1="2061" x2="1342.1" y2="2080" stroke="#222" stroke-width="1.6"/>
<rect x="1056.2" y="2057.5" width="289.4" height="5.8" fill="#000" rx="2.9"/>
<text x="1096.5" y="2016" font-size="21.5">GATA3</text>
<polyline fill="none" stroke="#0000FF" stroke-width="4" stroke-linejoin="round" points="1129.7,2049.6 1129.7,2024.6 1160.1,2024.6" stroke-linejoin="miter" stroke-linecap="butt"/>
<polyline fill="none" stroke="#0000FF" stroke-width="4" stroke-linejoin="round" points="1150.6,2018.1 1160.1,2024.6 1150.6,2031.1" stroke-linejoin="miter" stroke-linecap="butt"/>
<line x1="1251.9" y1="2007.4" x2="1251.9" y2="2038" stroke="#FF0000" stroke-width="4"/>
<polyline fill="none" stroke="#FF0000" stroke-width="4" stroke-linejoin="round" points="1245.1,2031 1251.9,2041.5 1258.7,2031" stroke-linejoin="miter" stroke-linecap="butt"/>
<text x="1212" y="2146.5" text-anchor="middle" font-size="19.2" textLength="221.5" lengthAdjust="spacingAndGlyphs">chr10 (8088666-8120569)</text>
<text x="1129.2" y="2397.7" font-size="19" font-family="'DejaVu Sans Condensed', 'DejaVu Sans', sans-serif" textLength="71.7" lengthAdjust="spacingAndGlyphs">□□=−0.5</text>
<line x1="1542.4" y1="2385.83" x2="1795.7" y2="2385.83" stroke="#F2F2F2" stroke-width="1.2"/>
<line x1="1542.4" y1="2327.88" x2="1795.7" y2="2327.88" stroke="#F2F2F2" stroke-width="1.2"/>
<line x1="1542.4" y1="2269.93" x2="1795.7" y2="2269.93" stroke="#F2F2F2" stroke-width="1.2"/>
<line x1="1542.4" y1="2211.98" x2="1795.7" y2="2211.98" stroke="#F2F2F2" stroke-width="1.2"/>
<line x1="1547.55" y1="2172" x2="1547.55" y2="2426" stroke="#F2F2F2" stroke-width="1.2"/>
<line x1="1619.25" y1="2172" x2="1619.25" y2="2426" stroke="#F2F2F2" stroke-width="1.2"/>
<line x1="1690.95" y1="2172" x2="1690.95" y2="2426" stroke="#F2F2F2" stroke-width="1.2"/>
<line x1="1762.65" y1="2172" x2="1762.65" y2="2426" stroke="#F2F2F2" stroke-width="1.2"/>
<line x1="1542.4" y1="2414.8" x2="1795.7" y2="2414.8" stroke="#E3E3E3" stroke-width="1.4"/>
<line x1="1542.4" y1="2356.85" x2="1795.7" y2="2356.85" stroke="#E3E3E3" stroke-width="1.4"/>
<line x1="1542.4" y1="2298.9" x2="1795.7" y2="2298.9" stroke="#E3E3E3" stroke-width="1.4"/>
<line x1="1542.4" y1="2240.95" x2="1795.7" y2="2240.95" stroke="#E3E3E3" stroke-width="1.4"/>
<line x1="1542.4" y1="2183" x2="1795.7" y2="2183" stroke="#E3E3E3" stroke-width="1.4"/>
<line x1="1583.4" y1="2172" x2="1583.4" y2="2426" stroke="#E3E3E3" stroke-width="1.4"/>
<line x1="1655.1" y1="2172" x2="1655.1" y2="2426" stroke="#E3E3E3" stroke-width="1.4"/>
<line x1="1726.8" y1="2172" x2="1726.8" y2="2426" stroke="#E3E3E3" stroke-width="1.4"/>
<g fill="#8229D6">
<circle cx="1622.14" cy="2189.05" r="3"/><circle cx="1628.2" cy="2307" r="3"/><circle cx="1582.59" cy="2183" r="3"/><circle cx="1593.71" cy="2212.13" r="3"/><circle cx="1649.02" cy="2183" r="3"/><circle cx="1623.4" cy="2241.57" r="3"/><circle cx="1690.73" cy="2260.33" r="3"/><circle cx="1583.35" cy="2183" r="3"/><circle cx="1596.68" cy="2230.3" r="3"/><circle cx="1705.25" cy="2228.9" r="3"/><circle cx="1595.26" cy="2191.44" r="3"/><circle cx="1584.85" cy="2188.93" r="3"/><circle cx="1586.05" cy="2204.52" r="3"/><circle cx="1612.75" cy="2185.42" r="3"/><circle cx="1712.4" cy="2238.9" r="3"/><circle cx="1609.52" cy="2240.7" r="3"/><circle cx="1710.27" cy="2268.69" r="3"/><circle cx="1625.66" cy="2212.27" r="3"/><circle cx="1683.9" cy="2316.56" r="3"/><circle cx="1586.56" cy="2241.74" r="3"/><circle cx="1617.82" cy="2234.14" r="3"/><circle cx="1706.97" cy="2262" r="3"/><circle cx="1571.55" cy="2186.69" r="3"/><circle cx="1596.25" cy="2215.22" r="3"/><circle cx="1595.77" cy="2219.74" r="3"/><circle cx="1580.49" cy="2183" r="3"/><circle cx="1691.2" cy="2293.7" r="3"/><circle cx="1617.23" cy="2228.01" r="3"/><circle cx="1584.76" cy="2183" r="3"/><circle cx="1627.88" cy="2256.1" r="3"/><circle cx="1714.8" cy="2311.59" r="3"/><circle cx="1588.92" cy="2254.43" r="3"/><circle cx="1609.19" cy="2185.11" r="3"/><circle cx="1600.52" cy="2224.83" r="3"/><circle cx="1617.53" cy="2289.84" r="3"/><circle cx="1589.31" cy="2215.34" r="3"/><circle cx="1594.32" cy="2198.94" r="3"/><circle cx="1612.2" cy="2235.5" r="3"/><circle cx="1614.84" cy="2236.28" r="3"/><circle cx="1595.56" cy="2183" r="3"/><circle cx="1605.78" cy="2222.53" r="3"/><circle cx="1610.83" cy="2187.8" r="3"/><circle cx="1684.09" cy="2224.89" r="3"/><circle cx="1633.51" cy="2191.21" r="3"/><circle cx="1597.66" cy="2184.32" r="3"/><circle cx="1601.53" cy="2183" r="3"/><circle cx="1588.7" cy="2183" r="3"/><circle cx="1677.3" cy="2183" r="3"/><circle cx="1607.3" cy="2183" r="3"/><circle cx="1581.06" cy="2189.5" r="3"/><circle cx="1610.27" cy="2215.16" r="3"/><circle cx="1640.32" cy="2259.76" r="3"/><circle cx="1557.58" cy="2183" r="3"/><circle cx="1580.94" cy="2225.6" r="3"/><circle cx="1587.44" cy="2235.6" r="3"/><circle cx="1607.68" cy="2183" r="3"/><circle cx="1583.88" cy="2183" r="3"/><circle cx="1588.27" cy="2183" r="3"/><circle cx="1637.77" cy="2222.26" r="3"/><circle cx="1599.43" cy="2223.06" r="3"/><circle cx="1612.31" cy="2247.63" r="3"/><circle cx="1606.95" cy="2241.45" r="3"/><circle cx="1595.32" cy="2217.79" r="3"/><circle cx="1608.36" cy="2225.61" r="3"/><circle cx="1593.41" cy="2193.09" r="3"/><circle cx="1625.65" cy="2248.08" r="3"/><circle cx="1612.4" cy="2233.4" r="3"/><circle cx="1579.95" cy="2188.42" r="3"/><circle cx="1611.27" cy="2224.22" r="3"/><circle cx="1657.14" cy="2183" r="3"/><circle cx="1690.6" cy="2302.55" r="3"/><circle cx="1630.46" cy="2192.3" r="3"/><circle cx="1606.93" cy="2183" r="3"/><circle cx="1590.15" cy="2191.92" r="3"/><circle cx="1565.46" cy="2194.03" r="3"/><circle cx="1572.43" cy="2194.31" r="3"/><circle cx="1613.92" cy="2206.86" r="3"/><circle cx="1599.2" cy="2232.68" r="3"/><circle cx="1658.66" cy="2235.03" r="3"/><circle cx="1620.87" cy="2232.17" r="3"/><circle cx="1597.38" cy="2183" r="3"/><circle cx="1590.6" cy="2228.07" r="3"/><circle cx="1590.67" cy="2201.88" r="3"/><circle cx="1589.14" cy="2190.62" r="3"/><circle cx="1633.05" cy="2216.13" r="3"/><circle cx="1583.19" cy="2204.56" r="3"/><circle cx="1600.4" cy="2190.13" r="3"/><circle cx="1643.75" cy="2218.39" r="3"/><circle cx="1597.3" cy="2183" r="3"/><circle cx="1603.76" cy="2186.06" r="3"/><circle cx="1599.06" cy="2202.83" r="3"/><circle cx="1598.62" cy="2193.39" r="3"/><circle cx="1583.61" cy="2183" r="3"/><circle cx="1590.29" cy="2188.83" r="3"/><circle cx="1580.09" cy="2195.43" r="3"/><circle cx="1582.28" cy="2198.45" r="3"/><circle cx="1579.89" cy="2183" r="3"/><circle cx="1598.96" cy="2199.65" r="3"/><circle cx="1581.73" cy="2193.61" r="3"/><circle cx="1649.69" cy="2183" r="3"/><circle cx="1625.15" cy="2251.67" r="3"/><circle cx="1689.32" cy="2193.11" r="3"/><circle cx="1642.82" cy="2327.39" r="3"/><circle cx="1586.41" cy="2183" r="3"/><circle cx="1590.18" cy="2225.14" r="3"/><circle cx="1650.22" cy="2255.83" r="3"/><circle cx="1588.64" cy="2191.19" r="3"/><circle cx="1581.61" cy="2223.54" r="3"/><circle cx="1596.48" cy="2231.76" r="3"/><circle cx="1665.84" cy="2248.88" r="3"/><circle cx="1581.8" cy="2205.84" r="3"/><circle cx="1604.34" cy="2227.99" r="3"/><circle cx="1596.14" cy="2201.88" r="3"/><circle cx="1587.86" cy="2250.96" r="3"/><circle cx="1572.53" cy="2183" r="3"/><circle cx="1595.87" cy="2221.72" r="3"/><circle cx="1626.27" cy="2247.83" r="3"/><circle cx="1599.45" cy="2183" r="3"/><circle cx="1684.28" cy="2183" r="3"/><circle cx="1627.14" cy="2234.69" r="3"/><circle cx="1582.74" cy="2219.64" r="3"/><circle cx="1693.41" cy="2239.97" r="3"/><circle cx="1588.03" cy="2231.04" r="3"/><circle cx="1590.77" cy="2218.25" r="3"/><circle cx="1589.4" cy="2183" r="3"/><circle cx="1603.01" cy="2244.03" r="3"/><circle cx="1559.15" cy="2201.27" r="3"/><circle cx="1620.14" cy="2197.19" r="3"/><circle cx="1617.79" cy="2199.86" r="3"/><circle cx="1609.68" cy="2207.54" r="3"/><circle cx="1589.35" cy="2203.89" r="3"/><circle cx="1612.56" cy="2201.77" r="3"/><circle cx="1552.79" cy="2196.33" r="3"/><circle cx="1601.18" cy="2183" r="3"/><circle cx="1645.53" cy="2268.37" r="3"/><circle cx="1599.05" cy="2203.33" r="3"/><circle cx="1701.84" cy="2277.88" r="3"/><circle cx="1633.37" cy="2279.55" r="3"/><circle cx="1601.6" cy="2184.81" r="3"/><circle cx="1600.21" cy="2214.59" r="3"/><circle cx="1583.48" cy="2183" r="3"/><circle cx="1561.29" cy="2202.58" r="3"/><circle cx="1605.57" cy="2248.63" r="3"/><circle cx="1597.56" cy="2183" r="3"/><circle cx="1657.32" cy="2234.01" r="3"/><circle cx="1594.1" cy="2192.67" r="3"/><circle cx="1615.38" cy="2224.42" r="3"/><circle cx="1584.37" cy="2183" r="3"/><circle cx="1605.65" cy="2183" r="3"/><circle cx="1585.54" cy="2244.99" r="3"/><circle cx="1619.89" cy="2183" r="3"/><circle cx="1634.76" cy="2251.4" r="3"/><circle cx="1594.12" cy="2196.32" r="3"/><circle cx="1623.26" cy="2230.06" r="3"/><circle cx="1681.36" cy="2311.46" r="3"/><circle cx="1593.69" cy="2234.32" r="3"/><circle cx="1586.83" cy="2184.69" r="3"/><circle cx="1614.46" cy="2256.42" r="3"/><circle cx="1564.78" cy="2190.21" r="3"/><circle cx="1580.02" cy="2228.93" r="3"/><circle cx="1589.89" cy="2211.82" r="3"/><circle cx="1586.05" cy="2183" r="3"/><circle cx="1591.79" cy="2202.06" r="3"/><circle cx="1686.09" cy="2220.26" r="3"/><circle cx="1588.23" cy="2215.31" r="3"/><circle cx="1606.31" cy="2195.75" r="3"/><circle cx="1664.95" cy="2372.26" r="3"/><circle cx="1628.76" cy="2296" r="3"/><circle cx="1591.43" cy="2190.28" r="3"/><circle cx="1630.69" cy="2284.18" r="3"/><circle cx="1554.42" cy="2183" r="3"/><circle cx="1555.88" cy="2183" r="3"/><circle cx="1558.29" cy="2183" r="3"/><circle cx="1559.56" cy="2183" r="3"/><circle cx="1562.59" cy="2183" r="3"/><circle cx="1563.57" cy="2183" r="3"/><circle cx="1566.05" cy="2183" r="3"/><circle cx="1569.16" cy="2183" r="3"/><circle cx="1570.19" cy="2183" r="3"/><circle cx="1572.24" cy="2183" r="3"/><circle cx="1574.17" cy="2183" r="3"/><circle cx="1576.52" cy="2183" r="3"/><circle cx="1578.55" cy="2183" r="3"/><circle cx="1580.71" cy="2183" r="3"/><circle cx="1582.8" cy="2183" r="3"/><circle cx="1585.31" cy="2183" r="3"/><circle cx="1587.09" cy="2183" r="3"/><circle cx="1588.71" cy="2183" r="3"/><circle cx="1592.31" cy="2183" r="3"/><circle cx="1593.17" cy="2183" r="3"/><circle cx="1595.42" cy="2183" r="3"/><circle cx="1598" cy="2183" r="3"/><circle cx="1600.14" cy="2183" r="3"/><circle cx="1601.86" cy="2183" r="3"/><circle cx="1604.91" cy="2183" r="3"/><circle cx="1610.29" cy="2183" r="3"/><circle cx="1622.84" cy="2183" r="3"/><circle cx="1624.63" cy="2183" r="3"/><circle cx="1651.52" cy="2183" r="3"/><circle cx="1784.16" cy="2183" r="3"/><circle cx="1698.12" cy="2183" r="3"/><circle cx="1689.16" cy="2183" r="3"/><circle cx="1730.38" cy="2252.54" r="3"/><circle cx="1746.52" cy="2268.77" r="3"/><circle cx="1719.63" cy="2296.58" r="3"/><circle cx="1567.27" cy="2319.76" r="3"/><circle cx="1583.4" cy="2324.4" r="3"/><circle cx="1576.23" cy="2333.67" r="3"/><circle cx="1656.89" cy="2345.26" r="3"/><circle cx="1655.1" cy="2349.9" r="3"/><circle cx="1681.99" cy="2373.08" r="3"/><circle cx="1696.33" cy="2373.08" r="3"/><circle cx="1696.33" cy="2391.62" r="3"/><circle cx="1655.1" cy="2414.8" r="3"/><circle cx="1699.91" cy="2333.67" r="3"/>
</g>
<polyline fill="none" stroke="#000" stroke-width="4" stroke-linejoin="round" points="1553.3,2201 1560.5,2199.6 1569.1,2197.6 1577.7,2194.7 1583.4,2199.6 1594.9,2201 1603.5,2206.8 1609.2,2215.4 1612.1,2232.6 1620.7,2238.3 1626.5,2252.7 1637.9,2252.7 1643.7,2265.6 1652.3,2264.2 1784.2,2264.7"/>
<rect x="1542.4" y="2172" width="253.3" height="254" fill="none" stroke="#B3B3B3" stroke-width="1.8"/>
<line x1="1532" y1="2183" x2="1542.4" y2="2183" stroke="#B3B3B3" stroke-width="1.6"/>
<text x="1522" y="2191.3" text-anchor="end" fill="#4D4D4D" font-size="23.5">1.00</text>
<line x1="1532" y1="2240.95" x2="1542.4" y2="2240.95" stroke="#B3B3B3" stroke-width="1.6"/>
<text x="1522" y="2249.25" text-anchor="end" fill="#4D4D4D" font-size="23.5">0.75</text>
<line x1="1532" y1="2298.9" x2="1542.4" y2="2298.9" stroke="#B3B3B3" stroke-width="1.6"/>
<text x="1522" y="2307.2" text-anchor="end" fill="#4D4D4D" font-size="23.5">0.50</text>
<line x1="1532" y1="2356.85" x2="1542.4" y2="2356.85" stroke="#B3B3B3" stroke-width="1.6"/>
<text x="1522" y="2365.15" text-anchor="end" fill="#4D4D4D" font-size="23.5">0.25</text>
<line x1="1532" y1="2414.8" x2="1542.4" y2="2414.8" stroke="#B3B3B3" stroke-width="1.6"/>
<text x="1522" y="2423.1" text-anchor="end" fill="#4D4D4D" font-size="23.5">0.00</text>
<line x1="1583.4" y1="2426" x2="1583.4" y2="2435" stroke="#B3B3B3" stroke-width="1.6"/>
<text x="1583.4" y="2460.7" text-anchor="middle" fill="#4D4D4D" font-size="23.5">6</text>
<line x1="1655.1" y1="2426" x2="1655.1" y2="2435" stroke="#B3B3B3" stroke-width="1.6"/>
<text x="1655.1" y="2460.7" text-anchor="middle" fill="#4D4D4D" font-size="23.5">8</text>
<line x1="1726.8" y1="2426" x2="1726.8" y2="2435" stroke="#B3B3B3" stroke-width="1.6"/>
<text x="1726.8" y="2460.7" text-anchor="middle" fill="#4D4D4D" font-size="23.5">10</text>
<text transform="translate(1463 2298.6) rotate(-90)" text-anchor="middle" font-size="24" textLength="167" lengthAdjust="spacingAndGlyphs">Avg. methylation</text>
<text x="1668" y="2490.8" text-anchor="middle" font-size="24" textLength="170" lengthAdjust="spacingAndGlyphs">Gene expression</text>
<line x1="1486.8" y1="2081.6" x2="1796.6" y2="2081.6" stroke="#000" stroke-width="3.2"/>
<path d="M1511.22 2063.2h1.05v16.5h-1.05zM1519.24 2063.2h1.05v16.5h-1.05zM1563.34 2063.2h1.05v16.5h-1.05zM1564.34 2063.2h1.05v16.5h-1.05zM1621.47 2063.2h1.05v16.5h-1.05zM1649.53 2063.2h1.05v16.5h-1.05zM1675.59 2063.2h1.05v16.5h-1.05zM1678.59 2063.2h1.05v16.5h-1.05zM1679.59 2063.2h1.05v16.5h-1.05zM1685.61 2063.2h1.05v16.5h-1.05zM1688.61 2063.2h1.05v16.5h-1.05zM1693.63 2063.2h1.05v16.5h-1.05zM1700.64 2063.2h1.05v16.5h-1.05zM1702.65 2063.2h1.05v16.5h-1.05zM1703.65 2063.2h1.05v16.5h-1.05zM1705.65 2063.2h1.05v16.5h-1.05zM1720.69 2063.2h1.05v16.5h-1.05zM1745.74 2063.2h1.05v16.5h-1.05zM1746.74 2063.2h1.05v16.5h-1.05zM1758.77 2063.2h1.05v16.5h-1.05zM1769.79 2063.2h1.05v16.5h-1.05z" fill="#F2F2F2"/>
<path d="M1505.21 2063.2h1.05v16.5h-1.05zM1533.27 2063.2h1.05v16.5h-1.05zM1534.28 2063.2h1.05v16.5h-1.05zM1580.38 2063.2h1.05v16.5h-1.05zM1581.38 2063.2h1.05v16.5h-1.05zM1582.38 2063.2h1.05v16.5h-1.05zM1583.38 2063.2h1.05v16.5h-1.05zM1612.45 2063.2h1.05v16.5h-1.05zM1613.45 2063.2h1.05v16.5h-1.05zM1632.49 2063.2h1.05v16.5h-1.05zM1633.49 2063.2h1.05v16.5h-1.05zM1639.51 2063.2h1.05v16.5h-1.05zM1640.51 2063.2h1.05v16.5h-1.05zM1641.51 2063.2h1.05v16.5h-1.05zM1642.51 2063.2h1.05v16.5h-1.05zM1662.56 2063.2h1.05v16.5h-1.05zM1663.56 2063.2h1.05v16.5h-1.05zM1668.57 2063.2h1.05v16.5h-1.05zM1669.57 2063.2h1.05v16.5h-1.05zM1686.61 2063.2h1.05v16.5h-1.05zM1689.62 2063.2h1.05v16.5h-1.05zM1690.62 2063.2h1.05v16.5h-1.05zM1699.64 2063.2h1.05v16.5h-1.05zM1706.65 2063.2h1.05v16.5h-1.05zM1713.67 2063.2h1.05v16.5h-1.05zM1722.69 2063.2h1.05v16.5h-1.05zM1723.69 2063.2h1.05v16.5h-1.05zM1735.72 2063.2h1.05v16.5h-1.05zM1736.72 2063.2h1.05v16.5h-1.05zM1771.8 2063.2h1.05v16.5h-1.05z" fill="#B0B0B0"/>
<path d="M1500.2 2063.2h1.05v16.5h-1.05zM1502.2 2063.2h1.05v16.5h-1.05zM1504.21 2063.2h1.05v16.5h-1.05zM1506.21 2063.2h1.05v16.5h-1.05zM1509.22 2063.2h1.05v16.5h-1.05zM1514.23 2063.2h1.05v16.5h-1.05zM1515.23 2063.2h1.05v16.5h-1.05zM1520.24 2063.2h1.05v16.5h-1.05zM1521.25 2063.2h1.05v16.5h-1.05zM1522.25 2063.2h1.05v16.5h-1.05zM1523.25 2063.2h1.05v16.5h-1.05zM1529.26 2063.2h1.05v16.5h-1.05zM1530.27 2063.2h1.05v16.5h-1.05zM1532.27 2063.2h1.05v16.5h-1.05zM1540.29 2063.2h1.05v16.5h-1.05zM1541.29 2063.2h1.05v16.5h-1.05zM1542.29 2063.2h1.05v16.5h-1.05zM1543.29 2063.2h1.05v16.5h-1.05zM1551.31 2063.2h1.05v16.5h-1.05zM1552.31 2063.2h1.05v16.5h-1.05zM1553.32 2063.2h1.05v16.5h-1.05zM1554.32 2063.2h1.05v16.5h-1.05zM1555.32 2063.2h1.05v16.5h-1.05zM1556.32 2063.2h1.05v16.5h-1.05zM1565.34 2063.2h1.05v16.5h-1.05zM1576.37 2063.2h1.05v16.5h-1.05zM1579.37 2063.2h1.05v16.5h-1.05zM1584.39 2063.2h1.05v16.5h-1.05zM1586.39 2063.2h1.05v16.5h-1.05zM1587.39 2063.2h1.05v16.5h-1.05zM1596.41 2063.2h1.05v16.5h-1.05zM1597.41 2063.2h1.05v16.5h-1.05zM1598.42 2063.2h1.05v16.5h-1.05zM1606.43 2063.2h1.05v16.5h-1.05zM1607.44 2063.2h1.05v16.5h-1.05zM1614.45 2063.2h1.05v16.5h-1.05zM1622.47 2063.2h1.05v16.5h-1.05zM1623.47 2063.2h1.05v16.5h-1.05zM1628.48 2063.2h1.05v16.5h-1.05zM1629.48 2063.2h1.05v16.5h-1.05zM1631.49 2063.2h1.05v16.5h-1.05zM1638.5 2063.2h1.05v16.5h-1.05zM1643.52 2063.2h1.05v16.5h-1.05zM1644.52 2063.2h1.05v16.5h-1.05zM1645.52 2063.2h1.05v16.5h-1.05zM1658.55 2063.2h1.05v16.5h-1.05zM1664.56 2063.2h1.05v16.5h-1.05zM1665.56 2063.2h1.05v16.5h-1.05zM1666.57 2063.2h1.05v16.5h-1.05zM1667.57 2063.2h1.05v16.5h-1.05zM1670.58 2063.2h1.05v16.5h-1.05zM1682.6 2063.2h1.05v16.5h-1.05zM1683.6 2063.2h1.05v16.5h-1.05zM1684.61 2063.2h1.05v16.5h-1.05zM1687.61 2063.2h1.05v16.5h-1.05zM1694.63 2063.2h1.05v16.5h-1.05zM1695.63 2063.2h1.05v16.5h-1.05zM1698.64 2063.2h1.05v16.5h-1.05zM1704.65 2063.2h1.05v16.5h-1.05zM1711.67 2063.2h1.05v16.5h-1.05zM1712.67 2063.2h1.05v16.5h-1.05zM1714.67 2063.2h1.05v16.5h-1.05zM1717.68 2063.2h1.05v16.5h-1.05zM1721.69 2063.2h1.05v16.5h-1.05zM1724.69 2063.2h1.05v16.5h-1.05zM1728.7 2063.2h1.05v16.5h-1.05zM1734.72 2063.2h1.05v16.5h-1.05zM1737.72 2063.2h1.05v16.5h-1.05zM1738.72 2063.2h1.05v16.5h-1.05zM1747.74 2063.2h1.05v16.5h-1.05zM1748.75 2063.2h1.05v16.5h-1.05zM1749.75 2063.2h1.05v16.5h-1.05zM1753.76 2063.2h1.05v16.5h-1.05zM1754.76 2063.2h1.05v16.5h-1.05zM1756.76 2063.2h1.05v16.5h-1.05zM1760.77 2063.2h1.05v16.5h-1.05z" fill="#808080"/>
<path d="M1501.2 2063.2h1.05v16.5h-1.05zM1503.21 2063.2h1.05v16.5h-1.05zM1507.22 2063.2h1.05v16.5h-1.05zM1508.22 2063.2h1.05v16.5h-1.05zM1510.22 2063.2h1.05v16.5h-1.05zM1512.23 2063.2h1.05v16.5h-1.05zM1513.23 2063.2h1.05v16.5h-1.05zM1516.24 2063.2h1.05v16.5h-1.05zM1524.25 2063.2h1.05v16.5h-1.05zM1526.26 2063.2h1.05v16.5h-1.05zM1527.26 2063.2h1.05v16.5h-1.05zM1528.26 2063.2h1.05v16.5h-1.05zM1531.27 2063.2h1.05v16.5h-1.05zM1538.28 2063.2h1.05v16.5h-1.05zM1539.29 2063.2h1.05v16.5h-1.05zM1544.3 2063.2h1.05v16.5h-1.05zM1545.3 2063.2h1.05v16.5h-1.05zM1546.3 2063.2h1.05v16.5h-1.05zM1550.31 2063.2h1.05v16.5h-1.05zM1557.33 2063.2h1.05v16.5h-1.05zM1562.34 2063.2h1.05v16.5h-1.05zM1566.35 2063.2h1.05v16.5h-1.05zM1567.35 2063.2h1.05v16.5h-1.05zM1568.35 2063.2h1.05v16.5h-1.05zM1575.37 2063.2h1.05v16.5h-1.05zM1577.37 2063.2h1.05v16.5h-1.05zM1585.39 2063.2h1.05v16.5h-1.05zM1588.39 2063.2h1.05v16.5h-1.05zM1589.4 2063.2h1.05v16.5h-1.05zM1590.4 2063.2h1.05v16.5h-1.05zM1591.4 2063.2h1.05v16.5h-1.05zM1592.4 2063.2h1.05v16.5h-1.05zM1593.41 2063.2h1.05v16.5h-1.05zM1599.42 2063.2h1.05v16.5h-1.05zM1605.43 2063.2h1.05v16.5h-1.05zM1608.44 2063.2h1.05v16.5h-1.05zM1609.44 2063.2h1.05v16.5h-1.05zM1611.44 2063.2h1.05v16.5h-1.05zM1617.46 2063.2h1.05v16.5h-1.05zM1618.46 2063.2h1.05v16.5h-1.05zM1619.46 2063.2h1.05v16.5h-1.05zM1624.47 2063.2h1.05v16.5h-1.05zM1630.49 2063.2h1.05v16.5h-1.05zM1634.5 2063.2h1.05v16.5h-1.05zM1637.5 2063.2h1.05v16.5h-1.05zM1646.52 2063.2h1.05v16.5h-1.05zM1651.53 2063.2h1.05v16.5h-1.05zM1652.54 2063.2h1.05v16.5h-1.05zM1655.54 2063.2h1.05v16.5h-1.05zM1656.54 2063.2h1.05v16.5h-1.05zM1657.55 2063.2h1.05v16.5h-1.05zM1659.55 2063.2h1.05v16.5h-1.05zM1660.55 2063.2h1.05v16.5h-1.05zM1661.56 2063.2h1.05v16.5h-1.05zM1677.59 2063.2h1.05v16.5h-1.05zM1680.6 2063.2h1.05v16.5h-1.05zM1691.62 2063.2h1.05v16.5h-1.05zM1696.63 2063.2h1.05v16.5h-1.05zM1697.63 2063.2h1.05v16.5h-1.05zM1701.64 2063.2h1.05v16.5h-1.05zM1707.66 2063.2h1.05v16.5h-1.05zM1708.66 2063.2h1.05v16.5h-1.05zM1718.68 2063.2h1.05v16.5h-1.05zM1719.68 2063.2h1.05v16.5h-1.05zM1727.7 2063.2h1.05v16.5h-1.05zM1729.71 2063.2h1.05v16.5h-1.05zM1741.73 2063.2h1.05v16.5h-1.05zM1742.73 2063.2h1.05v16.5h-1.05zM1750.75 2063.2h1.05v16.5h-1.05zM1752.76 2063.2h1.05v16.5h-1.05zM1755.76 2063.2h1.05v16.5h-1.05zM1757.77 2063.2h1.05v16.5h-1.05zM1759.77 2063.2h1.05v16.5h-1.05zM1761.78 2063.2h1.05v16.5h-1.05zM1763.78 2063.2h1.05v16.5h-1.05zM1764.78 2063.2h1.05v16.5h-1.05zM1765.78 2063.2h1.05v16.5h-1.05zM1766.79 2063.2h1.05v16.5h-1.05zM1767.79 2063.2h1.05v16.5h-1.05zM1768.79 2063.2h1.05v16.5h-1.05zM1770.8 2063.2h1.05v16.5h-1.05z" fill="#505050"/>
<path d="M1517.24 2063.2h1.05v16.5h-1.05zM1518.24 2063.2h1.05v16.5h-1.05zM1525.26 2063.2h1.05v16.5h-1.05zM1535.28 2063.2h1.05v16.5h-1.05zM1537.28 2063.2h1.05v16.5h-1.05zM1547.3 2063.2h1.05v16.5h-1.05zM1548.31 2063.2h1.05v16.5h-1.05zM1549.31 2063.2h1.05v16.5h-1.05zM1558.33 2063.2h1.05v16.5h-1.05zM1559.33 2063.2h1.05v16.5h-1.05zM1560.33 2063.2h1.05v16.5h-1.05zM1561.33 2063.2h1.05v16.5h-1.05zM1571.36 2063.2h1.05v16.5h-1.05zM1572.36 2063.2h1.05v16.5h-1.05zM1573.36 2063.2h1.05v16.5h-1.05zM1574.36 2063.2h1.05v16.5h-1.05zM1578.37 2063.2h1.05v16.5h-1.05zM1594.41 2063.2h1.05v16.5h-1.05zM1595.41 2063.2h1.05v16.5h-1.05zM1600.42 2063.2h1.05v16.5h-1.05zM1601.42 2063.2h1.05v16.5h-1.05zM1602.42 2063.2h1.05v16.5h-1.05zM1603.43 2063.2h1.05v16.5h-1.05zM1604.43 2063.2h1.05v16.5h-1.05zM1610.44 2063.2h1.05v16.5h-1.05zM1615.45 2063.2h1.05v16.5h-1.05zM1616.46 2063.2h1.05v16.5h-1.05zM1620.46 2063.2h1.05v16.5h-1.05zM1625.48 2063.2h1.05v16.5h-1.05zM1626.48 2063.2h1.05v16.5h-1.05zM1627.48 2063.2h1.05v16.5h-1.05zM1635.5 2063.2h1.05v16.5h-1.05zM1636.5 2063.2h1.05v16.5h-1.05zM1647.52 2063.2h1.05v16.5h-1.05zM1650.53 2063.2h1.05v16.5h-1.05zM1653.54 2063.2h1.05v16.5h-1.05zM1654.54 2063.2h1.05v16.5h-1.05zM1671.58 2063.2h1.05v16.5h-1.05zM1674.58 2063.2h1.05v16.5h-1.05zM1676.59 2063.2h1.05v16.5h-1.05zM1681.6 2063.2h1.05v16.5h-1.05zM1692.62 2063.2h1.05v16.5h-1.05zM1709.66 2063.2h1.05v16.5h-1.05zM1710.66 2063.2h1.05v16.5h-1.05zM1715.67 2063.2h1.05v16.5h-1.05zM1716.68 2063.2h1.05v16.5h-1.05zM1725.7 2063.2h1.05v16.5h-1.05zM1726.7 2063.2h1.05v16.5h-1.05zM1730.71 2063.2h1.05v16.5h-1.05zM1731.71 2063.2h1.05v16.5h-1.05zM1733.71 2063.2h1.05v16.5h-1.05zM1739.73 2063.2h1.05v16.5h-1.05zM1740.73 2063.2h1.05v16.5h-1.05zM1743.74 2063.2h1.05v16.5h-1.05zM1744.74 2063.2h1.05v16.5h-1.05zM1751.75 2063.2h1.05v16.5h-1.05zM1762.78 2063.2h1.05v16.5h-1.05z" fill="#262626"/>
<path d="M1536.28 2063.2h1.05v16.5h-1.05zM1569.35 2063.2h1.05v16.5h-1.05zM1570.35 2063.2h1.05v16.5h-1.05zM1648.53 2063.2h1.05v16.5h-1.05zM1672.58 2063.2h1.05v16.5h-1.05zM1673.58 2063.2h1.05v16.5h-1.05zM1732.71 2063.2h1.05v16.5h-1.05z" fill="#000000"/>
<line x1="1501" y1="2061" x2="1501" y2="2080" stroke="#222" stroke-width="1.6"/>
<line x1="1772" y1="2061" x2="1772" y2="2080" stroke="#222" stroke-width="1.6"/>
<rect x="1497.5" y="2057.5" width="278" height="5.8" fill="#000" rx="2.9"/>
<text x="1521.5" y="2016" font-size="21.5">FGFR4</text>
<polyline fill="none" stroke="#0000FF" stroke-width="4" stroke-linejoin="round" points="1555.6,2049.6 1555.6,2024.6 1585.7,2024.6" stroke-linejoin="miter" stroke-linecap="butt"/>
<polyline fill="none" stroke="#0000FF" stroke-width="4" stroke-linejoin="round" points="1576.2,2018.1 1585.7,2024.6 1576.2,2031.1" stroke-linejoin="miter" stroke-linecap="butt"/>
<line x1="1712.5" y1="2007.4" x2="1712.5" y2="2038" stroke="#FF0000" stroke-width="4"/>
<polyline fill="none" stroke="#FF0000" stroke-width="4" stroke-linejoin="round" points="1705.7,2031 1712.5,2041.5 1719.3,2031" stroke-linejoin="miter" stroke-linecap="butt"/>
<text x="1669.3" y="2146.5" text-anchor="middle" font-size="19.2" textLength="254" lengthAdjust="spacingAndGlyphs">chr5 (176505872-176546567)</text>
<text x="1582" y="2397.9" font-size="19" font-family="'DejaVu Sans Condensed', 'DejaVu Sans', sans-serif" textLength="82.3" lengthAdjust="spacingAndGlyphs">□□=−0.39</text>
</svg>
</body></html>
